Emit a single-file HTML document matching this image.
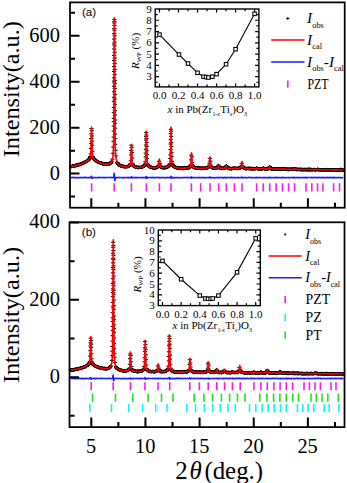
<!DOCTYPE html>
<html><head><meta charset="utf-8"><style>html,body{margin:0;padding:0;background:#fff;overflow:hidden}svg{display:block}</style></head>
<body><svg width="347" height="483" viewBox="0 0 347 483">
<rect width="347" height="483" fill="#fff"/>
<path d="M69.0 166.6h3.6m-1.8-1.4v2.8M69.1 166.8h3.6m-1.8-1.4v2.8M69.2 166.3h3.6m-1.8-1.4v2.8M69.3 166.7h3.6m-1.8-1.4v2.8M69.4 166.4h3.6m-1.8-1.4v2.8M69.5 166.4h3.6m-1.8-1.4v2.8M69.6 166.9h3.6m-1.8-1.4v2.8M69.7 166.5h3.6m-1.8-1.4v2.8M69.8 166.4h3.6m-1.8-1.4v2.8M69.9 166.6h3.6m-1.8-1.4v2.8M70.0 166.6h3.6m-1.8-1.4v2.8M70.1 166.3h3.6m-1.8-1.4v2.8M70.2 166.5h3.6m-1.8-1.4v2.8M70.3 166.1h3.6m-1.8-1.4v2.8M70.4 166.2h3.6m-1.8-1.4v2.8M70.5 166.2h3.6m-1.8-1.4v2.8M70.6 165.9h3.6m-1.8-1.4v2.8M70.7 165.9h3.6m-1.8-1.4v2.8M70.8 165.8h3.6m-1.8-1.4v2.8M70.9 166.1h3.6m-1.8-1.4v2.8M71.0 166.1h3.6m-1.8-1.4v2.8M71.1 166.1h3.6m-1.8-1.4v2.8M71.2 166.2h3.6m-1.8-1.4v2.8M71.3 165.8h3.6m-1.8-1.4v2.8M71.4 166.1h3.6m-1.8-1.4v2.8M71.5 166.2h3.6m-1.8-1.4v2.8M71.6 166.3h3.6m-1.8-1.4v2.8M71.7 165.8h3.6m-1.8-1.4v2.8M71.8 165.9h3.6m-1.8-1.4v2.8M71.9 165.5h3.6m-1.8-1.4v2.8M72.0 165.9h3.6m-1.8-1.4v2.8M72.1 165.4h3.6m-1.8-1.4v2.8M72.2 165.6h3.6m-1.8-1.4v2.8M72.3 166.2h3.6m-1.8-1.4v2.8M72.4 165.4h3.6m-1.8-1.4v2.8M72.5 166.1h3.6m-1.8-1.4v2.8M72.6 166.0h3.6m-1.8-1.4v2.8M72.7 165.8h3.6m-1.8-1.4v2.8M72.8 165.9h3.6m-1.8-1.4v2.8M72.9 165.9h3.6m-1.8-1.4v2.8M73.0 166.0h3.6m-1.8-1.4v2.8M73.1 165.7h3.6m-1.8-1.4v2.8M73.2 165.6h3.6m-1.8-1.4v2.8M73.3 165.6h3.6m-1.8-1.4v2.8M73.4 165.5h3.6m-1.8-1.4v2.8M73.5 165.7h3.6m-1.8-1.4v2.8M73.6 165.5h3.6m-1.8-1.4v2.8M73.7 165.9h3.6m-1.8-1.4v2.8M73.8 165.1h3.6m-1.8-1.4v2.8M73.9 165.3h3.6m-1.8-1.4v2.8M74.0 165.3h3.6m-1.8-1.4v2.8M74.1 165.0h3.6m-1.8-1.4v2.8M74.2 166.0h3.6m-1.8-1.4v2.8M74.3 164.9h3.6m-1.8-1.4v2.8M74.4 165.4h3.6m-1.8-1.4v2.8M74.5 165.3h3.6m-1.8-1.4v2.8M74.6 165.8h3.6m-1.8-1.4v2.8M74.7 164.9h3.6m-1.8-1.4v2.8M74.8 165.6h3.6m-1.8-1.4v2.8M74.9 165.2h3.6m-1.8-1.4v2.8M75.0 165.3h3.6m-1.8-1.4v2.8M75.1 165.1h3.6m-1.8-1.4v2.8M75.2 165.4h3.6m-1.8-1.4v2.8M75.3 164.9h3.6m-1.8-1.4v2.8M75.4 165.2h3.6m-1.8-1.4v2.8M75.5 165.3h3.6m-1.8-1.4v2.8M75.6 165.6h3.6m-1.8-1.4v2.8M75.7 164.5h3.6m-1.8-1.4v2.8M75.8 165.5h3.6m-1.8-1.4v2.8M75.9 165.3h3.6m-1.8-1.4v2.8M76.0 164.9h3.6m-1.8-1.4v2.8M76.1 165.1h3.6m-1.8-1.4v2.8M76.2 164.9h3.6m-1.8-1.4v2.8M76.3 165.4h3.6m-1.8-1.4v2.8M76.4 165.0h3.6m-1.8-1.4v2.8M76.5 164.8h3.6m-1.8-1.4v2.8M76.6 164.8h3.6m-1.8-1.4v2.8M76.7 164.8h3.6m-1.8-1.4v2.8M76.8 164.8h3.6m-1.8-1.4v2.8M76.9 164.6h3.6m-1.8-1.4v2.8M77.0 165.3h3.6m-1.8-1.4v2.8M77.1 164.2h3.6m-1.8-1.4v2.8M77.2 163.8h3.6m-1.8-1.4v2.8M77.3 164.6h3.6m-1.8-1.4v2.8M77.4 164.6h3.6m-1.8-1.4v2.8M77.5 164.7h3.6m-1.8-1.4v2.8M77.6 164.5h3.6m-1.8-1.4v2.8M77.7 164.5h3.6m-1.8-1.4v2.8M77.8 164.6h3.6m-1.8-1.4v2.8M77.9 164.7h3.6m-1.8-1.4v2.8M78.0 164.3h3.6m-1.8-1.4v2.8M78.1 164.3h3.6m-1.8-1.4v2.8M78.2 164.8h3.6m-1.8-1.4v2.8M78.3 164.5h3.6m-1.8-1.4v2.8M78.4 164.0h3.6m-1.8-1.4v2.8M78.5 164.8h3.6m-1.8-1.4v2.8M78.6 164.4h3.6m-1.8-1.4v2.8M78.7 164.0h3.6m-1.8-1.4v2.8M78.8 163.9h3.6m-1.8-1.4v2.8M78.9 164.2h3.6m-1.8-1.4v2.8M79.0 163.9h3.6m-1.8-1.4v2.8M79.1 163.8h3.6m-1.8-1.4v2.8M79.2 163.7h3.6m-1.8-1.4v2.8M79.3 163.8h3.6m-1.8-1.4v2.8M79.4 164.2h3.6m-1.8-1.4v2.8M79.5 163.8h3.6m-1.8-1.4v2.8M79.6 163.5h3.6m-1.8-1.4v2.8M79.7 164.0h3.6m-1.8-1.4v2.8M79.8 163.8h3.6m-1.8-1.4v2.8M79.9 163.9h3.6m-1.8-1.4v2.8M80.0 164.0h3.6m-1.8-1.4v2.8M80.1 163.6h3.6m-1.8-1.4v2.8M80.2 163.6h3.6m-1.8-1.4v2.8M80.3 163.6h3.6m-1.8-1.4v2.8M80.4 163.3h3.6m-1.8-1.4v2.8M80.5 163.7h3.6m-1.8-1.4v2.8M80.6 163.8h3.6m-1.8-1.4v2.8M80.7 163.5h3.6m-1.8-1.4v2.8M80.8 163.3h3.6m-1.8-1.4v2.8M80.9 163.3h3.6m-1.8-1.4v2.8M81.0 163.1h3.6m-1.8-1.4v2.8M81.1 163.0h3.6m-1.8-1.4v2.8M81.2 163.1h3.6m-1.8-1.4v2.8M81.3 162.9h3.6m-1.8-1.4v2.8M81.4 163.0h3.6m-1.8-1.4v2.8M81.5 162.7h3.6m-1.8-1.4v2.8M81.6 163.1h3.6m-1.8-1.4v2.8M81.7 163.0h3.6m-1.8-1.4v2.8M81.8 162.6h3.6m-1.8-1.4v2.8M81.9 162.3h3.6m-1.8-1.4v2.8M82.0 162.8h3.6m-1.8-1.4v2.8M82.1 163.1h3.6m-1.8-1.4v2.8M82.2 162.5h3.6m-1.8-1.4v2.8M82.3 162.6h3.6m-1.8-1.4v2.8M82.4 162.5h3.6m-1.8-1.4v2.8M82.5 162.7h3.6m-1.8-1.4v2.8M82.6 162.3h3.6m-1.8-1.4v2.8M82.7 162.7h3.6m-1.8-1.4v2.8M82.8 162.4h3.6m-1.8-1.4v2.8M82.9 162.6h3.6m-1.8-1.4v2.8M83.0 162.3h3.6m-1.8-1.4v2.8M83.1 162.2h3.6m-1.8-1.4v2.8M83.2 161.9h3.6m-1.8-1.4v2.8M83.3 162.0h3.6m-1.8-1.4v2.8M83.4 162.0h3.6m-1.8-1.4v2.8M83.5 162.2h3.6m-1.8-1.4v2.8M83.6 162.1h3.6m-1.8-1.4v2.8M83.7 161.8h3.6m-1.8-1.4v2.8M83.8 162.0h3.6m-1.8-1.4v2.8M83.9 162.1h3.6m-1.8-1.4v2.8M84.0 161.7h3.6m-1.8-1.4v2.8M84.1 161.6h3.6m-1.8-1.4v2.8M84.2 161.6h3.6m-1.8-1.4v2.8M84.3 161.8h3.6m-1.8-1.4v2.8M84.4 161.7h3.6m-1.8-1.4v2.8M84.5 161.2h3.6m-1.8-1.4v2.8M84.6 161.5h3.6m-1.8-1.4v2.8M84.7 161.2h3.6m-1.8-1.4v2.8M84.8 161.1h3.6m-1.8-1.4v2.8M84.9 161.5h3.6m-1.8-1.4v2.8M85.0 161.4h3.6m-1.8-1.4v2.8M85.1 160.9h3.6m-1.8-1.4v2.8M85.2 161.0h3.6m-1.8-1.4v2.8M85.3 161.1h3.6m-1.8-1.4v2.8M85.4 160.7h3.6m-1.8-1.4v2.8M85.5 160.8h3.6m-1.8-1.4v2.8M85.6 160.9h3.6m-1.8-1.4v2.8M85.7 160.2h3.6m-1.8-1.4v2.8M85.8 160.7h3.6m-1.8-1.4v2.8M85.9 160.7h3.6m-1.8-1.4v2.8M86.0 160.6h3.6m-1.8-1.4v2.8M86.1 160.0h3.6m-1.8-1.4v2.8M86.2 160.4h3.6m-1.8-1.4v2.8M86.3 160.0h3.6m-1.8-1.4v2.8M86.4 160.3h3.6m-1.8-1.4v2.8M86.5 160.2h3.6m-1.8-1.4v2.8M86.6 160.0h3.6m-1.8-1.4v2.8M86.7 159.7h3.6m-1.8-1.4v2.8M86.8 159.6h3.6m-1.8-1.4v2.8M86.9 159.9h3.6m-1.8-1.4v2.8M87.0 159.3h3.6m-1.8-1.4v2.8M87.1 159.6h3.6m-1.8-1.4v2.8M87.2 159.5h3.6m-1.8-1.4v2.8M87.3 159.2h3.6m-1.8-1.4v2.8M87.4 159.7h3.6m-1.8-1.4v2.8M87.5 159.0h3.6m-1.8-1.4v2.8M87.6 159.4h3.6m-1.8-1.4v2.8M87.7 158.2h3.6m-1.8-1.4v2.8M87.8 158.0h3.6m-1.8-1.4v2.8M87.9 158.6h3.6m-1.8-1.4v2.8M88.0 158.3h3.6m-1.8-1.4v2.8M88.1 157.9h3.6m-1.8-1.4v2.8M88.2 157.7h3.6m-1.8-1.4v2.8M88.3 157.0h3.6m-1.8-1.4v2.8M88.4 157.1h3.6m-1.8-1.4v2.8M88.5 156.6h3.6m-1.8-1.4v2.8M88.6 156.5h3.6m-1.8-1.4v2.8M91.0 156.7h3.6m-1.8-1.4v2.8M91.1 156.9h3.6m-1.8-1.4v2.8M91.2 157.3h3.6m-1.8-1.4v2.8M91.3 157.3h3.6m-1.8-1.4v2.8M91.4 157.6h3.6m-1.8-1.4v2.8M91.5 158.0h3.6m-1.8-1.4v2.8M91.6 158.1h3.6m-1.8-1.4v2.8M91.7 158.6h3.6m-1.8-1.4v2.8M91.8 158.3h3.6m-1.8-1.4v2.8M91.9 159.1h3.6m-1.8-1.4v2.8M92.0 158.5h3.6m-1.8-1.4v2.8M92.1 159.2h3.6m-1.8-1.4v2.8M92.2 158.8h3.6m-1.8-1.4v2.8M92.3 159.5h3.6m-1.8-1.4v2.8M92.4 159.3h3.6m-1.8-1.4v2.8M92.5 159.5h3.6m-1.8-1.4v2.8M92.6 159.6h3.6m-1.8-1.4v2.8M92.7 159.4h3.6m-1.8-1.4v2.8M92.8 159.4h3.6m-1.8-1.4v2.8M92.9 159.2h3.6m-1.8-1.4v2.8M93.0 160.1h3.6m-1.8-1.4v2.8M93.1 159.7h3.6m-1.8-1.4v2.8M93.2 159.9h3.6m-1.8-1.4v2.8M93.3 160.1h3.6m-1.8-1.4v2.8M93.4 160.7h3.6m-1.8-1.4v2.8M93.5 159.8h3.6m-1.8-1.4v2.8M93.6 160.4h3.6m-1.8-1.4v2.8M93.7 160.3h3.6m-1.8-1.4v2.8M93.8 160.6h3.6m-1.8-1.4v2.8M93.9 160.1h3.6m-1.8-1.4v2.8M94.0 160.5h3.6m-1.8-1.4v2.8M94.1 160.9h3.6m-1.8-1.4v2.8M94.2 161.1h3.6m-1.8-1.4v2.8M94.3 161.2h3.6m-1.8-1.4v2.8M94.4 160.7h3.6m-1.8-1.4v2.8M94.5 160.9h3.6m-1.8-1.4v2.8M94.6 161.0h3.6m-1.8-1.4v2.8M94.7 160.7h3.6m-1.8-1.4v2.8M94.8 160.8h3.6m-1.8-1.4v2.8M94.9 161.4h3.6m-1.8-1.4v2.8M95.0 161.3h3.6m-1.8-1.4v2.8M95.1 161.3h3.6m-1.8-1.4v2.8M95.2 161.7h3.6m-1.8-1.4v2.8M95.3 161.2h3.6m-1.8-1.4v2.8M95.4 161.6h3.6m-1.8-1.4v2.8M95.5 161.5h3.6m-1.8-1.4v2.8M95.6 161.6h3.6m-1.8-1.4v2.8M95.7 161.8h3.6m-1.8-1.4v2.8M95.8 161.7h3.6m-1.8-1.4v2.8M95.9 161.8h3.6m-1.8-1.4v2.8M96.0 161.9h3.6m-1.8-1.4v2.8M96.1 162.3h3.6m-1.8-1.4v2.8M96.2 161.8h3.6m-1.8-1.4v2.8M96.3 162.2h3.6m-1.8-1.4v2.8M96.4 162.1h3.6m-1.8-1.4v2.8M96.5 162.0h3.6m-1.8-1.4v2.8M96.6 162.3h3.6m-1.8-1.4v2.8M96.7 161.9h3.6m-1.8-1.4v2.8M96.8 162.5h3.6m-1.8-1.4v2.8M96.9 162.0h3.6m-1.8-1.4v2.8M97.0 162.2h3.6m-1.8-1.4v2.8M97.1 162.4h3.6m-1.8-1.4v2.8M97.2 162.6h3.6m-1.8-1.4v2.8M97.3 162.6h3.6m-1.8-1.4v2.8M97.4 162.7h3.6m-1.8-1.4v2.8M97.5 162.4h3.6m-1.8-1.4v2.8M97.6 162.3h3.6m-1.8-1.4v2.8M97.7 162.7h3.6m-1.8-1.4v2.8M97.8 162.7h3.6m-1.8-1.4v2.8M97.9 162.4h3.6m-1.8-1.4v2.8M98.0 162.9h3.6m-1.8-1.4v2.8M98.1 162.8h3.6m-1.8-1.4v2.8M98.2 162.5h3.6m-1.8-1.4v2.8M98.3 162.9h3.6m-1.8-1.4v2.8M98.4 162.5h3.6m-1.8-1.4v2.8M98.5 162.7h3.6m-1.8-1.4v2.8M98.6 163.0h3.6m-1.8-1.4v2.8M98.7 162.6h3.6m-1.8-1.4v2.8M98.8 163.0h3.6m-1.8-1.4v2.8M98.9 162.7h3.6m-1.8-1.4v2.8M99.0 163.3h3.6m-1.8-1.4v2.8M99.1 162.9h3.6m-1.8-1.4v2.8M99.2 163.2h3.6m-1.8-1.4v2.8M99.3 162.8h3.6m-1.8-1.4v2.8M99.4 163.1h3.6m-1.8-1.4v2.8M99.5 163.5h3.6m-1.8-1.4v2.8M99.6 163.4h3.6m-1.8-1.4v2.8M99.7 162.8h3.6m-1.8-1.4v2.8M99.8 163.6h3.6m-1.8-1.4v2.8M99.9 163.6h3.6m-1.8-1.4v2.8M100.0 163.3h3.6m-1.8-1.4v2.8M100.1 163.8h3.6m-1.8-1.4v2.8M100.2 163.2h3.6m-1.8-1.4v2.8M100.3 163.5h3.6m-1.8-1.4v2.8M100.4 163.8h3.6m-1.8-1.4v2.8M100.5 163.9h3.6m-1.8-1.4v2.8M100.6 163.9h3.6m-1.8-1.4v2.8M100.7 163.3h3.6m-1.8-1.4v2.8M100.8 163.2h3.6m-1.8-1.4v2.8M100.9 163.7h3.6m-1.8-1.4v2.8M101.0 163.3h3.6m-1.8-1.4v2.8M101.1 163.7h3.6m-1.8-1.4v2.8M101.2 163.4h3.6m-1.8-1.4v2.8M101.3 164.0h3.6m-1.8-1.4v2.8M101.4 164.0h3.6m-1.8-1.4v2.8M101.5 163.9h3.6m-1.8-1.4v2.8M101.6 163.8h3.6m-1.8-1.4v2.8M101.7 163.8h3.6m-1.8-1.4v2.8M101.8 163.8h3.6m-1.8-1.4v2.8M101.9 164.0h3.6m-1.8-1.4v2.8M102.0 164.0h3.6m-1.8-1.4v2.8M102.1 164.0h3.6m-1.8-1.4v2.8M102.2 163.8h3.6m-1.8-1.4v2.8M102.3 164.4h3.6m-1.8-1.4v2.8M102.4 164.0h3.6m-1.8-1.4v2.8M102.5 164.3h3.6m-1.8-1.4v2.8M102.6 164.3h3.6m-1.8-1.4v2.8M102.7 163.8h3.6m-1.8-1.4v2.8M102.8 163.6h3.6m-1.8-1.4v2.8M102.9 164.4h3.6m-1.8-1.4v2.8M103.0 164.0h3.6m-1.8-1.4v2.8M103.1 164.1h3.6m-1.8-1.4v2.8M103.2 164.0h3.6m-1.8-1.4v2.8M103.3 164.1h3.6m-1.8-1.4v2.8M103.4 163.8h3.6m-1.8-1.4v2.8M103.5 164.1h3.6m-1.8-1.4v2.8M103.6 164.0h3.6m-1.8-1.4v2.8M103.7 164.1h3.6m-1.8-1.4v2.8M103.8 163.6h3.6m-1.8-1.4v2.8M103.9 164.4h3.6m-1.8-1.4v2.8M104.0 164.2h3.6m-1.8-1.4v2.8M104.1 163.7h3.6m-1.8-1.4v2.8M104.2 164.0h3.6m-1.8-1.4v2.8M104.3 164.2h3.6m-1.8-1.4v2.8M104.4 164.3h3.6m-1.8-1.4v2.8M104.5 164.2h3.6m-1.8-1.4v2.8M104.6 164.5h3.6m-1.8-1.4v2.8M104.7 164.2h3.6m-1.8-1.4v2.8M104.8 163.9h3.6m-1.8-1.4v2.8M104.9 164.0h3.6m-1.8-1.4v2.8M105.0 164.4h3.6m-1.8-1.4v2.8M105.1 164.0h3.6m-1.8-1.4v2.8M105.2 164.4h3.6m-1.8-1.4v2.8M105.3 164.4h3.6m-1.8-1.4v2.8M105.4 164.3h3.6m-1.8-1.4v2.8M105.5 164.4h3.6m-1.8-1.4v2.8M105.6 164.1h3.6m-1.8-1.4v2.8M105.7 164.2h3.6m-1.8-1.4v2.8M105.8 164.0h3.6m-1.8-1.4v2.8M105.9 164.0h3.6m-1.8-1.4v2.8M106.0 163.7h3.6m-1.8-1.4v2.8M106.1 164.0h3.6m-1.8-1.4v2.8M106.2 163.8h3.6m-1.8-1.4v2.8M106.3 163.7h3.6m-1.8-1.4v2.8M106.4 164.1h3.6m-1.8-1.4v2.8M106.5 164.2h3.6m-1.8-1.4v2.8M106.6 164.0h3.6m-1.8-1.4v2.8M106.7 164.4h3.6m-1.8-1.4v2.8M106.8 164.2h3.6m-1.8-1.4v2.8M106.9 164.2h3.6m-1.8-1.4v2.8M107.0 163.8h3.6m-1.8-1.4v2.8M107.1 163.5h3.6m-1.8-1.4v2.8M107.2 164.0h3.6m-1.8-1.4v2.8M107.3 163.9h3.6m-1.8-1.4v2.8M107.4 164.0h3.6m-1.8-1.4v2.8M107.5 163.9h3.6m-1.8-1.4v2.8M107.6 164.1h3.6m-1.8-1.4v2.8M107.7 163.6h3.6m-1.8-1.4v2.8M107.8 163.8h3.6m-1.8-1.4v2.8M107.9 163.4h3.6m-1.8-1.4v2.8M108.0 163.0h3.6m-1.8-1.4v2.8M108.1 163.4h3.6m-1.8-1.4v2.8M108.2 163.9h3.6m-1.8-1.4v2.8M108.3 163.0h3.6m-1.8-1.4v2.8M108.4 163.6h3.6m-1.8-1.4v2.8M108.5 163.1h3.6m-1.8-1.4v2.8M108.6 163.1h3.6m-1.8-1.4v2.8M108.7 163.2h3.6m-1.8-1.4v2.8M108.8 163.1h3.6m-1.8-1.4v2.8M108.9 162.7h3.6m-1.8-1.4v2.8M109.0 162.9h3.6m-1.8-1.4v2.8M109.1 162.9h3.6m-1.8-1.4v2.8M109.2 162.9h3.6m-1.8-1.4v2.8M109.3 162.4h3.6m-1.8-1.4v2.8M109.4 162.8h3.6m-1.8-1.4v2.8M109.5 162.8h3.6m-1.8-1.4v2.8M109.6 162.8h3.6m-1.8-1.4v2.8M109.7 161.7h3.6m-1.8-1.4v2.8M109.8 161.9h3.6m-1.8-1.4v2.8M109.9 161.2h3.6m-1.8-1.4v2.8M115.3 162.4h3.6m-1.8-1.4v2.8M115.4 162.7h3.6m-1.8-1.4v2.8M115.5 162.5h3.6m-1.8-1.4v2.8M115.6 162.5h3.6m-1.8-1.4v2.8M115.7 163.1h3.6m-1.8-1.4v2.8M115.8 163.4h3.6m-1.8-1.4v2.8M115.9 163.2h3.6m-1.8-1.4v2.8M116.0 163.5h3.6m-1.8-1.4v2.8M116.1 163.1h3.6m-1.8-1.4v2.8M116.2 163.6h3.6m-1.8-1.4v2.8M116.3 164.0h3.6m-1.8-1.4v2.8M116.4 164.1h3.6m-1.8-1.4v2.8M116.5 164.5h3.6m-1.8-1.4v2.8M116.6 164.0h3.6m-1.8-1.4v2.8M116.7 163.8h3.6m-1.8-1.4v2.8M116.8 164.6h3.6m-1.8-1.4v2.8M116.9 164.4h3.6m-1.8-1.4v2.8M117.0 164.7h3.6m-1.8-1.4v2.8M117.1 164.9h3.6m-1.8-1.4v2.8M117.2 164.9h3.6m-1.8-1.4v2.8M117.3 165.2h3.6m-1.8-1.4v2.8M117.4 165.3h3.6m-1.8-1.4v2.8M117.5 164.6h3.6m-1.8-1.4v2.8M117.6 165.0h3.6m-1.8-1.4v2.8M117.7 165.6h3.6m-1.8-1.4v2.8M117.8 165.1h3.6m-1.8-1.4v2.8M117.9 165.5h3.6m-1.8-1.4v2.8M118.0 165.3h3.6m-1.8-1.4v2.8M118.1 165.2h3.6m-1.8-1.4v2.8M118.2 165.8h3.6m-1.8-1.4v2.8M118.3 165.7h3.6m-1.8-1.4v2.8M118.4 165.4h3.6m-1.8-1.4v2.8M118.5 165.8h3.6m-1.8-1.4v2.8M118.6 165.3h3.6m-1.8-1.4v2.8M118.7 165.5h3.6m-1.8-1.4v2.8M118.8 165.9h3.6m-1.8-1.4v2.8M118.9 165.7h3.6m-1.8-1.4v2.8M119.0 165.5h3.6m-1.8-1.4v2.8M119.1 165.9h3.6m-1.8-1.4v2.8M119.2 165.9h3.6m-1.8-1.4v2.8M119.3 166.2h3.6m-1.8-1.4v2.8M119.4 166.2h3.6m-1.8-1.4v2.8M119.5 165.9h3.6m-1.8-1.4v2.8M119.6 165.9h3.6m-1.8-1.4v2.8M119.7 166.0h3.6m-1.8-1.4v2.8M119.8 166.0h3.6m-1.8-1.4v2.8M119.9 166.4h3.6m-1.8-1.4v2.8M120.0 166.5h3.6m-1.8-1.4v2.8M120.1 166.5h3.6m-1.8-1.4v2.8M120.2 166.3h3.6m-1.8-1.4v2.8M120.3 166.1h3.6m-1.8-1.4v2.8M120.4 166.5h3.6m-1.8-1.4v2.8M120.5 166.2h3.6m-1.8-1.4v2.8M120.6 166.3h3.6m-1.8-1.4v2.8M120.7 165.9h3.6m-1.8-1.4v2.8M120.8 166.2h3.6m-1.8-1.4v2.8M120.9 166.7h3.6m-1.8-1.4v2.8M121.0 166.1h3.6m-1.8-1.4v2.8M121.1 166.0h3.6m-1.8-1.4v2.8M121.2 166.4h3.6m-1.8-1.4v2.8M121.3 166.9h3.6m-1.8-1.4v2.8M121.4 166.8h3.6m-1.8-1.4v2.8M121.5 166.4h3.6m-1.8-1.4v2.8M121.6 166.4h3.6m-1.8-1.4v2.8M121.7 166.5h3.6m-1.8-1.4v2.8M121.8 166.3h3.6m-1.8-1.4v2.8M121.9 166.5h3.6m-1.8-1.4v2.8M122.0 166.5h3.6m-1.8-1.4v2.8M122.1 166.2h3.6m-1.8-1.4v2.8M122.2 166.4h3.6m-1.8-1.4v2.8M122.3 166.5h3.6m-1.8-1.4v2.8M122.4 166.4h3.6m-1.8-1.4v2.8M122.5 166.3h3.6m-1.8-1.4v2.8M122.6 166.9h3.6m-1.8-1.4v2.8M122.7 167.1h3.6m-1.8-1.4v2.8M122.8 166.6h3.6m-1.8-1.4v2.8M122.9 166.6h3.6m-1.8-1.4v2.8M123.0 166.8h3.6m-1.8-1.4v2.8M123.1 166.6h3.6m-1.8-1.4v2.8M123.2 166.5h3.6m-1.8-1.4v2.8M123.3 167.0h3.6m-1.8-1.4v2.8M123.4 166.4h3.6m-1.8-1.4v2.8M123.5 166.5h3.6m-1.8-1.4v2.8M123.6 166.5h3.6m-1.8-1.4v2.8M123.7 166.5h3.6m-1.8-1.4v2.8M123.8 166.6h3.6m-1.8-1.4v2.8M123.9 166.9h3.6m-1.8-1.4v2.8M124.0 167.1h3.6m-1.8-1.4v2.8M124.1 166.9h3.6m-1.8-1.4v2.8M124.2 166.7h3.6m-1.8-1.4v2.8M124.3 166.4h3.6m-1.8-1.4v2.8M124.4 166.7h3.6m-1.8-1.4v2.8M124.5 166.5h3.6m-1.8-1.4v2.8M124.6 166.7h3.6m-1.8-1.4v2.8M124.7 166.9h3.6m-1.8-1.4v2.8M124.8 166.7h3.6m-1.8-1.4v2.8M124.9 166.6h3.6m-1.8-1.4v2.8M125.0 166.5h3.6m-1.8-1.4v2.8M125.1 166.6h3.6m-1.8-1.4v2.8M125.2 166.7h3.6m-1.8-1.4v2.8M125.3 166.4h3.6m-1.8-1.4v2.8M125.4 166.5h3.6m-1.8-1.4v2.8M125.5 166.8h3.6m-1.8-1.4v2.8M125.6 166.2h3.6m-1.8-1.4v2.8M125.7 166.5h3.6m-1.8-1.4v2.8M125.8 166.3h3.6m-1.8-1.4v2.8M125.9 166.9h3.6m-1.8-1.4v2.8M126.0 166.7h3.6m-1.8-1.4v2.8M126.1 166.6h3.6m-1.8-1.4v2.8M126.2 166.6h3.6m-1.8-1.4v2.8M126.3 166.5h3.6m-1.8-1.4v2.8M126.4 166.5h3.6m-1.8-1.4v2.8M126.5 166.0h3.6m-1.8-1.4v2.8M126.6 166.4h3.6m-1.8-1.4v2.8M126.7 166.4h3.6m-1.8-1.4v2.8M126.8 165.9h3.6m-1.8-1.4v2.8M126.9 166.4h3.6m-1.8-1.4v2.8M127.0 166.3h3.6m-1.8-1.4v2.8M127.1 165.7h3.6m-1.8-1.4v2.8M127.2 165.9h3.6m-1.8-1.4v2.8M127.3 165.9h3.6m-1.8-1.4v2.8M127.4 165.8h3.6m-1.8-1.4v2.8M127.5 166.0h3.6m-1.8-1.4v2.8M127.6 165.5h3.6m-1.8-1.4v2.8M127.7 165.6h3.6m-1.8-1.4v2.8M127.8 165.6h3.6m-1.8-1.4v2.8M127.9 165.7h3.6m-1.8-1.4v2.8M128.0 165.4h3.6m-1.8-1.4v2.8M128.1 165.2h3.6m-1.8-1.4v2.8M128.2 165.2h3.6m-1.8-1.4v2.8M128.3 164.4h3.6m-1.8-1.4v2.8M128.4 164.9h3.6m-1.8-1.4v2.8M128.5 164.4h3.6m-1.8-1.4v2.8M128.6 163.8h3.6m-1.8-1.4v2.8M128.7 163.6h3.6m-1.8-1.4v2.8M130.7 163.4h3.6m-1.8-1.4v2.8M130.8 163.7h3.6m-1.8-1.4v2.8M130.9 164.5h3.6m-1.8-1.4v2.8M131.0 164.6h3.6m-1.8-1.4v2.8M131.1 165.2h3.6m-1.8-1.4v2.8M131.2 165.0h3.6m-1.8-1.4v2.8M131.3 165.1h3.6m-1.8-1.4v2.8M131.4 165.3h3.6m-1.8-1.4v2.8M131.5 166.1h3.6m-1.8-1.4v2.8M131.6 165.8h3.6m-1.8-1.4v2.8M131.7 165.7h3.6m-1.8-1.4v2.8M131.8 165.8h3.6m-1.8-1.4v2.8M131.9 165.8h3.6m-1.8-1.4v2.8M132.0 166.1h3.6m-1.8-1.4v2.8M132.1 166.4h3.6m-1.8-1.4v2.8M132.2 166.6h3.6m-1.8-1.4v2.8M132.3 166.7h3.6m-1.8-1.4v2.8M132.4 166.5h3.6m-1.8-1.4v2.8M132.5 166.3h3.6m-1.8-1.4v2.8M132.6 166.4h3.6m-1.8-1.4v2.8M132.7 166.0h3.6m-1.8-1.4v2.8M132.8 166.4h3.6m-1.8-1.4v2.8M132.9 166.8h3.6m-1.8-1.4v2.8M133.0 166.7h3.6m-1.8-1.4v2.8M133.1 166.9h3.6m-1.8-1.4v2.8M133.2 166.5h3.6m-1.8-1.4v2.8M133.3 167.1h3.6m-1.8-1.4v2.8M133.4 167.0h3.6m-1.8-1.4v2.8M133.5 167.0h3.6m-1.8-1.4v2.8M133.6 167.1h3.6m-1.8-1.4v2.8M133.7 166.5h3.6m-1.8-1.4v2.8M133.8 166.9h3.6m-1.8-1.4v2.8M133.9 166.8h3.6m-1.8-1.4v2.8M134.0 167.5h3.6m-1.8-1.4v2.8M134.1 167.1h3.6m-1.8-1.4v2.8M134.2 167.0h3.6m-1.8-1.4v2.8M134.3 167.4h3.6m-1.8-1.4v2.8M134.4 166.9h3.6m-1.8-1.4v2.8M134.5 167.6h3.6m-1.8-1.4v2.8M134.6 167.1h3.6m-1.8-1.4v2.8M134.7 167.2h3.6m-1.8-1.4v2.8M134.8 167.0h3.6m-1.8-1.4v2.8M134.9 167.5h3.6m-1.8-1.4v2.8M135.0 166.8h3.6m-1.8-1.4v2.8M135.1 167.5h3.6m-1.8-1.4v2.8M135.2 167.1h3.6m-1.8-1.4v2.8M135.3 167.4h3.6m-1.8-1.4v2.8M135.4 167.1h3.6m-1.8-1.4v2.8M135.5 167.4h3.6m-1.8-1.4v2.8M135.6 167.4h3.6m-1.8-1.4v2.8M135.7 167.5h3.6m-1.8-1.4v2.8M135.8 167.5h3.6m-1.8-1.4v2.8M135.9 167.6h3.6m-1.8-1.4v2.8M136.0 167.7h3.6m-1.8-1.4v2.8M136.1 167.3h3.6m-1.8-1.4v2.8M136.2 167.1h3.6m-1.8-1.4v2.8M136.3 167.1h3.6m-1.8-1.4v2.8M136.4 167.6h3.6m-1.8-1.4v2.8M136.5 167.3h3.6m-1.8-1.4v2.8M136.6 167.7h3.6m-1.8-1.4v2.8M136.7 167.5h3.6m-1.8-1.4v2.8M136.8 167.2h3.6m-1.8-1.4v2.8M136.9 167.7h3.6m-1.8-1.4v2.8M137.0 167.9h3.6m-1.8-1.4v2.8M137.1 167.4h3.6m-1.8-1.4v2.8M137.2 167.2h3.6m-1.8-1.4v2.8M137.3 167.2h3.6m-1.8-1.4v2.8M137.4 167.7h3.6m-1.8-1.4v2.8M137.5 167.3h3.6m-1.8-1.4v2.8M137.6 167.3h3.6m-1.8-1.4v2.8M137.7 167.6h3.6m-1.8-1.4v2.8M137.8 167.5h3.6m-1.8-1.4v2.8M137.9 167.5h3.6m-1.8-1.4v2.8M138.0 167.3h3.6m-1.8-1.4v2.8M138.1 167.3h3.6m-1.8-1.4v2.8M138.2 167.5h3.6m-1.8-1.4v2.8M138.3 167.5h3.6m-1.8-1.4v2.8M138.4 167.6h3.6m-1.8-1.4v2.8M138.5 167.3h3.6m-1.8-1.4v2.8M138.6 167.5h3.6m-1.8-1.4v2.8M138.7 167.5h3.6m-1.8-1.4v2.8M138.8 167.4h3.6m-1.8-1.4v2.8M138.9 167.5h3.6m-1.8-1.4v2.8M139.0 167.6h3.6m-1.8-1.4v2.8M139.1 167.4h3.6m-1.8-1.4v2.8M139.2 167.3h3.6m-1.8-1.4v2.8M139.3 167.1h3.6m-1.8-1.4v2.8M139.4 167.4h3.6m-1.8-1.4v2.8M139.5 167.2h3.6m-1.8-1.4v2.8M139.6 167.2h3.6m-1.8-1.4v2.8M139.7 167.0h3.6m-1.8-1.4v2.8M139.8 167.3h3.6m-1.8-1.4v2.8M139.9 167.8h3.6m-1.8-1.4v2.8M140.0 167.3h3.6m-1.8-1.4v2.8M140.1 167.1h3.6m-1.8-1.4v2.8M140.2 167.2h3.6m-1.8-1.4v2.8M140.3 166.9h3.6m-1.8-1.4v2.8M140.4 167.1h3.6m-1.8-1.4v2.8M140.5 166.8h3.6m-1.8-1.4v2.8M140.6 166.8h3.6m-1.8-1.4v2.8M140.7 167.0h3.6m-1.8-1.4v2.8M140.8 166.9h3.6m-1.8-1.4v2.8M140.9 166.8h3.6m-1.8-1.4v2.8M141.0 166.6h3.6m-1.8-1.4v2.8M141.1 166.8h3.6m-1.8-1.4v2.8M141.2 166.4h3.6m-1.8-1.4v2.8M141.3 166.8h3.6m-1.8-1.4v2.8M141.4 166.5h3.6m-1.8-1.4v2.8M141.5 166.5h3.6m-1.8-1.4v2.8M141.6 166.6h3.6m-1.8-1.4v2.8M141.7 166.5h3.6m-1.8-1.4v2.8M141.8 166.0h3.6m-1.8-1.4v2.8M141.9 166.2h3.6m-1.8-1.4v2.8M142.0 166.2h3.6m-1.8-1.4v2.8M142.1 165.8h3.6m-1.8-1.4v2.8M142.2 165.3h3.6m-1.8-1.4v2.8M142.3 165.8h3.6m-1.8-1.4v2.8M142.4 165.7h3.6m-1.8-1.4v2.8M142.5 165.7h3.6m-1.8-1.4v2.8M142.6 165.4h3.6m-1.8-1.4v2.8M142.7 165.3h3.6m-1.8-1.4v2.8M142.8 165.1h3.6m-1.8-1.4v2.8M142.9 165.2h3.6m-1.8-1.4v2.8M143.0 164.7h3.6m-1.8-1.4v2.8M143.1 164.5h3.6m-1.8-1.4v2.8M143.2 163.9h3.6m-1.8-1.4v2.8M145.8 164.3h3.6m-1.8-1.4v2.8M145.9 164.3h3.6m-1.8-1.4v2.8M146.0 164.8h3.6m-1.8-1.4v2.8M146.1 164.4h3.6m-1.8-1.4v2.8M146.2 165.2h3.6m-1.8-1.4v2.8M146.3 165.3h3.6m-1.8-1.4v2.8M146.4 165.3h3.6m-1.8-1.4v2.8M146.5 165.9h3.6m-1.8-1.4v2.8M146.6 165.9h3.6m-1.8-1.4v2.8M146.7 165.8h3.6m-1.8-1.4v2.8M146.8 165.9h3.6m-1.8-1.4v2.8M146.9 166.6h3.6m-1.8-1.4v2.8M147.0 166.4h3.6m-1.8-1.4v2.8M147.1 166.4h3.6m-1.8-1.4v2.8M147.2 166.2h3.6m-1.8-1.4v2.8M147.3 166.8h3.6m-1.8-1.4v2.8M147.4 166.7h3.6m-1.8-1.4v2.8M147.5 166.5h3.6m-1.8-1.4v2.8M147.6 166.6h3.6m-1.8-1.4v2.8M147.7 166.3h3.6m-1.8-1.4v2.8M147.8 166.9h3.6m-1.8-1.4v2.8M147.9 166.5h3.6m-1.8-1.4v2.8M148.0 167.1h3.6m-1.8-1.4v2.8M148.1 166.8h3.6m-1.8-1.4v2.8M148.2 166.8h3.6m-1.8-1.4v2.8M148.3 167.1h3.6m-1.8-1.4v2.8M148.4 167.1h3.6m-1.8-1.4v2.8M148.5 166.8h3.6m-1.8-1.4v2.8M148.6 167.1h3.6m-1.8-1.4v2.8M148.7 167.3h3.6m-1.8-1.4v2.8M148.8 167.1h3.6m-1.8-1.4v2.8M148.9 166.9h3.6m-1.8-1.4v2.8M149.0 167.2h3.6m-1.8-1.4v2.8M149.1 167.1h3.6m-1.8-1.4v2.8M149.2 167.2h3.6m-1.8-1.4v2.8M149.3 167.4h3.6m-1.8-1.4v2.8M149.4 167.4h3.6m-1.8-1.4v2.8M149.5 167.3h3.6m-1.8-1.4v2.8M149.6 167.0h3.6m-1.8-1.4v2.8M149.7 167.5h3.6m-1.8-1.4v2.8M149.8 167.4h3.6m-1.8-1.4v2.8M149.9 167.4h3.6m-1.8-1.4v2.8M150.0 167.5h3.6m-1.8-1.4v2.8M150.1 168.0h3.6m-1.8-1.4v2.8M150.2 167.2h3.6m-1.8-1.4v2.8M150.3 167.2h3.6m-1.8-1.4v2.8M150.4 167.8h3.6m-1.8-1.4v2.8M150.5 167.4h3.6m-1.8-1.4v2.8M150.6 167.9h3.6m-1.8-1.4v2.8M150.7 167.4h3.6m-1.8-1.4v2.8M150.8 167.5h3.6m-1.8-1.4v2.8M150.9 167.8h3.6m-1.8-1.4v2.8M151.0 167.9h3.6m-1.8-1.4v2.8M151.1 167.8h3.6m-1.8-1.4v2.8M151.2 167.8h3.6m-1.8-1.4v2.8M151.3 167.6h3.6m-1.8-1.4v2.8M151.4 167.6h3.6m-1.8-1.4v2.8M151.5 167.6h3.6m-1.8-1.4v2.8M151.6 168.0h3.6m-1.8-1.4v2.8M151.7 167.9h3.6m-1.8-1.4v2.8M151.8 167.7h3.6m-1.8-1.4v2.8M151.9 167.8h3.6m-1.8-1.4v2.8M152.0 167.9h3.6m-1.8-1.4v2.8M152.1 168.0h3.6m-1.8-1.4v2.8M152.2 167.7h3.6m-1.8-1.4v2.8M152.3 167.7h3.6m-1.8-1.4v2.8M152.4 167.8h3.6m-1.8-1.4v2.8M152.5 168.4h3.6m-1.8-1.4v2.8M152.6 167.8h3.6m-1.8-1.4v2.8M152.7 168.0h3.6m-1.8-1.4v2.8M152.8 167.3h3.6m-1.8-1.4v2.8M152.9 167.9h3.6m-1.8-1.4v2.8M153.0 167.4h3.6m-1.8-1.4v2.8M153.1 167.4h3.6m-1.8-1.4v2.8M153.2 167.5h3.6m-1.8-1.4v2.8M153.3 167.7h3.6m-1.8-1.4v2.8M153.4 167.7h3.6m-1.8-1.4v2.8M153.5 167.8h3.6m-1.8-1.4v2.8M153.6 167.7h3.6m-1.8-1.4v2.8M153.7 167.5h3.6m-1.8-1.4v2.8M153.8 168.3h3.6m-1.8-1.4v2.8M153.9 167.7h3.6m-1.8-1.4v2.8M154.0 167.8h3.6m-1.8-1.4v2.8M154.1 168.1h3.6m-1.8-1.4v2.8M154.2 167.8h3.6m-1.8-1.4v2.8M154.3 167.7h3.6m-1.8-1.4v2.8M154.4 167.6h3.6m-1.8-1.4v2.8M154.5 168.0h3.6m-1.8-1.4v2.8M154.6 167.3h3.6m-1.8-1.4v2.8M154.7 167.3h3.6m-1.8-1.4v2.8M154.8 167.5h3.6m-1.8-1.4v2.8M154.9 167.0h3.6m-1.8-1.4v2.8M155.0 167.2h3.6m-1.8-1.4v2.8M155.1 167.7h3.6m-1.8-1.4v2.8M155.2 167.3h3.6m-1.8-1.4v2.8M155.3 167.4h3.6m-1.8-1.4v2.8M155.4 167.5h3.6m-1.8-1.4v2.8M155.5 167.0h3.6m-1.8-1.4v2.8M155.6 167.3h3.6m-1.8-1.4v2.8M155.7 167.0h3.6m-1.8-1.4v2.8M155.8 166.8h3.6m-1.8-1.4v2.8M155.9 167.0h3.6m-1.8-1.4v2.8M156.0 167.0h3.6m-1.8-1.4v2.8M156.1 166.8h3.6m-1.8-1.4v2.8M156.2 166.7h3.6m-1.8-1.4v2.8M156.3 167.0h3.6m-1.8-1.4v2.8M156.4 166.9h3.6m-1.8-1.4v2.8M156.5 166.7h3.6m-1.8-1.4v2.8M156.6 166.3h3.6m-1.8-1.4v2.8M156.7 165.9h3.6m-1.8-1.4v2.8M156.8 165.7h3.6m-1.8-1.4v2.8M156.9 165.2h3.6m-1.8-1.4v2.8M157.0 165.0h3.6m-1.8-1.4v2.8M158.2 165.1h3.6m-1.8-1.4v2.8M158.3 165.7h3.6m-1.8-1.4v2.8M158.4 165.9h3.6m-1.8-1.4v2.8M158.5 166.1h3.6m-1.8-1.4v2.8M158.6 166.4h3.6m-1.8-1.4v2.8M158.7 166.5h3.6m-1.8-1.4v2.8M158.8 166.8h3.6m-1.8-1.4v2.8M158.9 167.1h3.6m-1.8-1.4v2.8M159.0 166.7h3.6m-1.8-1.4v2.8M159.1 167.4h3.6m-1.8-1.4v2.8M159.2 166.5h3.6m-1.8-1.4v2.8M159.3 166.6h3.6m-1.8-1.4v2.8M159.4 166.7h3.6m-1.8-1.4v2.8M159.5 166.9h3.6m-1.8-1.4v2.8M159.6 167.1h3.6m-1.8-1.4v2.8M159.7 167.7h3.6m-1.8-1.4v2.8M159.8 167.1h3.6m-1.8-1.4v2.8M159.9 167.6h3.6m-1.8-1.4v2.8M160.0 167.3h3.6m-1.8-1.4v2.8M160.1 167.4h3.6m-1.8-1.4v2.8M160.2 167.1h3.6m-1.8-1.4v2.8M160.3 168.0h3.6m-1.8-1.4v2.8M160.4 167.4h3.6m-1.8-1.4v2.8M160.5 167.3h3.6m-1.8-1.4v2.8M160.6 168.1h3.6m-1.8-1.4v2.8M160.7 167.6h3.6m-1.8-1.4v2.8M160.8 167.6h3.6m-1.8-1.4v2.8M160.9 167.5h3.6m-1.8-1.4v2.8M161.0 167.3h3.6m-1.8-1.4v2.8M161.1 167.2h3.6m-1.8-1.4v2.8M161.2 167.5h3.6m-1.8-1.4v2.8M161.3 168.0h3.6m-1.8-1.4v2.8M161.4 167.7h3.6m-1.8-1.4v2.8M161.5 167.6h3.6m-1.8-1.4v2.8M161.6 167.9h3.6m-1.8-1.4v2.8M161.7 167.4h3.6m-1.8-1.4v2.8M161.8 168.0h3.6m-1.8-1.4v2.8M161.9 167.6h3.6m-1.8-1.4v2.8M162.0 167.4h3.6m-1.8-1.4v2.8M162.1 167.8h3.6m-1.8-1.4v2.8M162.2 167.8h3.6m-1.8-1.4v2.8M162.3 167.5h3.6m-1.8-1.4v2.8M162.4 167.7h3.6m-1.8-1.4v2.8M162.5 167.9h3.6m-1.8-1.4v2.8M162.6 168.0h3.6m-1.8-1.4v2.8M162.7 167.4h3.6m-1.8-1.4v2.8M162.8 167.0h3.6m-1.8-1.4v2.8M162.9 168.1h3.6m-1.8-1.4v2.8M163.0 167.5h3.6m-1.8-1.4v2.8M163.1 167.5h3.6m-1.8-1.4v2.8M163.2 167.7h3.6m-1.8-1.4v2.8M163.3 167.5h3.6m-1.8-1.4v2.8M163.4 167.8h3.6m-1.8-1.4v2.8M163.5 167.2h3.6m-1.8-1.4v2.8M163.6 167.5h3.6m-1.8-1.4v2.8M163.7 167.2h3.6m-1.8-1.4v2.8M163.8 167.9h3.6m-1.8-1.4v2.8M163.9 167.4h3.6m-1.8-1.4v2.8M164.0 167.7h3.6m-1.8-1.4v2.8M164.1 167.8h3.6m-1.8-1.4v2.8M164.2 167.1h3.6m-1.8-1.4v2.8M164.3 167.4h3.6m-1.8-1.4v2.8M164.4 167.6h3.6m-1.8-1.4v2.8M164.5 167.4h3.6m-1.8-1.4v2.8M164.6 167.3h3.6m-1.8-1.4v2.8M164.7 167.5h3.6m-1.8-1.4v2.8M164.8 167.5h3.6m-1.8-1.4v2.8M164.9 167.1h3.6m-1.8-1.4v2.8M165.0 167.2h3.6m-1.8-1.4v2.8M165.1 167.3h3.6m-1.8-1.4v2.8M165.2 167.2h3.6m-1.8-1.4v2.8M165.3 167.1h3.6m-1.8-1.4v2.8M165.4 166.8h3.6m-1.8-1.4v2.8M165.5 167.5h3.6m-1.8-1.4v2.8M165.6 166.9h3.6m-1.8-1.4v2.8M165.7 167.0h3.6m-1.8-1.4v2.8M165.8 166.9h3.6m-1.8-1.4v2.8M165.9 166.8h3.6m-1.8-1.4v2.8M166.0 166.8h3.6m-1.8-1.4v2.8M166.1 166.5h3.6m-1.8-1.4v2.8M166.2 166.7h3.6m-1.8-1.4v2.8M166.3 166.9h3.6m-1.8-1.4v2.8M166.4 166.6h3.6m-1.8-1.4v2.8M166.5 166.6h3.6m-1.8-1.4v2.8M166.6 166.4h3.6m-1.8-1.4v2.8M166.7 166.2h3.6m-1.8-1.4v2.8M166.8 166.6h3.6m-1.8-1.4v2.8M166.9 165.9h3.6m-1.8-1.4v2.8M167.0 166.0h3.6m-1.8-1.4v2.8M167.1 166.0h3.6m-1.8-1.4v2.8M167.2 165.7h3.6m-1.8-1.4v2.8M167.3 165.2h3.6m-1.8-1.4v2.8M167.4 165.0h3.6m-1.8-1.4v2.8M167.5 165.5h3.6m-1.8-1.4v2.8M167.6 164.6h3.6m-1.8-1.4v2.8M167.7 164.6h3.6m-1.8-1.4v2.8M167.8 164.4h3.6m-1.8-1.4v2.8M167.9 163.9h3.6m-1.8-1.4v2.8M170.5 163.5h3.6m-1.8-1.4v2.8M170.6 163.8h3.6m-1.8-1.4v2.8M170.7 164.6h3.6m-1.8-1.4v2.8M170.8 164.7h3.6m-1.8-1.4v2.8M170.9 165.0h3.6m-1.8-1.4v2.8M171.0 165.3h3.6m-1.8-1.4v2.8M171.1 165.5h3.6m-1.8-1.4v2.8M171.2 165.3h3.6m-1.8-1.4v2.8M171.3 165.4h3.6m-1.8-1.4v2.8M171.4 166.2h3.6m-1.8-1.4v2.8M171.5 165.9h3.6m-1.8-1.4v2.8M171.6 165.9h3.6m-1.8-1.4v2.8M171.7 165.8h3.6m-1.8-1.4v2.8M171.8 166.5h3.6m-1.8-1.4v2.8M171.9 166.2h3.6m-1.8-1.4v2.8M172.0 166.3h3.6m-1.8-1.4v2.8M172.1 166.8h3.6m-1.8-1.4v2.8M172.2 166.8h3.6m-1.8-1.4v2.8M172.3 166.9h3.6m-1.8-1.4v2.8M172.4 166.5h3.6m-1.8-1.4v2.8M172.5 166.2h3.6m-1.8-1.4v2.8M172.6 166.7h3.6m-1.8-1.4v2.8M172.7 167.0h3.6m-1.8-1.4v2.8M172.8 166.9h3.6m-1.8-1.4v2.8M172.9 167.4h3.6m-1.8-1.4v2.8M173.0 167.3h3.6m-1.8-1.4v2.8M173.1 167.0h3.6m-1.8-1.4v2.8M173.2 167.4h3.6m-1.8-1.4v2.8M173.3 167.3h3.6m-1.8-1.4v2.8M173.4 167.2h3.6m-1.8-1.4v2.8M173.5 167.7h3.6m-1.8-1.4v2.8M173.6 167.0h3.6m-1.8-1.4v2.8M173.7 167.7h3.6m-1.8-1.4v2.8M173.8 167.8h3.6m-1.8-1.4v2.8M173.9 167.0h3.6m-1.8-1.4v2.8M174.0 167.5h3.6m-1.8-1.4v2.8M174.1 167.5h3.6m-1.8-1.4v2.8M174.2 167.3h3.6m-1.8-1.4v2.8M174.3 167.5h3.6m-1.8-1.4v2.8M174.4 167.4h3.6m-1.8-1.4v2.8M174.5 167.7h3.6m-1.8-1.4v2.8M174.6 167.6h3.6m-1.8-1.4v2.8M174.7 167.2h3.6m-1.8-1.4v2.8M174.8 168.0h3.6m-1.8-1.4v2.8M174.9 168.0h3.6m-1.8-1.4v2.8M175.0 167.6h3.6m-1.8-1.4v2.8M175.1 168.0h3.6m-1.8-1.4v2.8M175.2 168.3h3.6m-1.8-1.4v2.8M175.3 167.4h3.6m-1.8-1.4v2.8M175.4 167.7h3.6m-1.8-1.4v2.8M175.5 167.7h3.6m-1.8-1.4v2.8M175.6 168.0h3.6m-1.8-1.4v2.8M175.7 167.8h3.6m-1.8-1.4v2.8M175.8 167.6h3.6m-1.8-1.4v2.8M175.9 168.2h3.6m-1.8-1.4v2.8M176.0 167.9h3.6m-1.8-1.4v2.8M176.1 168.1h3.6m-1.8-1.4v2.8M176.2 168.5h3.6m-1.8-1.4v2.8M176.3 167.8h3.6m-1.8-1.4v2.8M176.4 167.9h3.6m-1.8-1.4v2.8M176.5 168.2h3.6m-1.8-1.4v2.8M176.6 168.0h3.6m-1.8-1.4v2.8M176.7 168.2h3.6m-1.8-1.4v2.8M176.8 168.0h3.6m-1.8-1.4v2.8M176.9 168.7h3.6m-1.8-1.4v2.8M177.0 168.2h3.6m-1.8-1.4v2.8M177.1 168.1h3.6m-1.8-1.4v2.8M177.2 168.1h3.6m-1.8-1.4v2.8M177.3 168.2h3.6m-1.8-1.4v2.8M177.4 167.7h3.6m-1.8-1.4v2.8M177.5 168.0h3.6m-1.8-1.4v2.8M177.6 168.3h3.6m-1.8-1.4v2.8M177.7 167.8h3.6m-1.8-1.4v2.8M177.8 168.1h3.6m-1.8-1.4v2.8M177.9 168.1h3.6m-1.8-1.4v2.8M178.0 168.0h3.6m-1.8-1.4v2.8M178.1 168.8h3.6m-1.8-1.4v2.8M178.2 168.3h3.6m-1.8-1.4v2.8M178.3 168.2h3.6m-1.8-1.4v2.8M178.4 168.0h3.6m-1.8-1.4v2.8M178.5 168.2h3.6m-1.8-1.4v2.8M178.6 168.1h3.6m-1.8-1.4v2.8M178.7 168.1h3.6m-1.8-1.4v2.8M178.8 168.2h3.6m-1.8-1.4v2.8M178.9 168.8h3.6m-1.8-1.4v2.8M179.0 168.5h3.6m-1.8-1.4v2.8M179.1 168.6h3.6m-1.8-1.4v2.8M179.2 168.5h3.6m-1.8-1.4v2.8M179.3 168.9h3.6m-1.8-1.4v2.8M179.4 168.0h3.6m-1.8-1.4v2.8M179.5 167.9h3.6m-1.8-1.4v2.8M179.6 168.2h3.6m-1.8-1.4v2.8M179.7 168.3h3.6m-1.8-1.4v2.8M179.8 168.2h3.6m-1.8-1.4v2.8M179.9 168.0h3.6m-1.8-1.4v2.8M180.0 168.4h3.6m-1.8-1.4v2.8M180.1 168.6h3.6m-1.8-1.4v2.8M180.2 168.3h3.6m-1.8-1.4v2.8M180.3 168.2h3.6m-1.8-1.4v2.8M180.4 168.5h3.6m-1.8-1.4v2.8M180.5 168.1h3.6m-1.8-1.4v2.8M180.6 168.1h3.6m-1.8-1.4v2.8M180.7 168.3h3.6m-1.8-1.4v2.8M180.8 167.6h3.6m-1.8-1.4v2.8M180.9 168.7h3.6m-1.8-1.4v2.8M181.0 168.2h3.6m-1.8-1.4v2.8M181.1 168.3h3.6m-1.8-1.4v2.8M181.2 168.3h3.6m-1.8-1.4v2.8M181.3 168.3h3.6m-1.8-1.4v2.8M181.4 167.9h3.6m-1.8-1.4v2.8M181.5 168.7h3.6m-1.8-1.4v2.8M181.6 168.4h3.6m-1.8-1.4v2.8M181.7 168.3h3.6m-1.8-1.4v2.8M181.8 169.0h3.6m-1.8-1.4v2.8M181.9 167.9h3.6m-1.8-1.4v2.8M182.0 168.4h3.6m-1.8-1.4v2.8M182.1 168.2h3.6m-1.8-1.4v2.8M182.2 167.8h3.6m-1.8-1.4v2.8M182.3 168.7h3.6m-1.8-1.4v2.8M182.4 167.8h3.6m-1.8-1.4v2.8M182.5 168.2h3.6m-1.8-1.4v2.8M182.6 168.2h3.6m-1.8-1.4v2.8M182.7 168.2h3.6m-1.8-1.4v2.8M182.8 167.9h3.6m-1.8-1.4v2.8M182.9 168.5h3.6m-1.8-1.4v2.8M183.0 168.2h3.6m-1.8-1.4v2.8M183.1 167.8h3.6m-1.8-1.4v2.8M183.2 167.9h3.6m-1.8-1.4v2.8M183.3 168.2h3.6m-1.8-1.4v2.8M183.4 167.9h3.6m-1.8-1.4v2.8M183.5 168.2h3.6m-1.8-1.4v2.8M183.6 168.2h3.6m-1.8-1.4v2.8M183.7 168.0h3.6m-1.8-1.4v2.8M183.8 167.6h3.6m-1.8-1.4v2.8M183.9 167.8h3.6m-1.8-1.4v2.8M184.0 168.2h3.6m-1.8-1.4v2.8M184.1 168.0h3.6m-1.8-1.4v2.8M184.2 168.5h3.6m-1.8-1.4v2.8M184.3 168.0h3.6m-1.8-1.4v2.8M184.4 168.2h3.6m-1.8-1.4v2.8M184.5 168.2h3.6m-1.8-1.4v2.8M184.6 168.1h3.6m-1.8-1.4v2.8M184.7 168.1h3.6m-1.8-1.4v2.8M184.8 168.3h3.6m-1.8-1.4v2.8M184.9 168.0h3.6m-1.8-1.4v2.8M185.0 168.1h3.6m-1.8-1.4v2.8M185.1 167.9h3.6m-1.8-1.4v2.8M185.2 168.5h3.6m-1.8-1.4v2.8M185.3 168.0h3.6m-1.8-1.4v2.8M185.4 168.1h3.6m-1.8-1.4v2.8M185.5 167.2h3.6m-1.8-1.4v2.8M185.6 167.8h3.6m-1.8-1.4v2.8M185.7 167.6h3.6m-1.8-1.4v2.8M185.8 167.9h3.6m-1.8-1.4v2.8M185.9 167.7h3.6m-1.8-1.4v2.8M186.0 167.5h3.6m-1.8-1.4v2.8M186.1 167.7h3.6m-1.8-1.4v2.8M186.2 168.0h3.6m-1.8-1.4v2.8M186.3 168.0h3.6m-1.8-1.4v2.8M186.4 167.6h3.6m-1.8-1.4v2.8M186.5 167.9h3.6m-1.8-1.4v2.8M186.6 167.5h3.6m-1.8-1.4v2.8M186.7 167.8h3.6m-1.8-1.4v2.8M186.8 167.3h3.6m-1.8-1.4v2.8M186.9 167.8h3.6m-1.8-1.4v2.8M187.0 168.1h3.6m-1.8-1.4v2.8M187.1 167.4h3.6m-1.8-1.4v2.8M187.2 167.7h3.6m-1.8-1.4v2.8M187.3 167.0h3.6m-1.8-1.4v2.8M187.4 167.1h3.6m-1.8-1.4v2.8M187.5 167.9h3.6m-1.8-1.4v2.8M187.6 167.1h3.6m-1.8-1.4v2.8M187.7 167.2h3.6m-1.8-1.4v2.8M187.8 166.6h3.6m-1.8-1.4v2.8M187.9 166.9h3.6m-1.8-1.4v2.8M188.0 166.6h3.6m-1.8-1.4v2.8M188.1 167.0h3.6m-1.8-1.4v2.8M188.2 166.5h3.6m-1.8-1.4v2.8M188.3 167.1h3.6m-1.8-1.4v2.8M188.4 166.1h3.6m-1.8-1.4v2.8M188.5 166.2h3.6m-1.8-1.4v2.8M188.6 165.4h3.6m-1.8-1.4v2.8M188.7 165.6h3.6m-1.8-1.4v2.8M188.8 165.6h3.6m-1.8-1.4v2.8M188.9 164.8h3.6m-1.8-1.4v2.8M190.5 164.5h3.6m-1.8-1.4v2.8M190.6 165.5h3.6m-1.8-1.4v2.8M190.7 165.9h3.6m-1.8-1.4v2.8M190.8 166.1h3.6m-1.8-1.4v2.8M190.9 166.4h3.6m-1.8-1.4v2.8M191.0 166.0h3.6m-1.8-1.4v2.8M191.1 167.0h3.6m-1.8-1.4v2.8M191.2 166.8h3.6m-1.8-1.4v2.8M191.3 166.2h3.6m-1.8-1.4v2.8M191.4 167.3h3.6m-1.8-1.4v2.8M191.5 166.8h3.6m-1.8-1.4v2.8M191.6 167.2h3.6m-1.8-1.4v2.8M191.7 166.6h3.6m-1.8-1.4v2.8M191.8 167.0h3.6m-1.8-1.4v2.8M191.9 166.8h3.6m-1.8-1.4v2.8M192.0 167.5h3.6m-1.8-1.4v2.8M192.1 167.3h3.6m-1.8-1.4v2.8M192.2 167.2h3.6m-1.8-1.4v2.8M192.3 167.4h3.6m-1.8-1.4v2.8M192.4 167.8h3.6m-1.8-1.4v2.8M192.5 167.4h3.6m-1.8-1.4v2.8M192.6 167.7h3.6m-1.8-1.4v2.8M192.7 167.3h3.6m-1.8-1.4v2.8M192.8 167.2h3.6m-1.8-1.4v2.8M192.9 167.6h3.6m-1.8-1.4v2.8M193.0 167.7h3.6m-1.8-1.4v2.8M193.1 167.8h3.6m-1.8-1.4v2.8M193.2 168.0h3.6m-1.8-1.4v2.8M193.3 167.7h3.6m-1.8-1.4v2.8M193.4 167.7h3.6m-1.8-1.4v2.8M193.5 168.1h3.6m-1.8-1.4v2.8M193.6 168.0h3.6m-1.8-1.4v2.8M193.7 167.9h3.6m-1.8-1.4v2.8M193.8 168.0h3.6m-1.8-1.4v2.8M193.9 167.4h3.6m-1.8-1.4v2.8M194.0 167.8h3.6m-1.8-1.4v2.8M194.1 167.6h3.6m-1.8-1.4v2.8M194.2 167.9h3.6m-1.8-1.4v2.8M194.3 168.3h3.6m-1.8-1.4v2.8M194.4 167.6h3.6m-1.8-1.4v2.8M194.5 168.3h3.6m-1.8-1.4v2.8M194.6 167.9h3.6m-1.8-1.4v2.8M194.7 168.0h3.6m-1.8-1.4v2.8M194.8 168.0h3.6m-1.8-1.4v2.8M194.9 168.3h3.6m-1.8-1.4v2.8M195.0 168.0h3.6m-1.8-1.4v2.8M195.1 167.6h3.6m-1.8-1.4v2.8M195.2 168.2h3.6m-1.8-1.4v2.8M195.3 168.1h3.6m-1.8-1.4v2.8M195.4 168.3h3.6m-1.8-1.4v2.8M195.5 168.3h3.6m-1.8-1.4v2.8M195.6 167.9h3.6m-1.8-1.4v2.8M195.7 168.2h3.6m-1.8-1.4v2.8M195.8 168.2h3.6m-1.8-1.4v2.8M195.9 168.2h3.6m-1.8-1.4v2.8M196.0 168.2h3.6m-1.8-1.4v2.8M196.1 168.3h3.6m-1.8-1.4v2.8M196.2 168.1h3.6m-1.8-1.4v2.8M196.3 168.2h3.6m-1.8-1.4v2.8M196.4 168.5h3.6m-1.8-1.4v2.8M196.5 168.0h3.6m-1.8-1.4v2.8M196.6 168.2h3.6m-1.8-1.4v2.8M196.7 168.0h3.6m-1.8-1.4v2.8M196.8 168.0h3.6m-1.8-1.4v2.8M196.9 168.2h3.6m-1.8-1.4v2.8M197.0 168.3h3.6m-1.8-1.4v2.8M197.1 168.7h3.6m-1.8-1.4v2.8M197.2 168.2h3.6m-1.8-1.4v2.8M197.3 168.5h3.6m-1.8-1.4v2.8M197.4 168.4h3.6m-1.8-1.4v2.8M197.5 168.3h3.6m-1.8-1.4v2.8M197.6 167.5h3.6m-1.8-1.4v2.8M197.7 168.3h3.6m-1.8-1.4v2.8M197.8 168.3h3.6m-1.8-1.4v2.8M197.9 168.1h3.6m-1.8-1.4v2.8M198.0 168.3h3.6m-1.8-1.4v2.8M198.1 168.7h3.6m-1.8-1.4v2.8M198.2 168.0h3.6m-1.8-1.4v2.8M198.3 168.2h3.6m-1.8-1.4v2.8M198.4 168.5h3.6m-1.8-1.4v2.8M198.5 167.9h3.6m-1.8-1.4v2.8M198.6 168.1h3.6m-1.8-1.4v2.8M198.7 168.4h3.6m-1.8-1.4v2.8M198.8 168.6h3.6m-1.8-1.4v2.8M198.9 168.6h3.6m-1.8-1.4v2.8M199.0 168.5h3.6m-1.8-1.4v2.8M199.1 168.9h3.6m-1.8-1.4v2.8M199.2 168.4h3.6m-1.8-1.4v2.8M199.3 168.0h3.6m-1.8-1.4v2.8M199.4 168.3h3.6m-1.8-1.4v2.8M199.5 168.5h3.6m-1.8-1.4v2.8M199.6 168.4h3.6m-1.8-1.4v2.8M199.7 167.8h3.6m-1.8-1.4v2.8M199.8 168.4h3.6m-1.8-1.4v2.8M199.9 168.1h3.6m-1.8-1.4v2.8M200.0 168.3h3.6m-1.8-1.4v2.8M200.1 168.7h3.6m-1.8-1.4v2.8M200.2 168.3h3.6m-1.8-1.4v2.8M200.3 168.2h3.6m-1.8-1.4v2.8M200.4 168.3h3.6m-1.8-1.4v2.8M200.5 168.2h3.6m-1.8-1.4v2.8M200.6 168.8h3.6m-1.8-1.4v2.8M200.7 168.5h3.6m-1.8-1.4v2.8M200.8 168.5h3.6m-1.8-1.4v2.8M200.9 168.1h3.6m-1.8-1.4v2.8M201.0 168.2h3.6m-1.8-1.4v2.8M201.1 168.4h3.6m-1.8-1.4v2.8M201.2 167.8h3.6m-1.8-1.4v2.8M201.3 168.6h3.6m-1.8-1.4v2.8M201.4 168.0h3.6m-1.8-1.4v2.8M201.5 168.3h3.6m-1.8-1.4v2.8M201.6 168.4h3.6m-1.8-1.4v2.8M201.7 168.1h3.6m-1.8-1.4v2.8M201.8 168.4h3.6m-1.8-1.4v2.8M201.9 168.5h3.6m-1.8-1.4v2.8M202.0 168.7h3.6m-1.8-1.4v2.8M202.1 168.4h3.6m-1.8-1.4v2.8M202.2 168.7h3.6m-1.8-1.4v2.8M202.3 168.4h3.6m-1.8-1.4v2.8M202.4 168.2h3.6m-1.8-1.4v2.8M202.5 168.5h3.6m-1.8-1.4v2.8M202.6 168.1h3.6m-1.8-1.4v2.8M202.7 168.3h3.6m-1.8-1.4v2.8M202.8 168.4h3.6m-1.8-1.4v2.8M202.9 168.5h3.6m-1.8-1.4v2.8M203.0 168.3h3.6m-1.8-1.4v2.8M203.1 167.8h3.6m-1.8-1.4v2.8M203.2 168.5h3.6m-1.8-1.4v2.8M203.3 168.2h3.6m-1.8-1.4v2.8M203.4 168.1h3.6m-1.8-1.4v2.8M203.5 168.0h3.6m-1.8-1.4v2.8M203.6 168.3h3.6m-1.8-1.4v2.8M203.7 168.2h3.6m-1.8-1.4v2.8M203.8 168.3h3.6m-1.8-1.4v2.8M203.9 168.1h3.6m-1.8-1.4v2.8M204.0 168.5h3.6m-1.8-1.4v2.8M204.1 168.0h3.6m-1.8-1.4v2.8M204.2 168.2h3.6m-1.8-1.4v2.8M204.3 168.1h3.6m-1.8-1.4v2.8M204.4 168.3h3.6m-1.8-1.4v2.8M204.5 167.8h3.6m-1.8-1.4v2.8M204.6 167.9h3.6m-1.8-1.4v2.8M204.7 167.9h3.6m-1.8-1.4v2.8M204.8 167.8h3.6m-1.8-1.4v2.8M204.9 167.8h3.6m-1.8-1.4v2.8M205.0 167.6h3.6m-1.8-1.4v2.8M205.1 168.1h3.6m-1.8-1.4v2.8M205.2 168.2h3.6m-1.8-1.4v2.8M205.3 167.6h3.6m-1.8-1.4v2.8M205.4 168.0h3.6m-1.8-1.4v2.8M205.5 167.5h3.6m-1.8-1.4v2.8M205.6 167.5h3.6m-1.8-1.4v2.8M205.7 167.6h3.6m-1.8-1.4v2.8M205.8 167.7h3.6m-1.8-1.4v2.8M205.9 167.7h3.6m-1.8-1.4v2.8M206.0 167.1h3.6m-1.8-1.4v2.8M206.1 167.2h3.6m-1.8-1.4v2.8M206.2 167.5h3.6m-1.8-1.4v2.8M206.3 167.4h3.6m-1.8-1.4v2.8M206.4 167.9h3.6m-1.8-1.4v2.8M206.5 167.2h3.6m-1.8-1.4v2.8M206.6 167.1h3.6m-1.8-1.4v2.8M206.7 167.4h3.6m-1.8-1.4v2.8M206.8 166.4h3.6m-1.8-1.4v2.8M206.9 166.5h3.6m-1.8-1.4v2.8M207.0 167.5h3.6m-1.8-1.4v2.8M207.1 166.5h3.6m-1.8-1.4v2.8M207.2 166.4h3.6m-1.8-1.4v2.8M207.3 166.1h3.6m-1.8-1.4v2.8M207.4 165.6h3.6m-1.8-1.4v2.8M207.5 165.3h3.6m-1.8-1.4v2.8M208.9 165.0h3.6m-1.8-1.4v2.8M209.0 166.1h3.6m-1.8-1.4v2.8M209.1 166.4h3.6m-1.8-1.4v2.8M209.2 166.6h3.6m-1.8-1.4v2.8M209.3 166.4h3.6m-1.8-1.4v2.8M209.4 166.3h3.6m-1.8-1.4v2.8M209.5 166.8h3.6m-1.8-1.4v2.8M209.6 166.8h3.6m-1.8-1.4v2.8M209.7 167.2h3.6m-1.8-1.4v2.8M209.8 166.8h3.6m-1.8-1.4v2.8M209.9 167.1h3.6m-1.8-1.4v2.8M210.0 167.4h3.6m-1.8-1.4v2.8M210.1 167.5h3.6m-1.8-1.4v2.8M210.2 167.5h3.6m-1.8-1.4v2.8M210.3 167.2h3.6m-1.8-1.4v2.8M210.4 167.4h3.6m-1.8-1.4v2.8M210.5 168.1h3.6m-1.8-1.4v2.8M210.6 167.9h3.6m-1.8-1.4v2.8M210.7 167.5h3.6m-1.8-1.4v2.8M210.8 168.2h3.6m-1.8-1.4v2.8M210.9 167.7h3.6m-1.8-1.4v2.8M211.0 167.8h3.6m-1.8-1.4v2.8M211.1 167.6h3.6m-1.8-1.4v2.8M211.2 168.2h3.6m-1.8-1.4v2.8M211.3 167.9h3.6m-1.8-1.4v2.8M211.4 167.9h3.6m-1.8-1.4v2.8M211.5 167.7h3.6m-1.8-1.4v2.8M211.6 167.6h3.6m-1.8-1.4v2.8M211.7 168.0h3.6m-1.8-1.4v2.8M211.8 168.0h3.6m-1.8-1.4v2.8M211.9 168.4h3.6m-1.8-1.4v2.8M212.0 167.8h3.6m-1.8-1.4v2.8M212.1 167.9h3.6m-1.8-1.4v2.8M212.2 168.3h3.6m-1.8-1.4v2.8M212.3 168.3h3.6m-1.8-1.4v2.8M212.4 167.9h3.6m-1.8-1.4v2.8M212.5 168.4h3.6m-1.8-1.4v2.8M212.6 168.2h3.6m-1.8-1.4v2.8M212.7 168.3h3.6m-1.8-1.4v2.8M212.8 168.2h3.6m-1.8-1.4v2.8M212.9 168.4h3.6m-1.8-1.4v2.8M213.0 168.0h3.6m-1.8-1.4v2.8M213.1 168.1h3.6m-1.8-1.4v2.8M213.2 168.4h3.6m-1.8-1.4v2.8M213.3 168.2h3.6m-1.8-1.4v2.8M213.4 168.2h3.6m-1.8-1.4v2.8M213.5 168.4h3.6m-1.8-1.4v2.8M213.6 168.2h3.6m-1.8-1.4v2.8M213.7 168.2h3.6m-1.8-1.4v2.8M213.8 167.6h3.6m-1.8-1.4v2.8M213.9 168.0h3.6m-1.8-1.4v2.8M214.0 168.3h3.6m-1.8-1.4v2.8M214.1 167.9h3.6m-1.8-1.4v2.8M214.2 168.1h3.6m-1.8-1.4v2.8M214.3 168.2h3.6m-1.8-1.4v2.8M214.4 168.1h3.6m-1.8-1.4v2.8M214.5 168.3h3.6m-1.8-1.4v2.8M214.6 168.2h3.6m-1.8-1.4v2.8M214.7 168.1h3.6m-1.8-1.4v2.8M214.8 168.4h3.6m-1.8-1.4v2.8M214.9 168.0h3.6m-1.8-1.4v2.8M215.0 167.9h3.6m-1.8-1.4v2.8M215.1 168.1h3.6m-1.8-1.4v2.8M215.2 168.2h3.6m-1.8-1.4v2.8M215.3 168.0h3.6m-1.8-1.4v2.8M215.4 167.7h3.6m-1.8-1.4v2.8M215.5 167.8h3.6m-1.8-1.4v2.8M215.6 168.0h3.6m-1.8-1.4v2.8M215.7 168.1h3.6m-1.8-1.4v2.8M215.8 168.3h3.6m-1.8-1.4v2.8M215.9 167.7h3.6m-1.8-1.4v2.8M216.0 167.6h3.6m-1.8-1.4v2.8M216.1 167.0h3.6m-1.8-1.4v2.8M216.2 167.7h3.6m-1.8-1.4v2.8M216.3 167.3h3.6m-1.8-1.4v2.8M216.4 166.7h3.6m-1.8-1.4v2.8M216.5 166.1h3.6m-1.8-1.4v2.8M216.6 165.2h3.6m-1.8-1.4v2.8M216.7 165.7h3.6m-1.8-1.4v2.8M216.9 165.3h3.6m-1.8-1.4v2.8M217.0 166.2h3.6m-1.8-1.4v2.8M217.1 166.5h3.6m-1.8-1.4v2.8M217.2 167.0h3.6m-1.8-1.4v2.8M217.3 167.1h3.6m-1.8-1.4v2.8M217.4 167.7h3.6m-1.8-1.4v2.8M217.5 167.2h3.6m-1.8-1.4v2.8M217.6 168.1h3.6m-1.8-1.4v2.8M217.7 167.8h3.6m-1.8-1.4v2.8M217.8 167.6h3.6m-1.8-1.4v2.8M217.9 167.8h3.6m-1.8-1.4v2.8M218.0 167.7h3.6m-1.8-1.4v2.8M218.1 168.1h3.6m-1.8-1.4v2.8M218.2 167.9h3.6m-1.8-1.4v2.8M218.3 167.8h3.6m-1.8-1.4v2.8M218.4 168.0h3.6m-1.8-1.4v2.8M218.5 168.1h3.6m-1.8-1.4v2.8M218.6 168.2h3.6m-1.8-1.4v2.8M218.7 168.3h3.6m-1.8-1.4v2.8M218.8 168.5h3.6m-1.8-1.4v2.8M218.9 168.3h3.6m-1.8-1.4v2.8M219.0 168.6h3.6m-1.8-1.4v2.8M219.1 167.6h3.6m-1.8-1.4v2.8M219.2 168.2h3.6m-1.8-1.4v2.8M219.3 168.5h3.6m-1.8-1.4v2.8M219.4 167.9h3.6m-1.8-1.4v2.8M219.5 168.2h3.6m-1.8-1.4v2.8M219.6 168.3h3.6m-1.8-1.4v2.8M219.7 167.9h3.6m-1.8-1.4v2.8M219.8 168.1h3.6m-1.8-1.4v2.8M219.9 168.4h3.6m-1.8-1.4v2.8M220.0 168.2h3.6m-1.8-1.4v2.8M220.1 168.7h3.6m-1.8-1.4v2.8M220.2 168.9h3.6m-1.8-1.4v2.8M220.3 168.3h3.6m-1.8-1.4v2.8M220.4 168.0h3.6m-1.8-1.4v2.8M220.5 168.3h3.6m-1.8-1.4v2.8M220.6 168.2h3.6m-1.8-1.4v2.8M220.7 168.0h3.6m-1.8-1.4v2.8M220.8 168.2h3.6m-1.8-1.4v2.8M220.9 168.2h3.6m-1.8-1.4v2.8M221.0 168.2h3.6m-1.8-1.4v2.8M221.1 168.5h3.6m-1.8-1.4v2.8M221.2 168.6h3.6m-1.8-1.4v2.8M221.3 168.4h3.6m-1.8-1.4v2.8M221.4 168.2h3.6m-1.8-1.4v2.8M221.5 168.4h3.6m-1.8-1.4v2.8M221.6 168.3h3.6m-1.8-1.4v2.8M221.7 168.3h3.6m-1.8-1.4v2.8M221.8 168.0h3.6m-1.8-1.4v2.8M221.9 167.5h3.6m-1.8-1.4v2.8M222.0 168.5h3.6m-1.8-1.4v2.8M222.1 168.1h3.6m-1.8-1.4v2.8M222.2 168.1h3.6m-1.8-1.4v2.8M222.3 168.2h3.6m-1.8-1.4v2.8M222.4 168.2h3.6m-1.8-1.4v2.8M222.5 168.1h3.6m-1.8-1.4v2.8M222.6 168.6h3.6m-1.8-1.4v2.8M222.7 168.2h3.6m-1.8-1.4v2.8M222.8 168.2h3.6m-1.8-1.4v2.8M222.9 167.9h3.6m-1.8-1.4v2.8M223.0 168.1h3.6m-1.8-1.4v2.8M223.1 168.2h3.6m-1.8-1.4v2.8M223.2 168.1h3.6m-1.8-1.4v2.8M223.3 168.1h3.6m-1.8-1.4v2.8M223.4 167.8h3.6m-1.8-1.4v2.8M223.5 168.0h3.6m-1.8-1.4v2.8M223.6 167.6h3.6m-1.8-1.4v2.8M223.7 167.7h3.6m-1.8-1.4v2.8M223.8 167.5h3.6m-1.8-1.4v2.8M223.9 167.5h3.6m-1.8-1.4v2.8M224.0 167.5h3.6m-1.8-1.4v2.8M224.1 167.0h3.6m-1.8-1.4v2.8M224.2 166.3h3.6m-1.8-1.4v2.8M224.3 166.2h3.6m-1.8-1.4v2.8M224.4 166.1h3.6m-1.8-1.4v2.8M224.5 165.9h3.6m-1.8-1.4v2.8M224.6 165.9h3.6m-1.8-1.4v2.8M224.7 165.8h3.6m-1.8-1.4v2.8M224.8 166.4h3.6m-1.8-1.4v2.8M224.9 166.7h3.6m-1.8-1.4v2.8M225.0 167.1h3.6m-1.8-1.4v2.8M225.1 167.6h3.6m-1.8-1.4v2.8M225.2 167.7h3.6m-1.8-1.4v2.8M225.3 167.7h3.6m-1.8-1.4v2.8M225.4 168.0h3.6m-1.8-1.4v2.8M225.5 167.8h3.6m-1.8-1.4v2.8M225.6 167.9h3.6m-1.8-1.4v2.8M225.7 168.1h3.6m-1.8-1.4v2.8M225.8 167.8h3.6m-1.8-1.4v2.8M225.9 167.9h3.6m-1.8-1.4v2.8M226.0 167.8h3.6m-1.8-1.4v2.8M226.1 167.9h3.6m-1.8-1.4v2.8M226.2 168.2h3.6m-1.8-1.4v2.8M226.3 168.2h3.6m-1.8-1.4v2.8M226.4 168.3h3.6m-1.8-1.4v2.8M226.5 168.3h3.6m-1.8-1.4v2.8M226.6 168.0h3.6m-1.8-1.4v2.8M226.7 168.8h3.6m-1.8-1.4v2.8M226.8 168.6h3.6m-1.8-1.4v2.8M226.9 168.0h3.6m-1.8-1.4v2.8M227.0 168.2h3.6m-1.8-1.4v2.8M227.1 168.2h3.6m-1.8-1.4v2.8M227.2 168.4h3.6m-1.8-1.4v2.8M227.3 168.5h3.6m-1.8-1.4v2.8M227.4 168.4h3.6m-1.8-1.4v2.8M227.5 167.7h3.6m-1.8-1.4v2.8M227.6 169.1h3.6m-1.8-1.4v2.8M227.7 168.6h3.6m-1.8-1.4v2.8M227.8 168.6h3.6m-1.8-1.4v2.8M227.9 168.2h3.6m-1.8-1.4v2.8M228.0 168.4h3.6m-1.8-1.4v2.8M228.1 168.6h3.6m-1.8-1.4v2.8M228.2 168.3h3.6m-1.8-1.4v2.8M228.3 168.7h3.6m-1.8-1.4v2.8M228.4 168.5h3.6m-1.8-1.4v2.8M228.5 168.8h3.6m-1.8-1.4v2.8M228.6 168.5h3.6m-1.8-1.4v2.8M228.7 168.8h3.6m-1.8-1.4v2.8M228.8 168.0h3.6m-1.8-1.4v2.8M228.9 168.8h3.6m-1.8-1.4v2.8M229.0 168.6h3.6m-1.8-1.4v2.8M229.1 168.4h3.6m-1.8-1.4v2.8M229.2 168.7h3.6m-1.8-1.4v2.8M229.3 168.4h3.6m-1.8-1.4v2.8M229.4 168.7h3.6m-1.8-1.4v2.8M229.5 168.7h3.6m-1.8-1.4v2.8M229.6 168.7h3.6m-1.8-1.4v2.8M229.7 169.0h3.6m-1.8-1.4v2.8M229.8 168.8h3.6m-1.8-1.4v2.8M229.9 169.1h3.6m-1.8-1.4v2.8M230.0 168.6h3.6m-1.8-1.4v2.8M230.1 168.5h3.6m-1.8-1.4v2.8M230.2 168.6h3.6m-1.8-1.4v2.8M230.3 168.5h3.6m-1.8-1.4v2.8M230.4 168.2h3.6m-1.8-1.4v2.8M230.5 168.5h3.6m-1.8-1.4v2.8M230.6 168.2h3.6m-1.8-1.4v2.8M230.7 168.4h3.6m-1.8-1.4v2.8M230.8 168.4h3.6m-1.8-1.4v2.8M230.9 168.3h3.6m-1.8-1.4v2.8M231.0 168.2h3.6m-1.8-1.4v2.8M231.1 168.5h3.6m-1.8-1.4v2.8M231.2 168.5h3.6m-1.8-1.4v2.8M231.3 168.8h3.6m-1.8-1.4v2.8M231.4 168.6h3.6m-1.8-1.4v2.8M231.5 168.7h3.6m-1.8-1.4v2.8M231.6 168.3h3.6m-1.8-1.4v2.8M231.7 168.3h3.6m-1.8-1.4v2.8M231.8 168.1h3.6m-1.8-1.4v2.8M231.9 168.1h3.6m-1.8-1.4v2.8M232.0 168.5h3.6m-1.8-1.4v2.8M232.1 168.2h3.6m-1.8-1.4v2.8M232.2 168.1h3.6m-1.8-1.4v2.8M232.3 167.9h3.6m-1.8-1.4v2.8M232.4 168.3h3.6m-1.8-1.4v2.8M232.5 167.8h3.6m-1.8-1.4v2.8M232.6 168.1h3.6m-1.8-1.4v2.8M232.7 167.8h3.6m-1.8-1.4v2.8M232.8 168.1h3.6m-1.8-1.4v2.8M232.9 167.8h3.6m-1.8-1.4v2.8M233.0 167.8h3.6m-1.8-1.4v2.8M233.1 168.5h3.6m-1.8-1.4v2.8M233.2 168.2h3.6m-1.8-1.4v2.8M233.3 168.4h3.6m-1.8-1.4v2.8M233.4 168.6h3.6m-1.8-1.4v2.8M233.5 168.6h3.6m-1.8-1.4v2.8M233.6 168.5h3.6m-1.8-1.4v2.8M233.7 168.1h3.6m-1.8-1.4v2.8M233.8 168.3h3.6m-1.8-1.4v2.8M233.9 168.4h3.6m-1.8-1.4v2.8M234.0 168.6h3.6m-1.8-1.4v2.8M234.1 168.6h3.6m-1.8-1.4v2.8M234.2 168.5h3.6m-1.8-1.4v2.8M234.3 168.3h3.6m-1.8-1.4v2.8M234.4 168.4h3.6m-1.8-1.4v2.8M234.5 168.7h3.6m-1.8-1.4v2.8M234.6 168.2h3.6m-1.8-1.4v2.8M234.7 168.3h3.6m-1.8-1.4v2.8M234.8 168.7h3.6m-1.8-1.4v2.8M234.9 168.8h3.6m-1.8-1.4v2.8M235.0 168.5h3.6m-1.8-1.4v2.8M235.1 168.4h3.6m-1.8-1.4v2.8M235.2 168.2h3.6m-1.8-1.4v2.8M235.3 168.4h3.6m-1.8-1.4v2.8M235.4 168.2h3.6m-1.8-1.4v2.8M235.5 168.5h3.6m-1.8-1.4v2.8M235.6 168.6h3.6m-1.8-1.4v2.8M235.7 168.5h3.6m-1.8-1.4v2.8M235.8 168.7h3.6m-1.8-1.4v2.8M235.9 168.1h3.6m-1.8-1.4v2.8M236.0 168.1h3.6m-1.8-1.4v2.8M236.1 168.7h3.6m-1.8-1.4v2.8M236.2 168.6h3.6m-1.8-1.4v2.8M236.3 168.1h3.6m-1.8-1.4v2.8M236.4 168.4h3.6m-1.8-1.4v2.8M236.5 168.1h3.6m-1.8-1.4v2.8M236.6 168.3h3.6m-1.8-1.4v2.8M236.7 168.4h3.6m-1.8-1.4v2.8M236.8 168.5h3.6m-1.8-1.4v2.8M236.9 168.1h3.6m-1.8-1.4v2.8M237.0 168.0h3.6m-1.8-1.4v2.8M237.1 168.4h3.6m-1.8-1.4v2.8M237.2 168.2h3.6m-1.8-1.4v2.8M237.3 168.6h3.6m-1.8-1.4v2.8M237.4 167.9h3.6m-1.8-1.4v2.8M237.5 168.0h3.6m-1.8-1.4v2.8M237.6 167.5h3.6m-1.8-1.4v2.8M237.7 168.4h3.6m-1.8-1.4v2.8M237.8 168.5h3.6m-1.8-1.4v2.8M237.9 168.2h3.6m-1.8-1.4v2.8M238.0 168.0h3.6m-1.8-1.4v2.8M238.1 167.5h3.6m-1.8-1.4v2.8M238.2 167.7h3.6m-1.8-1.4v2.8M238.3 167.8h3.6m-1.8-1.4v2.8M238.4 168.4h3.6m-1.8-1.4v2.8M238.5 168.1h3.6m-1.8-1.4v2.8M238.6 167.7h3.6m-1.8-1.4v2.8M238.7 167.9h3.6m-1.8-1.4v2.8M238.8 167.9h3.6m-1.8-1.4v2.8M238.9 167.8h3.6m-1.8-1.4v2.8M239.0 167.3h3.6m-1.8-1.4v2.8M239.1 167.4h3.6m-1.8-1.4v2.8M239.2 167.6h3.6m-1.8-1.4v2.8M239.3 167.4h3.6m-1.8-1.4v2.8M239.4 166.9h3.6m-1.8-1.4v2.8M239.5 167.2h3.6m-1.8-1.4v2.8M239.6 166.2h3.6m-1.8-1.4v2.8M239.7 165.4h3.6m-1.8-1.4v2.8M240.7 165.7h3.6m-1.8-1.4v2.8M240.8 166.4h3.6m-1.8-1.4v2.8M240.9 166.6h3.6m-1.8-1.4v2.8M241.0 167.4h3.6m-1.8-1.4v2.8M241.1 167.5h3.6m-1.8-1.4v2.8M241.2 167.4h3.6m-1.8-1.4v2.8M241.3 167.7h3.6m-1.8-1.4v2.8M241.4 167.7h3.6m-1.8-1.4v2.8M241.5 167.6h3.6m-1.8-1.4v2.8M241.6 167.9h3.6m-1.8-1.4v2.8M241.7 167.7h3.6m-1.8-1.4v2.8M241.8 167.8h3.6m-1.8-1.4v2.8M241.9 168.1h3.6m-1.8-1.4v2.8M242.0 167.6h3.6m-1.8-1.4v2.8M242.1 167.9h3.6m-1.8-1.4v2.8M242.2 167.8h3.6m-1.8-1.4v2.8M242.3 168.2h3.6m-1.8-1.4v2.8M242.4 168.0h3.6m-1.8-1.4v2.8M242.5 168.6h3.6m-1.8-1.4v2.8M242.6 168.5h3.6m-1.8-1.4v2.8M242.7 168.0h3.6m-1.8-1.4v2.8M242.8 168.2h3.6m-1.8-1.4v2.8M242.9 168.1h3.6m-1.8-1.4v2.8M243.0 168.2h3.6m-1.8-1.4v2.8M243.1 168.4h3.6m-1.8-1.4v2.8M243.2 168.6h3.6m-1.8-1.4v2.8M243.3 168.8h3.6m-1.8-1.4v2.8M243.4 168.8h3.6m-1.8-1.4v2.8M243.5 168.0h3.6m-1.8-1.4v2.8M243.6 168.2h3.6m-1.8-1.4v2.8M243.7 168.3h3.6m-1.8-1.4v2.8M243.8 168.3h3.6m-1.8-1.4v2.8M243.9 168.4h3.6m-1.8-1.4v2.8M244.0 168.5h3.6m-1.8-1.4v2.8M244.1 168.3h3.6m-1.8-1.4v2.8M244.2 168.3h3.6m-1.8-1.4v2.8M244.3 169.0h3.6m-1.8-1.4v2.8M244.4 168.6h3.6m-1.8-1.4v2.8M244.5 169.0h3.6m-1.8-1.4v2.8M244.6 168.3h3.6m-1.8-1.4v2.8M244.7 168.8h3.6m-1.8-1.4v2.8M244.8 168.9h3.6m-1.8-1.4v2.8M244.9 168.8h3.6m-1.8-1.4v2.8M245.0 168.3h3.6m-1.8-1.4v2.8M245.1 168.6h3.6m-1.8-1.4v2.8M245.2 168.3h3.6m-1.8-1.4v2.8M245.3 168.2h3.6m-1.8-1.4v2.8M245.4 168.5h3.6m-1.8-1.4v2.8M245.5 168.6h3.6m-1.8-1.4v2.8M245.6 168.4h3.6m-1.8-1.4v2.8M245.7 168.5h3.6m-1.8-1.4v2.8M245.8 168.7h3.6m-1.8-1.4v2.8M245.9 168.3h3.6m-1.8-1.4v2.8M246.0 168.6h3.6m-1.8-1.4v2.8M246.1 168.7h3.6m-1.8-1.4v2.8M246.2 168.7h3.6m-1.8-1.4v2.8M246.3 168.7h3.6m-1.8-1.4v2.8M246.4 168.3h3.6m-1.8-1.4v2.8M246.5 168.5h3.6m-1.8-1.4v2.8M246.6 168.4h3.6m-1.8-1.4v2.8M246.7 168.7h3.6m-1.8-1.4v2.8M246.8 168.1h3.6m-1.8-1.4v2.8M246.9 168.6h3.6m-1.8-1.4v2.8M247.0 168.1h3.6m-1.8-1.4v2.8M247.1 168.7h3.6m-1.8-1.4v2.8M247.2 168.4h3.6m-1.8-1.4v2.8M247.3 168.6h3.6m-1.8-1.4v2.8M247.4 168.8h3.6m-1.8-1.4v2.8M247.5 169.0h3.6m-1.8-1.4v2.8M247.6 168.3h3.6m-1.8-1.4v2.8M247.7 168.6h3.6m-1.8-1.4v2.8M247.8 168.1h3.6m-1.8-1.4v2.8M247.9 168.5h3.6m-1.8-1.4v2.8M248.0 168.4h3.6m-1.8-1.4v2.8M248.1 168.7h3.6m-1.8-1.4v2.8M248.2 168.5h3.6m-1.8-1.4v2.8M248.3 168.6h3.6m-1.8-1.4v2.8M248.4 168.3h3.6m-1.8-1.4v2.8M248.5 168.5h3.6m-1.8-1.4v2.8M248.6 168.3h3.6m-1.8-1.4v2.8M248.7 168.6h3.6m-1.8-1.4v2.8M248.8 168.2h3.6m-1.8-1.4v2.8M248.9 168.7h3.6m-1.8-1.4v2.8M249.0 168.9h3.6m-1.8-1.4v2.8M249.1 169.2h3.6m-1.8-1.4v2.8M249.2 169.0h3.6m-1.8-1.4v2.8M249.3 168.9h3.6m-1.8-1.4v2.8M249.4 168.8h3.6m-1.8-1.4v2.8M249.5 169.0h3.6m-1.8-1.4v2.8M249.6 168.6h3.6m-1.8-1.4v2.8M249.7 168.7h3.6m-1.8-1.4v2.8M249.8 168.2h3.6m-1.8-1.4v2.8M249.9 168.5h3.6m-1.8-1.4v2.8M250.0 168.9h3.6m-1.8-1.4v2.8M250.1 168.2h3.6m-1.8-1.4v2.8M250.2 168.7h3.6m-1.8-1.4v2.8M250.3 168.6h3.6m-1.8-1.4v2.8M250.4 168.5h3.6m-1.8-1.4v2.8M250.5 168.7h3.6m-1.8-1.4v2.8M250.6 168.6h3.6m-1.8-1.4v2.8M250.7 168.4h3.6m-1.8-1.4v2.8M250.8 168.6h3.6m-1.8-1.4v2.8M250.9 168.2h3.6m-1.8-1.4v2.8M251.0 169.0h3.6m-1.8-1.4v2.8M251.1 168.7h3.6m-1.8-1.4v2.8M251.2 168.9h3.6m-1.8-1.4v2.8M251.3 168.4h3.6m-1.8-1.4v2.8M251.4 169.1h3.6m-1.8-1.4v2.8M251.5 168.9h3.6m-1.8-1.4v2.8M251.6 168.8h3.6m-1.8-1.4v2.8M251.7 168.7h3.6m-1.8-1.4v2.8M251.8 168.8h3.6m-1.8-1.4v2.8M251.9 168.5h3.6m-1.8-1.4v2.8M252.0 168.6h3.6m-1.8-1.4v2.8M252.1 168.6h3.6m-1.8-1.4v2.8M252.2 168.8h3.6m-1.8-1.4v2.8M252.3 169.1h3.6m-1.8-1.4v2.8M252.4 169.0h3.6m-1.8-1.4v2.8M252.5 168.8h3.6m-1.8-1.4v2.8M252.6 168.8h3.6m-1.8-1.4v2.8M252.7 168.6h3.6m-1.8-1.4v2.8M252.8 168.6h3.6m-1.8-1.4v2.8M252.9 168.3h3.6m-1.8-1.4v2.8M253.0 168.4h3.6m-1.8-1.4v2.8M253.1 168.4h3.6m-1.8-1.4v2.8M253.2 168.7h3.6m-1.8-1.4v2.8M253.3 168.6h3.6m-1.8-1.4v2.8M253.4 168.8h3.6m-1.8-1.4v2.8M253.5 169.0h3.6m-1.8-1.4v2.8M253.6 168.8h3.6m-1.8-1.4v2.8M253.7 168.6h3.6m-1.8-1.4v2.8M253.8 168.6h3.6m-1.8-1.4v2.8M253.9 168.6h3.6m-1.8-1.4v2.8M254.0 168.8h3.6m-1.8-1.4v2.8M254.1 168.4h3.6m-1.8-1.4v2.8M254.2 168.2h3.6m-1.8-1.4v2.8M254.3 168.4h3.6m-1.8-1.4v2.8M254.4 168.7h3.6m-1.8-1.4v2.8M254.5 168.6h3.6m-1.8-1.4v2.8M254.6 168.4h3.6m-1.8-1.4v2.8M254.7 167.6h3.6m-1.8-1.4v2.8M254.8 168.1h3.6m-1.8-1.4v2.8M254.9 168.3h3.6m-1.8-1.4v2.8M255.0 168.5h3.6m-1.8-1.4v2.8M255.1 168.8h3.6m-1.8-1.4v2.8M255.2 168.2h3.6m-1.8-1.4v2.8M255.3 168.6h3.6m-1.8-1.4v2.8M255.4 168.2h3.6m-1.8-1.4v2.8M255.5 168.6h3.6m-1.8-1.4v2.8M255.6 168.6h3.6m-1.8-1.4v2.8M255.7 168.9h3.6m-1.8-1.4v2.8M255.8 168.8h3.6m-1.8-1.4v2.8M255.9 168.3h3.6m-1.8-1.4v2.8M256.0 168.7h3.6m-1.8-1.4v2.8M256.1 168.8h3.6m-1.8-1.4v2.8M256.2 169.1h3.6m-1.8-1.4v2.8M256.3 168.6h3.6m-1.8-1.4v2.8M256.4 168.6h3.6m-1.8-1.4v2.8M256.5 168.6h3.6m-1.8-1.4v2.8M256.6 169.0h3.6m-1.8-1.4v2.8M256.7 168.7h3.6m-1.8-1.4v2.8M256.8 168.8h3.6m-1.8-1.4v2.8M256.9 168.9h3.6m-1.8-1.4v2.8M257.0 168.6h3.6m-1.8-1.4v2.8M257.1 169.1h3.6m-1.8-1.4v2.8M257.2 168.4h3.6m-1.8-1.4v2.8M257.3 169.3h3.6m-1.8-1.4v2.8M257.4 168.6h3.6m-1.8-1.4v2.8M257.5 168.6h3.6m-1.8-1.4v2.8M257.6 168.6h3.6m-1.8-1.4v2.8M257.7 168.5h3.6m-1.8-1.4v2.8M257.8 168.6h3.6m-1.8-1.4v2.8M257.9 168.6h3.6m-1.8-1.4v2.8M258.0 168.5h3.6m-1.8-1.4v2.8M258.1 168.8h3.6m-1.8-1.4v2.8M258.2 168.9h3.6m-1.8-1.4v2.8M258.3 168.7h3.6m-1.8-1.4v2.8M258.4 168.9h3.6m-1.8-1.4v2.8M258.5 168.6h3.6m-1.8-1.4v2.8M258.6 168.9h3.6m-1.8-1.4v2.8M258.7 168.8h3.6m-1.8-1.4v2.8M258.8 168.6h3.6m-1.8-1.4v2.8M258.9 168.9h3.6m-1.8-1.4v2.8M259.0 168.8h3.6m-1.8-1.4v2.8M259.1 168.7h3.6m-1.8-1.4v2.8M259.2 168.8h3.6m-1.8-1.4v2.8M259.3 169.0h3.6m-1.8-1.4v2.8M259.4 168.5h3.6m-1.8-1.4v2.8M259.5 168.7h3.6m-1.8-1.4v2.8M259.6 169.0h3.6m-1.8-1.4v2.8M259.7 168.8h3.6m-1.8-1.4v2.8M259.8 169.0h3.6m-1.8-1.4v2.8M259.9 169.4h3.6m-1.8-1.4v2.8M260.0 168.5h3.6m-1.8-1.4v2.8M260.1 168.9h3.6m-1.8-1.4v2.8M260.2 168.7h3.6m-1.8-1.4v2.8M260.3 169.2h3.6m-1.8-1.4v2.8M260.4 168.9h3.6m-1.8-1.4v2.8M260.5 168.4h3.6m-1.8-1.4v2.8M260.6 169.0h3.6m-1.8-1.4v2.8M260.7 168.7h3.6m-1.8-1.4v2.8M260.8 168.6h3.6m-1.8-1.4v2.8M260.9 168.6h3.6m-1.8-1.4v2.8M261.0 168.5h3.6m-1.8-1.4v2.8M261.1 168.1h3.6m-1.8-1.4v2.8M261.2 168.1h3.6m-1.8-1.4v2.8M261.3 168.5h3.6m-1.8-1.4v2.8M261.4 167.8h3.6m-1.8-1.4v2.8M261.5 168.0h3.6m-1.8-1.4v2.8M261.6 168.4h3.6m-1.8-1.4v2.8M261.7 168.1h3.6m-1.8-1.4v2.8M261.8 168.4h3.6m-1.8-1.4v2.8M261.9 168.7h3.6m-1.8-1.4v2.8M262.0 168.5h3.6m-1.8-1.4v2.8M262.1 168.7h3.6m-1.8-1.4v2.8M262.2 168.6h3.6m-1.8-1.4v2.8M262.3 168.8h3.6m-1.8-1.4v2.8M262.4 168.9h3.6m-1.8-1.4v2.8M262.5 168.8h3.6m-1.8-1.4v2.8M262.6 168.9h3.6m-1.8-1.4v2.8M262.7 169.0h3.6m-1.8-1.4v2.8M262.8 169.1h3.6m-1.8-1.4v2.8M262.9 168.6h3.6m-1.8-1.4v2.8M263.0 168.9h3.6m-1.8-1.4v2.8M263.1 169.3h3.6m-1.8-1.4v2.8M263.2 168.8h3.6m-1.8-1.4v2.8M263.3 168.8h3.6m-1.8-1.4v2.8M263.4 168.9h3.6m-1.8-1.4v2.8M263.5 168.7h3.6m-1.8-1.4v2.8M263.6 169.0h3.6m-1.8-1.4v2.8M263.7 168.9h3.6m-1.8-1.4v2.8M263.8 168.8h3.6m-1.8-1.4v2.8M263.9 169.1h3.6m-1.8-1.4v2.8M264.0 169.2h3.6m-1.8-1.4v2.8M264.1 168.5h3.6m-1.8-1.4v2.8M264.2 168.8h3.6m-1.8-1.4v2.8M264.3 168.8h3.6m-1.8-1.4v2.8M264.4 168.5h3.6m-1.8-1.4v2.8M264.5 169.1h3.6m-1.8-1.4v2.8M264.6 169.4h3.6m-1.8-1.4v2.8M264.7 169.1h3.6m-1.8-1.4v2.8M264.8 169.2h3.6m-1.8-1.4v2.8M264.9 168.4h3.6m-1.8-1.4v2.8M265.0 168.8h3.6m-1.8-1.4v2.8M265.1 168.5h3.6m-1.8-1.4v2.8M265.2 169.0h3.6m-1.8-1.4v2.8M265.3 168.8h3.6m-1.8-1.4v2.8M265.4 168.8h3.6m-1.8-1.4v2.8M265.5 169.0h3.6m-1.8-1.4v2.8M265.6 169.0h3.6m-1.8-1.4v2.8M265.7 169.2h3.6m-1.8-1.4v2.8M265.8 169.1h3.6m-1.8-1.4v2.8M265.9 169.0h3.6m-1.8-1.4v2.8M266.0 168.4h3.6m-1.8-1.4v2.8M266.1 169.1h3.6m-1.8-1.4v2.8M266.2 168.8h3.6m-1.8-1.4v2.8M266.3 168.4h3.6m-1.8-1.4v2.8M266.4 168.8h3.6m-1.8-1.4v2.8M266.5 168.6h3.6m-1.8-1.4v2.8M266.6 168.6h3.6m-1.8-1.4v2.8M266.7 168.9h3.6m-1.8-1.4v2.8M266.8 168.3h3.6m-1.8-1.4v2.8M266.9 168.7h3.6m-1.8-1.4v2.8M267.0 168.8h3.6m-1.8-1.4v2.8M267.1 168.2h3.6m-1.8-1.4v2.8M267.2 168.7h3.6m-1.8-1.4v2.8M267.3 168.0h3.6m-1.8-1.4v2.8M267.4 167.8h3.6m-1.8-1.4v2.8M267.5 167.9h3.6m-1.8-1.4v2.8M267.6 167.4h3.6m-1.8-1.4v2.8M267.7 166.6h3.6m-1.8-1.4v2.8M267.8 166.6h3.6m-1.8-1.4v2.8M267.9 166.9h3.6m-1.8-1.4v2.8M268.0 166.7h3.6m-1.8-1.4v2.8M268.1 166.9h3.6m-1.8-1.4v2.8M268.2 167.4h3.6m-1.8-1.4v2.8M268.3 167.7h3.6m-1.8-1.4v2.8M268.4 167.8h3.6m-1.8-1.4v2.8M268.5 168.0h3.6m-1.8-1.4v2.8M268.6 168.5h3.6m-1.8-1.4v2.8M268.7 168.8h3.6m-1.8-1.4v2.8M268.8 167.9h3.6m-1.8-1.4v2.8M268.9 168.7h3.6m-1.8-1.4v2.8M269.0 168.9h3.6m-1.8-1.4v2.8M269.1 168.5h3.6m-1.8-1.4v2.8M269.2 169.1h3.6m-1.8-1.4v2.8M269.3 168.4h3.6m-1.8-1.4v2.8M269.4 169.0h3.6m-1.8-1.4v2.8M269.5 169.2h3.6m-1.8-1.4v2.8M269.6 169.2h3.6m-1.8-1.4v2.8M269.7 168.2h3.6m-1.8-1.4v2.8M269.8 168.9h3.6m-1.8-1.4v2.8M269.9 168.6h3.6m-1.8-1.4v2.8M270.0 169.0h3.6m-1.8-1.4v2.8M270.1 169.3h3.6m-1.8-1.4v2.8M270.2 169.0h3.6m-1.8-1.4v2.8M270.3 169.3h3.6m-1.8-1.4v2.8M270.4 168.5h3.6m-1.8-1.4v2.8M270.5 168.7h3.6m-1.8-1.4v2.8M270.6 168.8h3.6m-1.8-1.4v2.8M270.7 169.1h3.6m-1.8-1.4v2.8M270.8 169.3h3.6m-1.8-1.4v2.8M270.9 168.8h3.6m-1.8-1.4v2.8M271.0 168.8h3.6m-1.8-1.4v2.8M271.1 169.2h3.6m-1.8-1.4v2.8M271.2 168.7h3.6m-1.8-1.4v2.8M271.3 169.2h3.6m-1.8-1.4v2.8M271.4 168.8h3.6m-1.8-1.4v2.8M271.5 169.0h3.6m-1.8-1.4v2.8M271.6 169.6h3.6m-1.8-1.4v2.8M271.7 169.0h3.6m-1.8-1.4v2.8M271.8 169.1h3.6m-1.8-1.4v2.8M271.9 168.8h3.6m-1.8-1.4v2.8M272.0 169.2h3.6m-1.8-1.4v2.8M272.1 169.4h3.6m-1.8-1.4v2.8M272.2 169.2h3.6m-1.8-1.4v2.8M272.3 168.7h3.6m-1.8-1.4v2.8M272.4 169.2h3.6m-1.8-1.4v2.8M272.5 169.5h3.6m-1.8-1.4v2.8M272.6 168.8h3.6m-1.8-1.4v2.8M272.7 169.0h3.6m-1.8-1.4v2.8M272.8 168.8h3.6m-1.8-1.4v2.8M272.9 168.9h3.6m-1.8-1.4v2.8M273.0 168.8h3.6m-1.8-1.4v2.8M273.1 168.7h3.6m-1.8-1.4v2.8M273.2 169.2h3.6m-1.8-1.4v2.8M273.3 169.1h3.6m-1.8-1.4v2.8M273.4 168.5h3.6m-1.8-1.4v2.8M273.5 168.8h3.6m-1.8-1.4v2.8M273.6 168.9h3.6m-1.8-1.4v2.8M273.7 168.8h3.6m-1.8-1.4v2.8M273.8 169.0h3.6m-1.8-1.4v2.8M273.9 168.9h3.6m-1.8-1.4v2.8M274.0 169.0h3.6m-1.8-1.4v2.8M274.1 168.5h3.6m-1.8-1.4v2.8M274.2 168.6h3.6m-1.8-1.4v2.8M274.3 168.7h3.6m-1.8-1.4v2.8M274.4 168.7h3.6m-1.8-1.4v2.8M274.5 168.8h3.6m-1.8-1.4v2.8M274.6 168.7h3.6m-1.8-1.4v2.8M274.7 168.9h3.6m-1.8-1.4v2.8M274.8 169.4h3.6m-1.8-1.4v2.8M274.9 168.9h3.6m-1.8-1.4v2.8M275.0 168.7h3.6m-1.8-1.4v2.8M275.1 169.2h3.6m-1.8-1.4v2.8M275.2 168.9h3.6m-1.8-1.4v2.8M275.3 169.3h3.6m-1.8-1.4v2.8M275.4 169.4h3.6m-1.8-1.4v2.8M275.5 169.5h3.6m-1.8-1.4v2.8M275.6 169.2h3.6m-1.8-1.4v2.8M275.7 168.7h3.6m-1.8-1.4v2.8M275.8 169.5h3.6m-1.8-1.4v2.8M275.9 169.4h3.6m-1.8-1.4v2.8M276.0 169.5h3.6m-1.8-1.4v2.8M276.1 169.2h3.6m-1.8-1.4v2.8M276.2 169.1h3.6m-1.8-1.4v2.8M276.3 169.1h3.6m-1.8-1.4v2.8M276.4 168.7h3.6m-1.8-1.4v2.8M276.5 169.4h3.6m-1.8-1.4v2.8M276.6 169.0h3.6m-1.8-1.4v2.8M276.7 169.0h3.6m-1.8-1.4v2.8M276.8 169.2h3.6m-1.8-1.4v2.8M276.9 168.9h3.6m-1.8-1.4v2.8M277.0 169.3h3.6m-1.8-1.4v2.8M277.1 169.0h3.6m-1.8-1.4v2.8M277.2 169.7h3.6m-1.8-1.4v2.8M277.3 169.4h3.6m-1.8-1.4v2.8M277.4 169.3h3.6m-1.8-1.4v2.8M277.5 169.2h3.6m-1.8-1.4v2.8M277.6 169.1h3.6m-1.8-1.4v2.8M277.7 169.0h3.6m-1.8-1.4v2.8M277.8 168.7h3.6m-1.8-1.4v2.8M277.9 169.0h3.6m-1.8-1.4v2.8M278.0 168.9h3.6m-1.8-1.4v2.8M278.1 169.0h3.6m-1.8-1.4v2.8M278.2 169.1h3.6m-1.8-1.4v2.8M278.3 168.6h3.6m-1.8-1.4v2.8M278.4 168.8h3.6m-1.8-1.4v2.8M278.5 168.9h3.6m-1.8-1.4v2.8M278.6 169.0h3.6m-1.8-1.4v2.8M278.7 169.3h3.6m-1.8-1.4v2.8M278.8 169.8h3.6m-1.8-1.4v2.8M278.9 169.0h3.6m-1.8-1.4v2.8M279.0 169.2h3.6m-1.8-1.4v2.8M279.1 169.1h3.6m-1.8-1.4v2.8M279.2 169.1h3.6m-1.8-1.4v2.8M279.3 169.5h3.6m-1.8-1.4v2.8M279.4 169.1h3.6m-1.8-1.4v2.8M279.5 169.2h3.6m-1.8-1.4v2.8M279.6 169.0h3.6m-1.8-1.4v2.8M279.7 168.8h3.6m-1.8-1.4v2.8M279.8 169.2h3.6m-1.8-1.4v2.8M279.9 168.9h3.6m-1.8-1.4v2.8M280.0 169.3h3.6m-1.8-1.4v2.8M280.1 168.6h3.6m-1.8-1.4v2.8M280.2 168.9h3.6m-1.8-1.4v2.8M280.3 169.1h3.6m-1.8-1.4v2.8M280.4 168.5h3.6m-1.8-1.4v2.8M280.5 168.6h3.6m-1.8-1.4v2.8M280.6 168.8h3.6m-1.8-1.4v2.8M280.7 168.5h3.6m-1.8-1.4v2.8M280.8 168.2h3.6m-1.8-1.4v2.8M280.9 168.4h3.6m-1.8-1.4v2.8M281.0 168.7h3.6m-1.8-1.4v2.8M281.1 168.6h3.6m-1.8-1.4v2.8M281.2 168.7h3.6m-1.8-1.4v2.8M281.3 168.9h3.6m-1.8-1.4v2.8M281.4 168.6h3.6m-1.8-1.4v2.8M281.5 169.4h3.6m-1.8-1.4v2.8M281.6 168.9h3.6m-1.8-1.4v2.8M281.7 169.0h3.6m-1.8-1.4v2.8M281.8 169.1h3.6m-1.8-1.4v2.8M281.9 169.4h3.6m-1.8-1.4v2.8M282.0 169.0h3.6m-1.8-1.4v2.8M282.1 169.6h3.6m-1.8-1.4v2.8M282.2 169.6h3.6m-1.8-1.4v2.8M282.3 169.3h3.6m-1.8-1.4v2.8M282.4 168.8h3.6m-1.8-1.4v2.8M282.5 168.8h3.6m-1.8-1.4v2.8M282.6 169.1h3.6m-1.8-1.4v2.8M282.7 169.2h3.6m-1.8-1.4v2.8M282.8 169.3h3.6m-1.8-1.4v2.8M282.9 169.5h3.6m-1.8-1.4v2.8M283.0 169.3h3.6m-1.8-1.4v2.8M283.1 169.2h3.6m-1.8-1.4v2.8M283.2 169.3h3.6m-1.8-1.4v2.8M283.3 168.7h3.6m-1.8-1.4v2.8M283.4 169.5h3.6m-1.8-1.4v2.8M283.5 168.8h3.6m-1.8-1.4v2.8M283.6 168.7h3.6m-1.8-1.4v2.8M283.7 169.0h3.6m-1.8-1.4v2.8M283.8 169.1h3.6m-1.8-1.4v2.8M283.9 168.9h3.6m-1.8-1.4v2.8M284.0 169.2h3.6m-1.8-1.4v2.8M284.1 169.3h3.6m-1.8-1.4v2.8M284.2 169.4h3.6m-1.8-1.4v2.8M284.3 169.3h3.6m-1.8-1.4v2.8M284.4 169.1h3.6m-1.8-1.4v2.8M284.5 169.3h3.6m-1.8-1.4v2.8M284.6 169.6h3.6m-1.8-1.4v2.8M284.7 169.2h3.6m-1.8-1.4v2.8M284.8 169.2h3.6m-1.8-1.4v2.8M284.9 168.7h3.6m-1.8-1.4v2.8M285.0 169.3h3.6m-1.8-1.4v2.8M285.1 169.8h3.6m-1.8-1.4v2.8M285.2 169.5h3.6m-1.8-1.4v2.8M285.3 169.2h3.6m-1.8-1.4v2.8M285.4 169.6h3.6m-1.8-1.4v2.8M285.5 169.6h3.6m-1.8-1.4v2.8M285.6 169.6h3.6m-1.8-1.4v2.8M285.7 169.0h3.6m-1.8-1.4v2.8M285.8 169.0h3.6m-1.8-1.4v2.8M285.9 169.5h3.6m-1.8-1.4v2.8M286.0 169.4h3.6m-1.8-1.4v2.8M286.1 169.4h3.6m-1.8-1.4v2.8M286.2 168.9h3.6m-1.8-1.4v2.8M286.3 169.5h3.6m-1.8-1.4v2.8M286.4 169.7h3.6m-1.8-1.4v2.8M286.5 169.5h3.6m-1.8-1.4v2.8M286.6 169.9h3.6m-1.8-1.4v2.8M286.7 169.3h3.6m-1.8-1.4v2.8M286.8 169.2h3.6m-1.8-1.4v2.8M286.9 169.7h3.6m-1.8-1.4v2.8M287.0 169.5h3.6m-1.8-1.4v2.8M287.1 168.7h3.6m-1.8-1.4v2.8M287.2 168.9h3.6m-1.8-1.4v2.8M287.3 169.3h3.6m-1.8-1.4v2.8M287.4 169.2h3.6m-1.8-1.4v2.8M287.5 169.8h3.6m-1.8-1.4v2.8M287.6 169.7h3.6m-1.8-1.4v2.8M287.7 169.6h3.6m-1.8-1.4v2.8M287.8 169.2h3.6m-1.8-1.4v2.8M287.9 169.3h3.6m-1.8-1.4v2.8M288.0 169.5h3.6m-1.8-1.4v2.8M288.1 169.2h3.6m-1.8-1.4v2.8M288.2 169.5h3.6m-1.8-1.4v2.8M288.3 169.4h3.6m-1.8-1.4v2.8M288.4 169.5h3.6m-1.8-1.4v2.8M288.5 169.4h3.6m-1.8-1.4v2.8M288.6 169.1h3.6m-1.8-1.4v2.8M288.7 168.6h3.6m-1.8-1.4v2.8M288.8 169.0h3.6m-1.8-1.4v2.8M288.9 169.0h3.6m-1.8-1.4v2.8M289.0 169.5h3.6m-1.8-1.4v2.8M289.1 169.0h3.6m-1.8-1.4v2.8M289.2 169.2h3.6m-1.8-1.4v2.8M289.3 169.5h3.6m-1.8-1.4v2.8M289.4 169.5h3.6m-1.8-1.4v2.8M289.5 169.6h3.6m-1.8-1.4v2.8M289.6 169.5h3.6m-1.8-1.4v2.8M289.7 169.7h3.6m-1.8-1.4v2.8M289.8 169.2h3.6m-1.8-1.4v2.8M289.9 169.6h3.6m-1.8-1.4v2.8M290.0 169.0h3.6m-1.8-1.4v2.8M290.1 169.2h3.6m-1.8-1.4v2.8M290.2 169.5h3.6m-1.8-1.4v2.8M290.3 169.5h3.6m-1.8-1.4v2.8M290.4 169.3h3.6m-1.8-1.4v2.8M290.5 169.2h3.6m-1.8-1.4v2.8M290.6 169.0h3.6m-1.8-1.4v2.8M290.7 168.8h3.6m-1.8-1.4v2.8M290.8 168.9h3.6m-1.8-1.4v2.8M290.9 169.8h3.6m-1.8-1.4v2.8M291.0 168.9h3.6m-1.8-1.4v2.8M291.1 169.0h3.6m-1.8-1.4v2.8M291.2 168.9h3.6m-1.8-1.4v2.8M291.3 169.3h3.6m-1.8-1.4v2.8M291.4 169.3h3.6m-1.8-1.4v2.8M291.5 169.2h3.6m-1.8-1.4v2.8M291.6 169.0h3.6m-1.8-1.4v2.8M291.7 169.3h3.6m-1.8-1.4v2.8M291.8 169.0h3.6m-1.8-1.4v2.8M291.9 169.4h3.6m-1.8-1.4v2.8M292.0 169.7h3.6m-1.8-1.4v2.8M292.1 169.0h3.6m-1.8-1.4v2.8M292.2 169.3h3.6m-1.8-1.4v2.8M292.3 169.0h3.6m-1.8-1.4v2.8M292.4 169.0h3.6m-1.8-1.4v2.8M292.5 168.7h3.6m-1.8-1.4v2.8M292.6 168.9h3.6m-1.8-1.4v2.8M292.7 168.8h3.6m-1.8-1.4v2.8M292.8 169.1h3.6m-1.8-1.4v2.8M292.9 169.4h3.6m-1.8-1.4v2.8M293.0 168.6h3.6m-1.8-1.4v2.8M293.1 169.3h3.6m-1.8-1.4v2.8M293.2 168.9h3.6m-1.8-1.4v2.8M293.3 169.0h3.6m-1.8-1.4v2.8M293.4 168.9h3.6m-1.8-1.4v2.8M293.5 169.4h3.6m-1.8-1.4v2.8M293.6 169.6h3.6m-1.8-1.4v2.8M293.7 169.3h3.6m-1.8-1.4v2.8M293.8 169.4h3.6m-1.8-1.4v2.8M293.9 169.2h3.6m-1.8-1.4v2.8M294.0 169.3h3.6m-1.8-1.4v2.8M294.1 169.0h3.6m-1.8-1.4v2.8M294.2 169.4h3.6m-1.8-1.4v2.8M294.3 168.9h3.6m-1.8-1.4v2.8M294.4 170.0h3.6m-1.8-1.4v2.8M294.5 169.7h3.6m-1.8-1.4v2.8M294.6 169.2h3.6m-1.8-1.4v2.8M294.7 169.3h3.6m-1.8-1.4v2.8M294.8 169.3h3.6m-1.8-1.4v2.8M294.9 169.4h3.6m-1.8-1.4v2.8M295.0 169.5h3.6m-1.8-1.4v2.8M295.1 169.9h3.6m-1.8-1.4v2.8M295.2 169.3h3.6m-1.8-1.4v2.8M295.3 168.9h3.6m-1.8-1.4v2.8M295.4 169.5h3.6m-1.8-1.4v2.8M295.5 169.5h3.6m-1.8-1.4v2.8M295.6 169.2h3.6m-1.8-1.4v2.8M295.7 169.6h3.6m-1.8-1.4v2.8M295.8 169.4h3.6m-1.8-1.4v2.8M295.9 169.2h3.6m-1.8-1.4v2.8M296.0 169.4h3.6m-1.8-1.4v2.8M296.1 169.1h3.6m-1.8-1.4v2.8M296.2 169.3h3.6m-1.8-1.4v2.8M296.3 169.9h3.6m-1.8-1.4v2.8M296.4 169.7h3.6m-1.8-1.4v2.8M296.5 169.6h3.6m-1.8-1.4v2.8M296.6 169.5h3.6m-1.8-1.4v2.8M296.7 169.5h3.6m-1.8-1.4v2.8M296.8 169.1h3.6m-1.8-1.4v2.8M296.9 169.5h3.6m-1.8-1.4v2.8M297.0 169.3h3.6m-1.8-1.4v2.8M297.1 169.3h3.6m-1.8-1.4v2.8M297.2 169.8h3.6m-1.8-1.4v2.8M297.3 169.3h3.6m-1.8-1.4v2.8M297.4 169.5h3.6m-1.8-1.4v2.8M297.5 169.5h3.6m-1.8-1.4v2.8M297.6 169.7h3.6m-1.8-1.4v2.8M297.7 169.4h3.6m-1.8-1.4v2.8M297.8 169.6h3.6m-1.8-1.4v2.8M297.9 169.5h3.6m-1.8-1.4v2.8M298.0 169.4h3.6m-1.8-1.4v2.8M298.1 169.3h3.6m-1.8-1.4v2.8M298.2 169.2h3.6m-1.8-1.4v2.8M298.3 169.7h3.6m-1.8-1.4v2.8M298.4 169.2h3.6m-1.8-1.4v2.8M298.5 169.8h3.6m-1.8-1.4v2.8M298.6 169.9h3.6m-1.8-1.4v2.8M298.7 169.3h3.6m-1.8-1.4v2.8M298.8 169.2h3.6m-1.8-1.4v2.8M298.9 169.2h3.6m-1.8-1.4v2.8M299.0 169.3h3.6m-1.8-1.4v2.8M299.1 169.8h3.6m-1.8-1.4v2.8M299.2 169.3h3.6m-1.8-1.4v2.8M299.3 169.2h3.6m-1.8-1.4v2.8M299.4 169.1h3.6m-1.8-1.4v2.8M299.5 169.5h3.6m-1.8-1.4v2.8M299.6 169.6h3.6m-1.8-1.4v2.8M299.7 169.9h3.6m-1.8-1.4v2.8M299.8 169.5h3.6m-1.8-1.4v2.8M299.9 169.5h3.6m-1.8-1.4v2.8M300.0 169.5h3.6m-1.8-1.4v2.8M300.1 170.2h3.6m-1.8-1.4v2.8M300.2 169.9h3.6m-1.8-1.4v2.8M300.3 169.7h3.6m-1.8-1.4v2.8M300.4 169.4h3.6m-1.8-1.4v2.8M300.5 169.4h3.6m-1.8-1.4v2.8M300.6 169.5h3.6m-1.8-1.4v2.8M300.7 169.5h3.6m-1.8-1.4v2.8M300.8 169.6h3.6m-1.8-1.4v2.8M300.9 169.3h3.6m-1.8-1.4v2.8M301.0 170.0h3.6m-1.8-1.4v2.8M301.1 169.2h3.6m-1.8-1.4v2.8M301.2 169.7h3.6m-1.8-1.4v2.8M301.3 169.7h3.6m-1.8-1.4v2.8M301.4 169.7h3.6m-1.8-1.4v2.8M301.5 169.8h3.6m-1.8-1.4v2.8M301.6 169.6h3.6m-1.8-1.4v2.8M301.7 169.6h3.6m-1.8-1.4v2.8M301.8 169.9h3.6m-1.8-1.4v2.8M301.9 169.8h3.6m-1.8-1.4v2.8M302.0 169.5h3.6m-1.8-1.4v2.8M302.1 169.7h3.6m-1.8-1.4v2.8M302.2 169.2h3.6m-1.8-1.4v2.8M302.3 169.6h3.6m-1.8-1.4v2.8M302.4 169.0h3.6m-1.8-1.4v2.8M302.5 169.8h3.6m-1.8-1.4v2.8M302.6 169.4h3.6m-1.8-1.4v2.8M302.7 169.8h3.6m-1.8-1.4v2.8M302.8 169.6h3.6m-1.8-1.4v2.8M302.9 169.4h3.6m-1.8-1.4v2.8M303.0 169.7h3.6m-1.8-1.4v2.8M303.1 169.9h3.6m-1.8-1.4v2.8M303.2 169.3h3.6m-1.8-1.4v2.8M303.3 170.0h3.6m-1.8-1.4v2.8M303.4 169.6h3.6m-1.8-1.4v2.8M303.5 169.3h3.6m-1.8-1.4v2.8M303.6 169.5h3.6m-1.8-1.4v2.8M303.7 169.6h3.6m-1.8-1.4v2.8M303.8 169.7h3.6m-1.8-1.4v2.8M303.9 169.3h3.6m-1.8-1.4v2.8M304.0 169.4h3.6m-1.8-1.4v2.8M304.1 169.7h3.6m-1.8-1.4v2.8M304.2 169.6h3.6m-1.8-1.4v2.8M304.3 170.0h3.6m-1.8-1.4v2.8M304.4 169.8h3.6m-1.8-1.4v2.8M304.5 169.8h3.6m-1.8-1.4v2.8M304.6 169.3h3.6m-1.8-1.4v2.8M304.7 169.3h3.6m-1.8-1.4v2.8M304.8 169.3h3.6m-1.8-1.4v2.8M304.9 169.5h3.6m-1.8-1.4v2.8M305.0 169.7h3.6m-1.8-1.4v2.8M305.1 170.0h3.6m-1.8-1.4v2.8M305.2 169.8h3.6m-1.8-1.4v2.8M305.3 169.3h3.6m-1.8-1.4v2.8M305.4 169.5h3.6m-1.8-1.4v2.8M305.5 170.1h3.6m-1.8-1.4v2.8M305.6 169.6h3.6m-1.8-1.4v2.8M305.7 169.7h3.6m-1.8-1.4v2.8M305.8 169.2h3.6m-1.8-1.4v2.8M305.9 169.2h3.6m-1.8-1.4v2.8M306.0 169.4h3.6m-1.8-1.4v2.8M306.1 169.5h3.6m-1.8-1.4v2.8M306.2 169.7h3.6m-1.8-1.4v2.8M306.3 169.5h3.6m-1.8-1.4v2.8M306.4 169.1h3.6m-1.8-1.4v2.8M306.5 170.2h3.6m-1.8-1.4v2.8M306.6 169.7h3.6m-1.8-1.4v2.8M306.7 169.2h3.6m-1.8-1.4v2.8M306.8 170.0h3.6m-1.8-1.4v2.8M306.9 169.8h3.6m-1.8-1.4v2.8M307.0 169.5h3.6m-1.8-1.4v2.8M307.1 169.6h3.6m-1.8-1.4v2.8M307.2 169.7h3.6m-1.8-1.4v2.8M307.3 169.0h3.6m-1.8-1.4v2.8M307.4 169.8h3.6m-1.8-1.4v2.8M307.5 169.7h3.6m-1.8-1.4v2.8M307.6 169.8h3.6m-1.8-1.4v2.8M307.7 169.4h3.6m-1.8-1.4v2.8M307.8 169.4h3.6m-1.8-1.4v2.8M307.9 170.0h3.6m-1.8-1.4v2.8M308.0 168.8h3.6m-1.8-1.4v2.8M308.1 169.9h3.6m-1.8-1.4v2.8M308.2 169.9h3.6m-1.8-1.4v2.8M308.3 169.2h3.6m-1.8-1.4v2.8M308.4 169.5h3.6m-1.8-1.4v2.8M308.5 169.4h3.6m-1.8-1.4v2.8M308.6 169.5h3.6m-1.8-1.4v2.8M308.7 169.3h3.6m-1.8-1.4v2.8M308.8 169.3h3.6m-1.8-1.4v2.8M308.9 169.6h3.6m-1.8-1.4v2.8M309.0 169.5h3.6m-1.8-1.4v2.8M309.1 169.7h3.6m-1.8-1.4v2.8M309.2 169.8h3.6m-1.8-1.4v2.8M309.3 169.5h3.6m-1.8-1.4v2.8M309.4 170.1h3.6m-1.8-1.4v2.8M309.5 170.0h3.6m-1.8-1.4v2.8M309.6 169.2h3.6m-1.8-1.4v2.8M309.7 169.6h3.6m-1.8-1.4v2.8M309.8 169.5h3.6m-1.8-1.4v2.8M309.9 169.7h3.6m-1.8-1.4v2.8M310.0 169.4h3.6m-1.8-1.4v2.8M310.1 170.0h3.6m-1.8-1.4v2.8M310.2 169.5h3.6m-1.8-1.4v2.8M310.3 170.1h3.6m-1.8-1.4v2.8M310.4 169.4h3.6m-1.8-1.4v2.8M310.5 170.1h3.6m-1.8-1.4v2.8M310.6 169.7h3.6m-1.8-1.4v2.8M310.7 169.9h3.6m-1.8-1.4v2.8M310.8 169.7h3.6m-1.8-1.4v2.8M310.9 169.7h3.6m-1.8-1.4v2.8M311.0 169.4h3.6m-1.8-1.4v2.8M311.1 169.6h3.6m-1.8-1.4v2.8M311.2 169.4h3.6m-1.8-1.4v2.8M311.3 169.6h3.6m-1.8-1.4v2.8M311.4 169.5h3.6m-1.8-1.4v2.8M311.5 169.8h3.6m-1.8-1.4v2.8M311.6 169.7h3.6m-1.8-1.4v2.8M311.7 169.6h3.6m-1.8-1.4v2.8M311.8 169.2h3.6m-1.8-1.4v2.8M311.9 169.9h3.6m-1.8-1.4v2.8M312.0 169.5h3.6m-1.8-1.4v2.8M312.1 169.5h3.6m-1.8-1.4v2.8M312.2 169.7h3.6m-1.8-1.4v2.8M312.3 169.6h3.6m-1.8-1.4v2.8M312.4 169.7h3.6m-1.8-1.4v2.8M312.5 169.7h3.6m-1.8-1.4v2.8M312.6 169.2h3.6m-1.8-1.4v2.8M312.7 169.8h3.6m-1.8-1.4v2.8M312.8 169.6h3.6m-1.8-1.4v2.8M312.9 169.8h3.6m-1.8-1.4v2.8M313.0 169.7h3.6m-1.8-1.4v2.8M313.1 169.5h3.6m-1.8-1.4v2.8M313.2 170.0h3.6m-1.8-1.4v2.8M313.3 169.7h3.6m-1.8-1.4v2.8M313.4 169.9h3.6m-1.8-1.4v2.8M313.5 169.8h3.6m-1.8-1.4v2.8M313.6 169.8h3.6m-1.8-1.4v2.8M313.7 169.9h3.6m-1.8-1.4v2.8M313.8 169.8h3.6m-1.8-1.4v2.8M313.9 169.4h3.6m-1.8-1.4v2.8M314.0 169.6h3.6m-1.8-1.4v2.8M314.1 170.0h3.6m-1.8-1.4v2.8M314.2 169.6h3.6m-1.8-1.4v2.8M314.3 169.6h3.6m-1.8-1.4v2.8M314.4 169.7h3.6m-1.8-1.4v2.8M314.5 169.9h3.6m-1.8-1.4v2.8M314.6 169.4h3.6m-1.8-1.4v2.8M314.7 169.6h3.6m-1.8-1.4v2.8M314.8 169.5h3.6m-1.8-1.4v2.8M314.9 169.5h3.6m-1.8-1.4v2.8M315.0 169.8h3.6m-1.8-1.4v2.8M315.1 169.5h3.6m-1.8-1.4v2.8M315.2 169.6h3.6m-1.8-1.4v2.8M315.3 169.6h3.6m-1.8-1.4v2.8M315.4 169.6h3.6m-1.8-1.4v2.8M315.5 169.6h3.6m-1.8-1.4v2.8M315.6 169.6h3.6m-1.8-1.4v2.8M315.7 169.2h3.6m-1.8-1.4v2.8M315.8 168.8h3.6m-1.8-1.4v2.8M315.9 169.7h3.6m-1.8-1.4v2.8M316.0 169.9h3.6m-1.8-1.4v2.8M316.1 169.4h3.6m-1.8-1.4v2.8M316.2 169.6h3.6m-1.8-1.4v2.8M316.3 169.8h3.6m-1.8-1.4v2.8M316.4 169.4h3.6m-1.8-1.4v2.8M316.5 169.6h3.6m-1.8-1.4v2.8M316.6 169.5h3.6m-1.8-1.4v2.8M316.7 169.8h3.6m-1.8-1.4v2.8M316.8 169.7h3.6m-1.8-1.4v2.8M316.9 170.1h3.6m-1.8-1.4v2.8M317.0 169.5h3.6m-1.8-1.4v2.8M317.1 169.5h3.6m-1.8-1.4v2.8M317.2 169.3h3.6m-1.8-1.4v2.8M317.3 169.7h3.6m-1.8-1.4v2.8M317.4 169.7h3.6m-1.8-1.4v2.8M317.5 169.6h3.6m-1.8-1.4v2.8M317.6 169.8h3.6m-1.8-1.4v2.8M317.7 169.5h3.6m-1.8-1.4v2.8M317.8 169.3h3.6m-1.8-1.4v2.8M317.9 170.2h3.6m-1.8-1.4v2.8M318.0 169.7h3.6m-1.8-1.4v2.8M318.1 169.5h3.6m-1.8-1.4v2.8M318.2 170.0h3.6m-1.8-1.4v2.8M318.3 169.7h3.6m-1.8-1.4v2.8M318.4 169.5h3.6m-1.8-1.4v2.8M318.5 169.8h3.6m-1.8-1.4v2.8M318.6 170.0h3.6m-1.8-1.4v2.8M318.7 169.9h3.6m-1.8-1.4v2.8M318.8 169.7h3.6m-1.8-1.4v2.8M318.9 170.1h3.6m-1.8-1.4v2.8M319.0 169.5h3.6m-1.8-1.4v2.8M319.1 169.7h3.6m-1.8-1.4v2.8M319.2 169.8h3.6m-1.8-1.4v2.8M319.3 169.5h3.6m-1.8-1.4v2.8M319.4 169.9h3.6m-1.8-1.4v2.8M319.5 169.8h3.6m-1.8-1.4v2.8M319.6 170.0h3.6m-1.8-1.4v2.8M319.7 169.8h3.6m-1.8-1.4v2.8M319.8 170.2h3.6m-1.8-1.4v2.8M319.9 169.4h3.6m-1.8-1.4v2.8M320.0 169.6h3.6m-1.8-1.4v2.8M320.1 169.6h3.6m-1.8-1.4v2.8M320.2 169.7h3.6m-1.8-1.4v2.8M320.3 169.9h3.6m-1.8-1.4v2.8M320.4 169.5h3.6m-1.8-1.4v2.8M320.5 170.0h3.6m-1.8-1.4v2.8M320.6 170.0h3.6m-1.8-1.4v2.8M320.7 169.8h3.6m-1.8-1.4v2.8M320.8 169.4h3.6m-1.8-1.4v2.8M320.9 169.9h3.6m-1.8-1.4v2.8M321.0 169.8h3.6m-1.8-1.4v2.8M321.1 169.5h3.6m-1.8-1.4v2.8M321.2 169.6h3.6m-1.8-1.4v2.8M321.3 169.6h3.6m-1.8-1.4v2.8M321.4 169.4h3.6m-1.8-1.4v2.8M321.5 169.8h3.6m-1.8-1.4v2.8M321.6 170.0h3.6m-1.8-1.4v2.8M321.7 169.8h3.6m-1.8-1.4v2.8M321.8 169.6h3.6m-1.8-1.4v2.8M321.9 169.7h3.6m-1.8-1.4v2.8M322.0 169.7h3.6m-1.8-1.4v2.8M322.1 170.2h3.6m-1.8-1.4v2.8M322.2 169.7h3.6m-1.8-1.4v2.8M322.3 169.9h3.6m-1.8-1.4v2.8M322.4 169.7h3.6m-1.8-1.4v2.8M322.5 170.0h3.6m-1.8-1.4v2.8M322.6 169.6h3.6m-1.8-1.4v2.8M322.7 169.9h3.6m-1.8-1.4v2.8M322.8 169.7h3.6m-1.8-1.4v2.8M322.9 169.9h3.6m-1.8-1.4v2.8M323.0 169.4h3.6m-1.8-1.4v2.8M323.1 169.7h3.6m-1.8-1.4v2.8M323.2 170.0h3.6m-1.8-1.4v2.8M323.3 169.9h3.6m-1.8-1.4v2.8M323.4 169.5h3.6m-1.8-1.4v2.8M323.5 170.4h3.6m-1.8-1.4v2.8M323.6 169.9h3.6m-1.8-1.4v2.8M323.7 169.7h3.6m-1.8-1.4v2.8M323.8 169.7h3.6m-1.8-1.4v2.8M323.9 169.6h3.6m-1.8-1.4v2.8M324.0 170.2h3.6m-1.8-1.4v2.8M324.1 170.1h3.6m-1.8-1.4v2.8M324.2 170.1h3.6m-1.8-1.4v2.8M324.3 169.5h3.6m-1.8-1.4v2.8M324.4 169.3h3.6m-1.8-1.4v2.8M324.5 169.3h3.6m-1.8-1.4v2.8M324.6 169.4h3.6m-1.8-1.4v2.8M324.7 169.6h3.6m-1.8-1.4v2.8M324.8 169.5h3.6m-1.8-1.4v2.8M324.9 169.4h3.6m-1.8-1.4v2.8M325.0 169.9h3.6m-1.8-1.4v2.8M325.1 169.6h3.6m-1.8-1.4v2.8M325.2 169.9h3.6m-1.8-1.4v2.8M325.3 170.1h3.6m-1.8-1.4v2.8M325.4 169.6h3.6m-1.8-1.4v2.8M325.5 169.7h3.6m-1.8-1.4v2.8M325.6 170.1h3.6m-1.8-1.4v2.8M325.7 169.4h3.6m-1.8-1.4v2.8M325.8 169.7h3.6m-1.8-1.4v2.8M325.9 169.5h3.6m-1.8-1.4v2.8M326.0 169.7h3.6m-1.8-1.4v2.8M326.1 169.6h3.6m-1.8-1.4v2.8M326.2 169.8h3.6m-1.8-1.4v2.8M326.3 169.7h3.6m-1.8-1.4v2.8M326.4 170.1h3.6m-1.8-1.4v2.8M326.5 169.6h3.6m-1.8-1.4v2.8M326.6 169.8h3.6m-1.8-1.4v2.8M326.7 170.0h3.6m-1.8-1.4v2.8M326.8 169.6h3.6m-1.8-1.4v2.8M326.9 169.6h3.6m-1.8-1.4v2.8M327.0 169.8h3.6m-1.8-1.4v2.8M327.1 169.7h3.6m-1.8-1.4v2.8M327.2 170.0h3.6m-1.8-1.4v2.8M327.3 169.6h3.6m-1.8-1.4v2.8M327.4 169.4h3.6m-1.8-1.4v2.8M327.5 170.0h3.6m-1.8-1.4v2.8M327.6 169.6h3.6m-1.8-1.4v2.8M327.7 169.6h3.6m-1.8-1.4v2.8M327.8 169.7h3.6m-1.8-1.4v2.8M327.9 170.1h3.6m-1.8-1.4v2.8M328.0 170.0h3.6m-1.8-1.4v2.8M328.1 169.9h3.6m-1.8-1.4v2.8M328.2 169.9h3.6m-1.8-1.4v2.8M328.3 169.7h3.6m-1.8-1.4v2.8M328.4 170.2h3.6m-1.8-1.4v2.8M328.5 170.1h3.6m-1.8-1.4v2.8M328.6 169.6h3.6m-1.8-1.4v2.8M328.7 170.0h3.6m-1.8-1.4v2.8M328.8 169.5h3.6m-1.8-1.4v2.8M328.9 169.6h3.6m-1.8-1.4v2.8M329.0 169.7h3.6m-1.8-1.4v2.8M329.1 170.2h3.6m-1.8-1.4v2.8M329.2 170.3h3.6m-1.8-1.4v2.8M329.3 169.8h3.6m-1.8-1.4v2.8M329.4 169.7h3.6m-1.8-1.4v2.8M329.5 170.2h3.6m-1.8-1.4v2.8M329.6 169.7h3.6m-1.8-1.4v2.8M329.7 170.2h3.6m-1.8-1.4v2.8M329.8 169.6h3.6m-1.8-1.4v2.8M329.9 170.1h3.6m-1.8-1.4v2.8M330.0 169.6h3.6m-1.8-1.4v2.8M330.1 170.3h3.6m-1.8-1.4v2.8M330.2 169.9h3.6m-1.8-1.4v2.8M330.3 169.7h3.6m-1.8-1.4v2.8M330.4 169.9h3.6m-1.8-1.4v2.8M330.5 169.3h3.6m-1.8-1.4v2.8M330.6 169.9h3.6m-1.8-1.4v2.8M330.7 170.0h3.6m-1.8-1.4v2.8M330.8 170.4h3.6m-1.8-1.4v2.8M330.9 169.6h3.6m-1.8-1.4v2.8M331.0 170.1h3.6m-1.8-1.4v2.8M331.1 170.2h3.6m-1.8-1.4v2.8M331.2 170.0h3.6m-1.8-1.4v2.8M331.3 169.8h3.6m-1.8-1.4v2.8M331.4 169.9h3.6m-1.8-1.4v2.8M331.5 169.7h3.6m-1.8-1.4v2.8M331.6 169.9h3.6m-1.8-1.4v2.8M331.7 169.6h3.6m-1.8-1.4v2.8M331.8 169.7h3.6m-1.8-1.4v2.8M331.9 169.9h3.6m-1.8-1.4v2.8M332.0 169.6h3.6m-1.8-1.4v2.8M332.1 169.5h3.6m-1.8-1.4v2.8M332.2 169.8h3.6m-1.8-1.4v2.8M332.3 169.9h3.6m-1.8-1.4v2.8M332.4 170.0h3.6m-1.8-1.4v2.8M332.5 170.0h3.6m-1.8-1.4v2.8M332.6 170.3h3.6m-1.8-1.4v2.8M332.7 169.9h3.6m-1.8-1.4v2.8M332.8 170.2h3.6m-1.8-1.4v2.8M332.9 169.6h3.6m-1.8-1.4v2.8M333.0 170.0h3.6m-1.8-1.4v2.8M333.1 170.1h3.6m-1.8-1.4v2.8M333.2 170.3h3.6m-1.8-1.4v2.8M333.3 169.7h3.6m-1.8-1.4v2.8M333.4 170.3h3.6m-1.8-1.4v2.8M333.5 169.9h3.6m-1.8-1.4v2.8M333.6 169.8h3.6m-1.8-1.4v2.8M333.7 169.5h3.6m-1.8-1.4v2.8M333.8 170.1h3.6m-1.8-1.4v2.8M333.9 169.8h3.6m-1.8-1.4v2.8M334.0 170.1h3.6m-1.8-1.4v2.8M334.1 169.9h3.6m-1.8-1.4v2.8M334.2 170.1h3.6m-1.8-1.4v2.8M334.3 169.9h3.6m-1.8-1.4v2.8M334.4 169.7h3.6m-1.8-1.4v2.8M334.5 169.8h3.6m-1.8-1.4v2.8M334.6 169.9h3.6m-1.8-1.4v2.8M334.7 170.0h3.6m-1.8-1.4v2.8M334.8 169.7h3.6m-1.8-1.4v2.8M334.9 170.1h3.6m-1.8-1.4v2.8M335.0 169.4h3.6m-1.8-1.4v2.8M335.1 169.6h3.6m-1.8-1.4v2.8M335.2 170.1h3.6m-1.8-1.4v2.8M335.3 170.0h3.6m-1.8-1.4v2.8M335.4 170.4h3.6m-1.8-1.4v2.8M335.5 170.2h3.6m-1.8-1.4v2.8M335.6 169.7h3.6m-1.8-1.4v2.8M335.7 169.6h3.6m-1.8-1.4v2.8M335.8 169.9h3.6m-1.8-1.4v2.8M335.9 169.9h3.6m-1.8-1.4v2.8M336.0 170.1h3.6m-1.8-1.4v2.8M336.1 169.8h3.6m-1.8-1.4v2.8M336.2 169.7h3.6m-1.8-1.4v2.8M336.3 169.7h3.6m-1.8-1.4v2.8M336.4 169.9h3.6m-1.8-1.4v2.8M336.5 169.7h3.6m-1.8-1.4v2.8M336.6 169.9h3.6m-1.8-1.4v2.8M336.7 170.1h3.6m-1.8-1.4v2.8M336.8 169.9h3.6m-1.8-1.4v2.8M336.9 169.7h3.6m-1.8-1.4v2.8M337.0 170.1h3.6m-1.8-1.4v2.8M337.1 170.1h3.6m-1.8-1.4v2.8M337.2 169.7h3.6m-1.8-1.4v2.8M337.3 169.8h3.6m-1.8-1.4v2.8M337.4 169.5h3.6m-1.8-1.4v2.8M337.5 169.7h3.6m-1.8-1.4v2.8M337.6 169.6h3.6m-1.8-1.4v2.8M337.7 169.6h3.6m-1.8-1.4v2.8M337.8 169.8h3.6m-1.8-1.4v2.8M337.9 170.4h3.6m-1.8-1.4v2.8M338.0 170.2h3.6m-1.8-1.4v2.8M338.1 169.8h3.6m-1.8-1.4v2.8M338.2 170.0h3.6m-1.8-1.4v2.8M338.3 170.0h3.6m-1.8-1.4v2.8M338.4 170.0h3.6m-1.8-1.4v2.8M338.5 169.4h3.6m-1.8-1.4v2.8M338.6 169.9h3.6m-1.8-1.4v2.8M338.7 169.7h3.6m-1.8-1.4v2.8M338.8 169.8h3.6m-1.8-1.4v2.8M338.9 169.9h3.6m-1.8-1.4v2.8M339.0 169.0h3.6m-1.8-1.4v2.8M339.1 169.3h3.6m-1.8-1.4v2.8M339.2 170.0h3.6m-1.8-1.4v2.8M339.3 170.3h3.6m-1.8-1.4v2.8M339.4 170.2h3.6m-1.8-1.4v2.8M339.5 169.7h3.6m-1.8-1.4v2.8M339.6 169.8h3.6m-1.8-1.4v2.8M339.7 170.1h3.6m-1.8-1.4v2.8M339.8 169.9h3.6m-1.8-1.4v2.8M339.9 169.4h3.6m-1.8-1.4v2.8M340.0 170.1h3.6m-1.8-1.4v2.8M340.1 169.8h3.6m-1.8-1.4v2.8M340.2 169.9h3.6m-1.8-1.4v2.8M340.3 169.5h3.6m-1.8-1.4v2.8M340.4 169.7h3.6m-1.8-1.4v2.8M340.5 170.3h3.6m-1.8-1.4v2.8M340.6 169.8h3.6m-1.8-1.4v2.8M340.7 170.1h3.6m-1.8-1.4v2.8M340.8 170.4h3.6m-1.8-1.4v2.8M340.9 170.0h3.6m-1.8-1.4v2.8M341.0 170.0h3.6m-1.8-1.4v2.8M341.1 169.9h3.6m-1.8-1.4v2.8M341.2 170.2h3.6m-1.8-1.4v2.8M341.3 170.1h3.6m-1.8-1.4v2.8M341.4 170.1h3.6m-1.8-1.4v2.8M341.5 170.4h3.6m-1.8-1.4v2.8M341.6 170.1h3.6m-1.8-1.4v2.8M341.7 170.3h3.6m-1.8-1.4v2.8M89.4 128.6h4.2m-2.1-1.4v2.8M89.7 130.7h4.2m-2.1-1.4v2.8M89.3 133.8h4.2m-2.1-1.4v2.8M89.8 136.0h4.2m-2.1-1.4v2.8M89.2 138.5h4.2m-2.1-1.4v2.8M89.9 141.2h4.2m-2.1-1.4v2.8M89.1 143.4h4.2m-2.1-1.4v2.8M90.0 145.2h4.2m-2.1-1.4v2.8M88.9 148.5h4.2m-2.1-1.4v2.8M90.2 151.4h4.2m-2.1-1.4v2.8M88.7 153.9h4.2m-2.1-1.4v2.8M112.3 19.4h4.2m-2.1-1.4v2.8M112.4 21.4h4.2m-2.1-1.4v2.8M112.2 23.0h4.2m-2.1-1.4v2.8M112.4 25.4h4.2m-2.1-1.4v2.8M112.2 28.6h4.2m-2.1-1.4v2.8M112.4 30.2h4.2m-2.1-1.4v2.8M112.1 33.6h4.2m-2.1-1.4v2.8M112.5 35.8h4.2m-2.1-1.4v2.8M112.1 39.1h4.2m-2.1-1.4v2.8M112.5 42.1h4.2m-2.1-1.4v2.8M112.1 44.0h4.2m-2.1-1.4v2.8M112.5 45.9h4.2m-2.1-1.4v2.8M112.1 49.0h4.2m-2.1-1.4v2.8M112.5 52.4h4.2m-2.1-1.4v2.8M112.0 55.4h4.2m-2.1-1.4v2.8M112.6 58.0h4.2m-2.1-1.4v2.8M112.0 60.5h4.2m-2.1-1.4v2.8M112.6 63.4h4.2m-2.1-1.4v2.8M112.0 66.5h4.2m-2.1-1.4v2.8M112.6 69.5h4.2m-2.1-1.4v2.8M112.0 71.5h4.2m-2.1-1.4v2.8M112.6 74.6h4.2m-2.1-1.4v2.8M111.9 77.9h4.2m-2.1-1.4v2.8M112.7 80.4h4.2m-2.1-1.4v2.8M111.9 81.8h4.2m-2.1-1.4v2.8M112.7 83.6h4.2m-2.1-1.4v2.8M111.9 86.3h4.2m-2.1-1.4v2.8M112.7 88.6h4.2m-2.1-1.4v2.8M111.9 91.8h4.2m-2.1-1.4v2.8M112.7 94.5h4.2m-2.1-1.4v2.8M111.9 97.3h4.2m-2.1-1.4v2.8M112.7 99.0h4.2m-2.1-1.4v2.8M111.8 101.4h4.2m-2.1-1.4v2.8M112.8 104.3h4.2m-2.1-1.4v2.8M111.8 107.5h4.2m-2.1-1.4v2.8M112.8 110.7h4.2m-2.1-1.4v2.8M111.8 112.6h4.2m-2.1-1.4v2.8M112.8 115.0h4.2m-2.1-1.4v2.8M111.7 118.4h4.2m-2.1-1.4v2.8M112.9 120.0h4.2m-2.1-1.4v2.8M111.7 121.5h4.2m-2.1-1.4v2.8M112.9 123.3h4.2m-2.1-1.4v2.8M111.7 126.1h4.2m-2.1-1.4v2.8M112.9 128.2h4.2m-2.1-1.4v2.8M111.6 131.0h4.2m-2.1-1.4v2.8M113.0 134.1h4.2m-2.1-1.4v2.8M111.6 137.1h4.2m-2.1-1.4v2.8M113.1 138.6h4.2m-2.1-1.4v2.8M111.5 141.3h4.2m-2.1-1.4v2.8M113.2 144.3h4.2m-2.1-1.4v2.8M111.3 147.1h4.2m-2.1-1.4v2.8M113.4 150.3h4.2m-2.1-1.4v2.8M111.1 153.3h4.2m-2.1-1.4v2.8M113.7 155.9h4.2m-2.1-1.4v2.8M110.4 159.1h4.2m-2.1-1.4v2.8M129.3 145.2h4.2m-2.1-1.4v2.8M129.6 147.2h4.2m-2.1-1.4v2.8M129.1 150.5h4.2m-2.1-1.4v2.8M129.7 152.5h4.2m-2.1-1.4v2.8M129.0 154.9h4.2m-2.1-1.4v2.8M129.9 158.0h4.2m-2.1-1.4v2.8M128.8 160.8h4.2m-2.1-1.4v2.8M144.1 132.6h4.2m-2.1-1.4v2.8M144.4 135.0h4.2m-2.1-1.4v2.8M144.0 136.6h4.2m-2.1-1.4v2.8M144.4 138.4h4.2m-2.1-1.4v2.8M143.9 140.1h4.2m-2.1-1.4v2.8M144.5 142.6h4.2m-2.1-1.4v2.8M143.9 145.0h4.2m-2.1-1.4v2.8M144.6 146.6h4.2m-2.1-1.4v2.8M143.8 149.2h4.2m-2.1-1.4v2.8M144.7 150.8h4.2m-2.1-1.4v2.8M143.7 153.0h4.2m-2.1-1.4v2.8M144.7 154.5h4.2m-2.1-1.4v2.8M143.6 156.8h4.2m-2.1-1.4v2.8M144.9 158.5h4.2m-2.1-1.4v2.8M143.3 161.8h4.2m-2.1-1.4v2.8M157.0 161.3h4.2m-2.1-1.4v2.8M157.7 163.6h4.2m-2.1-1.4v2.8M168.8 129.3h4.2m-2.1-1.4v2.8M169.1 131.2h4.2m-2.1-1.4v2.8M168.7 133.6h4.2m-2.1-1.4v2.8M169.1 136.3h4.2m-2.1-1.4v2.8M168.6 139.7h4.2m-2.1-1.4v2.8M169.2 142.5h4.2m-2.1-1.4v2.8M168.5 144.0h4.2m-2.1-1.4v2.8M169.3 146.3h4.2m-2.1-1.4v2.8M168.4 149.6h4.2m-2.1-1.4v2.8M169.4 152.7h4.2m-2.1-1.4v2.8M168.3 154.9h4.2m-2.1-1.4v2.8M169.5 156.5h4.2m-2.1-1.4v2.8M168.2 158.5h4.2m-2.1-1.4v2.8M169.8 161.4h4.2m-2.1-1.4v2.8M189.2 155.1h4.2m-2.1-1.4v2.8M189.7 157.0h4.2m-2.1-1.4v2.8M189.0 159.8h4.2m-2.1-1.4v2.8M190.0 162.6h4.2m-2.1-1.4v2.8M207.7 158.4h4.2m-2.1-1.4v2.8M208.2 161.1h4.2m-2.1-1.4v2.8M207.4 163.0h4.2m-2.1-1.4v2.8M239.6 163.3h4.2m-2.1-1.4v2.8" stroke="#000" stroke-width="1" fill="none"/>
<polyline points="70.80,166.53 71.00,166.50 71.20,166.47 71.40,166.44 71.60,166.40 71.80,166.37 72.00,166.33 72.20,166.30 72.40,166.26 72.60,166.23 72.80,166.19 73.00,166.15 73.20,166.12 73.40,166.08 73.60,166.04 73.80,166.00 74.00,165.96 74.20,165.92 74.40,165.87 74.60,165.83 74.80,165.79 75.00,165.74 75.20,165.70 75.40,165.65 75.60,165.61 75.80,165.56 76.00,165.51 76.20,165.46 76.40,165.41 76.60,165.36 76.80,165.31 77.00,165.26 77.20,165.21 77.40,165.15 77.60,165.10 77.80,165.04 78.00,164.98 78.20,164.93 78.40,164.87 78.60,164.81 78.80,164.75 79.00,164.68 79.20,164.62 79.40,164.56 79.60,164.49 79.80,164.43 80.00,164.36 80.20,164.29 80.40,164.22 80.60,164.15 80.80,164.08 81.00,164.00 81.20,163.93 81.40,163.85 81.60,163.78 81.80,163.70 82.00,163.62 82.20,163.54 82.40,163.45 82.60,163.37 82.80,163.28 83.00,163.19 83.20,163.11 83.40,163.01 83.60,162.92 83.80,162.83 84.00,162.73 84.20,162.63 84.40,162.53 84.60,162.43 84.80,162.33 85.00,162.22 85.20,162.11 85.40,162.00 85.60,161.89 85.80,161.78 86.00,161.66 86.20,161.54 86.40,161.41 86.60,161.29 86.80,161.16 87.00,161.02 87.20,160.89 87.40,160.74 87.60,160.60 87.80,160.44 88.00,160.28 88.20,160.12 88.40,159.94 88.60,159.76 88.80,159.56 89.00,159.35 89.20,159.11 89.40,158.82 89.60,158.52 89.80,158.17 90.00,157.75 90.20,157.22 90.40,156.52 90.60,155.50 90.80,153.71 91.00,149.91 91.20,142.41 91.30,137.37 91.40,132.34 91.45,130.18 91.60,126.97 91.60,126.97 91.75,130.18 91.80,132.33 91.90,137.37 92.00,142.40 92.20,149.89 92.40,153.69 92.60,155.48 92.80,156.49 93.00,157.19 93.20,157.71 93.40,158.13 93.60,158.47 93.80,158.76 94.00,159.02 94.20,159.25 94.40,159.46 94.60,159.65 94.80,159.83 95.00,160.00 95.20,160.16 95.40,160.31 95.60,160.46 95.80,160.60 96.00,160.74 96.20,160.87 96.40,161.00 96.60,161.12 96.80,161.24 97.00,161.36 97.20,161.47 97.40,161.58 97.60,161.69 97.80,161.79 98.00,161.89 98.20,161.99 98.40,162.09 98.60,162.18 98.80,162.27 99.00,162.36 99.20,162.45 99.40,162.54 99.60,162.62 99.80,162.70 100.00,162.78 100.20,162.86 100.40,162.93 100.60,163.00 100.80,163.08 101.00,163.14 101.20,163.21 101.40,163.27 101.60,163.34 101.80,163.40 102.00,163.46 102.20,163.51 102.40,163.57 102.60,163.62 102.80,163.67 103.00,163.72 103.20,163.76 103.40,163.81 103.60,163.85 103.80,163.89 104.00,163.93 104.20,163.96 104.40,164.00 104.60,164.03 104.80,164.05 105.00,164.08 105.20,164.10 105.40,164.12 105.60,164.14 105.80,164.16 106.00,164.17 106.20,164.18 106.40,164.19 106.60,164.19 106.80,164.19 107.00,164.18 107.20,164.17 107.40,164.16 107.60,164.15 107.80,164.13 108.00,164.10 108.20,164.07 108.40,164.04 108.60,164.00 108.80,163.95 109.00,163.89 109.20,163.83 109.40,163.76 109.60,163.68 109.80,163.58 110.00,163.48 110.20,163.36 110.40,163.22 110.60,163.07 110.80,162.89 111.00,162.68 111.20,162.44 111.40,162.16 111.60,161.82 111.80,161.41 112.00,160.92 112.20,160.30 112.40,159.52 112.60,158.51 112.80,157.17 113.00,155.33 113.20,152.69 113.40,148.55 113.60,140.79 113.80,123.58 114.00,88.96 114.10,65.62 114.20,42.27 114.25,32.29 114.40,17.68 114.40,17.68 114.55,32.33 114.60,42.32 114.70,65.69 114.80,89.06 115.00,123.73 115.20,140.99 115.40,148.81 115.60,152.99 115.80,155.68 116.00,157.58 116.20,158.97 116.40,160.03 116.60,160.87 116.80,161.53 117.00,162.08 117.20,162.54 117.40,162.93 117.60,163.26 117.80,163.55 118.00,163.81 118.20,164.04 118.40,164.25 118.60,164.44 118.80,164.61 119.00,164.77 119.20,164.92 119.40,165.05 119.60,165.17 119.80,165.29 120.00,165.40 120.20,165.50 120.40,165.60 120.60,165.68 120.80,165.77 121.00,165.85 121.20,165.92 121.40,165.98 121.60,166.05 121.80,166.11 122.00,166.17 122.20,166.23 122.40,166.28 122.60,166.33 122.80,166.37 123.00,166.41 123.20,166.45 123.40,166.49 123.60,166.52 123.80,166.55 124.00,166.58 124.20,166.61 124.40,166.63 124.60,166.65 124.80,166.67 125.00,166.68 125.20,166.69 125.40,166.70 125.60,166.71 125.80,166.71 126.00,166.71 126.20,166.70 126.40,166.69 126.60,166.68 126.80,166.66 127.00,166.64 127.20,166.62 127.40,166.59 127.60,166.55 127.80,166.51 128.00,166.45 128.20,166.40 128.40,166.33 128.60,166.25 128.80,166.16 129.00,166.05 129.20,165.93 129.40,165.77 129.60,165.59 129.80,165.36 130.00,165.07 130.20,164.68 130.40,164.13 130.60,163.25 130.80,161.52 131.00,157.81 131.20,151.55 131.20,151.55 131.35,146.70 131.40,145.55 131.50,144.52 131.60,145.56 131.65,146.72 131.80,151.58 131.80,151.58 132.00,157.87 132.20,161.59 132.40,163.35 132.60,164.25 132.80,164.82 133.00,165.23 133.20,165.54 133.40,165.79 133.60,166.00 133.80,166.18 134.00,166.32 134.20,166.45 134.40,166.57 134.60,166.67 134.80,166.76 135.00,166.84 135.20,166.91 135.40,166.98 135.60,167.04 135.80,167.09 136.00,167.14 136.20,167.19 136.40,167.23 136.60,167.26 136.80,167.30 137.00,167.33 137.20,167.35 137.40,167.38 137.60,167.40 137.80,167.41 138.00,167.43 138.20,167.44 138.40,167.45 138.60,167.45 138.80,167.46 139.00,167.46 139.20,167.45 139.40,167.48 139.60,167.47 139.80,167.46 140.00,167.44 140.20,167.43 140.40,167.40 140.60,167.38 140.80,167.35 141.00,167.32 141.20,167.28 141.40,167.24 141.60,167.20 141.80,167.15 142.00,167.09 142.20,167.03 142.40,166.96 142.60,166.88 142.80,166.79 143.00,166.69 143.20,166.58 143.40,166.45 143.60,166.31 143.80,166.14 144.00,165.94 144.20,165.70 144.40,165.42 144.60,165.06 144.80,164.60 145.00,163.99 145.20,163.12 145.40,161.71 145.60,158.91 145.80,152.87 146.00,142.64 146.00,142.64 146.15,134.72 146.20,132.84 146.30,131.17 146.40,132.85 146.45,134.72 146.60,142.64 146.60,142.64 146.80,152.88 147.00,158.91 147.20,161.73 147.40,163.14 147.60,164.01 147.80,164.63 148.00,165.09 148.20,165.46 148.40,165.75 148.60,165.99 148.80,166.19 149.00,166.37 149.20,166.52 149.40,166.65 149.60,166.77 149.80,166.87 150.00,166.97 150.20,167.05 150.40,167.13 150.60,167.20 150.80,167.26 151.00,167.32 151.20,167.37 151.40,167.42 151.60,167.46 151.80,167.50 152.00,167.53 152.20,167.57 152.40,167.59 152.60,167.62 152.80,167.64 153.00,167.66 153.20,167.68 153.40,167.69 153.60,167.70 153.80,167.71 154.00,167.71 154.20,167.71 154.40,167.71 154.60,167.71 154.80,167.70 155.00,167.69 155.20,167.68 155.40,167.67 155.60,167.65 155.80,167.62 156.00,167.59 156.20,167.56 156.40,167.52 156.60,167.48 156.80,167.43 157.00,167.37 157.20,167.30 157.40,167.22 157.60,167.12 157.80,166.99 158.00,166.84 158.20,166.64 158.40,166.36 158.60,165.88 158.80,164.91 159.00,163.03 159.10,161.77 159.20,160.52 159.25,159.98 159.40,159.14 159.40,159.14 159.55,159.98 159.60,160.52 159.70,161.77 159.80,163.03 160.00,164.90 160.20,165.87 160.40,166.35 160.60,166.63 160.80,166.83 161.00,166.98 161.20,167.10 161.40,167.20 161.60,167.28 161.80,167.34 162.00,167.40 162.20,167.45 162.40,167.49 162.60,167.52 162.80,167.55 163.00,167.58 163.20,167.59 163.40,167.61 163.60,167.62 163.80,167.62 164.00,167.62 164.20,167.62 164.40,167.62 164.60,167.61 164.80,167.59 165.00,167.58 165.20,167.56 165.40,167.53 165.60,167.50 165.80,167.47 166.00,167.43 166.20,167.38 166.40,167.33 166.60,167.27 166.80,167.21 167.00,167.14 167.20,167.06 167.40,166.98 167.60,166.88 167.80,166.77 168.00,166.64 168.20,166.50 168.40,166.33 168.60,166.13 168.80,165.90 169.00,165.62 169.20,165.27 169.40,164.83 169.60,164.25 169.80,163.45 170.00,162.26 170.20,160.09 170.40,155.43 170.60,146.17 170.70,139.95 170.80,133.72 170.85,131.05 171.00,127.08 171.00,127.08 171.15,131.05 171.20,133.72 171.30,139.96 171.40,146.19 171.60,155.45 171.80,160.12 172.00,162.28 172.20,163.49 172.40,164.29 172.60,164.88 172.80,165.32 173.00,165.67 173.20,165.96 173.40,166.20 173.60,166.40 173.80,166.57 174.00,166.72 174.20,166.86 174.40,166.98 174.60,167.08 174.80,167.18 175.00,167.26 175.20,167.34 175.40,167.41 175.60,167.48 175.80,167.54 176.00,167.60 176.20,167.65 176.40,167.69 176.60,167.74 176.80,167.78 177.00,167.82 177.20,167.85 177.40,167.88 177.60,167.91 177.80,167.94 178.00,167.97 178.20,167.99 178.40,168.01 178.60,168.03 178.80,168.05 179.00,168.07 179.20,168.09 179.40,168.10 179.60,168.11 179.80,168.13 180.00,168.14 180.20,168.15 180.40,168.16 180.60,168.17 180.80,168.18 181.00,168.18 181.20,168.19 181.40,168.20 181.60,168.20 181.80,168.21 182.00,168.21 182.20,168.21 182.40,168.21 182.60,168.21 182.80,168.21 183.00,168.21 183.20,168.21 183.40,168.21 183.60,168.21 183.80,168.20 184.00,168.20 184.20,168.19 184.40,168.19 184.60,168.18 184.80,168.17 185.00,168.16 185.20,168.15 185.40,168.13 185.60,168.12 185.80,168.10 186.00,168.08 186.20,168.06 186.40,168.04 186.60,168.02 186.80,167.99 187.00,167.96 187.20,167.92 187.40,167.89 187.60,167.85 187.80,167.80 188.00,167.75 188.20,167.70 188.40,167.63 188.60,167.56 188.80,167.48 189.00,167.39 189.20,167.29 189.40,167.16 189.60,167.02 189.80,166.84 190.00,166.62 190.20,166.33 190.40,165.94 190.60,165.32 190.80,164.14 191.00,161.66 191.20,157.49 191.20,157.49 191.35,154.26 191.40,153.49 191.50,152.78 191.60,153.49 191.65,154.26 191.80,157.49 191.80,157.49 192.00,161.67 192.20,164.15 192.40,165.33 192.60,165.95 192.80,166.34 193.00,166.63 193.20,166.85 193.40,167.03 193.60,167.18 193.80,167.31 194.00,167.41 194.20,167.51 194.40,167.59 194.60,167.66 194.80,167.73 195.00,167.78 195.20,167.84 195.40,167.88 195.60,167.93 195.80,167.97 196.00,168.00 196.20,168.04 196.40,168.07 196.60,168.10 196.80,168.12 197.00,168.15 197.20,168.17 197.40,168.18 197.60,168.20 197.80,168.22 198.00,168.23 198.20,168.24 198.40,168.26 198.60,168.27 198.80,168.28 199.00,168.29 199.20,168.29 199.40,168.30 199.60,168.31 199.80,168.31 200.00,168.32 200.20,168.32 200.40,168.32 200.60,168.33 200.80,168.33 201.00,168.33 201.20,168.33 201.40,168.33 201.60,168.33 201.80,168.33 202.00,168.33 202.20,168.32 202.40,168.32 202.60,168.32 202.80,168.31 203.00,168.31 203.20,168.30 203.40,168.29 203.60,168.28 203.80,168.27 204.00,168.26 204.20,168.25 204.40,168.24 204.60,168.22 204.80,168.21 205.00,168.19 205.20,168.17 205.40,168.15 205.60,168.12 205.80,168.10 206.00,168.07 206.20,168.04 206.40,168.00 206.60,167.96 206.80,167.92 207.00,167.87 207.20,167.81 207.40,167.75 207.60,167.67 207.80,167.59 208.00,167.49 208.20,167.37 208.40,167.22 208.60,167.03 208.80,166.79 209.00,166.43 209.20,165.81 209.40,164.54 209.60,162.04 209.70,160.37 209.80,158.70 209.85,157.98 210.00,156.89 210.00,156.89 210.15,157.98 210.20,158.70 210.30,160.37 210.40,162.04 210.60,164.53 210.80,165.81 211.00,166.43 211.20,166.78 211.40,167.03 211.60,167.22 211.80,167.36 212.00,167.48 212.20,167.58 212.40,167.67 212.60,167.74 212.80,167.80 213.00,167.85 213.20,167.90 213.40,167.94 213.60,167.98 213.80,168.01 214.00,168.04 214.20,168.06 214.40,168.08 214.60,168.10 214.80,168.12 215.00,168.13 215.20,168.14 215.40,168.14 215.60,168.14 215.80,168.14 216.00,168.14 216.20,168.13 216.40,168.11 216.60,168.10 216.80,168.07 217.00,168.04 217.20,167.99 217.40,167.93 217.60,167.83 217.80,167.67 218.00,167.34 218.20,166.71 218.30,166.28 218.40,165.85 218.45,165.66 218.60,165.38 218.60,165.38 218.75,165.67 218.80,165.86 218.90,166.29 219.00,166.72 219.20,167.37 219.40,167.71 219.60,167.87 219.80,167.97 220.00,168.05 220.20,168.10 220.40,168.14 220.60,168.18 220.80,168.21 221.00,168.23 221.20,168.25 221.40,168.27 221.60,168.28 221.80,168.29 222.00,168.30 222.20,168.31 222.40,168.31 222.60,168.31 222.80,168.31 223.00,168.31 223.20,168.30 223.40,168.29 223.60,168.28 223.80,168.27 224.00,168.25 224.20,168.23 224.40,168.20 224.60,168.17 224.80,168.13 225.00,168.07 225.20,168.00 225.40,167.89 225.60,167.67 225.80,167.24 226.00,166.51 226.00,166.51 226.15,165.95 226.20,165.82 226.30,165.69 226.40,165.82 226.45,165.95 226.60,166.52 226.60,166.52 226.80,167.25 227.00,167.69 227.20,167.90 227.40,168.02 227.60,168.10 227.80,168.16 228.00,168.21 228.20,168.25 228.40,168.28 228.60,168.31 228.80,168.33 229.00,168.35 229.20,168.37 229.40,168.38 229.60,168.40 229.80,168.41 230.00,168.42 230.20,168.43 230.40,168.44 230.60,168.45 230.80,168.45 231.00,168.46 231.20,168.46 231.40,168.47 231.60,168.47 231.80,168.47 232.00,168.47 232.20,168.47 232.40,168.47 232.60,168.47 232.80,168.47 233.00,168.46 233.20,168.45 233.40,168.43 233.60,168.39 233.80,168.31 234.00,168.13 234.10,168.02 234.20,167.90 234.25,167.85 234.40,167.78 234.40,167.78 234.55,167.85 234.60,167.90 234.70,168.01 234.80,168.13 235.00,168.30 235.20,168.38 235.40,168.42 235.60,168.43 235.80,168.44 236.00,168.45 236.20,168.45 236.40,168.45 236.60,168.44 236.80,168.44 237.00,168.43 237.20,168.42 237.40,168.41 237.60,168.40 237.80,168.39 238.00,168.37 238.20,168.35 238.40,168.33 238.60,168.31 238.80,168.28 239.00,168.25 239.20,168.22 239.40,168.18 239.60,168.13 239.80,168.08 240.00,168.02 240.20,167.94 240.40,167.85 240.60,167.73 240.80,167.57 241.00,167.34 241.20,166.96 241.40,166.17 241.60,164.65 241.70,163.63 241.80,162.61 241.85,162.18 242.00,161.50 242.00,161.50 242.15,162.18 242.20,162.62 242.30,163.64 242.40,164.65 242.60,166.18 242.80,166.96 243.00,167.35 243.20,167.58 243.40,167.74 243.60,167.86 243.80,167.95 244.00,168.03 244.20,168.10 244.40,168.15 244.60,168.20 244.80,168.24 245.00,168.28 245.20,168.31 245.40,168.34 245.60,168.36 245.80,168.38 246.00,168.40 246.20,168.42 246.40,168.44 246.60,168.45 246.80,168.46 247.00,168.48 247.20,168.49 247.40,168.50 247.60,168.50 247.80,168.51 248.00,168.52 248.20,168.53 248.40,168.53 248.60,168.54 248.80,168.54 249.00,168.55 249.20,168.55 249.40,168.56 249.60,168.56 249.80,168.56 250.00,168.57 250.20,168.57 250.40,168.58 250.60,168.59 250.80,168.59 251.00,168.60 251.20,168.61 251.40,168.61 251.60,168.62 251.80,168.62 252.00,168.63 252.20,168.64 252.40,168.64 252.60,168.65 252.80,168.65 253.00,168.66 253.20,168.66 253.40,168.67 253.60,168.67 253.80,168.67 254.00,168.68 254.20,168.68 254.40,168.68 254.60,168.69 254.80,168.69 255.00,168.69 255.20,168.68 255.40,168.68 255.60,168.66 255.80,168.63 256.00,168.56 256.20,168.41 256.30,168.30 256.40,168.20 256.45,168.16 256.60,168.09 256.60,168.09 256.75,168.16 256.80,168.21 256.90,168.32 257.00,168.43 257.20,168.59 257.40,168.67 257.60,168.71 257.80,168.74 258.00,168.75 258.20,168.76 258.40,168.77 258.60,168.78 258.80,168.79 259.00,168.80 259.20,168.80 259.40,168.81 259.60,168.81 259.80,168.82 260.00,168.82 260.20,168.83 260.40,168.83 260.60,168.83 260.80,168.84 261.00,168.84 261.20,168.84 261.40,168.84 261.60,168.84 261.80,168.83 262.00,168.82 262.20,168.80 262.40,168.76 262.60,168.67 262.80,168.48 262.90,168.35 263.00,168.22 263.05,168.17 263.20,168.09 263.20,168.09 263.35,168.17 263.40,168.23 263.50,168.36 263.60,168.49 263.80,168.69 264.00,168.78 264.20,168.83 264.40,168.85 264.60,168.87 264.80,168.88 265.00,168.88 265.20,168.89 265.40,168.89 265.60,168.89 265.80,168.89 266.00,168.89 266.20,168.89 266.40,168.88 266.60,168.87 266.80,168.86 267.00,168.85 267.20,168.84 267.40,168.83 267.60,168.81 267.80,168.78 268.00,168.75 268.20,168.72 268.40,168.67 268.60,168.61 268.80,168.51 269.00,168.34 269.20,167.98 269.40,167.38 269.40,167.38 269.55,166.92 269.60,166.81 269.70,166.70 269.80,166.81 269.85,166.92 270.00,167.40 270.00,167.40 270.20,168.00 270.40,168.37 270.60,168.55 270.80,168.65 271.00,168.72 271.20,168.78 271.40,168.82 271.60,168.86 271.80,168.89 272.00,168.92 272.20,168.94 272.40,168.96 272.60,168.98 272.80,168.99 273.00,169.01 273.20,169.02 273.40,169.03 273.60,169.04 273.80,169.05 274.00,169.06 274.20,169.07 274.40,169.07 274.60,169.08 274.80,169.08 275.00,169.08 275.20,169.07 275.40,169.05 275.60,168.99 275.80,168.90 275.80,168.90 275.95,168.82 276.00,168.81 276.10,168.79 276.20,168.81 276.25,168.83 276.40,168.91 276.40,168.91 276.60,169.01 276.80,169.07 277.00,169.10 277.20,169.12 277.40,169.13 277.60,169.13 277.80,169.14 278.00,169.14 278.20,169.14 278.40,169.14 278.60,169.14 278.80,169.14 279.00,169.14 279.20,169.13 279.40,169.13 279.60,169.13 279.80,169.12 280.00,169.11 280.20,169.11 280.40,169.10 280.60,169.09 280.80,169.07 281.00,169.06 281.20,169.04 281.40,169.01 281.60,168.97 281.80,168.91 282.00,168.80 282.20,168.62 282.20,168.62 282.35,168.47 282.40,168.44 282.50,168.40 282.60,168.44 282.65,168.47 282.80,168.62 282.80,168.62 283.00,168.81 283.20,168.93 283.40,169.00 283.60,169.04 283.80,169.07 284.00,169.10 284.20,169.12 284.40,169.14 284.60,169.15 284.80,169.17 285.00,169.18 285.20,169.19 285.40,169.20 285.60,169.21 285.80,169.22 286.00,169.23 286.20,169.24 286.40,169.24 286.60,169.25 286.80,169.26 287.00,169.26 287.20,169.27 287.40,169.27 287.60,169.27 287.80,169.27 288.00,169.26 288.20,169.24 288.30,169.23 288.40,169.21 288.45,169.20 288.60,169.20 288.60,169.20 288.75,169.21 288.80,169.22 288.90,169.24 289.00,169.26 289.20,169.29 289.40,169.30 289.60,169.31 289.80,169.32 290.00,169.32 290.20,169.33 290.40,169.33 290.60,169.33 290.80,169.34 291.00,169.34 291.20,169.34 291.40,169.34 291.60,169.35 291.80,169.35 292.00,169.35 292.20,169.35 292.40,169.35 292.60,169.35 292.80,169.35 293.00,169.35 293.20,169.34 293.40,169.33 293.60,169.32 293.80,169.29 294.00,169.22 294.20,169.08 294.30,168.99 294.40,168.90 294.45,168.86 294.60,168.80 294.60,168.80 294.75,168.86 294.80,168.90 294.90,169.00 295.00,169.10 295.20,169.24 295.40,169.31 295.60,169.35 295.80,169.36 296.00,169.38 296.20,169.39 296.40,169.39 296.60,169.40 296.80,169.41 297.00,169.41 297.20,169.41 297.40,169.42 297.60,169.42 297.80,169.43 298.00,169.43 298.20,169.43 298.40,169.44 298.60,169.44 298.80,169.44 299.00,169.44 299.20,169.45 299.40,169.45 299.60,169.45 299.80,169.45 300.00,169.46 300.20,169.46 300.40,169.46 300.60,169.46 300.80,169.47 301.00,169.47 301.20,169.47 301.40,169.47 301.60,169.48 301.80,169.48 302.00,169.48 302.20,169.48 302.40,169.49 302.60,169.49 302.80,169.49 303.00,169.49 303.20,169.50 303.40,169.50 303.60,169.50 303.80,169.50 304.00,169.51 304.20,169.51 304.40,169.51 304.60,169.51 304.80,169.52 305.00,169.52 305.20,169.52 305.40,169.52 305.60,169.53 305.70,169.53 305.80,169.53 305.85,169.53 306.00,169.53 306.00,169.53 306.15,169.53 306.20,169.53 306.30,169.53 306.40,169.54 306.60,169.54 306.80,169.54 307.00,169.54 307.20,169.55 307.40,169.55 307.60,169.55 307.80,169.55 308.00,169.56 308.20,169.56 308.40,169.56 308.60,169.56 308.80,169.56 309.00,169.57 309.20,169.57 309.40,169.57 309.60,169.57 309.80,169.58 310.00,169.58 310.20,169.58 310.40,169.58 310.60,169.59 310.80,169.59 311.00,169.59 311.20,169.59 311.40,169.60 311.50,169.60 311.60,169.60 311.65,169.60 311.80,169.60 311.80,169.60 311.95,169.60 312.00,169.60 312.10,169.60 312.20,169.60 312.40,169.61 312.60,169.61 312.80,169.61 313.00,169.61 313.20,169.62 313.40,169.62 313.60,169.62 313.80,169.62 314.00,169.63 314.20,169.63 314.40,169.63 314.60,169.63 314.80,169.63 315.00,169.63 315.20,169.64 315.40,169.64 315.60,169.64 315.80,169.64 316.00,169.64 316.20,169.64 316.40,169.63 316.60,169.63 316.80,169.61 317.00,169.56 317.20,169.49 317.20,169.49 317.35,169.43 317.40,169.41 317.50,169.40 317.60,169.41 317.65,169.43 317.80,169.49 317.80,169.49 318.00,169.57 318.20,169.62 318.40,169.65 318.60,169.66 318.80,169.67 319.00,169.67 319.20,169.68 319.40,169.68 319.60,169.69 319.80,169.69 320.00,169.69 320.20,169.70 320.40,169.70 320.60,169.70 320.80,169.71 321.00,169.71 321.20,169.71 321.40,169.71 321.60,169.72 321.80,169.72 322.00,169.72 322.20,169.72 322.40,169.73 322.60,169.73 322.60,169.73 322.75,169.73 322.80,169.73 322.90,169.73 323.00,169.73 323.05,169.74 323.20,169.74 323.20,169.74 323.40,169.74 323.60,169.74 323.80,169.74 324.00,169.75 324.20,169.75 324.40,169.75 324.60,169.75 324.80,169.76 325.00,169.76 325.20,169.76 325.40,169.76 325.60,169.77 325.80,169.77 326.00,169.77 326.20,169.77 326.40,169.78 326.60,169.78 326.80,169.78 327.00,169.78 327.20,169.79 327.40,169.79 327.60,169.79 327.80,169.79 328.00,169.80 328.20,169.80 328.40,169.80 328.60,169.80 328.80,169.81 329.00,169.81 329.20,169.81 329.40,169.81 329.60,169.81 329.80,169.82 330.00,169.82 330.20,169.82 330.40,169.82 330.60,169.83 330.80,169.83 331.00,169.83 331.20,169.83 331.40,169.84 331.60,169.84 331.80,169.84 332.00,169.84 332.20,169.85 332.40,169.85 332.60,169.85 332.80,169.85 333.00,169.86 333.20,169.86 333.30,169.86 333.40,169.86 333.45,169.86 333.60,169.86 333.60,169.86 333.75,169.86 333.80,169.87 333.90,169.87 334.00,169.87 334.20,169.87 334.40,169.87 334.60,169.88 334.80,169.88 335.00,169.88 335.20,169.88 335.40,169.88 335.60,169.89 335.80,169.89 336.00,169.89 336.20,169.89 336.40,169.90 336.60,169.90 336.80,169.90 337.00,169.90 337.20,169.91 337.40,169.91 337.60,169.91 337.80,169.91 338.00,169.92 338.20,169.92 338.40,169.92 338.60,169.92 338.80,169.93 339.00,169.93 339.20,169.93 339.20,169.93 339.35,169.93 339.40,169.93 339.50,169.93 339.60,169.94 339.65,169.94 339.80,169.94 339.80,169.94 340.00,169.94 340.20,169.94 340.40,169.94 340.60,169.95 340.80,169.95 341.00,169.95 341.20,169.95 341.40,169.96 341.60,169.96 341.80,169.96 342.00,169.96 342.20,169.97 342.40,169.97 342.60,169.97 342.80,169.97 343.00,169.98 343.20,169.98 343.40,169.98 343.60,169.98" stroke="#f00" stroke-width="1.6" fill="none" stroke-linejoin="round"/>
<polyline points="70.80,177.58 71.30,177.67 71.80,177.44 72.30,177.59 72.80,177.34 73.30,177.62 73.80,177.64 74.30,177.74 74.80,177.52 75.30,177.61 75.80,177.47 76.30,177.64 76.80,177.45 77.30,177.75 77.80,177.92 78.30,177.57 78.80,177.62 79.30,177.71 79.80,177.65 80.30,177.58 80.80,177.64 81.30,177.62 81.80,177.74 82.30,177.56 82.80,177.55 83.30,177.62 83.80,177.88 84.30,177.35 84.80,177.50 85.30,177.36 85.80,177.51 86.30,177.56 86.80,177.64 87.30,177.69 87.80,177.67 88.30,177.69 88.80,177.63 89.30,177.61 89.80,177.79 90.30,177.46 90.80,177.64 91.00,177.39 91.30,176.30 91.30,176.49 91.50,176.51 91.70,177.48 91.80,177.87 91.90,178.30 92.10,178.39 92.30,177.81 92.40,177.86 92.80,177.60 93.30,177.66 93.80,177.55 94.30,177.56 94.80,177.55 95.30,177.58 95.80,177.77 96.30,177.71 96.80,177.68 97.30,177.50 97.80,177.54 98.30,177.61 98.80,177.37 99.30,177.56 99.80,177.80 100.30,177.61 100.80,177.44 101.30,177.47 101.80,177.52 102.30,177.59 102.80,177.42 103.30,177.58 103.80,177.77 104.30,177.57 104.80,177.47 105.30,177.68 105.80,177.54 106.30,177.45 106.80,177.55 107.30,177.54 107.80,177.55 108.30,177.57 108.80,177.55 109.30,177.47 109.80,177.57 110.30,177.52 110.80,177.38 111.30,177.69 111.80,177.59 112.30,177.71 112.80,177.53 113.30,177.57 113.80,177.21 113.80,177.27 114.10,173.31 114.30,173.53 114.30,173.65 114.50,177.53 114.70,180.28 114.80,180.53 114.90,180.41 115.20,177.98 115.30,177.94 115.80,177.85 116.30,177.49 116.80,177.47 117.30,177.73 117.80,177.58 118.30,177.41 118.80,177.54 119.30,177.65 119.80,177.61 120.30,177.42 120.80,177.49 121.30,177.74 121.80,177.79 122.30,177.69 122.80,177.86 123.30,177.41 123.80,177.74 124.30,177.72 124.80,177.61 125.30,177.54 125.80,177.54 126.30,177.55 126.80,177.61 127.30,177.63 127.80,177.55 128.30,177.83 128.80,177.42 129.30,177.49 129.80,177.67 130.30,177.59 130.80,177.73 130.90,177.33 131.20,176.87 131.30,176.74 131.40,177.02 131.60,177.70 131.80,177.94 131.80,178.07 132.00,177.94 132.30,177.53 132.30,177.68 132.80,177.67 133.30,177.41 133.80,177.60 134.30,177.51 134.80,177.45 135.30,177.76 135.80,177.48 136.30,177.41 136.80,177.67 137.30,177.54 137.80,177.51 138.30,177.66 138.80,177.70 139.30,177.56 139.80,177.40 140.30,177.55 140.80,177.74 141.30,177.74 141.80,177.67 142.30,177.41 142.80,177.66 143.30,177.63 143.80,177.57 144.30,177.67 144.80,177.58 145.30,177.94 145.70,177.43 145.80,177.33 146.00,176.66 146.20,176.76 146.30,177.29 146.40,177.59 146.60,177.92 146.80,178.30 146.80,178.15 147.10,177.74 147.30,177.50 147.80,177.54 148.30,177.71 148.80,177.57 149.30,177.50 149.80,177.46 150.30,177.54 150.80,177.64 151.30,177.47 151.80,177.47 152.30,177.67 152.80,177.41 153.30,177.65 153.80,177.66 154.30,177.65 154.80,177.72 155.30,177.63 155.80,177.69 156.30,177.47 156.80,177.42 157.30,177.39 157.80,177.64 158.30,177.51 158.80,177.60 158.80,177.72 159.10,177.37 159.30,177.51 159.30,177.46 159.50,177.65 159.70,177.74 159.80,177.69 159.90,177.88 160.20,177.79 160.30,177.70 160.80,177.84 161.30,177.41 161.80,177.44 162.30,177.46 162.80,177.57 163.30,177.60 163.80,177.64 164.30,177.68 164.80,177.58 165.30,177.84 165.80,177.74 166.30,177.45 166.80,177.56 167.30,177.77 167.80,177.51 168.30,177.59 168.80,177.70 169.30,177.50 169.80,177.45 170.30,177.59 170.40,177.58 170.70,176.40 170.80,176.25 170.90,176.55 171.10,177.41 171.30,178.40 171.30,178.43 171.50,178.29 171.80,177.71 171.80,177.55 172.30,177.69 172.80,177.41 173.30,177.65 173.80,177.64 174.30,178.03 174.80,177.52 175.30,177.47 175.80,177.71 176.30,177.61 176.80,177.73 177.30,177.60 177.80,177.64 178.30,177.68 178.80,177.58 179.30,177.66 179.80,177.57 180.30,177.74 180.80,177.70 181.30,177.71 181.80,177.78 182.30,177.54 182.80,177.66 183.30,177.58 183.80,177.55 184.30,177.52 184.80,177.73 185.30,177.54 185.80,177.56 186.30,177.40 186.80,177.64 187.30,177.64 187.80,177.68 188.30,177.39 188.80,177.58 189.30,177.61 189.80,177.81 190.30,177.63 190.80,177.55 190.90,177.45 191.20,177.07 191.30,176.89 191.40,177.38 191.60,177.60 191.80,178.11 191.80,177.83 192.00,177.97 192.30,177.57 192.30,177.61 192.80,177.56 193.30,177.65 193.80,177.43 194.30,177.57 194.80,177.62 195.30,177.65 195.80,177.71 196.30,177.72 196.80,177.54 197.30,177.65 197.80,177.54 198.30,177.60 198.80,177.69 199.30,177.55 199.80,177.81 200.30,177.53 200.80,177.68 201.30,177.55 201.80,177.48 202.30,177.73 202.80,177.47 203.30,177.66 203.80,177.49 204.30,177.50 204.80,177.68 205.30,177.89 205.80,177.58 206.30,177.47 206.80,177.54 207.30,177.81 207.80,177.70 208.30,177.50 208.80,177.52 209.30,177.66 209.40,177.69 209.70,177.25 209.80,177.13 209.90,177.27 210.10,177.74 210.30,177.78 210.30,177.80 210.50,177.91 210.80,177.68 210.80,177.61 211.30,177.49 211.80,177.69 212.30,177.61 212.80,177.67 213.30,177.79 213.80,177.65 214.30,177.93 214.80,177.58 215.30,177.67 215.80,177.74 216.30,177.62 216.80,177.39 217.30,177.58 217.80,177.53 218.00,177.46 218.30,177.77 218.30,177.60 218.50,177.52 218.70,177.69 218.80,177.71 218.90,177.79 219.10,177.60 219.30,177.54 219.40,177.61 219.80,177.62 220.30,177.44 220.80,177.49 221.30,177.67 221.80,177.66 222.30,177.60 222.80,177.41 223.30,177.83 223.80,177.87 224.30,177.56 224.80,177.41 225.30,177.47 225.70,177.87 225.80,177.42 226.00,177.58 226.20,177.75 226.30,177.54 226.40,177.63 226.60,177.70 226.80,177.67 226.80,177.71 227.10,177.72 227.30,177.50 227.80,177.49 228.30,177.62 228.80,177.47 229.30,177.60 229.80,177.58 230.30,177.48 230.80,177.76 231.30,177.43 231.80,177.74 232.30,177.45 232.80,177.66 233.30,177.71 233.80,177.66 233.80,177.50 234.10,177.50 234.30,177.54 234.30,177.63 234.50,177.50 234.70,177.47 234.80,177.78 234.90,177.63 235.20,177.61 235.30,177.49 235.80,177.66 236.30,177.69 236.80,177.68 237.30,177.63 237.80,177.35 238.30,177.79 238.80,177.50 239.30,177.70 239.80,177.65 240.30,177.57 240.80,177.61 241.30,177.61 241.40,177.49 241.70,177.44 241.80,177.19 241.90,177.40 242.10,177.71 242.30,177.65 242.30,177.75 242.50,177.85 242.80,177.63 242.80,177.64 243.30,177.69 243.80,177.65 244.30,177.41 244.80,177.58 245.30,177.61 245.80,177.61 246.30,177.51 246.80,177.76 247.30,177.72 247.80,177.68 248.30,177.55 248.80,177.36 249.30,177.53 249.80,177.49 250.30,177.59 250.80,177.62 251.30,177.62 251.80,177.77 252.30,177.46 252.80,177.67 253.30,177.76 253.80,177.67 254.30,177.79 254.80,177.47 255.30,177.73 255.80,177.55 256.00,177.59 256.30,177.42 256.30,177.51 256.50,177.61 256.70,177.61 256.80,177.58 256.90,177.80 257.10,177.74 257.30,177.59 257.40,177.72 257.80,177.45 258.30,177.58 258.80,177.73 259.30,177.68 259.80,177.49 260.30,177.41 260.80,177.59 261.30,177.68 261.80,177.71 262.30,177.45 262.60,177.58 262.80,177.55 262.90,177.49 263.10,177.45 263.30,177.62 263.30,177.77 263.50,177.74 263.70,177.76 263.80,177.57 264.00,177.51 264.30,177.66 264.80,177.49 265.30,177.63 265.80,177.56 266.30,177.89 266.80,177.54 267.30,177.66 267.80,177.59 268.30,177.59 268.80,177.51 269.10,177.72 269.30,177.60 269.40,177.44 269.60,177.83 269.80,177.70 269.80,177.72 270.00,177.65 270.20,177.29 270.30,177.60 270.50,177.55 270.80,177.67 271.30,177.57 271.80,177.71 272.30,177.76 272.80,177.80 273.30,177.41 273.80,177.58 274.30,177.57 274.80,177.78 275.30,177.67 275.50,177.55 275.80,177.68 275.80,177.56 276.00,177.53 276.20,177.32 276.30,177.33 276.40,177.67 276.60,177.50 276.80,177.68 276.90,177.75 277.30,177.53 277.80,177.66 278.30,177.62 278.80,177.49 279.30,177.58 279.80,177.81 280.30,177.68 280.80,177.48 281.30,177.83 281.80,177.55 281.90,177.65 282.20,177.38 282.30,177.68 282.40,177.70 282.60,177.51 282.80,177.61 282.80,177.76 283.00,177.61 283.30,177.72 283.30,177.63 283.80,177.60 284.30,177.79 284.80,177.52 285.30,177.61 285.80,177.77 286.30,177.82 286.80,177.66 287.30,177.45 287.80,177.48 288.00,177.48 288.30,177.65 288.30,177.64 288.50,177.50 288.70,177.65 288.80,177.63 288.90,177.69 289.10,177.55 289.30,177.74 289.40,177.66 289.80,177.69 290.30,177.69 290.80,177.61 291.30,177.51 291.80,177.35 292.30,177.73 292.80,177.76 293.30,177.42 293.80,177.91 294.00,177.67 294.30,177.52 294.30,177.56 294.50,177.65 294.70,177.59 294.80,177.64 294.90,177.61 295.10,177.73 295.30,177.67 295.40,177.48 295.80,177.50 296.30,177.62 296.80,177.55 297.30,177.58 297.80,177.50 298.30,177.76 298.80,177.55 299.30,177.58 299.80,177.54 300.30,177.69 300.80,177.55 301.30,177.63 301.80,177.72 302.30,177.62 302.80,177.50 303.30,177.44 303.80,177.63 304.30,177.60 304.80,177.66 305.30,177.44 305.40,177.71 305.70,177.57 305.80,177.53 305.90,177.48 306.10,177.41 306.30,177.57 306.30,177.52 306.50,177.93 306.80,177.69 306.80,177.57 307.30,177.51 307.80,177.59 308.30,177.44 308.80,177.52 309.30,177.52 309.80,177.54 310.30,177.50 310.80,177.52 311.20,177.67 311.30,177.58 311.50,177.37 311.70,177.59 311.80,177.65 311.90,177.60 312.10,177.80 312.30,177.59 312.30,177.61 312.60,177.67 312.80,177.49 313.30,177.78 313.80,177.68 314.30,177.37 314.80,177.59 315.30,177.71 315.80,177.41 316.30,177.69 316.80,177.52 316.90,177.65 317.20,177.46 317.30,177.54 317.40,177.52 317.60,177.57 317.80,177.57 317.80,177.65 318.00,177.55 318.30,177.39 318.30,177.50 318.80,177.71 319.30,177.39 319.80,177.56 320.30,177.62 320.80,177.70 321.30,177.59 321.80,177.68 322.30,177.51 322.30,177.46 322.60,177.66 322.80,177.41 322.80,177.55 323.00,177.54 323.20,177.56 323.30,177.54 323.40,177.58 323.70,177.64 323.80,177.54 324.30,177.49 324.80,177.72 325.30,177.46 325.80,177.81 326.30,177.63 326.80,177.50 327.30,177.42 327.80,177.68 328.30,177.43 328.80,177.59 329.30,177.52 329.80,177.73 330.30,177.38 330.80,177.46 331.30,177.47 331.80,177.77 332.30,177.62 332.80,177.70 333.00,177.63 333.30,177.88 333.30,177.69 333.50,177.66 333.70,177.41 333.80,177.64 333.90,177.57 334.10,177.55 334.30,177.45 334.40,177.72 334.80,177.64 335.30,177.65 335.80,177.60 336.30,177.60 336.80,177.67 337.30,177.64 337.80,177.66 338.30,177.50 338.80,177.46 338.90,177.66 339.20,177.63 339.30,177.58 339.40,177.65 339.60,177.71 339.80,177.56 339.80,177.55 340.00,177.45 340.30,177.66 340.30,177.70 340.80,177.64 341.30,177.84 341.80,177.70 342.30,177.67 342.80,177.60 343.30,177.53" stroke="#1a1aff" stroke-width="1.6" fill="none" stroke-linejoin="round"/>
<path d="M91.60 183.2V191.5M114.20 183.2V191.5M131.40 183.2V191.5M146.40 183.2V191.5M159.40 183.2V191.5M171.00 183.2V191.5M191.40 183.2V191.5M200.60 183.2V191.5M210.00 183.2V191.5M218.60 183.2V191.5M226.30 183.2V191.5M234.40 183.2V191.5M242.00 183.2V191.5M256.60 183.2V191.5M263.20 183.2V191.5M269.70 183.2V191.5M276.10 183.2V191.5M282.50 183.2V191.5M288.60 183.2V191.5M294.60 183.2V191.5M306.00 183.2V191.5M311.80 183.2V191.5M317.50 183.2V191.5M322.90 183.2V191.5M333.60 183.2V191.5M339.50 183.2V191.5" stroke="#ff19f0" stroke-width="1.6" fill="none"/>
<path d="M68.7 369.9h3.6m-1.8-1.4v2.8M68.8 369.8h3.6m-1.8-1.4v2.8M68.9 369.9h3.6m-1.8-1.4v2.8M69.0 370.3h3.6m-1.8-1.4v2.8M69.1 370.0h3.6m-1.8-1.4v2.8M69.2 369.9h3.6m-1.8-1.4v2.8M69.3 370.1h3.6m-1.8-1.4v2.8M69.4 369.5h3.6m-1.8-1.4v2.8M69.5 370.0h3.6m-1.8-1.4v2.8M69.6 369.9h3.6m-1.8-1.4v2.8M69.7 369.6h3.6m-1.8-1.4v2.8M69.8 369.3h3.6m-1.8-1.4v2.8M69.9 369.9h3.6m-1.8-1.4v2.8M70.0 369.7h3.6m-1.8-1.4v2.8M70.1 370.1h3.6m-1.8-1.4v2.8M70.2 370.3h3.6m-1.8-1.4v2.8M70.3 369.7h3.6m-1.8-1.4v2.8M70.4 369.4h3.6m-1.8-1.4v2.8M70.5 369.9h3.6m-1.8-1.4v2.8M70.6 369.9h3.6m-1.8-1.4v2.8M70.7 369.6h3.6m-1.8-1.4v2.8M70.8 369.5h3.6m-1.8-1.4v2.8M70.9 370.0h3.6m-1.8-1.4v2.8M71.0 369.6h3.6m-1.8-1.4v2.8M71.1 369.9h3.6m-1.8-1.4v2.8M71.2 369.7h3.6m-1.8-1.4v2.8M71.3 369.7h3.6m-1.8-1.4v2.8M71.4 369.7h3.6m-1.8-1.4v2.8M71.5 370.4h3.6m-1.8-1.4v2.8M71.6 369.7h3.6m-1.8-1.4v2.8M71.7 370.1h3.6m-1.8-1.4v2.8M71.8 369.9h3.6m-1.8-1.4v2.8M71.9 369.7h3.6m-1.8-1.4v2.8M72.0 369.4h3.6m-1.8-1.4v2.8M72.1 369.6h3.6m-1.8-1.4v2.8M72.2 370.2h3.6m-1.8-1.4v2.8M72.3 369.4h3.6m-1.8-1.4v2.8M72.4 369.5h3.6m-1.8-1.4v2.8M72.5 369.7h3.6m-1.8-1.4v2.8M72.6 369.9h3.6m-1.8-1.4v2.8M72.7 369.3h3.6m-1.8-1.4v2.8M72.8 369.4h3.6m-1.8-1.4v2.8M72.9 369.5h3.6m-1.8-1.4v2.8M73.0 369.9h3.6m-1.8-1.4v2.8M73.1 369.5h3.6m-1.8-1.4v2.8M73.2 369.3h3.6m-1.8-1.4v2.8M73.3 369.2h3.6m-1.8-1.4v2.8M73.4 369.3h3.6m-1.8-1.4v2.8M73.5 369.6h3.6m-1.8-1.4v2.8M73.6 369.2h3.6m-1.8-1.4v2.8M73.7 369.6h3.6m-1.8-1.4v2.8M73.8 369.2h3.6m-1.8-1.4v2.8M73.9 369.2h3.6m-1.8-1.4v2.8M74.0 369.2h3.6m-1.8-1.4v2.8M74.1 369.4h3.6m-1.8-1.4v2.8M74.2 369.0h3.6m-1.8-1.4v2.8M74.3 368.8h3.6m-1.8-1.4v2.8M74.4 369.4h3.6m-1.8-1.4v2.8M74.5 369.6h3.6m-1.8-1.4v2.8M74.6 369.1h3.6m-1.8-1.4v2.8M74.7 369.0h3.6m-1.8-1.4v2.8M74.8 369.5h3.6m-1.8-1.4v2.8M74.9 369.5h3.6m-1.8-1.4v2.8M75.0 369.2h3.6m-1.8-1.4v2.8M75.1 369.2h3.6m-1.8-1.4v2.8M75.2 369.5h3.6m-1.8-1.4v2.8M75.3 369.3h3.6m-1.8-1.4v2.8M75.4 369.0h3.6m-1.8-1.4v2.8M75.5 369.0h3.6m-1.8-1.4v2.8M75.6 368.9h3.6m-1.8-1.4v2.8M75.7 369.3h3.6m-1.8-1.4v2.8M75.8 368.8h3.6m-1.8-1.4v2.8M75.9 369.0h3.6m-1.8-1.4v2.8M76.0 369.1h3.6m-1.8-1.4v2.8M76.1 368.6h3.6m-1.8-1.4v2.8M76.2 368.8h3.6m-1.8-1.4v2.8M76.3 369.1h3.6m-1.8-1.4v2.8M76.4 368.8h3.6m-1.8-1.4v2.8M76.5 368.9h3.6m-1.8-1.4v2.8M76.6 368.6h3.6m-1.8-1.4v2.8M76.7 368.6h3.6m-1.8-1.4v2.8M76.8 368.5h3.6m-1.8-1.4v2.8M76.9 368.3h3.6m-1.8-1.4v2.8M77.0 368.6h3.6m-1.8-1.4v2.8M77.1 368.9h3.6m-1.8-1.4v2.8M77.2 368.5h3.6m-1.8-1.4v2.8M77.3 368.8h3.6m-1.8-1.4v2.8M77.4 368.8h3.6m-1.8-1.4v2.8M77.5 368.6h3.6m-1.8-1.4v2.8M77.6 368.5h3.6m-1.8-1.4v2.8M77.7 368.6h3.6m-1.8-1.4v2.8M77.8 368.7h3.6m-1.8-1.4v2.8M77.9 368.1h3.6m-1.8-1.4v2.8M78.0 368.3h3.6m-1.8-1.4v2.8M78.1 368.4h3.6m-1.8-1.4v2.8M78.2 368.4h3.6m-1.8-1.4v2.8M78.3 368.1h3.6m-1.8-1.4v2.8M78.4 368.6h3.6m-1.8-1.4v2.8M78.5 368.1h3.6m-1.8-1.4v2.8M78.6 368.3h3.6m-1.8-1.4v2.8M78.7 368.7h3.6m-1.8-1.4v2.8M78.8 368.0h3.6m-1.8-1.4v2.8M78.9 368.1h3.6m-1.8-1.4v2.8M79.0 368.2h3.6m-1.8-1.4v2.8M79.1 367.9h3.6m-1.8-1.4v2.8M79.2 368.2h3.6m-1.8-1.4v2.8M79.3 368.1h3.6m-1.8-1.4v2.8M79.4 367.9h3.6m-1.8-1.4v2.8M79.5 367.9h3.6m-1.8-1.4v2.8M79.6 368.0h3.6m-1.8-1.4v2.8M79.7 368.0h3.6m-1.8-1.4v2.8M79.8 368.0h3.6m-1.8-1.4v2.8M79.9 367.7h3.6m-1.8-1.4v2.8M80.0 368.2h3.6m-1.8-1.4v2.8M80.1 367.4h3.6m-1.8-1.4v2.8M80.2 367.9h3.6m-1.8-1.4v2.8M80.3 367.6h3.6m-1.8-1.4v2.8M80.4 368.1h3.6m-1.8-1.4v2.8M80.5 367.6h3.6m-1.8-1.4v2.8M80.6 368.0h3.6m-1.8-1.4v2.8M80.7 367.2h3.6m-1.8-1.4v2.8M80.8 367.5h3.6m-1.8-1.4v2.8M80.9 367.8h3.6m-1.8-1.4v2.8M81.0 367.7h3.6m-1.8-1.4v2.8M81.1 367.4h3.6m-1.8-1.4v2.8M81.2 367.5h3.6m-1.8-1.4v2.8M81.3 367.5h3.6m-1.8-1.4v2.8M81.4 367.2h3.6m-1.8-1.4v2.8M81.5 367.3h3.6m-1.8-1.4v2.8M81.6 367.3h3.6m-1.8-1.4v2.8M81.7 367.2h3.6m-1.8-1.4v2.8M81.8 366.9h3.6m-1.8-1.4v2.8M81.9 367.4h3.6m-1.8-1.4v2.8M82.0 366.8h3.6m-1.8-1.4v2.8M82.1 366.8h3.6m-1.8-1.4v2.8M82.2 366.8h3.6m-1.8-1.4v2.8M82.3 366.6h3.6m-1.8-1.4v2.8M82.4 367.5h3.6m-1.8-1.4v2.8M82.5 366.8h3.6m-1.8-1.4v2.8M82.6 366.7h3.6m-1.8-1.4v2.8M82.7 366.7h3.6m-1.8-1.4v2.8M82.8 366.6h3.6m-1.8-1.4v2.8M82.9 366.7h3.6m-1.8-1.4v2.8M83.0 366.7h3.6m-1.8-1.4v2.8M83.1 367.0h3.6m-1.8-1.4v2.8M83.2 366.4h3.6m-1.8-1.4v2.8M83.3 366.7h3.6m-1.8-1.4v2.8M83.4 367.1h3.6m-1.8-1.4v2.8M83.5 366.9h3.6m-1.8-1.4v2.8M83.6 366.3h3.6m-1.8-1.4v2.8M83.7 366.6h3.6m-1.8-1.4v2.8M83.8 366.2h3.6m-1.8-1.4v2.8M83.9 366.6h3.6m-1.8-1.4v2.8M84.0 366.4h3.6m-1.8-1.4v2.8M84.1 365.6h3.6m-1.8-1.4v2.8M84.2 365.7h3.6m-1.8-1.4v2.8M84.3 365.7h3.6m-1.8-1.4v2.8M84.4 365.9h3.6m-1.8-1.4v2.8M84.5 366.2h3.6m-1.8-1.4v2.8M84.6 365.6h3.6m-1.8-1.4v2.8M84.7 366.4h3.6m-1.8-1.4v2.8M84.8 365.9h3.6m-1.8-1.4v2.8M84.9 365.9h3.6m-1.8-1.4v2.8M85.0 365.7h3.6m-1.8-1.4v2.8M85.1 365.5h3.6m-1.8-1.4v2.8M85.2 365.8h3.6m-1.8-1.4v2.8M85.3 365.6h3.6m-1.8-1.4v2.8M85.4 365.2h3.6m-1.8-1.4v2.8M85.5 365.4h3.6m-1.8-1.4v2.8M85.6 365.3h3.6m-1.8-1.4v2.8M85.7 365.5h3.6m-1.8-1.4v2.8M85.8 365.1h3.6m-1.8-1.4v2.8M85.9 365.2h3.6m-1.8-1.4v2.8M86.0 364.8h3.6m-1.8-1.4v2.8M86.1 364.9h3.6m-1.8-1.4v2.8M86.2 365.1h3.6m-1.8-1.4v2.8M86.3 365.3h3.6m-1.8-1.4v2.8M86.4 364.9h3.6m-1.8-1.4v2.8M86.5 364.4h3.6m-1.8-1.4v2.8M86.6 364.3h3.6m-1.8-1.4v2.8M86.7 364.3h3.6m-1.8-1.4v2.8M86.8 364.5h3.6m-1.8-1.4v2.8M86.9 364.2h3.6m-1.8-1.4v2.8M87.0 364.1h3.6m-1.8-1.4v2.8M87.1 363.8h3.6m-1.8-1.4v2.8M87.2 363.3h3.6m-1.8-1.4v2.8M87.3 363.7h3.6m-1.8-1.4v2.8M87.4 363.7h3.6m-1.8-1.4v2.8M87.5 363.1h3.6m-1.8-1.4v2.8M87.6 362.9h3.6m-1.8-1.4v2.8M87.7 363.0h3.6m-1.8-1.4v2.8M87.8 362.5h3.6m-1.8-1.4v2.8M87.9 361.4h3.6m-1.8-1.4v2.8M90.1 361.9h3.6m-1.8-1.4v2.8M90.2 362.2h3.6m-1.8-1.4v2.8M90.3 362.4h3.6m-1.8-1.4v2.8M90.4 362.6h3.6m-1.8-1.4v2.8M90.5 363.1h3.6m-1.8-1.4v2.8M90.6 363.5h3.6m-1.8-1.4v2.8M90.7 363.3h3.6m-1.8-1.4v2.8M90.8 363.7h3.6m-1.8-1.4v2.8M90.9 363.3h3.6m-1.8-1.4v2.8M91.0 364.3h3.6m-1.8-1.4v2.8M91.1 364.2h3.6m-1.8-1.4v2.8M91.2 364.7h3.6m-1.8-1.4v2.8M91.3 364.6h3.6m-1.8-1.4v2.8M91.4 364.8h3.6m-1.8-1.4v2.8M91.5 364.3h3.6m-1.8-1.4v2.8M91.6 364.7h3.6m-1.8-1.4v2.8M91.7 364.6h3.6m-1.8-1.4v2.8M91.8 364.8h3.6m-1.8-1.4v2.8M91.9 365.0h3.6m-1.8-1.4v2.8M92.0 365.2h3.6m-1.8-1.4v2.8M92.1 365.2h3.6m-1.8-1.4v2.8M92.2 365.6h3.6m-1.8-1.4v2.8M92.3 365.1h3.6m-1.8-1.4v2.8M92.4 365.0h3.6m-1.8-1.4v2.8M92.5 365.3h3.6m-1.8-1.4v2.8M92.6 365.3h3.6m-1.8-1.4v2.8M92.7 365.6h3.6m-1.8-1.4v2.8M92.8 365.6h3.6m-1.8-1.4v2.8M92.9 365.8h3.6m-1.8-1.4v2.8M93.0 365.5h3.6m-1.8-1.4v2.8M93.1 365.9h3.6m-1.8-1.4v2.8M93.2 365.8h3.6m-1.8-1.4v2.8M93.3 365.6h3.6m-1.8-1.4v2.8M93.4 366.1h3.6m-1.8-1.4v2.8M93.5 366.1h3.6m-1.8-1.4v2.8M93.6 365.8h3.6m-1.8-1.4v2.8M93.7 365.8h3.6m-1.8-1.4v2.8M93.8 366.1h3.6m-1.8-1.4v2.8M93.9 366.2h3.6m-1.8-1.4v2.8M94.0 366.8h3.6m-1.8-1.4v2.8M94.1 366.5h3.6m-1.8-1.4v2.8M94.2 366.2h3.6m-1.8-1.4v2.8M94.3 366.7h3.6m-1.8-1.4v2.8M94.4 366.8h3.6m-1.8-1.4v2.8M94.5 366.1h3.6m-1.8-1.4v2.8M94.6 366.6h3.6m-1.8-1.4v2.8M94.7 366.5h3.6m-1.8-1.4v2.8M94.8 366.6h3.6m-1.8-1.4v2.8M94.9 366.6h3.6m-1.8-1.4v2.8M95.0 366.6h3.6m-1.8-1.4v2.8M95.1 366.9h3.6m-1.8-1.4v2.8M95.2 366.7h3.6m-1.8-1.4v2.8M95.3 366.8h3.6m-1.8-1.4v2.8M95.4 366.9h3.6m-1.8-1.4v2.8M95.5 367.0h3.6m-1.8-1.4v2.8M95.6 367.3h3.6m-1.8-1.4v2.8M95.7 367.1h3.6m-1.8-1.4v2.8M95.8 367.1h3.6m-1.8-1.4v2.8M95.9 367.1h3.6m-1.8-1.4v2.8M96.0 367.1h3.6m-1.8-1.4v2.8M96.1 366.9h3.6m-1.8-1.4v2.8M96.2 367.1h3.6m-1.8-1.4v2.8M96.3 367.2h3.6m-1.8-1.4v2.8M96.4 366.9h3.6m-1.8-1.4v2.8M96.5 366.7h3.6m-1.8-1.4v2.8M96.6 367.3h3.6m-1.8-1.4v2.8M96.7 367.6h3.6m-1.8-1.4v2.8M96.8 367.3h3.6m-1.8-1.4v2.8M96.9 367.5h3.6m-1.8-1.4v2.8M97.0 367.1h3.6m-1.8-1.4v2.8M97.1 367.6h3.6m-1.8-1.4v2.8M97.2 367.9h3.6m-1.8-1.4v2.8M97.3 367.9h3.6m-1.8-1.4v2.8M97.4 367.7h3.6m-1.8-1.4v2.8M97.5 367.9h3.6m-1.8-1.4v2.8M97.6 367.4h3.6m-1.8-1.4v2.8M97.7 367.5h3.6m-1.8-1.4v2.8M97.8 367.3h3.6m-1.8-1.4v2.8M97.9 367.6h3.6m-1.8-1.4v2.8M98.0 367.8h3.6m-1.8-1.4v2.8M98.1 367.6h3.6m-1.8-1.4v2.8M98.2 368.0h3.6m-1.8-1.4v2.8M98.3 368.0h3.6m-1.8-1.4v2.8M98.4 367.4h3.6m-1.8-1.4v2.8M98.5 368.1h3.6m-1.8-1.4v2.8M98.6 367.9h3.6m-1.8-1.4v2.8M98.7 368.4h3.6m-1.8-1.4v2.8M98.8 367.6h3.6m-1.8-1.4v2.8M98.9 368.3h3.6m-1.8-1.4v2.8M99.0 368.1h3.6m-1.8-1.4v2.8M99.1 368.1h3.6m-1.8-1.4v2.8M99.2 368.1h3.6m-1.8-1.4v2.8M99.3 367.7h3.6m-1.8-1.4v2.8M99.4 368.2h3.6m-1.8-1.4v2.8M99.5 368.2h3.6m-1.8-1.4v2.8M99.6 368.4h3.6m-1.8-1.4v2.8M99.7 367.9h3.6m-1.8-1.4v2.8M99.8 368.2h3.6m-1.8-1.4v2.8M99.9 368.3h3.6m-1.8-1.4v2.8M100.0 368.3h3.6m-1.8-1.4v2.8M100.1 368.5h3.6m-1.8-1.4v2.8M100.2 368.3h3.6m-1.8-1.4v2.8M100.3 368.5h3.6m-1.8-1.4v2.8M100.4 368.3h3.6m-1.8-1.4v2.8M100.5 368.3h3.6m-1.8-1.4v2.8M100.6 368.0h3.6m-1.8-1.4v2.8M100.7 368.7h3.6m-1.8-1.4v2.8M100.8 368.0h3.6m-1.8-1.4v2.8M100.9 368.6h3.6m-1.8-1.4v2.8M101.0 368.5h3.6m-1.8-1.4v2.8M101.1 368.6h3.6m-1.8-1.4v2.8M101.2 368.1h3.6m-1.8-1.4v2.8M101.3 368.5h3.6m-1.8-1.4v2.8M101.4 368.4h3.6m-1.8-1.4v2.8M101.5 368.6h3.6m-1.8-1.4v2.8M101.6 368.3h3.6m-1.8-1.4v2.8M101.7 368.6h3.6m-1.8-1.4v2.8M101.8 368.2h3.6m-1.8-1.4v2.8M101.9 368.4h3.6m-1.8-1.4v2.8M102.0 368.8h3.6m-1.8-1.4v2.8M102.1 369.1h3.6m-1.8-1.4v2.8M102.2 368.7h3.6m-1.8-1.4v2.8M102.3 368.8h3.6m-1.8-1.4v2.8M102.4 368.3h3.6m-1.8-1.4v2.8M102.5 368.4h3.6m-1.8-1.4v2.8M102.6 368.3h3.6m-1.8-1.4v2.8M102.7 368.4h3.6m-1.8-1.4v2.8M102.8 368.7h3.6m-1.8-1.4v2.8M102.9 368.2h3.6m-1.8-1.4v2.8M103.0 368.1h3.6m-1.8-1.4v2.8M103.1 368.9h3.6m-1.8-1.4v2.8M103.2 368.3h3.6m-1.8-1.4v2.8M103.3 368.8h3.6m-1.8-1.4v2.8M103.4 368.8h3.6m-1.8-1.4v2.8M103.5 368.6h3.6m-1.8-1.4v2.8M103.6 369.0h3.6m-1.8-1.4v2.8M103.7 368.9h3.6m-1.8-1.4v2.8M103.8 368.4h3.6m-1.8-1.4v2.8M103.9 368.4h3.6m-1.8-1.4v2.8M104.0 368.5h3.6m-1.8-1.4v2.8M104.1 368.7h3.6m-1.8-1.4v2.8M104.2 368.8h3.6m-1.8-1.4v2.8M104.3 369.2h3.6m-1.8-1.4v2.8M104.4 368.6h3.6m-1.8-1.4v2.8M104.5 368.4h3.6m-1.8-1.4v2.8M104.6 368.3h3.6m-1.8-1.4v2.8M104.7 368.6h3.6m-1.8-1.4v2.8M104.8 368.7h3.6m-1.8-1.4v2.8M104.9 368.7h3.6m-1.8-1.4v2.8M105.0 368.6h3.6m-1.8-1.4v2.8M105.1 368.8h3.6m-1.8-1.4v2.8M105.2 369.3h3.6m-1.8-1.4v2.8M105.3 368.4h3.6m-1.8-1.4v2.8M105.4 368.5h3.6m-1.8-1.4v2.8M105.5 368.6h3.6m-1.8-1.4v2.8M105.6 368.5h3.6m-1.8-1.4v2.8M105.7 368.6h3.6m-1.8-1.4v2.8M105.8 368.5h3.6m-1.8-1.4v2.8M105.9 368.4h3.6m-1.8-1.4v2.8M106.0 368.6h3.6m-1.8-1.4v2.8M106.1 368.5h3.6m-1.8-1.4v2.8M106.2 368.7h3.6m-1.8-1.4v2.8M106.3 368.5h3.6m-1.8-1.4v2.8M106.4 368.4h3.6m-1.8-1.4v2.8M106.5 368.3h3.6m-1.8-1.4v2.8M106.6 368.1h3.6m-1.8-1.4v2.8M106.7 368.1h3.6m-1.8-1.4v2.8M106.8 368.1h3.6m-1.8-1.4v2.8M106.9 368.2h3.6m-1.8-1.4v2.8M107.0 368.1h3.6m-1.8-1.4v2.8M107.1 368.0h3.6m-1.8-1.4v2.8M107.2 368.5h3.6m-1.8-1.4v2.8M107.3 367.9h3.6m-1.8-1.4v2.8M107.4 368.3h3.6m-1.8-1.4v2.8M107.5 367.9h3.6m-1.8-1.4v2.8M107.6 367.9h3.6m-1.8-1.4v2.8M107.7 367.5h3.6m-1.8-1.4v2.8M107.8 367.8h3.6m-1.8-1.4v2.8M107.9 367.9h3.6m-1.8-1.4v2.8M108.0 367.6h3.6m-1.8-1.4v2.8M108.1 367.2h3.6m-1.8-1.4v2.8M108.2 367.4h3.6m-1.8-1.4v2.8M108.3 367.2h3.6m-1.8-1.4v2.8M108.4 366.6h3.6m-1.8-1.4v2.8M108.5 366.8h3.6m-1.8-1.4v2.8M108.6 366.9h3.6m-1.8-1.4v2.8M108.7 366.7h3.6m-1.8-1.4v2.8M108.8 366.1h3.6m-1.8-1.4v2.8M108.9 366.0h3.6m-1.8-1.4v2.8M109.0 366.1h3.6m-1.8-1.4v2.8M114.0 366.4h3.6m-1.8-1.4v2.8M114.1 367.2h3.6m-1.8-1.4v2.8M114.2 366.6h3.6m-1.8-1.4v2.8M114.3 367.0h3.6m-1.8-1.4v2.8M114.4 367.4h3.6m-1.8-1.4v2.8M114.5 367.7h3.6m-1.8-1.4v2.8M114.6 368.0h3.6m-1.8-1.4v2.8M114.7 367.6h3.6m-1.8-1.4v2.8M114.8 368.1h3.6m-1.8-1.4v2.8M114.9 367.7h3.6m-1.8-1.4v2.8M115.0 368.3h3.6m-1.8-1.4v2.8M115.1 368.1h3.6m-1.8-1.4v2.8M115.2 368.7h3.6m-1.8-1.4v2.8M115.3 368.3h3.6m-1.8-1.4v2.8M115.4 368.5h3.6m-1.8-1.4v2.8M115.5 368.8h3.6m-1.8-1.4v2.8M115.6 368.9h3.6m-1.8-1.4v2.8M115.7 369.0h3.6m-1.8-1.4v2.8M115.8 368.8h3.6m-1.8-1.4v2.8M115.9 369.2h3.6m-1.8-1.4v2.8M116.0 368.6h3.6m-1.8-1.4v2.8M116.1 368.7h3.6m-1.8-1.4v2.8M116.2 368.8h3.6m-1.8-1.4v2.8M116.3 369.1h3.6m-1.8-1.4v2.8M116.4 369.7h3.6m-1.8-1.4v2.8M116.5 369.4h3.6m-1.8-1.4v2.8M116.6 369.0h3.6m-1.8-1.4v2.8M116.7 369.4h3.6m-1.8-1.4v2.8M116.8 369.3h3.6m-1.8-1.4v2.8M116.9 369.8h3.6m-1.8-1.4v2.8M117.0 369.2h3.6m-1.8-1.4v2.8M117.1 369.6h3.6m-1.8-1.4v2.8M117.2 369.3h3.6m-1.8-1.4v2.8M117.3 369.9h3.6m-1.8-1.4v2.8M117.4 370.0h3.6m-1.8-1.4v2.8M117.5 369.6h3.6m-1.8-1.4v2.8M117.6 369.4h3.6m-1.8-1.4v2.8M117.7 369.9h3.6m-1.8-1.4v2.8M117.8 369.3h3.6m-1.8-1.4v2.8M117.9 369.9h3.6m-1.8-1.4v2.8M118.0 370.2h3.6m-1.8-1.4v2.8M118.1 369.9h3.6m-1.8-1.4v2.8M118.2 370.0h3.6m-1.8-1.4v2.8M118.3 370.0h3.6m-1.8-1.4v2.8M118.4 370.4h3.6m-1.8-1.4v2.8M118.5 369.9h3.6m-1.8-1.4v2.8M118.6 370.2h3.6m-1.8-1.4v2.8M118.7 370.2h3.6m-1.8-1.4v2.8M118.8 370.4h3.6m-1.8-1.4v2.8M118.9 369.9h3.6m-1.8-1.4v2.8M119.0 370.1h3.6m-1.8-1.4v2.8M119.1 370.1h3.6m-1.8-1.4v2.8M119.2 370.3h3.6m-1.8-1.4v2.8M119.3 370.6h3.6m-1.8-1.4v2.8M119.4 370.6h3.6m-1.8-1.4v2.8M119.5 370.2h3.6m-1.8-1.4v2.8M119.6 370.5h3.6m-1.8-1.4v2.8M119.7 370.4h3.6m-1.8-1.4v2.8M119.8 370.8h3.6m-1.8-1.4v2.8M119.9 370.7h3.6m-1.8-1.4v2.8M120.0 370.8h3.6m-1.8-1.4v2.8M120.1 370.0h3.6m-1.8-1.4v2.8M120.2 370.3h3.6m-1.8-1.4v2.8M120.3 370.6h3.6m-1.8-1.4v2.8M120.4 370.7h3.6m-1.8-1.4v2.8M120.5 370.6h3.6m-1.8-1.4v2.8M120.6 370.4h3.6m-1.8-1.4v2.8M120.7 370.8h3.6m-1.8-1.4v2.8M120.8 370.4h3.6m-1.8-1.4v2.8M120.9 370.9h3.6m-1.8-1.4v2.8M121.0 370.8h3.6m-1.8-1.4v2.8M121.1 370.4h3.6m-1.8-1.4v2.8M121.2 370.7h3.6m-1.8-1.4v2.8M121.3 370.5h3.6m-1.8-1.4v2.8M121.4 370.6h3.6m-1.8-1.4v2.8M121.5 371.1h3.6m-1.8-1.4v2.8M121.6 370.8h3.6m-1.8-1.4v2.8M121.7 370.7h3.6m-1.8-1.4v2.8M121.8 371.0h3.6m-1.8-1.4v2.8M121.9 370.7h3.6m-1.8-1.4v2.8M122.0 370.3h3.6m-1.8-1.4v2.8M122.1 370.9h3.6m-1.8-1.4v2.8M122.2 370.9h3.6m-1.8-1.4v2.8M122.3 370.6h3.6m-1.8-1.4v2.8M122.4 370.8h3.6m-1.8-1.4v2.8M122.5 370.6h3.6m-1.8-1.4v2.8M122.6 370.9h3.6m-1.8-1.4v2.8M122.7 370.6h3.6m-1.8-1.4v2.8M122.8 370.7h3.6m-1.8-1.4v2.8M122.9 370.8h3.6m-1.8-1.4v2.8M123.0 371.0h3.6m-1.8-1.4v2.8M123.1 370.9h3.6m-1.8-1.4v2.8M123.2 371.0h3.6m-1.8-1.4v2.8M123.3 371.0h3.6m-1.8-1.4v2.8M123.4 371.0h3.6m-1.8-1.4v2.8M123.5 370.8h3.6m-1.8-1.4v2.8M123.6 370.8h3.6m-1.8-1.4v2.8M123.7 370.4h3.6m-1.8-1.4v2.8M123.8 370.4h3.6m-1.8-1.4v2.8M123.9 370.5h3.6m-1.8-1.4v2.8M124.0 370.3h3.6m-1.8-1.4v2.8M124.1 370.8h3.6m-1.8-1.4v2.8M124.2 370.9h3.6m-1.8-1.4v2.8M124.3 371.0h3.6m-1.8-1.4v2.8M124.4 370.6h3.6m-1.8-1.4v2.8M124.5 370.7h3.6m-1.8-1.4v2.8M124.6 370.8h3.6m-1.8-1.4v2.8M124.7 371.3h3.6m-1.8-1.4v2.8M124.8 370.5h3.6m-1.8-1.4v2.8M124.9 370.4h3.6m-1.8-1.4v2.8M125.0 370.2h3.6m-1.8-1.4v2.8M125.1 370.6h3.6m-1.8-1.4v2.8M125.2 370.5h3.6m-1.8-1.4v2.8M125.3 370.5h3.6m-1.8-1.4v2.8M125.4 371.0h3.6m-1.8-1.4v2.8M125.5 370.4h3.6m-1.8-1.4v2.8M125.6 370.6h3.6m-1.8-1.4v2.8M125.7 370.1h3.6m-1.8-1.4v2.8M125.8 370.4h3.6m-1.8-1.4v2.8M125.9 370.2h3.6m-1.8-1.4v2.8M126.0 370.8h3.6m-1.8-1.4v2.8M126.1 370.3h3.6m-1.8-1.4v2.8M126.2 370.6h3.6m-1.8-1.4v2.8M126.3 370.7h3.6m-1.8-1.4v2.8M126.4 370.1h3.6m-1.8-1.4v2.8M126.5 370.2h3.6m-1.8-1.4v2.8M126.6 370.2h3.6m-1.8-1.4v2.8M126.7 369.9h3.6m-1.8-1.4v2.8M126.8 369.8h3.6m-1.8-1.4v2.8M126.9 369.9h3.6m-1.8-1.4v2.8M127.0 369.4h3.6m-1.8-1.4v2.8M127.1 369.6h3.6m-1.8-1.4v2.8M127.2 369.7h3.6m-1.8-1.4v2.8M127.3 368.8h3.6m-1.8-1.4v2.8M127.4 369.4h3.6m-1.8-1.4v2.8M127.5 368.6h3.6m-1.8-1.4v2.8M127.6 368.1h3.6m-1.8-1.4v2.8M127.7 368.5h3.6m-1.8-1.4v2.8M129.5 368.3h3.6m-1.8-1.4v2.8M129.6 368.9h3.6m-1.8-1.4v2.8M129.7 368.8h3.6m-1.8-1.4v2.8M129.8 369.1h3.6m-1.8-1.4v2.8M129.9 369.3h3.6m-1.8-1.4v2.8M130.0 369.6h3.6m-1.8-1.4v2.8M130.1 369.8h3.6m-1.8-1.4v2.8M130.2 369.9h3.6m-1.8-1.4v2.8M130.3 369.8h3.6m-1.8-1.4v2.8M130.4 370.2h3.6m-1.8-1.4v2.8M130.5 370.3h3.6m-1.8-1.4v2.8M130.6 370.1h3.6m-1.8-1.4v2.8M130.7 370.5h3.6m-1.8-1.4v2.8M130.8 370.8h3.6m-1.8-1.4v2.8M130.9 370.7h3.6m-1.8-1.4v2.8M131.0 371.0h3.6m-1.8-1.4v2.8M131.1 370.5h3.6m-1.8-1.4v2.8M131.2 370.6h3.6m-1.8-1.4v2.8M131.3 370.4h3.6m-1.8-1.4v2.8M131.4 369.9h3.6m-1.8-1.4v2.8M131.5 370.7h3.6m-1.8-1.4v2.8M131.6 371.1h3.6m-1.8-1.4v2.8M131.7 370.3h3.6m-1.8-1.4v2.8M131.8 370.7h3.6m-1.8-1.4v2.8M131.9 371.0h3.6m-1.8-1.4v2.8M132.0 370.9h3.6m-1.8-1.4v2.8M132.1 370.6h3.6m-1.8-1.4v2.8M132.2 371.3h3.6m-1.8-1.4v2.8M132.3 370.8h3.6m-1.8-1.4v2.8M132.4 371.2h3.6m-1.8-1.4v2.8M132.5 371.0h3.6m-1.8-1.4v2.8M132.6 371.1h3.6m-1.8-1.4v2.8M132.7 371.6h3.6m-1.8-1.4v2.8M132.8 371.3h3.6m-1.8-1.4v2.8M132.9 370.9h3.6m-1.8-1.4v2.8M133.0 371.3h3.6m-1.8-1.4v2.8M133.1 370.8h3.6m-1.8-1.4v2.8M133.2 371.1h3.6m-1.8-1.4v2.8M133.3 371.3h3.6m-1.8-1.4v2.8M133.4 371.2h3.6m-1.8-1.4v2.8M133.5 371.2h3.6m-1.8-1.4v2.8M133.6 371.2h3.6m-1.8-1.4v2.8M133.7 370.8h3.6m-1.8-1.4v2.8M133.8 371.2h3.6m-1.8-1.4v2.8M133.9 371.1h3.6m-1.8-1.4v2.8M134.0 371.3h3.6m-1.8-1.4v2.8M134.1 371.6h3.6m-1.8-1.4v2.8M134.2 371.0h3.6m-1.8-1.4v2.8M134.3 371.6h3.6m-1.8-1.4v2.8M134.4 371.2h3.6m-1.8-1.4v2.8M134.5 371.2h3.6m-1.8-1.4v2.8M134.6 371.7h3.6m-1.8-1.4v2.8M134.7 371.4h3.6m-1.8-1.4v2.8M134.8 371.4h3.6m-1.8-1.4v2.8M134.9 371.8h3.6m-1.8-1.4v2.8M135.0 371.8h3.6m-1.8-1.4v2.8M135.1 371.4h3.6m-1.8-1.4v2.8M135.2 371.3h3.6m-1.8-1.4v2.8M135.3 371.4h3.6m-1.8-1.4v2.8M135.4 371.0h3.6m-1.8-1.4v2.8M135.5 372.1h3.6m-1.8-1.4v2.8M135.6 371.6h3.6m-1.8-1.4v2.8M135.7 371.5h3.6m-1.8-1.4v2.8M135.8 371.7h3.6m-1.8-1.4v2.8M135.9 371.3h3.6m-1.8-1.4v2.8M136.0 371.1h3.6m-1.8-1.4v2.8M136.1 371.2h3.6m-1.8-1.4v2.8M136.2 371.6h3.6m-1.8-1.4v2.8M136.3 371.0h3.6m-1.8-1.4v2.8M136.4 371.0h3.6m-1.8-1.4v2.8M136.5 372.0h3.6m-1.8-1.4v2.8M136.6 370.9h3.6m-1.8-1.4v2.8M136.7 371.5h3.6m-1.8-1.4v2.8M136.8 371.2h3.6m-1.8-1.4v2.8M136.9 371.1h3.6m-1.8-1.4v2.8M137.0 371.9h3.6m-1.8-1.4v2.8M137.1 371.6h3.6m-1.8-1.4v2.8M137.2 371.3h3.6m-1.8-1.4v2.8M137.3 371.5h3.6m-1.8-1.4v2.8M137.4 371.2h3.6m-1.8-1.4v2.8M137.5 371.7h3.6m-1.8-1.4v2.8M137.6 371.5h3.6m-1.8-1.4v2.8M137.7 371.6h3.6m-1.8-1.4v2.8M137.8 371.2h3.6m-1.8-1.4v2.8M137.9 371.5h3.6m-1.8-1.4v2.8M138.0 370.9h3.6m-1.8-1.4v2.8M138.1 371.4h3.6m-1.8-1.4v2.8M138.2 371.1h3.6m-1.8-1.4v2.8M138.3 371.4h3.6m-1.8-1.4v2.8M138.4 371.2h3.6m-1.8-1.4v2.8M138.5 371.2h3.6m-1.8-1.4v2.8M138.6 371.3h3.6m-1.8-1.4v2.8M138.7 370.9h3.6m-1.8-1.4v2.8M138.8 371.6h3.6m-1.8-1.4v2.8M138.9 371.5h3.6m-1.8-1.4v2.8M139.0 370.5h3.6m-1.8-1.4v2.8M139.1 370.9h3.6m-1.8-1.4v2.8M139.2 371.0h3.6m-1.8-1.4v2.8M139.3 371.3h3.6m-1.8-1.4v2.8M139.4 371.3h3.6m-1.8-1.4v2.8M139.5 371.3h3.6m-1.8-1.4v2.8M139.6 370.9h3.6m-1.8-1.4v2.8M139.7 371.1h3.6m-1.8-1.4v2.8M139.8 370.8h3.6m-1.8-1.4v2.8M139.9 371.0h3.6m-1.8-1.4v2.8M140.0 370.8h3.6m-1.8-1.4v2.8M140.1 371.0h3.6m-1.8-1.4v2.8M140.2 370.8h3.6m-1.8-1.4v2.8M140.3 371.1h3.6m-1.8-1.4v2.8M140.4 370.9h3.6m-1.8-1.4v2.8M140.5 370.8h3.6m-1.8-1.4v2.8M140.6 370.3h3.6m-1.8-1.4v2.8M140.7 370.3h3.6m-1.8-1.4v2.8M140.8 370.8h3.6m-1.8-1.4v2.8M140.9 370.5h3.6m-1.8-1.4v2.8M141.0 370.6h3.6m-1.8-1.4v2.8M141.1 370.3h3.6m-1.8-1.4v2.8M141.2 370.4h3.6m-1.8-1.4v2.8M141.3 370.3h3.6m-1.8-1.4v2.8M141.4 370.1h3.6m-1.8-1.4v2.8M141.5 369.6h3.6m-1.8-1.4v2.8M141.6 369.7h3.6m-1.8-1.4v2.8M141.7 369.4h3.6m-1.8-1.4v2.8M141.8 369.7h3.6m-1.8-1.4v2.8M141.9 369.0h3.6m-1.8-1.4v2.8M142.0 369.4h3.6m-1.8-1.4v2.8M142.1 369.2h3.6m-1.8-1.4v2.8M142.2 368.4h3.6m-1.8-1.4v2.8M144.6 368.7h3.6m-1.8-1.4v2.8M144.7 368.6h3.6m-1.8-1.4v2.8M144.8 368.6h3.6m-1.8-1.4v2.8M144.9 368.7h3.6m-1.8-1.4v2.8M145.0 369.5h3.6m-1.8-1.4v2.8M145.1 369.7h3.6m-1.8-1.4v2.8M145.2 369.4h3.6m-1.8-1.4v2.8M145.3 369.9h3.6m-1.8-1.4v2.8M145.4 369.8h3.6m-1.8-1.4v2.8M145.5 370.1h3.6m-1.8-1.4v2.8M145.6 370.0h3.6m-1.8-1.4v2.8M145.7 370.5h3.6m-1.8-1.4v2.8M145.8 370.5h3.6m-1.8-1.4v2.8M145.9 370.5h3.6m-1.8-1.4v2.8M146.0 370.6h3.6m-1.8-1.4v2.8M146.1 370.6h3.6m-1.8-1.4v2.8M146.2 370.8h3.6m-1.8-1.4v2.8M146.3 370.6h3.6m-1.8-1.4v2.8M146.4 370.9h3.6m-1.8-1.4v2.8M146.5 370.7h3.6m-1.8-1.4v2.8M146.6 370.7h3.6m-1.8-1.4v2.8M146.7 370.8h3.6m-1.8-1.4v2.8M146.8 371.3h3.6m-1.8-1.4v2.8M146.9 371.0h3.6m-1.8-1.4v2.8M147.0 370.8h3.6m-1.8-1.4v2.8M147.1 371.1h3.6m-1.8-1.4v2.8M147.2 371.2h3.6m-1.8-1.4v2.8M147.3 371.8h3.6m-1.8-1.4v2.8M147.4 371.2h3.6m-1.8-1.4v2.8M147.5 371.4h3.6m-1.8-1.4v2.8M147.6 371.4h3.6m-1.8-1.4v2.8M147.7 371.7h3.6m-1.8-1.4v2.8M147.8 371.6h3.6m-1.8-1.4v2.8M147.9 371.2h3.6m-1.8-1.4v2.8M148.0 371.6h3.6m-1.8-1.4v2.8M148.1 371.4h3.6m-1.8-1.4v2.8M148.2 371.7h3.6m-1.8-1.4v2.8M148.3 371.2h3.6m-1.8-1.4v2.8M148.4 371.5h3.6m-1.8-1.4v2.8M148.5 371.6h3.6m-1.8-1.4v2.8M148.6 371.3h3.6m-1.8-1.4v2.8M148.7 371.6h3.6m-1.8-1.4v2.8M148.8 371.1h3.6m-1.8-1.4v2.8M148.9 371.6h3.6m-1.8-1.4v2.8M149.0 371.6h3.6m-1.8-1.4v2.8M149.1 371.8h3.6m-1.8-1.4v2.8M149.2 371.5h3.6m-1.8-1.4v2.8M149.3 371.7h3.6m-1.8-1.4v2.8M149.4 371.3h3.6m-1.8-1.4v2.8M149.5 371.7h3.6m-1.8-1.4v2.8M149.6 371.6h3.6m-1.8-1.4v2.8M149.7 371.8h3.6m-1.8-1.4v2.8M149.8 371.6h3.6m-1.8-1.4v2.8M149.9 371.5h3.6m-1.8-1.4v2.8M150.0 371.9h3.6m-1.8-1.4v2.8M150.1 371.4h3.6m-1.8-1.4v2.8M150.2 371.7h3.6m-1.8-1.4v2.8M150.3 371.7h3.6m-1.8-1.4v2.8M150.4 371.7h3.6m-1.8-1.4v2.8M150.5 371.6h3.6m-1.8-1.4v2.8M150.6 371.7h3.6m-1.8-1.4v2.8M150.7 371.4h3.6m-1.8-1.4v2.8M150.8 371.6h3.6m-1.8-1.4v2.8M150.9 371.5h3.6m-1.8-1.4v2.8M151.0 371.7h3.6m-1.8-1.4v2.8M151.1 371.5h3.6m-1.8-1.4v2.8M151.2 371.1h3.6m-1.8-1.4v2.8M151.3 371.3h3.6m-1.8-1.4v2.8M151.4 371.6h3.6m-1.8-1.4v2.8M151.5 371.6h3.6m-1.8-1.4v2.8M151.6 371.7h3.6m-1.8-1.4v2.8M151.7 371.9h3.6m-1.8-1.4v2.8M151.8 371.9h3.6m-1.8-1.4v2.8M151.9 371.3h3.6m-1.8-1.4v2.8M152.0 371.4h3.6m-1.8-1.4v2.8M152.1 371.9h3.6m-1.8-1.4v2.8M152.2 371.5h3.6m-1.8-1.4v2.8M152.3 371.9h3.6m-1.8-1.4v2.8M152.4 371.4h3.6m-1.8-1.4v2.8M152.5 372.2h3.6m-1.8-1.4v2.8M152.6 371.5h3.6m-1.8-1.4v2.8M152.7 371.8h3.6m-1.8-1.4v2.8M152.8 371.5h3.6m-1.8-1.4v2.8M152.9 371.5h3.6m-1.8-1.4v2.8M153.0 371.8h3.6m-1.8-1.4v2.8M153.1 371.8h3.6m-1.8-1.4v2.8M153.2 371.7h3.6m-1.8-1.4v2.8M153.3 371.4h3.6m-1.8-1.4v2.8M153.4 371.5h3.6m-1.8-1.4v2.8M153.5 371.8h3.6m-1.8-1.4v2.8M153.6 371.4h3.6m-1.8-1.4v2.8M153.7 371.4h3.6m-1.8-1.4v2.8M153.8 371.2h3.6m-1.8-1.4v2.8M153.9 371.4h3.6m-1.8-1.4v2.8M154.0 371.7h3.6m-1.8-1.4v2.8M154.1 371.5h3.6m-1.8-1.4v2.8M154.2 371.5h3.6m-1.8-1.4v2.8M154.3 371.2h3.6m-1.8-1.4v2.8M154.4 371.3h3.6m-1.8-1.4v2.8M154.5 371.2h3.6m-1.8-1.4v2.8M154.6 371.0h3.6m-1.8-1.4v2.8M154.7 371.2h3.6m-1.8-1.4v2.8M154.8 371.1h3.6m-1.8-1.4v2.8M154.9 371.1h3.6m-1.8-1.4v2.8M155.0 371.2h3.6m-1.8-1.4v2.8M155.1 371.1h3.6m-1.8-1.4v2.8M155.2 371.1h3.6m-1.8-1.4v2.8M155.3 370.6h3.6m-1.8-1.4v2.8M155.4 370.8h3.6m-1.8-1.4v2.8M155.5 370.2h3.6m-1.8-1.4v2.8M155.6 370.3h3.6m-1.8-1.4v2.8M155.7 369.8h3.6m-1.8-1.4v2.8M155.8 369.4h3.6m-1.8-1.4v2.8M157.0 369.2h3.6m-1.8-1.4v2.8M157.1 369.9h3.6m-1.8-1.4v2.8M157.2 370.5h3.6m-1.8-1.4v2.8M157.3 369.7h3.6m-1.8-1.4v2.8M157.4 371.0h3.6m-1.8-1.4v2.8M157.5 371.1h3.6m-1.8-1.4v2.8M157.6 370.7h3.6m-1.8-1.4v2.8M157.7 371.0h3.6m-1.8-1.4v2.8M157.8 371.2h3.6m-1.8-1.4v2.8M157.9 370.9h3.6m-1.8-1.4v2.8M158.0 371.2h3.6m-1.8-1.4v2.8M158.1 371.2h3.6m-1.8-1.4v2.8M158.2 371.4h3.6m-1.8-1.4v2.8M158.3 371.3h3.6m-1.8-1.4v2.8M158.4 371.5h3.6m-1.8-1.4v2.8M158.5 371.5h3.6m-1.8-1.4v2.8M158.6 371.5h3.6m-1.8-1.4v2.8M158.7 371.9h3.6m-1.8-1.4v2.8M158.8 371.3h3.6m-1.8-1.4v2.8M158.9 371.0h3.6m-1.8-1.4v2.8M159.0 371.1h3.6m-1.8-1.4v2.8M159.1 371.6h3.6m-1.8-1.4v2.8M159.2 371.5h3.6m-1.8-1.4v2.8M159.3 371.7h3.6m-1.8-1.4v2.8M159.4 371.6h3.6m-1.8-1.4v2.8M159.5 370.7h3.6m-1.8-1.4v2.8M159.6 371.4h3.6m-1.8-1.4v2.8M159.7 372.0h3.6m-1.8-1.4v2.8M159.8 371.7h3.6m-1.8-1.4v2.8M159.9 371.7h3.6m-1.8-1.4v2.8M160.0 371.4h3.6m-1.8-1.4v2.8M160.1 371.7h3.6m-1.8-1.4v2.8M160.2 371.1h3.6m-1.8-1.4v2.8M160.3 371.9h3.6m-1.8-1.4v2.8M160.4 371.8h3.6m-1.8-1.4v2.8M160.5 371.2h3.6m-1.8-1.4v2.8M160.6 371.7h3.6m-1.8-1.4v2.8M160.7 371.9h3.6m-1.8-1.4v2.8M160.8 371.9h3.6m-1.8-1.4v2.8M160.9 371.7h3.6m-1.8-1.4v2.8M161.0 371.6h3.6m-1.8-1.4v2.8M161.1 371.4h3.6m-1.8-1.4v2.8M161.2 371.7h3.6m-1.8-1.4v2.8M161.3 371.5h3.6m-1.8-1.4v2.8M161.4 371.7h3.6m-1.8-1.4v2.8M161.5 371.9h3.6m-1.8-1.4v2.8M161.6 371.6h3.6m-1.8-1.4v2.8M161.7 371.4h3.6m-1.8-1.4v2.8M161.8 371.6h3.6m-1.8-1.4v2.8M161.9 371.7h3.6m-1.8-1.4v2.8M162.0 371.5h3.6m-1.8-1.4v2.8M162.1 371.7h3.6m-1.8-1.4v2.8M162.2 371.5h3.6m-1.8-1.4v2.8M162.3 371.7h3.6m-1.8-1.4v2.8M162.4 371.4h3.6m-1.8-1.4v2.8M162.5 371.4h3.6m-1.8-1.4v2.8M162.6 371.4h3.6m-1.8-1.4v2.8M162.7 371.6h3.6m-1.8-1.4v2.8M162.8 371.3h3.6m-1.8-1.4v2.8M162.9 371.6h3.6m-1.8-1.4v2.8M163.0 371.1h3.6m-1.8-1.4v2.8M163.1 372.0h3.6m-1.8-1.4v2.8M163.2 371.0h3.6m-1.8-1.4v2.8M163.3 371.4h3.6m-1.8-1.4v2.8M163.4 371.2h3.6m-1.8-1.4v2.8M163.5 371.4h3.6m-1.8-1.4v2.8M163.6 371.2h3.6m-1.8-1.4v2.8M163.7 371.5h3.6m-1.8-1.4v2.8M163.8 370.7h3.6m-1.8-1.4v2.8M163.9 371.3h3.6m-1.8-1.4v2.8M164.0 371.2h3.6m-1.8-1.4v2.8M164.1 371.2h3.6m-1.8-1.4v2.8M164.2 370.9h3.6m-1.8-1.4v2.8M164.3 370.9h3.6m-1.8-1.4v2.8M164.4 370.6h3.6m-1.8-1.4v2.8M164.5 371.3h3.6m-1.8-1.4v2.8M164.6 370.8h3.6m-1.8-1.4v2.8M164.7 371.2h3.6m-1.8-1.4v2.8M164.8 370.4h3.6m-1.8-1.4v2.8M164.9 370.8h3.6m-1.8-1.4v2.8M165.0 370.4h3.6m-1.8-1.4v2.8M165.1 370.8h3.6m-1.8-1.4v2.8M165.2 370.4h3.6m-1.8-1.4v2.8M165.3 370.6h3.6m-1.8-1.4v2.8M165.4 370.2h3.6m-1.8-1.4v2.8M165.5 370.2h3.6m-1.8-1.4v2.8M165.6 370.1h3.6m-1.8-1.4v2.8M165.7 370.4h3.6m-1.8-1.4v2.8M165.8 370.2h3.6m-1.8-1.4v2.8M165.9 369.2h3.6m-1.8-1.4v2.8M166.0 369.5h3.6m-1.8-1.4v2.8M166.1 368.8h3.6m-1.8-1.4v2.8M166.2 369.0h3.6m-1.8-1.4v2.8M166.3 368.5h3.6m-1.8-1.4v2.8M168.9 368.6h3.6m-1.8-1.4v2.8M169.0 368.8h3.6m-1.8-1.4v2.8M169.1 369.6h3.6m-1.8-1.4v2.8M169.2 369.8h3.6m-1.8-1.4v2.8M169.3 370.2h3.6m-1.8-1.4v2.8M169.4 370.2h3.6m-1.8-1.4v2.8M169.5 370.1h3.6m-1.8-1.4v2.8M169.6 370.4h3.6m-1.8-1.4v2.8M169.7 370.0h3.6m-1.8-1.4v2.8M169.8 370.5h3.6m-1.8-1.4v2.8M169.9 370.6h3.6m-1.8-1.4v2.8M170.0 370.5h3.6m-1.8-1.4v2.8M170.1 370.4h3.6m-1.8-1.4v2.8M170.2 370.9h3.6m-1.8-1.4v2.8M170.3 370.9h3.6m-1.8-1.4v2.8M170.4 370.9h3.6m-1.8-1.4v2.8M170.5 370.9h3.6m-1.8-1.4v2.8M170.6 370.9h3.6m-1.8-1.4v2.8M170.7 371.7h3.6m-1.8-1.4v2.8M170.8 371.1h3.6m-1.8-1.4v2.8M170.9 371.7h3.6m-1.8-1.4v2.8M171.0 371.4h3.6m-1.8-1.4v2.8M171.1 371.3h3.6m-1.8-1.4v2.8M171.2 371.7h3.6m-1.8-1.4v2.8M171.3 371.5h3.6m-1.8-1.4v2.8M171.4 371.0h3.6m-1.8-1.4v2.8M171.5 371.2h3.6m-1.8-1.4v2.8M171.6 371.6h3.6m-1.8-1.4v2.8M171.7 371.1h3.6m-1.8-1.4v2.8M171.8 371.7h3.6m-1.8-1.4v2.8M171.9 371.7h3.6m-1.8-1.4v2.8M172.0 372.0h3.6m-1.8-1.4v2.8M172.1 371.7h3.6m-1.8-1.4v2.8M172.2 371.4h3.6m-1.8-1.4v2.8M172.3 371.8h3.6m-1.8-1.4v2.8M172.4 372.3h3.6m-1.8-1.4v2.8M172.5 371.2h3.6m-1.8-1.4v2.8M172.6 371.5h3.6m-1.8-1.4v2.8M172.7 371.6h3.6m-1.8-1.4v2.8M172.8 372.1h3.6m-1.8-1.4v2.8M172.9 371.4h3.6m-1.8-1.4v2.8M173.0 371.8h3.6m-1.8-1.4v2.8M173.1 372.1h3.6m-1.8-1.4v2.8M173.2 372.5h3.6m-1.8-1.4v2.8M173.3 371.6h3.6m-1.8-1.4v2.8M173.4 372.1h3.6m-1.8-1.4v2.8M173.5 371.7h3.6m-1.8-1.4v2.8M173.6 372.1h3.6m-1.8-1.4v2.8M173.7 372.3h3.6m-1.8-1.4v2.8M173.8 372.0h3.6m-1.8-1.4v2.8M173.9 372.2h3.6m-1.8-1.4v2.8M174.0 371.5h3.6m-1.8-1.4v2.8M174.1 372.2h3.6m-1.8-1.4v2.8M174.2 371.8h3.6m-1.8-1.4v2.8M174.3 372.1h3.6m-1.8-1.4v2.8M174.4 372.2h3.6m-1.8-1.4v2.8M174.5 371.6h3.6m-1.8-1.4v2.8M174.6 372.1h3.6m-1.8-1.4v2.8M174.7 372.0h3.6m-1.8-1.4v2.8M174.8 372.3h3.6m-1.8-1.4v2.8M174.9 372.3h3.6m-1.8-1.4v2.8M175.0 371.5h3.6m-1.8-1.4v2.8M175.1 372.0h3.6m-1.8-1.4v2.8M175.2 372.0h3.6m-1.8-1.4v2.8M175.3 372.1h3.6m-1.8-1.4v2.8M175.4 371.9h3.6m-1.8-1.4v2.8M175.5 372.1h3.6m-1.8-1.4v2.8M175.6 372.2h3.6m-1.8-1.4v2.8M175.7 371.6h3.6m-1.8-1.4v2.8M175.8 372.2h3.6m-1.8-1.4v2.8M175.9 372.0h3.6m-1.8-1.4v2.8M176.0 371.9h3.6m-1.8-1.4v2.8M176.1 372.0h3.6m-1.8-1.4v2.8M176.2 372.2h3.6m-1.8-1.4v2.8M176.3 372.1h3.6m-1.8-1.4v2.8M176.4 371.9h3.6m-1.8-1.4v2.8M176.5 371.8h3.6m-1.8-1.4v2.8M176.6 372.2h3.6m-1.8-1.4v2.8M176.7 372.4h3.6m-1.8-1.4v2.8M176.8 372.2h3.6m-1.8-1.4v2.8M176.9 372.2h3.6m-1.8-1.4v2.8M177.0 372.1h3.6m-1.8-1.4v2.8M177.1 372.2h3.6m-1.8-1.4v2.8M177.2 371.8h3.6m-1.8-1.4v2.8M177.3 372.3h3.6m-1.8-1.4v2.8M177.4 372.3h3.6m-1.8-1.4v2.8M177.5 372.1h3.6m-1.8-1.4v2.8M177.6 371.8h3.6m-1.8-1.4v2.8M177.7 372.2h3.6m-1.8-1.4v2.8M177.8 372.1h3.6m-1.8-1.4v2.8M177.9 372.4h3.6m-1.8-1.4v2.8M178.0 371.8h3.6m-1.8-1.4v2.8M178.1 372.5h3.6m-1.8-1.4v2.8M178.2 371.9h3.6m-1.8-1.4v2.8M178.3 372.5h3.6m-1.8-1.4v2.8M178.4 372.3h3.6m-1.8-1.4v2.8M178.5 372.3h3.6m-1.8-1.4v2.8M178.6 372.1h3.6m-1.8-1.4v2.8M178.7 372.3h3.6m-1.8-1.4v2.8M178.8 372.3h3.6m-1.8-1.4v2.8M178.9 372.4h3.6m-1.8-1.4v2.8M179.0 372.3h3.6m-1.8-1.4v2.8M179.1 371.8h3.6m-1.8-1.4v2.8M179.2 372.4h3.6m-1.8-1.4v2.8M179.3 372.2h3.6m-1.8-1.4v2.8M179.4 372.1h3.6m-1.8-1.4v2.8M179.5 372.4h3.6m-1.8-1.4v2.8M179.6 372.1h3.6m-1.8-1.4v2.8M179.7 372.2h3.6m-1.8-1.4v2.8M179.8 372.3h3.6m-1.8-1.4v2.8M179.9 371.9h3.6m-1.8-1.4v2.8M180.0 372.5h3.6m-1.8-1.4v2.8M180.1 372.3h3.6m-1.8-1.4v2.8M180.2 372.0h3.6m-1.8-1.4v2.8M180.3 372.2h3.6m-1.8-1.4v2.8M180.4 372.1h3.6m-1.8-1.4v2.8M180.5 372.5h3.6m-1.8-1.4v2.8M180.6 372.5h3.6m-1.8-1.4v2.8M180.7 372.2h3.6m-1.8-1.4v2.8M180.8 372.2h3.6m-1.8-1.4v2.8M180.9 372.2h3.6m-1.8-1.4v2.8M181.0 372.1h3.6m-1.8-1.4v2.8M181.1 372.3h3.6m-1.8-1.4v2.8M181.2 371.9h3.6m-1.8-1.4v2.8M181.3 372.3h3.6m-1.8-1.4v2.8M181.4 372.1h3.6m-1.8-1.4v2.8M181.5 372.3h3.6m-1.8-1.4v2.8M181.6 372.7h3.6m-1.8-1.4v2.8M181.7 371.9h3.6m-1.8-1.4v2.8M181.8 372.0h3.6m-1.8-1.4v2.8M181.9 371.6h3.6m-1.8-1.4v2.8M182.0 371.8h3.6m-1.8-1.4v2.8M182.1 372.0h3.6m-1.8-1.4v2.8M182.2 371.8h3.6m-1.8-1.4v2.8M182.3 372.2h3.6m-1.8-1.4v2.8M182.4 372.3h3.6m-1.8-1.4v2.8M182.5 371.8h3.6m-1.8-1.4v2.8M182.6 372.2h3.6m-1.8-1.4v2.8M182.7 371.8h3.6m-1.8-1.4v2.8M182.8 371.8h3.6m-1.8-1.4v2.8M182.9 372.4h3.6m-1.8-1.4v2.8M183.0 372.2h3.6m-1.8-1.4v2.8M183.1 371.9h3.6m-1.8-1.4v2.8M183.2 372.1h3.6m-1.8-1.4v2.8M183.3 372.1h3.6m-1.8-1.4v2.8M183.4 372.0h3.6m-1.8-1.4v2.8M183.5 372.2h3.6m-1.8-1.4v2.8M183.6 372.1h3.6m-1.8-1.4v2.8M183.7 372.1h3.6m-1.8-1.4v2.8M183.8 371.9h3.6m-1.8-1.4v2.8M183.9 372.1h3.6m-1.8-1.4v2.8M184.0 372.0h3.6m-1.8-1.4v2.8M184.1 371.9h3.6m-1.8-1.4v2.8M184.2 372.5h3.6m-1.8-1.4v2.8M184.3 372.0h3.6m-1.8-1.4v2.8M184.4 371.6h3.6m-1.8-1.4v2.8M184.5 372.2h3.6m-1.8-1.4v2.8M184.6 371.8h3.6m-1.8-1.4v2.8M184.7 371.9h3.6m-1.8-1.4v2.8M184.8 372.4h3.6m-1.8-1.4v2.8M184.9 371.9h3.6m-1.8-1.4v2.8M185.0 372.0h3.6m-1.8-1.4v2.8M185.1 371.8h3.6m-1.8-1.4v2.8M185.2 371.7h3.6m-1.8-1.4v2.8M185.3 372.0h3.6m-1.8-1.4v2.8M185.4 371.3h3.6m-1.8-1.4v2.8M185.5 371.9h3.6m-1.8-1.4v2.8M185.6 371.7h3.6m-1.8-1.4v2.8M185.7 371.9h3.6m-1.8-1.4v2.8M185.8 371.8h3.6m-1.8-1.4v2.8M185.9 371.4h3.6m-1.8-1.4v2.8M186.0 371.5h3.6m-1.8-1.4v2.8M186.1 371.3h3.6m-1.8-1.4v2.8M186.2 371.5h3.6m-1.8-1.4v2.8M186.3 371.1h3.6m-1.8-1.4v2.8M186.4 371.6h3.6m-1.8-1.4v2.8M186.5 371.1h3.6m-1.8-1.4v2.8M186.6 371.0h3.6m-1.8-1.4v2.8M186.7 371.3h3.6m-1.8-1.4v2.8M186.8 370.9h3.6m-1.8-1.4v2.8M186.9 370.9h3.6m-1.8-1.4v2.8M187.0 370.5h3.6m-1.8-1.4v2.8M187.1 370.2h3.6m-1.8-1.4v2.8M187.2 370.5h3.6m-1.8-1.4v2.8M187.3 369.9h3.6m-1.8-1.4v2.8M187.4 369.5h3.6m-1.8-1.4v2.8M189.0 369.7h3.6m-1.8-1.4v2.8M189.1 369.6h3.6m-1.8-1.4v2.8M189.2 370.1h3.6m-1.8-1.4v2.8M189.3 370.5h3.6m-1.8-1.4v2.8M189.4 370.3h3.6m-1.8-1.4v2.8M189.5 370.6h3.6m-1.8-1.4v2.8M189.6 371.3h3.6m-1.8-1.4v2.8M189.7 371.2h3.6m-1.8-1.4v2.8M189.8 371.0h3.6m-1.8-1.4v2.8M189.9 371.2h3.6m-1.8-1.4v2.8M190.0 371.2h3.6m-1.8-1.4v2.8M190.1 371.4h3.6m-1.8-1.4v2.8M190.2 371.0h3.6m-1.8-1.4v2.8M190.3 371.4h3.6m-1.8-1.4v2.8M190.4 371.7h3.6m-1.8-1.4v2.8M190.5 371.3h3.6m-1.8-1.4v2.8M190.6 371.9h3.6m-1.8-1.4v2.8M190.7 371.4h3.6m-1.8-1.4v2.8M190.8 371.8h3.6m-1.8-1.4v2.8M190.9 371.6h3.6m-1.8-1.4v2.8M191.0 371.5h3.6m-1.8-1.4v2.8M191.1 372.0h3.6m-1.8-1.4v2.8M191.2 371.9h3.6m-1.8-1.4v2.8M191.3 371.9h3.6m-1.8-1.4v2.8M191.4 371.7h3.6m-1.8-1.4v2.8M191.5 371.8h3.6m-1.8-1.4v2.8M191.6 372.4h3.6m-1.8-1.4v2.8M191.7 372.2h3.6m-1.8-1.4v2.8M191.8 372.5h3.6m-1.8-1.4v2.8M191.9 371.9h3.6m-1.8-1.4v2.8M192.0 372.1h3.6m-1.8-1.4v2.8M192.1 371.9h3.6m-1.8-1.4v2.8M192.2 371.5h3.6m-1.8-1.4v2.8M192.3 371.8h3.6m-1.8-1.4v2.8M192.4 372.1h3.6m-1.8-1.4v2.8M192.5 372.1h3.6m-1.8-1.4v2.8M192.6 372.1h3.6m-1.8-1.4v2.8M192.7 372.0h3.6m-1.8-1.4v2.8M192.8 371.7h3.6m-1.8-1.4v2.8M192.9 372.0h3.6m-1.8-1.4v2.8M193.0 372.4h3.6m-1.8-1.4v2.8M193.1 372.2h3.6m-1.8-1.4v2.8M193.2 371.8h3.6m-1.8-1.4v2.8M193.3 371.9h3.6m-1.8-1.4v2.8M193.4 371.7h3.6m-1.8-1.4v2.8M193.5 372.2h3.6m-1.8-1.4v2.8M193.6 372.8h3.6m-1.8-1.4v2.8M193.7 372.0h3.6m-1.8-1.4v2.8M193.8 372.0h3.6m-1.8-1.4v2.8M193.9 372.1h3.6m-1.8-1.4v2.8M194.0 372.0h3.6m-1.8-1.4v2.8M194.1 371.8h3.6m-1.8-1.4v2.8M194.2 372.5h3.6m-1.8-1.4v2.8M194.3 372.4h3.6m-1.8-1.4v2.8M194.4 371.9h3.6m-1.8-1.4v2.8M194.5 372.4h3.6m-1.8-1.4v2.8M194.6 371.8h3.6m-1.8-1.4v2.8M194.7 372.2h3.6m-1.8-1.4v2.8M194.8 372.3h3.6m-1.8-1.4v2.8M194.9 372.4h3.6m-1.8-1.4v2.8M195.0 372.2h3.6m-1.8-1.4v2.8M195.1 372.2h3.6m-1.8-1.4v2.8M195.2 372.3h3.6m-1.8-1.4v2.8M195.3 371.9h3.6m-1.8-1.4v2.8M195.4 372.2h3.6m-1.8-1.4v2.8M195.5 372.6h3.6m-1.8-1.4v2.8M195.6 372.4h3.6m-1.8-1.4v2.8M195.7 372.0h3.6m-1.8-1.4v2.8M195.8 372.5h3.6m-1.8-1.4v2.8M195.9 372.6h3.6m-1.8-1.4v2.8M196.0 372.1h3.6m-1.8-1.4v2.8M196.1 372.5h3.6m-1.8-1.4v2.8M196.2 372.4h3.6m-1.8-1.4v2.8M196.3 372.2h3.6m-1.8-1.4v2.8M196.4 372.4h3.6m-1.8-1.4v2.8M196.5 372.5h3.6m-1.8-1.4v2.8M196.6 372.1h3.6m-1.8-1.4v2.8M196.7 372.2h3.6m-1.8-1.4v2.8M196.8 372.5h3.6m-1.8-1.4v2.8M196.9 371.9h3.6m-1.8-1.4v2.8M197.0 372.2h3.6m-1.8-1.4v2.8M197.1 372.6h3.6m-1.8-1.4v2.8M197.2 372.5h3.6m-1.8-1.4v2.8M197.3 372.3h3.6m-1.8-1.4v2.8M197.4 372.4h3.6m-1.8-1.4v2.8M197.5 372.1h3.6m-1.8-1.4v2.8M197.6 372.6h3.6m-1.8-1.4v2.8M197.7 371.7h3.6m-1.8-1.4v2.8M197.8 371.8h3.6m-1.8-1.4v2.8M197.9 372.2h3.6m-1.8-1.4v2.8M198.0 371.8h3.6m-1.8-1.4v2.8M198.1 372.3h3.6m-1.8-1.4v2.8M198.2 372.0h3.6m-1.8-1.4v2.8M198.3 372.8h3.6m-1.8-1.4v2.8M198.4 372.1h3.6m-1.8-1.4v2.8M198.5 372.4h3.6m-1.8-1.4v2.8M198.6 372.1h3.6m-1.8-1.4v2.8M198.7 372.2h3.6m-1.8-1.4v2.8M198.8 372.8h3.6m-1.8-1.4v2.8M198.9 372.6h3.6m-1.8-1.4v2.8M199.0 372.4h3.6m-1.8-1.4v2.8M199.1 372.5h3.6m-1.8-1.4v2.8M199.2 372.2h3.6m-1.8-1.4v2.8M199.3 372.1h3.6m-1.8-1.4v2.8M199.4 372.3h3.6m-1.8-1.4v2.8M199.5 372.0h3.6m-1.8-1.4v2.8M199.6 372.0h3.6m-1.8-1.4v2.8M199.7 372.6h3.6m-1.8-1.4v2.8M199.8 372.4h3.6m-1.8-1.4v2.8M199.9 372.5h3.6m-1.8-1.4v2.8M200.0 372.1h3.6m-1.8-1.4v2.8M200.1 372.5h3.6m-1.8-1.4v2.8M200.2 372.3h3.6m-1.8-1.4v2.8M200.3 372.2h3.6m-1.8-1.4v2.8M200.4 372.3h3.6m-1.8-1.4v2.8M200.5 372.5h3.6m-1.8-1.4v2.8M200.6 372.1h3.6m-1.8-1.4v2.8M200.7 372.5h3.6m-1.8-1.4v2.8M200.8 372.0h3.6m-1.8-1.4v2.8M200.9 372.3h3.6m-1.8-1.4v2.8M201.0 372.8h3.6m-1.8-1.4v2.8M201.1 372.8h3.6m-1.8-1.4v2.8M201.2 372.5h3.6m-1.8-1.4v2.8M201.3 372.3h3.6m-1.8-1.4v2.8M201.4 372.1h3.6m-1.8-1.4v2.8M201.5 372.1h3.6m-1.8-1.4v2.8M201.6 372.2h3.6m-1.8-1.4v2.8M201.7 371.7h3.6m-1.8-1.4v2.8M201.8 372.4h3.6m-1.8-1.4v2.8M201.9 371.9h3.6m-1.8-1.4v2.8M202.0 372.3h3.6m-1.8-1.4v2.8M202.1 372.3h3.6m-1.8-1.4v2.8M202.2 372.2h3.6m-1.8-1.4v2.8M202.3 371.9h3.6m-1.8-1.4v2.8M202.4 372.2h3.6m-1.8-1.4v2.8M202.5 372.5h3.6m-1.8-1.4v2.8M202.6 372.0h3.6m-1.8-1.4v2.8M202.7 372.4h3.6m-1.8-1.4v2.8M202.8 371.9h3.6m-1.8-1.4v2.8M202.9 372.3h3.6m-1.8-1.4v2.8M203.0 372.0h3.6m-1.8-1.4v2.8M203.1 372.5h3.6m-1.8-1.4v2.8M203.2 372.2h3.6m-1.8-1.4v2.8M203.3 372.0h3.6m-1.8-1.4v2.8M203.4 371.9h3.6m-1.8-1.4v2.8M203.5 372.1h3.6m-1.8-1.4v2.8M203.6 372.3h3.6m-1.8-1.4v2.8M203.7 372.3h3.6m-1.8-1.4v2.8M203.8 371.8h3.6m-1.8-1.4v2.8M203.9 371.7h3.6m-1.8-1.4v2.8M204.0 372.1h3.6m-1.8-1.4v2.8M204.1 371.7h3.6m-1.8-1.4v2.8M204.2 372.1h3.6m-1.8-1.4v2.8M204.3 372.0h3.6m-1.8-1.4v2.8M204.4 372.1h3.6m-1.8-1.4v2.8M204.5 372.0h3.6m-1.8-1.4v2.8M204.6 371.7h3.6m-1.8-1.4v2.8M204.7 371.8h3.6m-1.8-1.4v2.8M204.8 371.7h3.6m-1.8-1.4v2.8M204.9 371.6h3.6m-1.8-1.4v2.8M205.0 371.0h3.6m-1.8-1.4v2.8M205.1 370.7h3.6m-1.8-1.4v2.8M205.2 371.2h3.6m-1.8-1.4v2.8M205.3 371.1h3.6m-1.8-1.4v2.8M205.4 370.7h3.6m-1.8-1.4v2.8M205.5 370.8h3.6m-1.8-1.4v2.8M205.6 370.6h3.6m-1.8-1.4v2.8M205.7 370.6h3.6m-1.8-1.4v2.8M205.8 370.0h3.6m-1.8-1.4v2.8M207.2 369.3h3.6m-1.8-1.4v2.8M207.3 370.7h3.6m-1.8-1.4v2.8M207.4 370.6h3.6m-1.8-1.4v2.8M207.5 371.0h3.6m-1.8-1.4v2.8M207.6 371.2h3.6m-1.8-1.4v2.8M207.7 371.7h3.6m-1.8-1.4v2.8M207.8 371.1h3.6m-1.8-1.4v2.8M207.9 371.3h3.6m-1.8-1.4v2.8M208.0 371.8h3.6m-1.8-1.4v2.8M208.1 371.7h3.6m-1.8-1.4v2.8M208.2 372.1h3.6m-1.8-1.4v2.8M208.3 371.7h3.6m-1.8-1.4v2.8M208.4 371.9h3.6m-1.8-1.4v2.8M208.5 372.1h3.6m-1.8-1.4v2.8M208.6 371.9h3.6m-1.8-1.4v2.8M208.7 371.7h3.6m-1.8-1.4v2.8M208.8 371.6h3.6m-1.8-1.4v2.8M208.9 371.7h3.6m-1.8-1.4v2.8M209.0 371.7h3.6m-1.8-1.4v2.8M209.1 372.0h3.6m-1.8-1.4v2.8M209.2 372.1h3.6m-1.8-1.4v2.8M209.3 371.9h3.6m-1.8-1.4v2.8M209.4 372.0h3.6m-1.8-1.4v2.8M209.5 372.0h3.6m-1.8-1.4v2.8M209.6 371.5h3.6m-1.8-1.4v2.8M209.7 371.8h3.6m-1.8-1.4v2.8M209.8 371.8h3.6m-1.8-1.4v2.8M209.9 372.4h3.6m-1.8-1.4v2.8M210.0 372.0h3.6m-1.8-1.4v2.8M210.1 372.4h3.6m-1.8-1.4v2.8M210.2 371.8h3.6m-1.8-1.4v2.8M210.3 372.5h3.6m-1.8-1.4v2.8M210.4 372.2h3.6m-1.8-1.4v2.8M210.5 372.3h3.6m-1.8-1.4v2.8M210.6 371.9h3.6m-1.8-1.4v2.8M210.7 372.1h3.6m-1.8-1.4v2.8M210.8 372.0h3.6m-1.8-1.4v2.8M210.9 372.1h3.6m-1.8-1.4v2.8M211.0 372.1h3.6m-1.8-1.4v2.8M211.1 372.6h3.6m-1.8-1.4v2.8M211.2 372.3h3.6m-1.8-1.4v2.8M211.3 372.5h3.6m-1.8-1.4v2.8M211.4 372.3h3.6m-1.8-1.4v2.8M211.5 372.3h3.6m-1.8-1.4v2.8M211.6 372.4h3.6m-1.8-1.4v2.8M211.7 372.6h3.6m-1.8-1.4v2.8M211.8 372.1h3.6m-1.8-1.4v2.8M211.9 372.4h3.6m-1.8-1.4v2.8M212.0 372.3h3.6m-1.8-1.4v2.8M212.1 372.5h3.6m-1.8-1.4v2.8M212.2 372.0h3.6m-1.8-1.4v2.8M212.3 371.7h3.6m-1.8-1.4v2.8M212.4 372.5h3.6m-1.8-1.4v2.8M212.5 372.6h3.6m-1.8-1.4v2.8M212.6 372.6h3.6m-1.8-1.4v2.8M212.7 372.2h3.6m-1.8-1.4v2.8M212.8 372.4h3.6m-1.8-1.4v2.8M212.9 372.1h3.6m-1.8-1.4v2.8M213.0 372.3h3.6m-1.8-1.4v2.8M213.1 372.1h3.6m-1.8-1.4v2.8M213.2 372.2h3.6m-1.8-1.4v2.8M213.3 372.3h3.6m-1.8-1.4v2.8M213.4 372.6h3.6m-1.8-1.4v2.8M213.5 372.2h3.6m-1.8-1.4v2.8M213.6 372.0h3.6m-1.8-1.4v2.8M213.7 372.3h3.6m-1.8-1.4v2.8M213.8 372.0h3.6m-1.8-1.4v2.8M213.9 371.8h3.6m-1.8-1.4v2.8M214.0 372.0h3.6m-1.8-1.4v2.8M214.1 371.7h3.6m-1.8-1.4v2.8M214.2 372.2h3.6m-1.8-1.4v2.8M214.3 371.4h3.6m-1.8-1.4v2.8M214.4 370.6h3.6m-1.8-1.4v2.8M214.5 370.8h3.6m-1.8-1.4v2.8M214.6 370.6h3.6m-1.8-1.4v2.8M214.7 369.3h3.6m-1.8-1.4v2.8M215.1 369.7h3.6m-1.8-1.4v2.8M215.2 370.5h3.6m-1.8-1.4v2.8M215.3 370.7h3.6m-1.8-1.4v2.8M215.4 371.4h3.6m-1.8-1.4v2.8M215.5 371.0h3.6m-1.8-1.4v2.8M215.6 371.5h3.6m-1.8-1.4v2.8M215.7 371.7h3.6m-1.8-1.4v2.8M215.8 372.2h3.6m-1.8-1.4v2.8M215.9 372.0h3.6m-1.8-1.4v2.8M216.0 372.4h3.6m-1.8-1.4v2.8M216.1 372.4h3.6m-1.8-1.4v2.8M216.2 372.3h3.6m-1.8-1.4v2.8M216.3 372.0h3.6m-1.8-1.4v2.8M216.4 372.0h3.6m-1.8-1.4v2.8M216.5 372.5h3.6m-1.8-1.4v2.8M216.6 372.1h3.6m-1.8-1.4v2.8M216.7 372.2h3.6m-1.8-1.4v2.8M216.8 372.9h3.6m-1.8-1.4v2.8M216.9 372.2h3.6m-1.8-1.4v2.8M217.0 372.4h3.6m-1.8-1.4v2.8M217.1 372.0h3.6m-1.8-1.4v2.8M217.2 372.3h3.6m-1.8-1.4v2.8M217.3 372.4h3.6m-1.8-1.4v2.8M217.4 372.6h3.6m-1.8-1.4v2.8M217.5 372.7h3.6m-1.8-1.4v2.8M217.6 372.6h3.6m-1.8-1.4v2.8M217.7 372.1h3.6m-1.8-1.4v2.8M217.8 372.7h3.6m-1.8-1.4v2.8M217.9 372.6h3.6m-1.8-1.4v2.8M218.0 372.7h3.6m-1.8-1.4v2.8M218.1 372.5h3.6m-1.8-1.4v2.8M218.2 372.6h3.6m-1.8-1.4v2.8M218.3 372.7h3.6m-1.8-1.4v2.8M218.4 372.7h3.6m-1.8-1.4v2.8M218.5 372.4h3.6m-1.8-1.4v2.8M218.6 372.2h3.6m-1.8-1.4v2.8M218.7 372.6h3.6m-1.8-1.4v2.8M218.8 372.0h3.6m-1.8-1.4v2.8M218.9 372.7h3.6m-1.8-1.4v2.8M219.0 372.2h3.6m-1.8-1.4v2.8M219.1 372.2h3.6m-1.8-1.4v2.8M219.2 372.5h3.6m-1.8-1.4v2.8M219.3 372.5h3.6m-1.8-1.4v2.8M219.4 372.2h3.6m-1.8-1.4v2.8M219.5 372.5h3.6m-1.8-1.4v2.8M219.6 373.3h3.6m-1.8-1.4v2.8M219.7 372.8h3.6m-1.8-1.4v2.8M219.8 372.3h3.6m-1.8-1.4v2.8M219.9 372.5h3.6m-1.8-1.4v2.8M220.0 372.3h3.6m-1.8-1.4v2.8M220.1 372.5h3.6m-1.8-1.4v2.8M220.2 372.1h3.6m-1.8-1.4v2.8M220.3 372.3h3.6m-1.8-1.4v2.8M220.4 372.6h3.6m-1.8-1.4v2.8M220.5 372.1h3.6m-1.8-1.4v2.8M220.6 371.9h3.6m-1.8-1.4v2.8M220.7 372.4h3.6m-1.8-1.4v2.8M220.8 372.3h3.6m-1.8-1.4v2.8M220.9 372.1h3.6m-1.8-1.4v2.8M221.0 372.2h3.6m-1.8-1.4v2.8M221.1 372.3h3.6m-1.8-1.4v2.8M221.2 372.3h3.6m-1.8-1.4v2.8M221.3 372.1h3.6m-1.8-1.4v2.8M221.4 372.1h3.6m-1.8-1.4v2.8M221.5 372.0h3.6m-1.8-1.4v2.8M221.6 372.3h3.6m-1.8-1.4v2.8M221.7 372.2h3.6m-1.8-1.4v2.8M221.8 371.8h3.6m-1.8-1.4v2.8M221.9 371.4h3.6m-1.8-1.4v2.8M222.0 371.4h3.6m-1.8-1.4v2.8M222.1 371.2h3.6m-1.8-1.4v2.8M222.2 370.3h3.6m-1.8-1.4v2.8M222.3 370.4h3.6m-1.8-1.4v2.8M222.9 370.8h3.6m-1.8-1.4v2.8M223.0 371.1h3.6m-1.8-1.4v2.8M223.1 371.4h3.6m-1.8-1.4v2.8M223.2 371.5h3.6m-1.8-1.4v2.8M223.3 371.3h3.6m-1.8-1.4v2.8M223.4 371.7h3.6m-1.8-1.4v2.8M223.5 372.4h3.6m-1.8-1.4v2.8M223.6 372.1h3.6m-1.8-1.4v2.8M223.7 372.1h3.6m-1.8-1.4v2.8M223.8 372.2h3.6m-1.8-1.4v2.8M223.9 371.8h3.6m-1.8-1.4v2.8M224.0 372.4h3.6m-1.8-1.4v2.8M224.1 372.5h3.6m-1.8-1.4v2.8M224.2 371.8h3.6m-1.8-1.4v2.8M224.3 372.6h3.6m-1.8-1.4v2.8M224.4 372.5h3.6m-1.8-1.4v2.8M224.5 372.4h3.6m-1.8-1.4v2.8M224.6 372.3h3.6m-1.8-1.4v2.8M224.7 372.5h3.6m-1.8-1.4v2.8M224.8 372.6h3.6m-1.8-1.4v2.8M224.9 372.5h3.6m-1.8-1.4v2.8M225.0 373.0h3.6m-1.8-1.4v2.8M225.1 372.3h3.6m-1.8-1.4v2.8M225.2 372.6h3.6m-1.8-1.4v2.8M225.3 372.8h3.6m-1.8-1.4v2.8M225.4 372.3h3.6m-1.8-1.4v2.8M225.5 372.3h3.6m-1.8-1.4v2.8M225.6 372.6h3.6m-1.8-1.4v2.8M225.7 372.4h3.6m-1.8-1.4v2.8M225.8 372.5h3.6m-1.8-1.4v2.8M225.9 372.7h3.6m-1.8-1.4v2.8M226.0 372.9h3.6m-1.8-1.4v2.8M226.1 372.3h3.6m-1.8-1.4v2.8M226.2 372.4h3.6m-1.8-1.4v2.8M226.3 372.6h3.6m-1.8-1.4v2.8M226.4 372.8h3.6m-1.8-1.4v2.8M226.5 372.2h3.6m-1.8-1.4v2.8M226.6 373.0h3.6m-1.8-1.4v2.8M226.7 372.1h3.6m-1.8-1.4v2.8M226.8 372.4h3.6m-1.8-1.4v2.8M226.9 372.3h3.6m-1.8-1.4v2.8M227.0 372.6h3.6m-1.8-1.4v2.8M227.1 372.4h3.6m-1.8-1.4v2.8M227.2 372.7h3.6m-1.8-1.4v2.8M227.3 372.4h3.6m-1.8-1.4v2.8M227.4 372.1h3.6m-1.8-1.4v2.8M227.5 372.8h3.6m-1.8-1.4v2.8M227.6 372.8h3.6m-1.8-1.4v2.8M227.7 372.6h3.6m-1.8-1.4v2.8M227.8 372.7h3.6m-1.8-1.4v2.8M227.9 372.4h3.6m-1.8-1.4v2.8M228.0 372.9h3.6m-1.8-1.4v2.8M228.1 372.4h3.6m-1.8-1.4v2.8M228.2 372.6h3.6m-1.8-1.4v2.8M228.3 372.9h3.6m-1.8-1.4v2.8M228.4 372.4h3.6m-1.8-1.4v2.8M228.5 372.9h3.6m-1.8-1.4v2.8M228.6 372.5h3.6m-1.8-1.4v2.8M228.7 372.3h3.6m-1.8-1.4v2.8M228.8 373.0h3.6m-1.8-1.4v2.8M228.9 372.8h3.6m-1.8-1.4v2.8M229.0 372.7h3.6m-1.8-1.4v2.8M229.1 372.9h3.6m-1.8-1.4v2.8M229.2 372.7h3.6m-1.8-1.4v2.8M229.3 372.3h3.6m-1.8-1.4v2.8M229.4 372.8h3.6m-1.8-1.4v2.8M229.5 372.6h3.6m-1.8-1.4v2.8M229.6 372.6h3.6m-1.8-1.4v2.8M229.7 372.6h3.6m-1.8-1.4v2.8M229.8 372.5h3.6m-1.8-1.4v2.8M229.9 372.6h3.6m-1.8-1.4v2.8M230.0 372.0h3.6m-1.8-1.4v2.8M230.1 372.0h3.6m-1.8-1.4v2.8M230.2 371.5h3.6m-1.8-1.4v2.8M230.3 372.1h3.6m-1.8-1.4v2.8M230.4 372.0h3.6m-1.8-1.4v2.8M230.5 371.7h3.6m-1.8-1.4v2.8M230.6 371.4h3.6m-1.8-1.4v2.8M230.7 371.9h3.6m-1.8-1.4v2.8M230.8 371.7h3.6m-1.8-1.4v2.8M230.9 371.7h3.6m-1.8-1.4v2.8M231.0 371.9h3.6m-1.8-1.4v2.8M231.1 372.3h3.6m-1.8-1.4v2.8M231.2 372.3h3.6m-1.8-1.4v2.8M231.3 372.5h3.6m-1.8-1.4v2.8M231.4 372.5h3.6m-1.8-1.4v2.8M231.5 372.4h3.6m-1.8-1.4v2.8M231.6 372.4h3.6m-1.8-1.4v2.8M231.7 372.6h3.6m-1.8-1.4v2.8M231.8 372.2h3.6m-1.8-1.4v2.8M231.9 372.7h3.6m-1.8-1.4v2.8M232.0 372.7h3.6m-1.8-1.4v2.8M232.1 372.1h3.6m-1.8-1.4v2.8M232.2 372.4h3.6m-1.8-1.4v2.8M232.3 372.4h3.6m-1.8-1.4v2.8M232.4 372.7h3.6m-1.8-1.4v2.8M232.5 372.6h3.6m-1.8-1.4v2.8M232.6 372.8h3.6m-1.8-1.4v2.8M232.7 372.4h3.6m-1.8-1.4v2.8M232.8 372.4h3.6m-1.8-1.4v2.8M232.9 372.7h3.6m-1.8-1.4v2.8M233.0 372.5h3.6m-1.8-1.4v2.8M233.1 372.7h3.6m-1.8-1.4v2.8M233.2 372.5h3.6m-1.8-1.4v2.8M233.3 372.8h3.6m-1.8-1.4v2.8M233.4 372.5h3.6m-1.8-1.4v2.8M233.5 372.6h3.6m-1.8-1.4v2.8M233.6 372.6h3.6m-1.8-1.4v2.8M233.7 372.6h3.6m-1.8-1.4v2.8M233.8 372.2h3.6m-1.8-1.4v2.8M233.9 372.6h3.6m-1.8-1.4v2.8M234.0 372.7h3.6m-1.8-1.4v2.8M234.1 372.3h3.6m-1.8-1.4v2.8M234.2 372.2h3.6m-1.8-1.4v2.8M234.3 372.2h3.6m-1.8-1.4v2.8M234.4 372.2h3.6m-1.8-1.4v2.8M234.5 372.4h3.6m-1.8-1.4v2.8M234.6 372.7h3.6m-1.8-1.4v2.8M234.7 372.8h3.6m-1.8-1.4v2.8M234.8 372.4h3.6m-1.8-1.4v2.8M234.9 372.2h3.6m-1.8-1.4v2.8M235.0 372.3h3.6m-1.8-1.4v2.8M235.1 372.3h3.6m-1.8-1.4v2.8M235.2 372.6h3.6m-1.8-1.4v2.8M235.3 372.5h3.6m-1.8-1.4v2.8M235.4 372.1h3.6m-1.8-1.4v2.8M235.5 372.3h3.6m-1.8-1.4v2.8M235.6 372.3h3.6m-1.8-1.4v2.8M235.7 372.9h3.6m-1.8-1.4v2.8M235.8 372.2h3.6m-1.8-1.4v2.8M235.9 372.1h3.6m-1.8-1.4v2.8M236.0 372.6h3.6m-1.8-1.4v2.8M236.1 372.4h3.6m-1.8-1.4v2.8M236.2 372.5h3.6m-1.8-1.4v2.8M236.3 371.9h3.6m-1.8-1.4v2.8M236.4 371.8h3.6m-1.8-1.4v2.8M236.5 371.4h3.6m-1.8-1.4v2.8M236.6 371.9h3.6m-1.8-1.4v2.8M236.7 371.8h3.6m-1.8-1.4v2.8M236.8 371.5h3.6m-1.8-1.4v2.8M236.9 371.7h3.6m-1.8-1.4v2.8M237.0 371.4h3.6m-1.8-1.4v2.8M237.1 371.3h3.6m-1.8-1.4v2.8M237.2 370.9h3.6m-1.8-1.4v2.8M237.3 370.6h3.6m-1.8-1.4v2.8M237.4 370.3h3.6m-1.8-1.4v2.8M237.5 370.0h3.6m-1.8-1.4v2.8M238.5 369.4h3.6m-1.8-1.4v2.8M238.6 370.7h3.6m-1.8-1.4v2.8M238.7 370.2h3.6m-1.8-1.4v2.8M238.8 371.3h3.6m-1.8-1.4v2.8M238.9 371.3h3.6m-1.8-1.4v2.8M239.0 371.6h3.6m-1.8-1.4v2.8M239.1 372.1h3.6m-1.8-1.4v2.8M239.2 372.0h3.6m-1.8-1.4v2.8M239.3 372.2h3.6m-1.8-1.4v2.8M239.4 372.2h3.6m-1.8-1.4v2.8M239.5 371.8h3.6m-1.8-1.4v2.8M239.6 372.1h3.6m-1.8-1.4v2.8M239.7 371.7h3.6m-1.8-1.4v2.8M239.8 372.4h3.6m-1.8-1.4v2.8M239.9 372.0h3.6m-1.8-1.4v2.8M240.0 372.2h3.6m-1.8-1.4v2.8M240.1 372.0h3.6m-1.8-1.4v2.8M240.2 372.4h3.6m-1.8-1.4v2.8M240.3 372.0h3.6m-1.8-1.4v2.8M240.4 372.5h3.6m-1.8-1.4v2.8M240.5 372.2h3.6m-1.8-1.4v2.8M240.6 372.5h3.6m-1.8-1.4v2.8M240.7 372.6h3.6m-1.8-1.4v2.8M240.8 372.6h3.6m-1.8-1.4v2.8M240.9 372.5h3.6m-1.8-1.4v2.8M241.0 372.6h3.6m-1.8-1.4v2.8M241.1 372.6h3.6m-1.8-1.4v2.8M241.2 372.7h3.6m-1.8-1.4v2.8M241.3 372.8h3.6m-1.8-1.4v2.8M241.4 372.4h3.6m-1.8-1.4v2.8M241.5 372.5h3.6m-1.8-1.4v2.8M241.6 372.8h3.6m-1.8-1.4v2.8M241.7 372.5h3.6m-1.8-1.4v2.8M241.8 372.6h3.6m-1.8-1.4v2.8M241.9 372.7h3.6m-1.8-1.4v2.8M242.0 372.3h3.6m-1.8-1.4v2.8M242.1 373.0h3.6m-1.8-1.4v2.8M242.2 372.6h3.6m-1.8-1.4v2.8M242.3 372.6h3.6m-1.8-1.4v2.8M242.4 373.3h3.6m-1.8-1.4v2.8M242.5 372.7h3.6m-1.8-1.4v2.8M242.6 372.7h3.6m-1.8-1.4v2.8M242.7 372.7h3.6m-1.8-1.4v2.8M242.8 372.8h3.6m-1.8-1.4v2.8M242.9 373.0h3.6m-1.8-1.4v2.8M243.0 373.1h3.6m-1.8-1.4v2.8M243.1 372.8h3.6m-1.8-1.4v2.8M243.2 372.9h3.6m-1.8-1.4v2.8M243.3 372.8h3.6m-1.8-1.4v2.8M243.4 372.9h3.6m-1.8-1.4v2.8M243.5 372.9h3.6m-1.8-1.4v2.8M243.6 372.8h3.6m-1.8-1.4v2.8M243.7 372.6h3.6m-1.8-1.4v2.8M243.8 373.1h3.6m-1.8-1.4v2.8M243.9 372.9h3.6m-1.8-1.4v2.8M244.0 372.7h3.6m-1.8-1.4v2.8M244.1 372.4h3.6m-1.8-1.4v2.8M244.2 372.8h3.6m-1.8-1.4v2.8M244.3 372.8h3.6m-1.8-1.4v2.8M244.4 372.7h3.6m-1.8-1.4v2.8M244.5 372.6h3.6m-1.8-1.4v2.8M244.6 372.5h3.6m-1.8-1.4v2.8M244.7 372.3h3.6m-1.8-1.4v2.8M244.8 372.7h3.6m-1.8-1.4v2.8M244.9 372.6h3.6m-1.8-1.4v2.8M245.0 372.5h3.6m-1.8-1.4v2.8M245.1 372.9h3.6m-1.8-1.4v2.8M245.2 372.4h3.6m-1.8-1.4v2.8M245.3 372.8h3.6m-1.8-1.4v2.8M245.4 372.9h3.6m-1.8-1.4v2.8M245.5 372.9h3.6m-1.8-1.4v2.8M245.6 373.2h3.6m-1.8-1.4v2.8M245.7 372.8h3.6m-1.8-1.4v2.8M245.8 372.6h3.6m-1.8-1.4v2.8M245.9 372.7h3.6m-1.8-1.4v2.8M246.0 372.7h3.6m-1.8-1.4v2.8M246.1 373.1h3.6m-1.8-1.4v2.8M246.2 372.9h3.6m-1.8-1.4v2.8M246.3 372.5h3.6m-1.8-1.4v2.8M246.4 372.7h3.6m-1.8-1.4v2.8M246.5 372.5h3.6m-1.8-1.4v2.8M246.6 372.9h3.6m-1.8-1.4v2.8M246.7 372.6h3.6m-1.8-1.4v2.8M246.8 372.9h3.6m-1.8-1.4v2.8M246.9 372.9h3.6m-1.8-1.4v2.8M247.0 372.7h3.6m-1.8-1.4v2.8M247.1 372.6h3.6m-1.8-1.4v2.8M247.2 372.7h3.6m-1.8-1.4v2.8M247.3 372.7h3.6m-1.8-1.4v2.8M247.4 372.8h3.6m-1.8-1.4v2.8M247.5 373.0h3.6m-1.8-1.4v2.8M247.6 373.0h3.6m-1.8-1.4v2.8M247.7 373.0h3.6m-1.8-1.4v2.8M247.8 372.8h3.6m-1.8-1.4v2.8M247.9 372.5h3.6m-1.8-1.4v2.8M248.0 372.6h3.6m-1.8-1.4v2.8M248.1 373.0h3.6m-1.8-1.4v2.8M248.2 372.9h3.6m-1.8-1.4v2.8M248.3 372.6h3.6m-1.8-1.4v2.8M248.4 373.2h3.6m-1.8-1.4v2.8M248.5 373.0h3.6m-1.8-1.4v2.8M248.6 372.5h3.6m-1.8-1.4v2.8M248.7 372.8h3.6m-1.8-1.4v2.8M248.8 372.5h3.6m-1.8-1.4v2.8M248.9 373.2h3.6m-1.8-1.4v2.8M249.0 372.7h3.6m-1.8-1.4v2.8M249.1 372.9h3.6m-1.8-1.4v2.8M249.2 372.7h3.6m-1.8-1.4v2.8M249.3 372.7h3.6m-1.8-1.4v2.8M249.4 372.4h3.6m-1.8-1.4v2.8M249.5 372.6h3.6m-1.8-1.4v2.8M249.6 372.3h3.6m-1.8-1.4v2.8M249.7 372.8h3.6m-1.8-1.4v2.8M249.8 372.9h3.6m-1.8-1.4v2.8M249.9 372.6h3.6m-1.8-1.4v2.8M250.0 372.7h3.6m-1.8-1.4v2.8M250.1 373.3h3.6m-1.8-1.4v2.8M250.2 372.7h3.6m-1.8-1.4v2.8M250.3 372.3h3.6m-1.8-1.4v2.8M250.4 372.8h3.6m-1.8-1.4v2.8M250.5 372.4h3.6m-1.8-1.4v2.8M250.6 372.4h3.6m-1.8-1.4v2.8M250.7 372.6h3.6m-1.8-1.4v2.8M250.8 372.7h3.6m-1.8-1.4v2.8M250.9 373.0h3.6m-1.8-1.4v2.8M251.0 372.7h3.6m-1.8-1.4v2.8M251.1 373.1h3.6m-1.8-1.4v2.8M251.2 373.0h3.6m-1.8-1.4v2.8M251.3 372.4h3.6m-1.8-1.4v2.8M251.4 372.3h3.6m-1.8-1.4v2.8M251.5 372.7h3.6m-1.8-1.4v2.8M251.6 373.1h3.6m-1.8-1.4v2.8M251.7 372.6h3.6m-1.8-1.4v2.8M251.8 372.0h3.6m-1.8-1.4v2.8M251.9 372.6h3.6m-1.8-1.4v2.8M252.0 372.1h3.6m-1.8-1.4v2.8M252.1 371.9h3.6m-1.8-1.4v2.8M252.2 372.1h3.6m-1.8-1.4v2.8M252.3 371.9h3.6m-1.8-1.4v2.8M252.4 372.8h3.6m-1.8-1.4v2.8M252.5 372.3h3.6m-1.8-1.4v2.8M252.6 372.8h3.6m-1.8-1.4v2.8M252.7 372.9h3.6m-1.8-1.4v2.8M252.8 372.5h3.6m-1.8-1.4v2.8M252.9 372.6h3.6m-1.8-1.4v2.8M253.0 372.9h3.6m-1.8-1.4v2.8M253.1 372.5h3.6m-1.8-1.4v2.8M253.2 372.7h3.6m-1.8-1.4v2.8M253.3 372.7h3.6m-1.8-1.4v2.8M253.4 372.4h3.6m-1.8-1.4v2.8M253.5 373.0h3.6m-1.8-1.4v2.8M253.6 373.3h3.6m-1.8-1.4v2.8M253.7 372.9h3.6m-1.8-1.4v2.8M253.8 372.6h3.6m-1.8-1.4v2.8M253.9 373.0h3.6m-1.8-1.4v2.8M254.0 373.1h3.6m-1.8-1.4v2.8M254.1 373.0h3.6m-1.8-1.4v2.8M254.2 372.7h3.6m-1.8-1.4v2.8M254.3 372.7h3.6m-1.8-1.4v2.8M254.4 373.2h3.6m-1.8-1.4v2.8M254.5 372.8h3.6m-1.8-1.4v2.8M254.6 372.4h3.6m-1.8-1.4v2.8M254.7 372.5h3.6m-1.8-1.4v2.8M254.8 373.1h3.6m-1.8-1.4v2.8M254.9 372.9h3.6m-1.8-1.4v2.8M255.0 372.9h3.6m-1.8-1.4v2.8M255.1 372.8h3.6m-1.8-1.4v2.8M255.2 372.7h3.6m-1.8-1.4v2.8M255.3 373.0h3.6m-1.8-1.4v2.8M255.4 372.7h3.6m-1.8-1.4v2.8M255.5 372.6h3.6m-1.8-1.4v2.8M255.6 373.3h3.6m-1.8-1.4v2.8M255.7 373.5h3.6m-1.8-1.4v2.8M255.8 373.0h3.6m-1.8-1.4v2.8M255.9 372.8h3.6m-1.8-1.4v2.8M256.0 372.9h3.6m-1.8-1.4v2.8M256.1 372.8h3.6m-1.8-1.4v2.8M256.2 373.0h3.6m-1.8-1.4v2.8M256.3 372.9h3.6m-1.8-1.4v2.8M256.4 373.2h3.6m-1.8-1.4v2.8M256.5 372.7h3.6m-1.8-1.4v2.8M256.6 372.8h3.6m-1.8-1.4v2.8M256.7 373.0h3.6m-1.8-1.4v2.8M256.8 372.9h3.6m-1.8-1.4v2.8M256.9 373.0h3.6m-1.8-1.4v2.8M257.0 373.0h3.6m-1.8-1.4v2.8M257.1 373.4h3.6m-1.8-1.4v2.8M257.2 372.9h3.6m-1.8-1.4v2.8M257.3 372.9h3.6m-1.8-1.4v2.8M257.4 372.9h3.6m-1.8-1.4v2.8M257.5 372.7h3.6m-1.8-1.4v2.8M257.6 372.7h3.6m-1.8-1.4v2.8M257.7 373.1h3.6m-1.8-1.4v2.8M257.8 373.0h3.6m-1.8-1.4v2.8M257.9 372.9h3.6m-1.8-1.4v2.8M258.0 372.9h3.6m-1.8-1.4v2.8M258.1 372.6h3.6m-1.8-1.4v2.8M258.2 372.8h3.6m-1.8-1.4v2.8M258.3 372.6h3.6m-1.8-1.4v2.8M258.4 373.0h3.6m-1.8-1.4v2.8M258.5 373.0h3.6m-1.8-1.4v2.8M258.6 372.6h3.6m-1.8-1.4v2.8M258.7 372.2h3.6m-1.8-1.4v2.8M258.8 372.2h3.6m-1.8-1.4v2.8M258.9 372.0h3.6m-1.8-1.4v2.8M259.0 372.1h3.6m-1.8-1.4v2.8M259.1 372.3h3.6m-1.8-1.4v2.8M259.2 371.6h3.6m-1.8-1.4v2.8M259.3 372.3h3.6m-1.8-1.4v2.8M259.4 372.1h3.6m-1.8-1.4v2.8M259.5 372.4h3.6m-1.8-1.4v2.8M259.6 372.4h3.6m-1.8-1.4v2.8M259.7 372.8h3.6m-1.8-1.4v2.8M259.8 372.1h3.6m-1.8-1.4v2.8M259.9 372.8h3.6m-1.8-1.4v2.8M260.0 372.9h3.6m-1.8-1.4v2.8M260.1 373.2h3.6m-1.8-1.4v2.8M260.2 372.8h3.6m-1.8-1.4v2.8M260.3 373.0h3.6m-1.8-1.4v2.8M260.4 372.4h3.6m-1.8-1.4v2.8M260.5 372.9h3.6m-1.8-1.4v2.8M260.6 372.8h3.6m-1.8-1.4v2.8M260.7 372.9h3.6m-1.8-1.4v2.8M260.8 373.1h3.6m-1.8-1.4v2.8M260.9 373.2h3.6m-1.8-1.4v2.8M261.0 372.6h3.6m-1.8-1.4v2.8M261.1 372.9h3.6m-1.8-1.4v2.8M261.2 373.0h3.6m-1.8-1.4v2.8M261.3 373.0h3.6m-1.8-1.4v2.8M261.4 372.4h3.6m-1.8-1.4v2.8M261.5 373.1h3.6m-1.8-1.4v2.8M261.6 372.9h3.6m-1.8-1.4v2.8M261.7 373.1h3.6m-1.8-1.4v2.8M261.8 373.1h3.6m-1.8-1.4v2.8M261.9 373.1h3.6m-1.8-1.4v2.8M262.0 372.9h3.6m-1.8-1.4v2.8M262.1 372.9h3.6m-1.8-1.4v2.8M262.2 373.0h3.6m-1.8-1.4v2.8M262.3 373.0h3.6m-1.8-1.4v2.8M262.4 372.9h3.6m-1.8-1.4v2.8M262.5 373.2h3.6m-1.8-1.4v2.8M262.6 372.7h3.6m-1.8-1.4v2.8M262.7 372.7h3.6m-1.8-1.4v2.8M262.8 373.1h3.6m-1.8-1.4v2.8M262.9 372.7h3.6m-1.8-1.4v2.8M263.0 373.0h3.6m-1.8-1.4v2.8M263.1 372.7h3.6m-1.8-1.4v2.8M263.2 372.8h3.6m-1.8-1.4v2.8M263.3 372.6h3.6m-1.8-1.4v2.8M263.4 372.7h3.6m-1.8-1.4v2.8M263.5 373.0h3.6m-1.8-1.4v2.8M263.6 373.4h3.6m-1.8-1.4v2.8M263.7 372.7h3.6m-1.8-1.4v2.8M263.8 373.1h3.6m-1.8-1.4v2.8M263.9 372.7h3.6m-1.8-1.4v2.8M264.0 372.3h3.6m-1.8-1.4v2.8M264.1 372.5h3.6m-1.8-1.4v2.8M264.2 372.5h3.6m-1.8-1.4v2.8M264.3 372.3h3.6m-1.8-1.4v2.8M264.4 372.8h3.6m-1.8-1.4v2.8M264.5 372.8h3.6m-1.8-1.4v2.8M264.6 372.6h3.6m-1.8-1.4v2.8M264.7 372.5h3.6m-1.8-1.4v2.8M264.8 372.0h3.6m-1.8-1.4v2.8M264.9 371.7h3.6m-1.8-1.4v2.8M265.0 371.8h3.6m-1.8-1.4v2.8M265.1 371.4h3.6m-1.8-1.4v2.8M265.2 370.7h3.6m-1.8-1.4v2.8M265.3 370.1h3.6m-1.8-1.4v2.8M265.7 370.2h3.6m-1.8-1.4v2.8M265.8 370.8h3.6m-1.8-1.4v2.8M265.9 371.3h3.6m-1.8-1.4v2.8M266.0 372.0h3.6m-1.8-1.4v2.8M266.1 372.1h3.6m-1.8-1.4v2.8M266.2 372.2h3.6m-1.8-1.4v2.8M266.3 372.3h3.6m-1.8-1.4v2.8M266.4 372.4h3.6m-1.8-1.4v2.8M266.5 372.3h3.6m-1.8-1.4v2.8M266.6 372.8h3.6m-1.8-1.4v2.8M266.7 372.6h3.6m-1.8-1.4v2.8M266.8 372.9h3.6m-1.8-1.4v2.8M266.9 372.8h3.6m-1.8-1.4v2.8M267.0 372.4h3.6m-1.8-1.4v2.8M267.1 373.0h3.6m-1.8-1.4v2.8M267.2 372.7h3.6m-1.8-1.4v2.8M267.3 373.2h3.6m-1.8-1.4v2.8M267.4 372.9h3.6m-1.8-1.4v2.8M267.5 372.8h3.6m-1.8-1.4v2.8M267.6 373.0h3.6m-1.8-1.4v2.8M267.7 372.9h3.6m-1.8-1.4v2.8M267.8 372.9h3.6m-1.8-1.4v2.8M267.9 373.0h3.6m-1.8-1.4v2.8M268.0 373.1h3.6m-1.8-1.4v2.8M268.1 372.3h3.6m-1.8-1.4v2.8M268.2 372.9h3.6m-1.8-1.4v2.8M268.3 373.3h3.6m-1.8-1.4v2.8M268.4 373.4h3.6m-1.8-1.4v2.8M268.5 372.9h3.6m-1.8-1.4v2.8M268.6 373.0h3.6m-1.8-1.4v2.8M268.7 373.3h3.6m-1.8-1.4v2.8M268.8 373.4h3.6m-1.8-1.4v2.8M268.9 372.7h3.6m-1.8-1.4v2.8M269.0 372.7h3.6m-1.8-1.4v2.8M269.1 373.0h3.6m-1.8-1.4v2.8M269.2 373.2h3.6m-1.8-1.4v2.8M269.3 373.1h3.6m-1.8-1.4v2.8M269.4 373.0h3.6m-1.8-1.4v2.8M269.5 372.9h3.6m-1.8-1.4v2.8M269.6 373.1h3.6m-1.8-1.4v2.8M269.7 373.3h3.6m-1.8-1.4v2.8M269.8 373.2h3.6m-1.8-1.4v2.8M269.9 373.0h3.6m-1.8-1.4v2.8M270.0 373.0h3.6m-1.8-1.4v2.8M270.1 372.9h3.6m-1.8-1.4v2.8M270.2 372.4h3.6m-1.8-1.4v2.8M270.3 373.0h3.6m-1.8-1.4v2.8M270.4 372.7h3.6m-1.8-1.4v2.8M270.5 373.0h3.6m-1.8-1.4v2.8M270.6 373.3h3.6m-1.8-1.4v2.8M270.7 373.2h3.6m-1.8-1.4v2.8M270.8 372.8h3.6m-1.8-1.4v2.8M270.9 373.0h3.6m-1.8-1.4v2.8M271.0 372.9h3.6m-1.8-1.4v2.8M271.1 373.0h3.6m-1.8-1.4v2.8M271.2 372.8h3.6m-1.8-1.4v2.8M271.3 372.9h3.6m-1.8-1.4v2.8M271.4 372.9h3.6m-1.8-1.4v2.8M271.5 372.8h3.6m-1.8-1.4v2.8M271.6 373.2h3.6m-1.8-1.4v2.8M271.7 372.7h3.6m-1.8-1.4v2.8M271.8 373.0h3.6m-1.8-1.4v2.8M271.9 372.5h3.6m-1.8-1.4v2.8M272.0 372.6h3.6m-1.8-1.4v2.8M272.1 372.9h3.6m-1.8-1.4v2.8M272.2 372.6h3.6m-1.8-1.4v2.8M272.3 373.1h3.6m-1.8-1.4v2.8M272.4 372.7h3.6m-1.8-1.4v2.8M272.5 373.0h3.6m-1.8-1.4v2.8M272.6 373.6h3.6m-1.8-1.4v2.8M272.7 373.0h3.6m-1.8-1.4v2.8M272.8 372.7h3.6m-1.8-1.4v2.8M272.9 373.0h3.6m-1.8-1.4v2.8M273.0 373.2h3.6m-1.8-1.4v2.8M273.1 372.7h3.6m-1.8-1.4v2.8M273.2 372.8h3.6m-1.8-1.4v2.8M273.3 373.2h3.6m-1.8-1.4v2.8M273.4 373.1h3.6m-1.8-1.4v2.8M273.5 373.0h3.6m-1.8-1.4v2.8M273.6 373.0h3.6m-1.8-1.4v2.8M273.7 373.1h3.6m-1.8-1.4v2.8M273.8 373.0h3.6m-1.8-1.4v2.8M273.9 373.1h3.6m-1.8-1.4v2.8M274.0 373.0h3.6m-1.8-1.4v2.8M274.1 373.1h3.6m-1.8-1.4v2.8M274.2 372.7h3.6m-1.8-1.4v2.8M274.3 373.7h3.6m-1.8-1.4v2.8M274.4 373.1h3.6m-1.8-1.4v2.8M274.5 373.3h3.6m-1.8-1.4v2.8M274.6 373.2h3.6m-1.8-1.4v2.8M274.7 372.9h3.6m-1.8-1.4v2.8M274.8 373.1h3.6m-1.8-1.4v2.8M274.9 373.4h3.6m-1.8-1.4v2.8M275.0 373.0h3.6m-1.8-1.4v2.8M275.1 373.0h3.6m-1.8-1.4v2.8M275.2 373.1h3.6m-1.8-1.4v2.8M275.3 373.2h3.6m-1.8-1.4v2.8M275.4 373.1h3.6m-1.8-1.4v2.8M275.5 373.3h3.6m-1.8-1.4v2.8M275.6 372.9h3.6m-1.8-1.4v2.8M275.7 373.0h3.6m-1.8-1.4v2.8M275.8 372.6h3.6m-1.8-1.4v2.8M275.9 373.0h3.6m-1.8-1.4v2.8M276.0 373.0h3.6m-1.8-1.4v2.8M276.1 373.5h3.6m-1.8-1.4v2.8M276.2 373.1h3.6m-1.8-1.4v2.8M276.3 372.5h3.6m-1.8-1.4v2.8M276.4 373.0h3.6m-1.8-1.4v2.8M276.5 372.7h3.6m-1.8-1.4v2.8M276.6 372.9h3.6m-1.8-1.4v2.8M276.7 372.8h3.6m-1.8-1.4v2.8M276.8 373.1h3.6m-1.8-1.4v2.8M276.9 372.9h3.6m-1.8-1.4v2.8M277.0 372.9h3.6m-1.8-1.4v2.8M277.1 373.1h3.6m-1.8-1.4v2.8M277.2 372.4h3.6m-1.8-1.4v2.8M277.3 372.9h3.6m-1.8-1.4v2.8M277.4 372.9h3.6m-1.8-1.4v2.8M277.5 372.8h3.6m-1.8-1.4v2.8M277.6 372.8h3.6m-1.8-1.4v2.8M277.7 372.6h3.6m-1.8-1.4v2.8M277.8 372.6h3.6m-1.8-1.4v2.8M277.9 372.6h3.6m-1.8-1.4v2.8M278.0 372.6h3.6m-1.8-1.4v2.8M278.1 372.0h3.6m-1.8-1.4v2.8M278.2 371.5h3.6m-1.8-1.4v2.8M278.3 371.1h3.6m-1.8-1.4v2.8M278.4 371.6h3.6m-1.8-1.4v2.8M278.5 371.7h3.6m-1.8-1.4v2.8M278.6 372.2h3.6m-1.8-1.4v2.8M278.7 372.6h3.6m-1.8-1.4v2.8M278.8 372.2h3.6m-1.8-1.4v2.8M278.9 372.4h3.6m-1.8-1.4v2.8M279.0 372.9h3.6m-1.8-1.4v2.8M279.1 373.2h3.6m-1.8-1.4v2.8M279.2 372.8h3.6m-1.8-1.4v2.8M279.3 372.8h3.6m-1.8-1.4v2.8M279.4 372.9h3.6m-1.8-1.4v2.8M279.5 372.8h3.6m-1.8-1.4v2.8M279.6 372.9h3.6m-1.8-1.4v2.8M279.7 373.2h3.6m-1.8-1.4v2.8M279.8 373.1h3.6m-1.8-1.4v2.8M279.9 373.1h3.6m-1.8-1.4v2.8M280.0 373.0h3.6m-1.8-1.4v2.8M280.1 373.4h3.6m-1.8-1.4v2.8M280.2 372.9h3.6m-1.8-1.4v2.8M280.3 373.1h3.6m-1.8-1.4v2.8M280.4 372.8h3.6m-1.8-1.4v2.8M280.5 373.1h3.6m-1.8-1.4v2.8M280.6 372.9h3.6m-1.8-1.4v2.8M280.7 373.1h3.6m-1.8-1.4v2.8M280.8 373.3h3.6m-1.8-1.4v2.8M280.9 373.5h3.6m-1.8-1.4v2.8M281.0 372.9h3.6m-1.8-1.4v2.8M281.1 373.6h3.6m-1.8-1.4v2.8M281.2 372.9h3.6m-1.8-1.4v2.8M281.3 373.6h3.6m-1.8-1.4v2.8M281.4 373.2h3.6m-1.8-1.4v2.8M281.5 373.5h3.6m-1.8-1.4v2.8M281.6 373.4h3.6m-1.8-1.4v2.8M281.7 373.2h3.6m-1.8-1.4v2.8M281.8 373.3h3.6m-1.8-1.4v2.8M281.9 372.9h3.6m-1.8-1.4v2.8M282.0 373.5h3.6m-1.8-1.4v2.8M282.1 373.2h3.6m-1.8-1.4v2.8M282.2 373.1h3.6m-1.8-1.4v2.8M282.3 373.3h3.6m-1.8-1.4v2.8M282.4 373.3h3.6m-1.8-1.4v2.8M282.5 372.9h3.6m-1.8-1.4v2.8M282.6 373.3h3.6m-1.8-1.4v2.8M282.7 373.2h3.6m-1.8-1.4v2.8M282.8 373.0h3.6m-1.8-1.4v2.8M282.9 373.5h3.6m-1.8-1.4v2.8M283.0 373.2h3.6m-1.8-1.4v2.8M283.1 373.3h3.6m-1.8-1.4v2.8M283.2 373.1h3.6m-1.8-1.4v2.8M283.3 373.4h3.6m-1.8-1.4v2.8M283.4 373.0h3.6m-1.8-1.4v2.8M283.5 373.3h3.6m-1.8-1.4v2.8M283.6 373.0h3.6m-1.8-1.4v2.8M283.7 373.4h3.6m-1.8-1.4v2.8M283.8 373.2h3.6m-1.8-1.4v2.8M283.9 373.1h3.6m-1.8-1.4v2.8M284.0 372.8h3.6m-1.8-1.4v2.8M284.1 373.3h3.6m-1.8-1.4v2.8M284.2 373.3h3.6m-1.8-1.4v2.8M284.3 372.8h3.6m-1.8-1.4v2.8M284.4 373.5h3.6m-1.8-1.4v2.8M284.5 373.1h3.6m-1.8-1.4v2.8M284.6 373.4h3.6m-1.8-1.4v2.8M284.7 372.8h3.6m-1.8-1.4v2.8M284.8 373.0h3.6m-1.8-1.4v2.8M284.9 373.6h3.6m-1.8-1.4v2.8M285.0 372.9h3.6m-1.8-1.4v2.8M285.1 373.3h3.6m-1.8-1.4v2.8M285.2 373.5h3.6m-1.8-1.4v2.8M285.3 373.6h3.6m-1.8-1.4v2.8M285.4 373.1h3.6m-1.8-1.4v2.8M285.5 373.5h3.6m-1.8-1.4v2.8M285.6 372.9h3.6m-1.8-1.4v2.8M285.7 373.2h3.6m-1.8-1.4v2.8M285.8 373.8h3.6m-1.8-1.4v2.8M285.9 373.2h3.6m-1.8-1.4v2.8M286.0 373.2h3.6m-1.8-1.4v2.8M286.1 373.1h3.6m-1.8-1.4v2.8M286.2 373.0h3.6m-1.8-1.4v2.8M286.3 373.2h3.6m-1.8-1.4v2.8M286.4 373.0h3.6m-1.8-1.4v2.8M286.5 373.7h3.6m-1.8-1.4v2.8M286.6 373.2h3.6m-1.8-1.4v2.8M286.7 373.6h3.6m-1.8-1.4v2.8M286.8 373.5h3.6m-1.8-1.4v2.8M286.9 373.3h3.6m-1.8-1.4v2.8M287.0 372.8h3.6m-1.8-1.4v2.8M287.1 373.6h3.6m-1.8-1.4v2.8M287.2 373.6h3.6m-1.8-1.4v2.8M287.3 373.2h3.6m-1.8-1.4v2.8M287.4 373.2h3.6m-1.8-1.4v2.8M287.5 373.0h3.6m-1.8-1.4v2.8M287.6 373.8h3.6m-1.8-1.4v2.8M287.7 373.6h3.6m-1.8-1.4v2.8M287.8 373.7h3.6m-1.8-1.4v2.8M287.9 372.9h3.6m-1.8-1.4v2.8M288.0 373.4h3.6m-1.8-1.4v2.8M288.1 373.6h3.6m-1.8-1.4v2.8M288.2 373.5h3.6m-1.8-1.4v2.8M288.3 372.9h3.6m-1.8-1.4v2.8M288.4 373.4h3.6m-1.8-1.4v2.8M288.5 373.3h3.6m-1.8-1.4v2.8M288.6 373.2h3.6m-1.8-1.4v2.8M288.7 373.1h3.6m-1.8-1.4v2.8M288.8 373.5h3.6m-1.8-1.4v2.8M288.9 373.6h3.6m-1.8-1.4v2.8M289.0 373.5h3.6m-1.8-1.4v2.8M289.1 373.4h3.6m-1.8-1.4v2.8M289.2 373.1h3.6m-1.8-1.4v2.8M289.3 373.4h3.6m-1.8-1.4v2.8M289.4 373.2h3.6m-1.8-1.4v2.8M289.5 373.6h3.6m-1.8-1.4v2.8M289.6 373.2h3.6m-1.8-1.4v2.8M289.7 373.3h3.6m-1.8-1.4v2.8M289.8 373.4h3.6m-1.8-1.4v2.8M289.9 373.6h3.6m-1.8-1.4v2.8M290.0 373.6h3.6m-1.8-1.4v2.8M290.1 373.4h3.6m-1.8-1.4v2.8M290.2 373.5h3.6m-1.8-1.4v2.8M290.3 373.2h3.6m-1.8-1.4v2.8M290.4 373.5h3.6m-1.8-1.4v2.8M290.5 373.1h3.6m-1.8-1.4v2.8M290.6 372.8h3.6m-1.8-1.4v2.8M290.7 373.3h3.6m-1.8-1.4v2.8M290.8 372.9h3.6m-1.8-1.4v2.8M290.9 373.3h3.6m-1.8-1.4v2.8M291.0 373.3h3.6m-1.8-1.4v2.8M291.1 373.2h3.6m-1.8-1.4v2.8M291.2 373.1h3.6m-1.8-1.4v2.8M291.3 373.4h3.6m-1.8-1.4v2.8M291.4 373.0h3.6m-1.8-1.4v2.8M291.5 373.4h3.6m-1.8-1.4v2.8M291.6 373.3h3.6m-1.8-1.4v2.8M291.7 373.2h3.6m-1.8-1.4v2.8M291.8 373.9h3.6m-1.8-1.4v2.8M291.9 373.1h3.6m-1.8-1.4v2.8M292.0 373.4h3.6m-1.8-1.4v2.8M292.1 373.0h3.6m-1.8-1.4v2.8M292.2 373.4h3.6m-1.8-1.4v2.8M292.3 373.3h3.6m-1.8-1.4v2.8M292.4 373.2h3.6m-1.8-1.4v2.8M292.5 373.2h3.6m-1.8-1.4v2.8M292.6 373.2h3.6m-1.8-1.4v2.8M292.7 373.7h3.6m-1.8-1.4v2.8M292.8 373.0h3.6m-1.8-1.4v2.8M292.9 373.8h3.6m-1.8-1.4v2.8M293.0 373.6h3.6m-1.8-1.4v2.8M293.1 373.5h3.6m-1.8-1.4v2.8M293.2 373.3h3.6m-1.8-1.4v2.8M293.3 373.4h3.6m-1.8-1.4v2.8M293.4 373.7h3.6m-1.8-1.4v2.8M293.5 373.7h3.6m-1.8-1.4v2.8M293.6 373.4h3.6m-1.8-1.4v2.8M293.7 373.5h3.6m-1.8-1.4v2.8M293.8 373.3h3.6m-1.8-1.4v2.8M293.9 372.9h3.6m-1.8-1.4v2.8M294.0 373.1h3.6m-1.8-1.4v2.8M294.1 373.2h3.6m-1.8-1.4v2.8M294.2 373.3h3.6m-1.8-1.4v2.8M294.3 374.0h3.6m-1.8-1.4v2.8M294.4 373.5h3.6m-1.8-1.4v2.8M294.5 373.0h3.6m-1.8-1.4v2.8M294.6 373.2h3.6m-1.8-1.4v2.8M294.7 373.4h3.6m-1.8-1.4v2.8M294.8 373.2h3.6m-1.8-1.4v2.8M294.9 373.5h3.6m-1.8-1.4v2.8M295.0 373.3h3.6m-1.8-1.4v2.8M295.1 373.3h3.6m-1.8-1.4v2.8M295.2 373.5h3.6m-1.8-1.4v2.8M295.3 373.7h3.6m-1.8-1.4v2.8M295.4 373.5h3.6m-1.8-1.4v2.8M295.5 373.5h3.6m-1.8-1.4v2.8M295.6 373.2h3.6m-1.8-1.4v2.8M295.7 373.4h3.6m-1.8-1.4v2.8M295.8 373.8h3.6m-1.8-1.4v2.8M295.9 372.8h3.6m-1.8-1.4v2.8M296.0 373.1h3.6m-1.8-1.4v2.8M296.1 373.3h3.6m-1.8-1.4v2.8M296.2 373.1h3.6m-1.8-1.4v2.8M296.3 373.6h3.6m-1.8-1.4v2.8M296.4 373.1h3.6m-1.8-1.4v2.8M296.5 373.8h3.6m-1.8-1.4v2.8M296.6 373.3h3.6m-1.8-1.4v2.8M296.7 373.4h3.6m-1.8-1.4v2.8M296.8 373.0h3.6m-1.8-1.4v2.8M296.9 373.7h3.6m-1.8-1.4v2.8M297.0 374.2h3.6m-1.8-1.4v2.8M297.1 373.6h3.6m-1.8-1.4v2.8M297.2 373.5h3.6m-1.8-1.4v2.8M297.3 373.2h3.6m-1.8-1.4v2.8M297.4 373.4h3.6m-1.8-1.4v2.8M297.5 373.6h3.6m-1.8-1.4v2.8M297.6 373.2h3.6m-1.8-1.4v2.8M297.7 373.8h3.6m-1.8-1.4v2.8M297.8 373.3h3.6m-1.8-1.4v2.8M297.9 373.3h3.6m-1.8-1.4v2.8M298.0 373.3h3.6m-1.8-1.4v2.8M298.1 373.6h3.6m-1.8-1.4v2.8M298.2 373.6h3.6m-1.8-1.4v2.8M298.3 373.7h3.6m-1.8-1.4v2.8M298.4 373.5h3.6m-1.8-1.4v2.8M298.5 373.4h3.6m-1.8-1.4v2.8M298.6 373.5h3.6m-1.8-1.4v2.8M298.7 373.5h3.6m-1.8-1.4v2.8M298.8 373.3h3.6m-1.8-1.4v2.8M298.9 373.5h3.6m-1.8-1.4v2.8M299.0 373.3h3.6m-1.8-1.4v2.8M299.1 373.4h3.6m-1.8-1.4v2.8M299.2 373.4h3.6m-1.8-1.4v2.8M299.3 373.4h3.6m-1.8-1.4v2.8M299.4 373.9h3.6m-1.8-1.4v2.8M299.5 373.2h3.6m-1.8-1.4v2.8M299.6 373.8h3.6m-1.8-1.4v2.8M299.7 373.2h3.6m-1.8-1.4v2.8M299.8 373.7h3.6m-1.8-1.4v2.8M299.9 373.8h3.6m-1.8-1.4v2.8M300.0 373.1h3.6m-1.8-1.4v2.8M300.1 373.3h3.6m-1.8-1.4v2.8M300.2 373.1h3.6m-1.8-1.4v2.8M300.3 373.6h3.6m-1.8-1.4v2.8M300.4 373.5h3.6m-1.8-1.4v2.8M300.5 373.6h3.6m-1.8-1.4v2.8M300.6 373.9h3.6m-1.8-1.4v2.8M300.7 374.2h3.6m-1.8-1.4v2.8M300.8 373.4h3.6m-1.8-1.4v2.8M300.9 373.6h3.6m-1.8-1.4v2.8M301.0 373.8h3.6m-1.8-1.4v2.8M301.1 374.0h3.6m-1.8-1.4v2.8M301.2 373.6h3.6m-1.8-1.4v2.8M301.3 373.3h3.6m-1.8-1.4v2.8M301.4 373.9h3.6m-1.8-1.4v2.8M301.5 373.7h3.6m-1.8-1.4v2.8M301.6 373.9h3.6m-1.8-1.4v2.8M301.7 373.5h3.6m-1.8-1.4v2.8M301.8 373.3h3.6m-1.8-1.4v2.8M301.9 373.6h3.6m-1.8-1.4v2.8M302.0 373.9h3.6m-1.8-1.4v2.8M302.1 373.6h3.6m-1.8-1.4v2.8M302.2 373.7h3.6m-1.8-1.4v2.8M302.3 373.3h3.6m-1.8-1.4v2.8M302.4 373.6h3.6m-1.8-1.4v2.8M302.5 373.4h3.6m-1.8-1.4v2.8M302.6 373.4h3.6m-1.8-1.4v2.8M302.7 373.8h3.6m-1.8-1.4v2.8M302.8 373.8h3.6m-1.8-1.4v2.8M302.9 374.2h3.6m-1.8-1.4v2.8M303.0 373.5h3.6m-1.8-1.4v2.8M303.1 373.5h3.6m-1.8-1.4v2.8M303.2 373.4h3.6m-1.8-1.4v2.8M303.3 373.4h3.6m-1.8-1.4v2.8M303.4 373.3h3.6m-1.8-1.4v2.8M303.5 373.9h3.6m-1.8-1.4v2.8M303.6 373.4h3.6m-1.8-1.4v2.8M303.7 373.7h3.6m-1.8-1.4v2.8M303.8 373.7h3.6m-1.8-1.4v2.8M303.9 373.4h3.6m-1.8-1.4v2.8M304.0 373.6h3.6m-1.8-1.4v2.8M304.1 373.5h3.6m-1.8-1.4v2.8M304.2 374.3h3.6m-1.8-1.4v2.8M304.3 373.9h3.6m-1.8-1.4v2.8M304.4 373.3h3.6m-1.8-1.4v2.8M304.5 373.3h3.6m-1.8-1.4v2.8M304.6 373.6h3.6m-1.8-1.4v2.8M304.7 373.3h3.6m-1.8-1.4v2.8M304.8 373.7h3.6m-1.8-1.4v2.8M304.9 373.4h3.6m-1.8-1.4v2.8M305.0 373.7h3.6m-1.8-1.4v2.8M305.1 373.3h3.6m-1.8-1.4v2.8M305.2 374.1h3.6m-1.8-1.4v2.8M305.3 373.2h3.6m-1.8-1.4v2.8M305.4 373.6h3.6m-1.8-1.4v2.8M305.5 373.4h3.6m-1.8-1.4v2.8M305.6 373.0h3.6m-1.8-1.4v2.8M305.7 373.7h3.6m-1.8-1.4v2.8M305.8 373.4h3.6m-1.8-1.4v2.8M305.9 373.6h3.6m-1.8-1.4v2.8M306.0 373.4h3.6m-1.8-1.4v2.8M306.1 373.6h3.6m-1.8-1.4v2.8M306.2 373.9h3.6m-1.8-1.4v2.8M306.3 373.7h3.6m-1.8-1.4v2.8M306.4 373.8h3.6m-1.8-1.4v2.8M306.5 373.6h3.6m-1.8-1.4v2.8M306.6 373.4h3.6m-1.8-1.4v2.8M306.7 374.0h3.6m-1.8-1.4v2.8M306.8 373.4h3.6m-1.8-1.4v2.8M306.9 373.8h3.6m-1.8-1.4v2.8M307.0 373.5h3.6m-1.8-1.4v2.8M307.1 373.5h3.6m-1.8-1.4v2.8M307.2 373.4h3.6m-1.8-1.4v2.8M307.3 373.6h3.6m-1.8-1.4v2.8M307.4 373.2h3.6m-1.8-1.4v2.8M307.5 373.8h3.6m-1.8-1.4v2.8M307.6 374.2h3.6m-1.8-1.4v2.8M307.7 373.4h3.6m-1.8-1.4v2.8M307.8 373.6h3.6m-1.8-1.4v2.8M307.9 373.5h3.6m-1.8-1.4v2.8M308.0 373.4h3.6m-1.8-1.4v2.8M308.1 373.7h3.6m-1.8-1.4v2.8M308.2 373.4h3.6m-1.8-1.4v2.8M308.3 373.8h3.6m-1.8-1.4v2.8M308.4 373.6h3.6m-1.8-1.4v2.8M308.5 373.6h3.6m-1.8-1.4v2.8M308.6 373.5h3.6m-1.8-1.4v2.8M308.7 373.5h3.6m-1.8-1.4v2.8M308.8 373.6h3.6m-1.8-1.4v2.8M308.9 373.0h3.6m-1.8-1.4v2.8M309.0 373.4h3.6m-1.8-1.4v2.8M309.1 373.2h3.6m-1.8-1.4v2.8M309.2 374.1h3.6m-1.8-1.4v2.8M309.3 373.5h3.6m-1.8-1.4v2.8M309.4 373.5h3.6m-1.8-1.4v2.8M309.5 373.9h3.6m-1.8-1.4v2.8M309.6 373.3h3.6m-1.8-1.4v2.8M309.7 373.6h3.6m-1.8-1.4v2.8M309.8 373.6h3.6m-1.8-1.4v2.8M309.9 373.6h3.6m-1.8-1.4v2.8M310.0 373.6h3.6m-1.8-1.4v2.8M310.1 373.7h3.6m-1.8-1.4v2.8M310.2 373.9h3.6m-1.8-1.4v2.8M310.3 373.3h3.6m-1.8-1.4v2.8M310.4 373.9h3.6m-1.8-1.4v2.8M310.5 373.7h3.6m-1.8-1.4v2.8M310.6 373.9h3.6m-1.8-1.4v2.8M310.7 373.4h3.6m-1.8-1.4v2.8M310.8 373.5h3.6m-1.8-1.4v2.8M310.9 373.4h3.6m-1.8-1.4v2.8M311.0 373.4h3.6m-1.8-1.4v2.8M311.1 373.8h3.6m-1.8-1.4v2.8M311.2 373.8h3.6m-1.8-1.4v2.8M311.3 373.7h3.6m-1.8-1.4v2.8M311.4 373.7h3.6m-1.8-1.4v2.8M311.5 373.9h3.6m-1.8-1.4v2.8M311.6 373.5h3.6m-1.8-1.4v2.8M311.7 373.8h3.6m-1.8-1.4v2.8M311.8 373.8h3.6m-1.8-1.4v2.8M311.9 373.6h3.6m-1.8-1.4v2.8M312.0 373.2h3.6m-1.8-1.4v2.8M312.1 373.9h3.6m-1.8-1.4v2.8M312.2 373.5h3.6m-1.8-1.4v2.8M312.3 373.6h3.6m-1.8-1.4v2.8M312.4 373.4h3.6m-1.8-1.4v2.8M312.5 373.5h3.6m-1.8-1.4v2.8M312.6 373.6h3.6m-1.8-1.4v2.8M312.7 373.3h3.6m-1.8-1.4v2.8M312.8 373.3h3.6m-1.8-1.4v2.8M312.9 373.7h3.6m-1.8-1.4v2.8M313.0 373.2h3.6m-1.8-1.4v2.8M313.1 373.1h3.6m-1.8-1.4v2.8M313.2 373.5h3.6m-1.8-1.4v2.8M313.3 373.1h3.6m-1.8-1.4v2.8M313.4 372.8h3.6m-1.8-1.4v2.8M313.5 373.4h3.6m-1.8-1.4v2.8M313.6 373.0h3.6m-1.8-1.4v2.8M313.7 372.7h3.6m-1.8-1.4v2.8M313.8 373.3h3.6m-1.8-1.4v2.8M313.9 373.3h3.6m-1.8-1.4v2.8M314.0 373.7h3.6m-1.8-1.4v2.8M314.1 373.5h3.6m-1.8-1.4v2.8M314.2 373.1h3.6m-1.8-1.4v2.8M314.3 373.4h3.6m-1.8-1.4v2.8M314.4 373.2h3.6m-1.8-1.4v2.8M314.5 374.0h3.6m-1.8-1.4v2.8M314.6 373.9h3.6m-1.8-1.4v2.8M314.7 373.3h3.6m-1.8-1.4v2.8M314.8 373.0h3.6m-1.8-1.4v2.8M314.9 373.6h3.6m-1.8-1.4v2.8M315.0 373.6h3.6m-1.8-1.4v2.8M315.1 373.6h3.6m-1.8-1.4v2.8M315.2 373.7h3.6m-1.8-1.4v2.8M315.3 373.6h3.6m-1.8-1.4v2.8M315.4 373.5h3.6m-1.8-1.4v2.8M315.5 373.8h3.6m-1.8-1.4v2.8M315.6 373.9h3.6m-1.8-1.4v2.8M315.7 373.4h3.6m-1.8-1.4v2.8M315.8 372.9h3.6m-1.8-1.4v2.8M315.9 373.4h3.6m-1.8-1.4v2.8M316.0 373.9h3.6m-1.8-1.4v2.8M316.1 373.4h3.6m-1.8-1.4v2.8M316.2 373.5h3.6m-1.8-1.4v2.8M316.3 373.7h3.6m-1.8-1.4v2.8M316.4 374.0h3.6m-1.8-1.4v2.8M316.5 373.4h3.6m-1.8-1.4v2.8M316.6 373.9h3.6m-1.8-1.4v2.8M316.7 373.5h3.6m-1.8-1.4v2.8M316.8 373.8h3.6m-1.8-1.4v2.8M316.9 373.7h3.6m-1.8-1.4v2.8M317.0 373.5h3.6m-1.8-1.4v2.8M317.1 374.3h3.6m-1.8-1.4v2.8M317.2 373.7h3.6m-1.8-1.4v2.8M317.3 373.5h3.6m-1.8-1.4v2.8M317.4 373.6h3.6m-1.8-1.4v2.8M317.5 373.8h3.6m-1.8-1.4v2.8M317.6 373.4h3.6m-1.8-1.4v2.8M317.7 373.4h3.6m-1.8-1.4v2.8M317.8 373.5h3.6m-1.8-1.4v2.8M317.9 373.5h3.6m-1.8-1.4v2.8M318.0 373.9h3.6m-1.8-1.4v2.8M318.1 373.8h3.6m-1.8-1.4v2.8M318.2 374.1h3.6m-1.8-1.4v2.8M318.3 373.5h3.6m-1.8-1.4v2.8M318.4 373.4h3.6m-1.8-1.4v2.8M318.5 373.5h3.6m-1.8-1.4v2.8M318.6 373.7h3.6m-1.8-1.4v2.8M318.7 373.7h3.6m-1.8-1.4v2.8M318.8 373.8h3.6m-1.8-1.4v2.8M318.9 373.9h3.6m-1.8-1.4v2.8M319.0 373.9h3.6m-1.8-1.4v2.8M319.1 373.7h3.6m-1.8-1.4v2.8M319.2 373.6h3.6m-1.8-1.4v2.8M319.3 374.0h3.6m-1.8-1.4v2.8M319.4 373.3h3.6m-1.8-1.4v2.8M319.5 373.9h3.6m-1.8-1.4v2.8M319.6 373.2h3.6m-1.8-1.4v2.8M319.7 373.6h3.6m-1.8-1.4v2.8M319.8 373.5h3.6m-1.8-1.4v2.8M319.9 373.6h3.6m-1.8-1.4v2.8M320.0 373.4h3.6m-1.8-1.4v2.8M320.1 373.8h3.6m-1.8-1.4v2.8M320.2 374.0h3.6m-1.8-1.4v2.8M320.3 374.0h3.6m-1.8-1.4v2.8M320.4 374.1h3.6m-1.8-1.4v2.8M320.5 373.6h3.6m-1.8-1.4v2.8M320.6 373.6h3.6m-1.8-1.4v2.8M320.7 373.3h3.6m-1.8-1.4v2.8M320.8 374.1h3.6m-1.8-1.4v2.8M320.9 373.8h3.6m-1.8-1.4v2.8M321.0 373.6h3.6m-1.8-1.4v2.8M321.1 373.8h3.6m-1.8-1.4v2.8M321.2 373.7h3.6m-1.8-1.4v2.8M321.3 373.8h3.6m-1.8-1.4v2.8M321.4 373.7h3.6m-1.8-1.4v2.8M321.5 373.6h3.6m-1.8-1.4v2.8M321.6 373.7h3.6m-1.8-1.4v2.8M321.7 373.8h3.6m-1.8-1.4v2.8M321.8 373.9h3.6m-1.8-1.4v2.8M321.9 373.7h3.6m-1.8-1.4v2.8M322.0 373.7h3.6m-1.8-1.4v2.8M322.1 373.7h3.6m-1.8-1.4v2.8M322.2 373.7h3.6m-1.8-1.4v2.8M322.3 374.0h3.6m-1.8-1.4v2.8M322.4 374.3h3.6m-1.8-1.4v2.8M322.5 373.8h3.6m-1.8-1.4v2.8M322.6 373.7h3.6m-1.8-1.4v2.8M322.7 373.7h3.6m-1.8-1.4v2.8M322.8 373.6h3.6m-1.8-1.4v2.8M322.9 373.8h3.6m-1.8-1.4v2.8M323.0 373.4h3.6m-1.8-1.4v2.8M323.1 374.0h3.6m-1.8-1.4v2.8M323.2 373.9h3.6m-1.8-1.4v2.8M323.3 374.2h3.6m-1.8-1.4v2.8M323.4 373.4h3.6m-1.8-1.4v2.8M323.5 373.8h3.6m-1.8-1.4v2.8M323.6 373.9h3.6m-1.8-1.4v2.8M323.7 373.8h3.6m-1.8-1.4v2.8M323.8 373.7h3.6m-1.8-1.4v2.8M323.9 373.2h3.6m-1.8-1.4v2.8M324.0 373.6h3.6m-1.8-1.4v2.8M324.1 373.8h3.6m-1.8-1.4v2.8M324.2 373.8h3.6m-1.8-1.4v2.8M324.3 373.5h3.6m-1.8-1.4v2.8M324.4 374.3h3.6m-1.8-1.4v2.8M324.5 373.9h3.6m-1.8-1.4v2.8M324.6 374.0h3.6m-1.8-1.4v2.8M324.7 374.1h3.6m-1.8-1.4v2.8M324.8 373.9h3.6m-1.8-1.4v2.8M324.9 374.0h3.6m-1.8-1.4v2.8M325.0 373.6h3.6m-1.8-1.4v2.8M325.1 373.8h3.6m-1.8-1.4v2.8M325.2 373.1h3.6m-1.8-1.4v2.8M325.3 373.5h3.6m-1.8-1.4v2.8M325.4 373.6h3.6m-1.8-1.4v2.8M325.5 374.1h3.6m-1.8-1.4v2.8M325.6 373.9h3.6m-1.8-1.4v2.8M325.7 373.7h3.6m-1.8-1.4v2.8M325.8 374.2h3.6m-1.8-1.4v2.8M325.9 373.4h3.6m-1.8-1.4v2.8M326.0 373.7h3.6m-1.8-1.4v2.8M326.1 373.7h3.6m-1.8-1.4v2.8M326.2 373.8h3.6m-1.8-1.4v2.8M326.3 374.0h3.6m-1.8-1.4v2.8M326.4 373.6h3.6m-1.8-1.4v2.8M326.5 373.8h3.6m-1.8-1.4v2.8M326.6 374.4h3.6m-1.8-1.4v2.8M326.7 373.5h3.6m-1.8-1.4v2.8M326.8 374.2h3.6m-1.8-1.4v2.8M326.9 374.0h3.6m-1.8-1.4v2.8M327.0 373.5h3.6m-1.8-1.4v2.8M327.1 373.9h3.6m-1.8-1.4v2.8M327.2 373.6h3.6m-1.8-1.4v2.8M327.3 373.9h3.6m-1.8-1.4v2.8M327.4 373.5h3.6m-1.8-1.4v2.8M327.5 373.8h3.6m-1.8-1.4v2.8M327.6 373.7h3.6m-1.8-1.4v2.8M327.7 374.0h3.6m-1.8-1.4v2.8M327.8 373.7h3.6m-1.8-1.4v2.8M327.9 373.9h3.6m-1.8-1.4v2.8M328.0 373.6h3.6m-1.8-1.4v2.8M328.1 373.6h3.6m-1.8-1.4v2.8M328.2 373.8h3.6m-1.8-1.4v2.8M328.3 373.5h3.6m-1.8-1.4v2.8M328.4 373.7h3.6m-1.8-1.4v2.8M328.5 373.7h3.6m-1.8-1.4v2.8M328.6 373.7h3.6m-1.8-1.4v2.8M328.7 373.9h3.6m-1.8-1.4v2.8M328.8 374.0h3.6m-1.8-1.4v2.8M328.9 373.3h3.6m-1.8-1.4v2.8M329.0 373.7h3.6m-1.8-1.4v2.8M329.1 373.6h3.6m-1.8-1.4v2.8M329.2 373.7h3.6m-1.8-1.4v2.8M329.3 374.1h3.6m-1.8-1.4v2.8M329.4 373.9h3.6m-1.8-1.4v2.8M329.5 373.5h3.6m-1.8-1.4v2.8M329.6 373.8h3.6m-1.8-1.4v2.8M329.7 373.8h3.6m-1.8-1.4v2.8M329.8 373.9h3.6m-1.8-1.4v2.8M329.9 374.2h3.6m-1.8-1.4v2.8M330.0 374.0h3.6m-1.8-1.4v2.8M330.1 373.7h3.6m-1.8-1.4v2.8M330.2 373.6h3.6m-1.8-1.4v2.8M330.3 373.8h3.6m-1.8-1.4v2.8M330.4 374.0h3.6m-1.8-1.4v2.8M330.5 374.0h3.6m-1.8-1.4v2.8M330.6 373.8h3.6m-1.8-1.4v2.8M330.7 373.6h3.6m-1.8-1.4v2.8M330.8 373.6h3.6m-1.8-1.4v2.8M330.9 374.0h3.6m-1.8-1.4v2.8M331.0 373.6h3.6m-1.8-1.4v2.8M331.1 373.7h3.6m-1.8-1.4v2.8M331.2 373.7h3.6m-1.8-1.4v2.8M331.3 373.4h3.6m-1.8-1.4v2.8M331.4 373.7h3.6m-1.8-1.4v2.8M331.5 373.6h3.6m-1.8-1.4v2.8M331.6 374.1h3.6m-1.8-1.4v2.8M331.7 373.7h3.6m-1.8-1.4v2.8M331.8 373.8h3.6m-1.8-1.4v2.8M331.9 373.8h3.6m-1.8-1.4v2.8M332.0 373.6h3.6m-1.8-1.4v2.8M332.1 373.6h3.6m-1.8-1.4v2.8M332.2 374.0h3.6m-1.8-1.4v2.8M332.3 373.8h3.6m-1.8-1.4v2.8M332.4 373.9h3.6m-1.8-1.4v2.8M332.5 374.3h3.6m-1.8-1.4v2.8M332.6 374.0h3.6m-1.8-1.4v2.8M332.7 373.5h3.6m-1.8-1.4v2.8M332.8 373.9h3.6m-1.8-1.4v2.8M332.9 374.4h3.6m-1.8-1.4v2.8M333.0 373.4h3.6m-1.8-1.4v2.8M333.1 373.7h3.6m-1.8-1.4v2.8M333.2 374.1h3.6m-1.8-1.4v2.8M333.3 373.6h3.6m-1.8-1.4v2.8M333.4 373.5h3.6m-1.8-1.4v2.8M333.5 373.9h3.6m-1.8-1.4v2.8M333.6 374.2h3.6m-1.8-1.4v2.8M333.7 374.2h3.6m-1.8-1.4v2.8M333.8 374.2h3.6m-1.8-1.4v2.8M333.9 373.7h3.6m-1.8-1.4v2.8M334.0 373.6h3.6m-1.8-1.4v2.8M334.1 373.6h3.6m-1.8-1.4v2.8M334.2 373.8h3.6m-1.8-1.4v2.8M334.3 373.8h3.6m-1.8-1.4v2.8M334.4 374.1h3.6m-1.8-1.4v2.8M334.5 373.5h3.6m-1.8-1.4v2.8M334.6 373.9h3.6m-1.8-1.4v2.8M334.7 374.2h3.6m-1.8-1.4v2.8M334.8 374.1h3.6m-1.8-1.4v2.8M334.9 374.0h3.6m-1.8-1.4v2.8M335.0 373.7h3.6m-1.8-1.4v2.8M335.1 374.1h3.6m-1.8-1.4v2.8M335.2 374.0h3.6m-1.8-1.4v2.8M335.3 373.3h3.6m-1.8-1.4v2.8M335.4 373.9h3.6m-1.8-1.4v2.8M335.5 373.7h3.6m-1.8-1.4v2.8M335.6 373.9h3.6m-1.8-1.4v2.8M335.7 374.0h3.6m-1.8-1.4v2.8M335.8 373.7h3.6m-1.8-1.4v2.8M335.9 373.8h3.6m-1.8-1.4v2.8M336.0 373.7h3.6m-1.8-1.4v2.8M336.1 373.8h3.6m-1.8-1.4v2.8M336.2 373.7h3.6m-1.8-1.4v2.8M336.3 373.6h3.6m-1.8-1.4v2.8M336.4 373.7h3.6m-1.8-1.4v2.8M336.5 374.1h3.6m-1.8-1.4v2.8M336.6 373.8h3.6m-1.8-1.4v2.8M336.7 373.8h3.6m-1.8-1.4v2.8M336.8 373.8h3.6m-1.8-1.4v2.8M336.9 373.8h3.6m-1.8-1.4v2.8M337.0 373.8h3.6m-1.8-1.4v2.8M337.1 374.2h3.6m-1.8-1.4v2.8M337.2 373.7h3.6m-1.8-1.4v2.8M337.3 373.9h3.6m-1.8-1.4v2.8M337.4 374.1h3.6m-1.8-1.4v2.8M337.5 373.8h3.6m-1.8-1.4v2.8M337.6 374.1h3.6m-1.8-1.4v2.8M337.7 373.6h3.6m-1.8-1.4v2.8M337.8 374.0h3.6m-1.8-1.4v2.8M337.9 374.1h3.6m-1.8-1.4v2.8M338.0 373.9h3.6m-1.8-1.4v2.8M338.1 373.6h3.6m-1.8-1.4v2.8M338.2 373.6h3.6m-1.8-1.4v2.8M338.3 373.6h3.6m-1.8-1.4v2.8M338.4 374.0h3.6m-1.8-1.4v2.8M338.5 374.1h3.6m-1.8-1.4v2.8M338.6 374.2h3.6m-1.8-1.4v2.8M338.7 373.9h3.6m-1.8-1.4v2.8M338.8 373.8h3.6m-1.8-1.4v2.8M338.9 373.8h3.6m-1.8-1.4v2.8M339.0 374.3h3.6m-1.8-1.4v2.8M339.1 374.3h3.6m-1.8-1.4v2.8M339.2 374.0h3.6m-1.8-1.4v2.8M339.3 373.7h3.6m-1.8-1.4v2.8M339.4 374.3h3.6m-1.8-1.4v2.8M339.5 374.2h3.6m-1.8-1.4v2.8M339.6 373.9h3.6m-1.8-1.4v2.8M339.7 374.4h3.6m-1.8-1.4v2.8M339.8 374.0h3.6m-1.8-1.4v2.8M339.9 374.7h3.6m-1.8-1.4v2.8M340.0 374.1h3.6m-1.8-1.4v2.8M340.1 374.1h3.6m-1.8-1.4v2.8M340.2 374.0h3.6m-1.8-1.4v2.8M340.3 374.3h3.6m-1.8-1.4v2.8M340.4 374.0h3.6m-1.8-1.4v2.8M340.5 373.8h3.6m-1.8-1.4v2.8M340.6 373.4h3.6m-1.8-1.4v2.8M340.7 373.8h3.6m-1.8-1.4v2.8M340.8 373.7h3.6m-1.8-1.4v2.8M340.9 374.2h3.6m-1.8-1.4v2.8M341.0 373.9h3.6m-1.8-1.4v2.8M341.1 373.8h3.6m-1.8-1.4v2.8M341.2 374.3h3.6m-1.8-1.4v2.8M341.3 373.7h3.6m-1.8-1.4v2.8M341.4 373.8h3.6m-1.8-1.4v2.8M341.5 374.0h3.6m-1.8-1.4v2.8M341.6 374.4h3.6m-1.8-1.4v2.8M88.6 338.1h4.2m-2.1-1.4v2.8M88.9 340.5h4.2m-2.1-1.4v2.8M88.5 342.8h4.2m-2.1-1.4v2.8M89.0 344.2h4.2m-2.1-1.4v2.8M88.4 346.0h4.2m-2.1-1.4v2.8M89.0 347.5h4.2m-2.1-1.4v2.8M88.3 350.7h4.2m-2.1-1.4v2.8M89.2 353.9h4.2m-2.1-1.4v2.8M88.1 356.2h4.2m-2.1-1.4v2.8M89.4 358.8h4.2m-2.1-1.4v2.8M111.1 242.2h4.2m-2.1-1.4v2.8M111.3 245.6h4.2m-2.1-1.4v2.8M111.1 247.3h4.2m-2.1-1.4v2.8M111.3 250.5h4.2m-2.1-1.4v2.8M111.0 253.2h4.2m-2.1-1.4v2.8M111.4 255.3h4.2m-2.1-1.4v2.8M111.0 258.3h4.2m-2.1-1.4v2.8M111.4 259.7h4.2m-2.1-1.4v2.8M111.0 262.8h4.2m-2.1-1.4v2.8M111.4 265.9h4.2m-2.1-1.4v2.8M111.0 267.5h4.2m-2.1-1.4v2.8M111.4 269.4h4.2m-2.1-1.4v2.8M110.9 272.8h4.2m-2.1-1.4v2.8M111.5 276.1h4.2m-2.1-1.4v2.8M110.9 278.7h4.2m-2.1-1.4v2.8M111.5 282.0h4.2m-2.1-1.4v2.8M110.9 283.6h4.2m-2.1-1.4v2.8M111.5 285.8h4.2m-2.1-1.4v2.8M110.9 288.9h4.2m-2.1-1.4v2.8M111.5 290.4h4.2m-2.1-1.4v2.8M110.9 292.5h4.2m-2.1-1.4v2.8M111.6 294.2h4.2m-2.1-1.4v2.8M110.8 296.7h4.2m-2.1-1.4v2.8M111.6 300.1h4.2m-2.1-1.4v2.8M110.8 302.5h4.2m-2.1-1.4v2.8M111.6 305.6h4.2m-2.1-1.4v2.8M110.8 307.1h4.2m-2.1-1.4v2.8M111.6 309.3h4.2m-2.1-1.4v2.8M110.7 312.7h4.2m-2.1-1.4v2.8M111.7 316.0h4.2m-2.1-1.4v2.8M110.7 317.9h4.2m-2.1-1.4v2.8M111.7 319.6h4.2m-2.1-1.4v2.8M110.7 321.5h4.2m-2.1-1.4v2.8M111.7 324.8h4.2m-2.1-1.4v2.8M110.7 326.5h4.2m-2.1-1.4v2.8M111.8 328.4h4.2m-2.1-1.4v2.8M110.6 330.4h4.2m-2.1-1.4v2.8M111.8 332.7h4.2m-2.1-1.4v2.8M110.6 335.7h4.2m-2.1-1.4v2.8M111.8 338.1h4.2m-2.1-1.4v2.8M110.5 341.1h4.2m-2.1-1.4v2.8M111.9 343.4h4.2m-2.1-1.4v2.8M110.4 346.5h4.2m-2.1-1.4v2.8M112.0 348.6h4.2m-2.1-1.4v2.8M110.3 351.2h4.2m-2.1-1.4v2.8M112.1 353.3h4.2m-2.1-1.4v2.8M110.2 355.6h4.2m-2.1-1.4v2.8M112.3 357.3h4.2m-2.1-1.4v2.8M109.9 360.5h4.2m-2.1-1.4v2.8M112.7 362.5h4.2m-2.1-1.4v2.8M128.2 353.9h4.2m-2.1-1.4v2.8M128.5 355.5h4.2m-2.1-1.4v2.8M128.0 358.7h4.2m-2.1-1.4v2.8M128.7 361.8h4.2m-2.1-1.4v2.8M127.8 364.4h4.2m-2.1-1.4v2.8M129.0 366.4h4.2m-2.1-1.4v2.8M143.0 341.4h4.2m-2.1-1.4v2.8M143.3 344.6h4.2m-2.1-1.4v2.8M142.9 347.7h4.2m-2.1-1.4v2.8M143.4 349.3h4.2m-2.1-1.4v2.8M142.8 351.4h4.2m-2.1-1.4v2.8M143.5 354.7h4.2m-2.1-1.4v2.8M142.6 357.7h4.2m-2.1-1.4v2.8M143.6 359.6h4.2m-2.1-1.4v2.8M142.5 361.8h4.2m-2.1-1.4v2.8M143.8 365.0h4.2m-2.1-1.4v2.8M142.2 366.5h4.2m-2.1-1.4v2.8M155.8 365.9h4.2m-2.1-1.4v2.8M156.5 368.0h4.2m-2.1-1.4v2.8M167.2 336.2h4.2m-2.1-1.4v2.8M167.5 338.6h4.2m-2.1-1.4v2.8M167.1 341.3h4.2m-2.1-1.4v2.8M167.6 344.2h4.2m-2.1-1.4v2.8M167.0 345.8h4.2m-2.1-1.4v2.8M167.6 348.4h4.2m-2.1-1.4v2.8M166.9 351.8h4.2m-2.1-1.4v2.8M167.8 355.1h4.2m-2.1-1.4v2.8M166.8 356.6h4.2m-2.1-1.4v2.8M167.8 359.1h4.2m-2.1-1.4v2.8M166.7 360.9h4.2m-2.1-1.4v2.8M168.0 364.3h4.2m-2.1-1.4v2.8M166.4 366.2h4.2m-2.1-1.4v2.8M187.8 359.7h4.2m-2.1-1.4v2.8M188.2 362.9h4.2m-2.1-1.4v2.8M187.5 364.5h4.2m-2.1-1.4v2.8M188.4 367.0h4.2m-2.1-1.4v2.8M206.0 363.2h4.2m-2.1-1.4v2.8M206.5 365.2h4.2m-2.1-1.4v2.8M205.7 368.2h4.2m-2.1-1.4v2.8M237.4 367.6h4.2m-2.1-1.4v2.8" stroke="#000" stroke-width="1" fill="none"/>
<polyline points="70.50,370.05 70.70,370.03 70.90,370.01 71.10,369.99 71.30,369.96 71.50,369.94 71.70,369.92 71.90,369.89 72.10,369.87 72.30,369.84 72.50,369.82 72.70,369.79 72.90,369.76 73.10,369.74 73.30,369.71 73.50,369.68 73.70,369.65 73.90,369.62 74.10,369.59 74.30,369.56 74.50,369.53 74.70,369.50 74.90,369.47 75.10,369.43 75.30,369.40 75.50,369.37 75.70,369.33 75.90,369.30 76.10,369.26 76.30,369.22 76.50,369.18 76.70,369.15 76.90,369.11 77.10,369.07 77.30,369.03 77.50,368.98 77.70,368.94 77.90,368.90 78.10,368.85 78.30,368.81 78.50,368.76 78.70,368.72 78.90,368.67 79.10,368.62 79.30,368.57 79.50,368.52 79.70,368.47 79.90,368.41 80.10,368.36 80.30,368.31 80.50,368.25 80.70,368.19 80.90,368.13 81.10,368.08 81.30,368.01 81.50,367.95 81.70,367.89 81.90,367.83 82.10,367.76 82.30,367.69 82.50,367.62 82.70,367.55 82.90,367.48 83.10,367.41 83.30,367.34 83.50,367.26 83.70,367.18 83.90,367.10 84.10,367.02 84.30,366.94 84.50,366.86 84.70,366.77 84.90,366.68 85.10,366.59 85.30,366.49 85.50,366.40 85.70,366.30 85.90,366.20 86.10,366.09 86.30,365.99 86.50,365.87 86.70,365.76 86.90,365.64 87.10,365.51 87.30,365.38 87.50,365.24 87.70,365.10 87.90,364.94 88.10,364.77 88.30,364.56 88.50,364.35 88.70,364.12 88.90,363.85 89.10,363.53 89.30,363.13 89.50,362.61 89.70,361.89 89.90,360.75 90.10,358.50 90.30,353.70 90.50,345.57 90.50,345.57 90.65,339.28 90.70,337.79 90.80,336.47 90.90,337.79 90.95,339.28 91.10,345.57 91.10,345.57 91.30,353.70 91.50,358.50 91.70,360.75 91.90,361.89 92.10,362.61 92.30,363.13 92.50,363.53 92.70,363.85 92.90,364.12 93.10,364.35 93.30,364.56 93.50,364.74 93.70,364.91 93.90,365.07 94.10,365.22 94.30,365.36 94.50,365.49 94.70,365.61 94.90,365.73 95.10,365.85 95.30,365.96 95.50,366.06 95.70,366.17 95.90,366.27 96.10,366.36 96.30,366.46 96.50,366.55 96.70,366.64 96.90,366.72 97.10,366.81 97.30,366.89 97.50,366.97 97.70,367.05 97.90,367.12 98.10,367.20 98.30,367.27 98.50,367.34 98.70,367.41 98.90,367.47 99.10,367.54 99.30,367.60 99.50,367.66 99.70,367.72 99.90,367.78 100.10,367.83 100.30,367.89 100.50,367.94 100.70,367.99 100.90,368.04 101.10,368.09 101.30,368.13 101.50,368.18 101.70,368.22 101.90,368.26 102.10,368.30 102.30,368.33 102.50,368.37 102.70,368.40 102.90,368.43 103.10,368.46 103.30,368.49 103.50,368.52 103.70,368.54 103.90,368.56 104.10,368.58 104.30,368.60 104.50,368.61 104.70,368.63 104.90,368.64 105.10,368.65 105.30,368.65 105.50,368.65 105.70,368.65 105.90,368.65 106.10,368.64 106.30,368.64 106.50,368.62 106.70,368.61 106.90,368.59 107.10,368.56 107.30,368.54 107.50,368.50 107.70,368.46 107.90,368.42 108.10,368.37 108.30,368.31 108.50,368.24 108.70,368.17 108.90,368.08 109.10,367.98 109.30,367.87 109.50,367.74 109.70,367.58 109.90,367.41 110.10,367.20 110.30,366.96 110.50,366.67 110.70,366.33 110.90,365.90 111.10,365.37 111.30,364.69 111.50,363.81 111.70,362.64 111.90,361.03 112.10,358.72 112.30,355.09 112.50,348.26 112.70,333.10 112.90,302.59 113.00,282.02 113.10,261.45 113.15,252.65 113.30,239.79 113.30,239.79 113.45,252.68 113.50,261.49 113.60,282.08 113.70,302.67 113.90,333.22 114.10,348.42 114.30,355.29 114.50,358.96 114.70,361.32 114.90,362.97 115.10,364.18 115.30,365.10 115.50,365.82 115.70,366.39 115.90,366.86 116.10,367.25 116.30,367.58 116.50,367.87 116.70,368.11 116.90,368.33 117.10,368.52 117.30,368.70 117.50,368.85 117.70,369.00 117.90,369.13 118.10,369.25 118.30,369.36 118.50,369.46 118.70,369.55 118.90,369.64 119.10,369.72 119.30,369.80 119.50,369.87 119.70,369.94 119.90,370.01 120.10,370.07 120.30,370.12 120.50,370.17 120.70,370.22 120.90,370.27 121.10,370.32 121.30,370.36 121.50,370.40 121.70,370.44 121.90,370.47 122.10,370.51 122.30,370.54 122.50,370.57 122.70,370.59 122.90,370.62 123.10,370.64 123.30,370.66 123.50,370.68 123.70,370.70 123.90,370.71 124.10,370.73 124.30,370.74 124.50,370.75 124.70,370.75 124.90,370.76 125.10,370.76 125.30,370.76 125.50,370.75 125.70,370.75 125.90,370.74 126.10,370.72 126.30,370.71 126.50,370.69 126.70,370.66 126.90,370.63 127.10,370.59 127.30,370.55 127.50,370.50 127.70,370.43 127.90,370.36 128.10,370.27 128.30,370.16 128.50,370.02 128.70,369.85 128.90,369.62 129.10,369.31 129.30,368.87 129.50,368.14 129.70,366.67 129.90,363.51 130.10,358.14 130.10,358.14 130.25,353.98 130.30,353.00 130.40,352.13 130.50,353.01 130.55,354.00 130.70,358.17 130.70,358.17 130.90,363.56 131.10,366.74 131.30,368.23 131.50,368.97 131.70,369.44 131.90,369.77 132.10,370.01 132.30,370.21 132.50,370.36 132.70,370.49 132.90,370.60 133.10,370.70 133.30,370.78 133.50,370.85 133.70,370.92 133.90,370.97 134.10,371.03 134.30,371.07 134.50,371.12 134.70,371.15 134.90,371.19 135.10,371.22 135.30,371.25 135.50,371.27 135.70,371.30 135.90,371.32 136.10,371.34 136.30,371.35 136.50,371.37 136.70,371.38 136.90,371.39 137.10,371.40 137.30,371.40 137.50,371.41 137.70,371.41 137.90,371.41 138.10,371.41 138.30,371.43 138.50,371.43 138.70,371.42 138.90,371.41 139.10,371.40 139.30,371.39 139.50,371.37 139.70,371.35 139.90,371.33 140.10,371.31 140.30,371.28 140.50,371.25 140.70,371.21 140.90,371.17 141.10,371.13 141.30,371.08 141.50,371.02 141.70,370.95 141.90,370.88 142.10,370.80 142.30,370.70 142.50,370.59 142.70,370.46 142.90,370.31 143.10,370.12 143.30,369.90 143.50,369.61 143.70,369.23 143.90,368.72 144.10,367.99 144.30,366.80 144.50,364.37 144.70,359.13 144.90,350.23 144.90,350.23 145.05,343.34 145.10,341.71 145.20,340.28 145.30,341.72 145.35,343.35 145.50,350.24 145.50,350.24 145.70,359.15 145.90,364.39 146.10,366.82 146.30,368.02 146.50,368.76 146.70,369.28 146.90,369.66 147.10,369.95 147.30,370.19 147.50,370.38 147.70,370.54 147.90,370.68 148.10,370.80 148.30,370.90 148.50,370.99 148.70,371.07 148.90,371.14 149.10,371.20 149.30,371.26 149.50,371.31 149.70,371.36 149.90,371.40 150.10,371.44 150.30,371.48 150.50,371.51 150.70,371.54 150.90,371.56 151.10,371.59 151.30,371.61 151.50,371.63 151.70,371.64 151.90,371.66 152.10,371.67 152.30,371.68 152.50,371.68 152.70,371.69 152.90,371.69 153.10,371.70 153.30,371.70 153.50,371.69 153.70,371.69 153.90,371.68 154.10,371.67 154.30,371.66 154.50,371.64 154.70,371.63 154.90,371.60 155.10,371.58 155.30,371.55 155.50,371.52 155.70,371.48 155.90,371.43 156.10,371.37 156.30,371.30 156.50,371.21 156.70,371.10 156.90,370.95 157.10,370.75 157.30,370.44 157.50,369.83 157.70,368.54 157.90,366.38 157.90,366.38 158.05,364.71 158.10,364.31 158.20,363.94 158.30,364.31 158.35,364.71 158.50,366.38 158.50,366.38 158.70,368.54 158.90,369.82 159.10,370.43 159.30,370.75 159.50,370.95 159.70,371.09 159.90,371.20 160.10,371.29 160.30,371.36 160.50,371.41 160.70,371.46 160.90,371.50 161.10,371.53 161.30,371.56 161.50,371.58 161.70,371.60 161.90,371.62 162.10,371.63 162.30,371.63 162.50,371.64 162.70,371.64 162.90,371.64 163.10,371.63 163.30,371.62 163.50,371.61 163.70,371.60 163.90,371.58 164.10,371.56 164.30,371.53 164.50,371.50 164.70,371.47 164.90,371.43 165.10,371.39 165.30,371.34 165.50,371.28 165.70,371.22 165.90,371.15 166.10,371.07 166.30,370.98 166.50,370.88 166.70,370.75 166.90,370.61 167.10,370.43 167.30,370.22 167.50,369.96 167.70,369.63 167.90,369.20 168.10,368.61 168.30,367.75 168.50,366.34 168.70,363.48 168.90,357.27 169.10,346.69 169.10,346.69 169.25,338.51 169.30,336.58 169.40,334.88 169.50,336.58 169.55,338.52 169.70,346.70 169.70,346.70 169.90,357.28 170.10,363.50 170.30,366.37 170.50,367.79 170.70,368.65 170.90,369.24 171.10,369.68 171.30,370.02 171.50,370.29 171.70,370.51 171.90,370.68 172.10,370.84 172.30,370.97 172.50,371.08 172.70,371.18 172.90,371.27 173.10,371.34 173.30,371.41 173.50,371.48 173.70,371.54 173.90,371.59 174.10,371.64 174.30,371.68 174.50,371.72 174.70,371.76 174.90,371.79 175.10,371.82 175.30,371.85 175.50,371.88 175.70,371.90 175.90,371.93 176.10,371.95 176.30,371.97 176.50,371.99 176.70,372.01 176.90,372.02 177.10,372.04 177.30,372.05 177.50,372.07 177.70,372.08 177.90,372.09 178.10,372.10 178.30,372.11 178.50,372.12 178.70,372.13 178.90,372.13 179.10,372.14 179.30,372.15 179.50,372.15 179.70,372.16 179.90,372.16 180.10,372.17 180.30,372.17 180.50,372.17 180.70,372.18 180.90,372.18 181.10,372.18 181.30,372.18 181.50,372.18 181.70,372.18 181.90,372.18 182.10,372.18 182.30,372.17 182.50,372.17 182.70,372.17 182.90,372.16 183.10,372.16 183.30,372.15 183.50,372.14 183.70,372.13 183.90,372.12 184.10,372.11 184.30,372.10 184.50,372.09 184.70,372.07 184.90,372.06 185.10,372.04 185.30,372.02 185.50,371.99 185.70,371.97 185.90,371.94 186.10,371.91 186.30,371.87 186.50,371.84 186.70,371.79 186.90,371.74 187.10,371.69 187.30,371.62 187.50,371.55 187.70,371.46 187.90,371.36 188.10,371.24 188.30,371.09 188.50,370.90 188.70,370.66 188.90,370.31 189.10,369.77 189.30,368.71 189.50,366.46 189.70,362.66 189.70,362.66 189.85,359.72 189.90,359.02 190.00,358.39 190.10,359.02 190.15,359.72 190.30,362.66 190.30,362.66 190.50,366.46 190.70,368.72 190.90,369.78 191.10,370.33 191.30,370.68 191.50,370.93 191.70,371.12 191.90,371.27 192.10,371.40 192.30,371.50 192.50,371.59 192.70,371.67 192.90,371.73 193.10,371.79 193.30,371.84 193.50,371.89 193.70,371.93 193.90,371.97 194.10,372.01 194.30,372.04 194.50,372.08 194.70,372.10 194.90,372.13 195.10,372.15 195.30,372.17 195.50,372.19 195.70,372.20 195.90,372.22 196.10,372.23 196.30,372.25 196.50,372.26 196.70,372.27 196.90,372.28 197.10,372.29 197.30,372.30 197.50,372.30 197.70,372.31 197.90,372.32 198.10,372.32 198.30,372.33 198.50,372.33 198.70,372.34 198.90,372.34 199.10,372.34 199.30,372.35 199.50,372.35 199.70,372.35 199.90,372.35 200.10,372.35 200.30,372.35 200.50,372.35 200.70,372.35 200.90,372.35 201.10,372.35 201.30,372.34 201.50,372.34 201.70,372.33 201.90,372.33 202.10,372.32 202.30,372.32 202.50,372.31 202.70,372.30 202.90,372.29 203.10,372.28 203.30,372.27 203.50,372.26 203.70,372.24 203.90,372.23 204.10,372.21 204.30,372.19 204.50,372.16 204.70,372.14 204.90,372.11 205.10,372.08 205.30,372.04 205.50,372.00 205.70,371.95 205.90,371.89 206.10,371.83 206.30,371.75 206.50,371.65 206.70,371.53 206.90,371.37 207.10,371.15 207.30,370.84 207.50,370.27 207.70,369.08 207.90,366.74 208.00,365.16 208.10,363.58 208.15,362.91 208.30,361.89 208.30,361.89 208.45,362.91 208.50,363.59 208.60,365.16 208.70,366.74 208.90,369.09 209.10,370.28 209.30,370.84 209.50,371.16 209.70,371.38 209.90,371.54 210.10,371.66 210.30,371.76 210.50,371.84 210.70,371.91 210.90,371.97 211.10,372.02 211.30,372.06 211.50,372.10 211.70,372.13 211.90,372.16 212.10,372.18 212.30,372.20 212.50,372.22 212.70,372.24 212.90,372.25 213.10,372.26 213.30,372.27 213.50,372.27 213.70,372.28 213.90,372.28 214.10,372.27 214.30,372.27 214.50,372.26 214.70,372.24 214.90,372.22 215.10,372.19 215.30,372.15 215.50,372.09 215.70,372.00 215.90,371.83 216.10,371.47 216.30,370.75 216.40,370.27 216.50,369.79 216.55,369.59 216.70,369.27 216.70,369.27 216.85,369.59 216.90,369.80 217.00,370.28 217.10,370.77 217.30,371.49 217.50,371.86 217.70,372.04 217.90,372.14 218.10,372.21 218.30,372.26 218.50,372.30 218.70,372.33 218.90,372.35 219.10,372.37 219.30,372.39 219.50,372.40 219.70,372.41 219.90,372.42 220.10,372.43 220.30,372.43 220.50,372.44 220.70,372.44 220.90,372.44 221.10,372.44 221.30,372.43 221.50,372.43 221.70,372.42 221.90,372.41 222.10,372.39 222.30,372.38 222.50,372.35 222.70,372.32 222.90,372.28 223.10,372.23 223.30,372.15 223.50,372.02 223.70,371.77 223.90,371.23 224.10,370.31 224.10,370.31 224.25,369.60 224.30,369.44 224.40,369.28 224.50,369.44 224.55,369.61 224.70,370.32 224.70,370.32 224.90,371.24 225.10,371.78 225.30,372.04 225.50,372.17 225.70,372.26 225.90,372.32 226.10,372.36 226.30,372.40 226.50,372.43 226.70,372.45 226.90,372.47 227.10,372.49 227.30,372.51 227.50,372.52 227.70,372.53 227.90,372.54 228.10,372.55 228.30,372.56 228.50,372.56 228.70,372.57 228.90,372.58 229.10,372.58 229.30,372.58 229.50,372.59 229.70,372.59 229.90,372.59 230.10,372.59 230.30,372.59 230.50,372.58 230.70,372.58 230.90,372.57 231.10,372.56 231.30,372.53 231.50,372.50 231.70,372.41 231.90,372.23 232.10,371.92 232.10,371.92 232.25,371.68 232.30,371.62 232.40,371.58 232.50,371.62 232.55,371.68 232.70,371.92 232.70,371.92 232.90,372.23 233.10,372.41 233.30,372.49 233.50,372.53 233.70,372.55 233.90,372.56 234.10,372.57 234.30,372.57 234.50,372.57 234.70,372.57 234.90,372.56 235.10,372.56 235.30,372.55 235.50,372.54 235.70,372.53 235.90,372.52 236.10,372.50 236.30,372.49 236.50,372.47 236.70,372.44 236.90,372.42 237.10,372.38 237.30,372.35 237.50,372.30 237.70,372.25 237.90,372.19 238.10,372.11 238.30,372.01 238.50,371.87 238.70,371.69 238.90,371.40 239.10,370.84 239.30,369.65 239.50,367.65 239.50,367.65 239.65,366.10 239.70,365.73 239.80,365.39 239.90,365.74 239.95,366.11 240.10,367.66 240.10,367.66 240.30,369.66 240.50,370.85 240.70,371.41 240.90,371.71 241.10,371.89 241.30,372.03 241.50,372.13 241.70,372.22 241.90,372.28 242.10,372.34 242.30,372.39 242.50,372.43 242.70,372.46 242.90,372.49 243.10,372.52 243.30,372.54 243.50,372.57 243.70,372.59 243.90,372.60 244.10,372.62 244.30,372.63 244.50,372.64 244.70,372.66 244.90,372.67 245.10,372.68 245.30,372.68 245.50,372.69 245.70,372.70 245.90,372.71 246.10,372.71 246.30,372.72 246.50,372.72 246.70,372.73 246.90,372.73 247.10,372.74 247.30,372.74 247.50,372.75 247.70,372.75 247.90,372.75 248.10,372.76 248.30,372.76 248.50,372.76 248.70,372.76 248.90,372.77 249.10,372.77 249.30,372.77 249.50,372.77 249.70,372.78 249.90,372.78 250.10,372.78 250.30,372.78 250.50,372.78 250.70,372.79 250.90,372.79 251.10,372.79 251.30,372.79 251.50,372.79 251.70,372.79 251.90,372.79 252.10,372.79 252.30,372.78 252.50,372.78 252.70,372.76 252.90,372.74 253.10,372.70 253.30,372.60 253.50,372.40 253.60,372.27 253.70,372.13 253.75,372.07 253.90,371.99 253.90,371.99 254.05,372.08 254.10,372.14 254.20,372.28 254.30,372.41 254.50,372.62 254.70,372.72 254.90,372.77 255.10,372.79 255.30,372.81 255.50,372.82 255.70,372.83 255.90,372.84 256.10,372.85 256.30,372.85 256.50,372.86 256.70,372.86 256.90,372.87 257.10,372.87 257.30,372.87 257.50,372.87 257.70,372.88 257.90,372.88 258.10,372.88 258.30,372.88 258.50,372.88 258.70,372.88 258.90,372.88 259.10,372.87 259.30,372.87 259.50,372.86 259.70,372.84 259.90,372.82 260.10,372.77 260.30,372.66 260.50,372.44 260.60,372.29 260.70,372.14 260.75,372.08 260.90,371.99 260.90,371.99 261.05,372.08 261.10,372.15 261.20,372.30 261.30,372.45 261.50,372.67 261.70,372.78 261.90,372.83 262.10,372.85 262.30,372.87 262.50,372.88 262.70,372.89 262.90,372.89 263.10,372.89 263.30,372.89 263.50,372.89 263.70,372.89 263.90,372.89 264.10,372.88 264.30,372.88 264.50,372.87 264.70,372.86 264.90,372.84 265.10,372.83 265.30,372.81 265.50,372.78 265.70,372.75 265.90,372.70 266.10,372.64 266.30,372.55 266.50,372.39 266.70,372.05 266.90,371.38 267.00,370.93 267.10,370.48 267.15,370.29 267.30,369.99 267.30,369.99 267.45,370.29 267.50,370.49 267.60,370.94 267.70,371.39 267.90,372.07 268.10,372.41 268.30,372.58 268.50,372.68 268.70,372.74 268.90,372.79 269.10,372.83 269.30,372.86 269.50,372.89 269.70,372.91 269.90,372.93 270.10,372.95 270.30,372.96 270.50,372.97 270.70,372.98 270.90,372.99 271.10,373.00 271.30,373.01 271.50,373.02 271.70,373.02 271.90,373.03 272.10,373.03 272.30,373.04 272.50,373.04 272.70,373.03 272.90,373.03 273.10,373.01 273.30,372.97 273.50,372.88 273.60,372.81 273.70,372.75 273.75,372.72 273.90,372.69 273.90,372.69 274.05,372.73 274.10,372.76 274.20,372.82 274.30,372.89 274.50,372.99 274.70,373.04 274.90,373.06 275.10,373.07 275.30,373.08 275.50,373.09 275.70,373.09 275.90,373.09 276.10,373.10 276.30,373.10 276.50,373.10 276.70,373.10 276.90,373.09 277.10,373.09 277.30,373.09 277.50,373.08 277.70,373.08 277.90,373.07 278.10,373.06 278.30,373.05 278.50,373.03 278.70,373.01 278.90,372.98 279.10,372.93 279.30,372.85 279.50,372.69 279.70,372.37 279.80,372.15 279.90,371.93 279.95,371.84 280.10,371.70 280.10,371.70 280.25,371.84 280.30,371.94 280.40,372.16 280.50,372.38 280.70,372.71 280.90,372.88 281.10,372.96 281.30,373.01 281.50,373.05 281.70,373.08 281.90,373.10 282.10,373.12 282.30,373.13 282.50,373.15 282.70,373.16 282.90,373.17 283.10,373.18 283.30,373.19 283.50,373.20 283.70,373.20 283.90,373.21 284.10,373.22 284.30,373.22 284.50,373.23 284.70,373.23 284.90,373.24 285.10,373.24 285.30,373.24 285.50,373.24 285.70,373.24 285.90,373.22 286.00,373.21 286.10,373.20 286.15,373.20 286.30,373.19 286.30,373.19 286.45,373.20 286.50,373.21 286.60,373.23 286.70,373.24 286.90,373.26 287.10,373.28 287.30,373.28 287.50,373.29 287.70,373.29 287.90,373.30 288.10,373.30 288.30,373.31 288.50,373.31 288.70,373.31 288.90,373.32 289.10,373.32 289.30,373.32 289.50,373.32 289.70,373.33 289.90,373.33 290.10,373.33 290.30,373.33 290.50,373.34 290.70,373.34 290.90,373.34 291.10,373.34 291.30,373.34 291.50,373.34 291.70,373.34 291.90,373.33 292.10,373.30 292.30,373.25 292.30,373.25 292.45,373.21 292.50,373.20 292.60,373.20 292.70,373.21 292.75,373.22 292.90,373.26 292.90,373.26 293.10,373.31 293.30,373.35 293.50,373.36 293.70,373.37 293.90,373.38 294.10,373.38 294.30,373.39 294.50,373.39 294.70,373.40 294.90,373.40 295.10,373.40 295.30,373.41 295.50,373.41 295.70,373.41 295.90,373.41 296.10,373.42 296.30,373.42 296.50,373.42 296.70,373.43 296.90,373.43 297.10,373.43 297.30,373.43 297.50,373.44 297.70,373.44 297.90,373.44 298.10,373.45 298.30,373.45 298.50,373.45 298.70,373.45 298.90,373.46 299.10,373.46 299.30,373.46 299.50,373.46 299.70,373.47 299.90,373.47 300.10,373.47 300.30,373.48 300.50,373.48 300.70,373.48 300.90,373.48 301.10,373.49 301.30,373.49 301.50,373.49 301.70,373.49 301.90,373.50 302.10,373.50 302.30,373.50 302.50,373.50 302.70,373.51 302.90,373.51 303.10,373.51 303.30,373.51 303.50,373.52 303.70,373.52 303.70,373.52 303.85,373.52 303.90,373.52 304.00,373.52 304.10,373.52 304.15,373.52 304.30,373.53 304.30,373.53 304.50,373.53 304.70,373.53 304.90,373.53 305.10,373.53 305.30,373.54 305.50,373.54 305.70,373.54 305.90,373.54 306.10,373.55 306.30,373.55 306.50,373.55 306.70,373.55 306.90,373.56 307.10,373.56 307.30,373.56 307.50,373.56 307.70,373.56 307.90,373.57 308.10,373.57 308.30,373.57 308.50,373.57 308.70,373.58 308.90,373.58 309.10,373.58 309.10,373.58 309.25,373.58 309.30,373.58 309.40,373.58 309.50,373.58 309.55,373.58 309.70,373.59 309.70,373.59 309.90,373.59 310.10,373.59 310.30,373.59 310.50,373.59 310.70,373.60 310.90,373.60 311.10,373.60 311.30,373.60 311.50,373.60 311.70,373.60 311.90,373.61 312.10,373.61 312.30,373.61 312.50,373.61 312.70,373.61 312.90,373.61 313.10,373.61 313.30,373.61 313.50,373.60 313.70,373.60 313.90,373.59 314.10,373.58 314.30,373.56 314.50,373.51 314.70,373.41 314.90,373.21 315.00,373.08 315.10,372.94 315.15,372.88 315.30,372.80 315.30,372.80 315.45,372.89 315.50,372.95 315.60,373.08 315.70,373.22 315.90,373.43 316.10,373.53 316.30,373.58 316.50,373.61 316.70,373.62 316.90,373.64 317.10,373.64 317.30,373.65 317.50,373.66 317.70,373.66 317.90,373.67 318.10,373.67 318.30,373.68 318.50,373.68 318.70,373.69 318.90,373.69 319.10,373.69 319.30,373.69 319.50,373.70 319.70,373.70 319.90,373.70 320.10,373.71 320.10,373.71 320.25,373.71 320.30,373.71 320.40,373.71 320.50,373.71 320.55,373.71 320.70,373.71 320.70,373.71 320.90,373.72 321.10,373.72 321.30,373.72 321.50,373.72 321.70,373.73 321.90,373.73 322.10,373.73 322.30,373.73 322.50,373.74 322.70,373.74 322.90,373.74 323.10,373.74 323.30,373.75 323.50,373.75 323.70,373.75 323.90,373.75 324.10,373.76 324.30,373.76 324.50,373.76 324.70,373.76 324.90,373.77 325.10,373.77 325.30,373.77 325.50,373.77 325.70,373.77 325.90,373.78 326.10,373.78 326.30,373.78 326.50,373.78 326.70,373.79 326.90,373.79 327.10,373.79 327.30,373.79 327.50,373.80 327.70,373.80 327.90,373.80 328.10,373.80 328.30,373.81 328.50,373.81 328.70,373.81 328.90,373.81 329.10,373.81 329.30,373.82 329.50,373.82 329.70,373.82 329.90,373.82 330.10,373.83 330.30,373.83 330.50,373.83 330.70,373.83 330.70,373.83 330.85,373.84 330.90,373.84 331.00,373.84 331.10,373.84 331.15,373.84 331.30,373.84 331.30,373.84 331.50,373.84 331.70,373.84 331.90,373.85 332.10,373.85 332.30,373.85 332.50,373.85 332.70,373.86 332.90,373.86 333.10,373.86 333.30,373.86 333.50,373.87 333.70,373.87 333.90,373.87 334.10,373.87 334.30,373.88 334.50,373.88 334.70,373.88 334.90,373.88 335.10,373.88 335.30,373.89 335.50,373.89 335.70,373.89 335.70,373.89 335.85,373.89 335.90,373.89 336.00,373.90 336.10,373.90 336.15,373.90 336.30,373.90 336.30,373.90 336.50,373.90 336.70,373.90 336.90,373.91 337.10,373.91 337.30,373.91 337.50,373.91 337.70,373.91 337.90,373.92 338.10,373.92 338.30,373.92 338.50,373.92 338.70,373.93 338.90,373.93 339.10,373.93 339.30,373.93 339.50,373.94 339.70,373.94 339.90,373.94 340.10,373.94 340.30,373.95 340.50,373.95 340.70,373.95 340.90,373.95 341.10,373.95 341.30,373.96 341.50,373.96 341.70,373.96 341.90,373.96 342.10,373.97 342.30,373.97 342.50,373.97 342.70,373.97 342.90,373.98 343.10,373.98 343.30,373.98 343.50,373.98" stroke="#f00" stroke-width="1.6" fill="none" stroke-linejoin="round"/>
<polyline points="70.50,378.66 71.00,378.58 71.50,378.35 72.00,378.39 72.50,378.57 73.00,378.50 73.50,378.59 74.00,378.46 74.50,378.49 75.00,378.68 75.50,378.50 76.00,378.68 76.50,378.46 77.00,378.55 77.50,378.53 78.00,378.65 78.50,378.56 79.00,378.50 79.50,378.37 80.00,378.77 80.50,378.59 81.00,378.51 81.50,378.43 82.00,378.68 82.50,378.29 83.00,378.45 83.50,378.65 84.00,378.61 84.50,378.50 85.00,378.59 85.50,378.77 86.00,378.49 86.50,378.41 87.00,378.50 87.50,378.44 88.00,378.61 88.50,378.55 89.00,378.62 89.50,378.26 90.00,378.47 90.20,378.51 90.50,377.50 90.50,377.65 90.70,377.60 90.90,378.36 91.00,378.83 91.10,379.14 91.30,379.02 91.50,378.72 91.60,378.64 92.00,378.57 92.50,378.51 93.00,378.53 93.50,378.33 94.00,378.47 94.50,378.42 95.00,378.77 95.50,378.45 96.00,378.63 96.50,378.39 97.00,378.37 97.50,378.53 98.00,378.49 98.50,378.54 99.00,378.52 99.50,378.59 100.00,378.57 100.50,378.30 101.00,378.44 101.50,378.60 102.00,378.38 102.50,378.37 103.00,378.47 103.50,378.52 104.00,378.58 104.50,378.46 105.00,378.55 105.50,378.44 106.00,378.44 106.50,378.61 107.00,378.48 107.50,378.50 108.00,378.41 108.50,378.52 109.00,378.63 109.50,378.19 110.00,378.43 110.50,378.51 111.00,378.52 111.50,378.70 112.00,378.62 112.50,378.74 112.70,378.31 113.00,375.25 113.00,375.38 113.20,375.13 113.40,378.65 113.50,379.61 113.60,380.58 113.80,380.74 114.00,379.38 114.10,378.63 114.50,378.58 115.00,378.27 115.50,378.47 116.00,378.34 116.50,378.55 117.00,378.45 117.50,378.46 118.00,378.34 118.50,378.40 119.00,378.43 119.50,378.54 120.00,378.56 120.50,378.61 121.00,378.63 121.50,378.46 122.00,378.51 122.50,378.64 123.00,378.49 123.50,378.27 124.00,378.60 124.50,378.59 125.00,378.60 125.50,378.53 126.00,378.43 126.50,378.52 127.00,378.65 127.50,378.66 128.00,378.55 128.50,378.70 129.00,378.55 129.50,378.56 129.80,378.53 130.00,378.39 130.10,378.07 130.30,378.06 130.50,378.39 130.50,378.41 130.70,378.88 130.90,378.75 131.00,378.91 131.20,378.61 131.50,378.38 132.00,378.58 132.50,378.60 133.00,378.76 133.50,378.52 134.00,378.41 134.50,378.46 135.00,378.55 135.50,378.56 136.00,378.49 136.50,378.43 137.00,378.55 137.50,378.34 138.00,378.52 138.50,378.49 139.00,378.66 139.50,378.46 140.00,378.42 140.50,378.62 141.00,378.49 141.50,378.23 142.00,378.38 142.50,378.50 143.00,378.51 143.50,378.50 144.00,378.55 144.50,378.71 144.60,378.56 144.90,377.64 145.00,377.50 145.10,377.64 145.30,378.56 145.50,379.06 145.50,379.06 145.70,379.28 146.00,378.63 146.00,378.46 146.50,378.54 147.00,378.58 147.50,378.37 148.00,378.31 148.50,378.53 149.00,378.39 149.50,378.48 150.00,378.50 150.50,378.45 151.00,378.44 151.50,378.47 152.00,378.42 152.50,378.50 153.00,378.39 153.50,378.48 154.00,378.46 154.50,378.40 155.00,378.63 155.50,378.60 156.00,378.34 156.50,378.60 157.00,378.49 157.50,378.48 157.60,378.46 157.90,378.28 158.00,378.39 158.10,378.22 158.30,378.40 158.50,378.57 158.50,378.72 158.70,378.66 159.00,378.50 159.00,378.60 159.50,378.59 160.00,378.49 160.50,378.41 161.00,378.50 161.50,378.53 162.00,378.45 162.50,378.57 163.00,378.49 163.50,378.49 164.00,378.63 164.50,378.48 165.00,378.55 165.50,378.51 166.00,378.46 166.50,378.50 167.00,378.52 167.50,378.61 168.00,378.54 168.50,378.49 168.80,378.41 169.00,377.81 169.10,377.59 169.30,377.91 169.50,378.43 169.50,378.32 169.70,378.98 169.90,379.25 170.00,378.97 170.20,378.81 170.50,378.36 171.00,378.45 171.50,378.30 172.00,378.65 172.50,378.44 173.00,378.58 173.50,378.66 174.00,378.51 174.50,378.75 175.00,378.56 175.50,378.73 176.00,378.40 176.50,378.36 177.00,378.53 177.50,378.63 178.00,378.14 178.50,378.45 179.00,378.44 179.50,378.31 180.00,378.63 180.50,378.49 181.00,378.39 181.50,378.39 182.00,378.40 182.50,378.54 183.00,378.47 183.50,378.54 184.00,378.59 184.50,378.47 185.00,378.56 185.50,378.41 186.00,378.48 186.50,378.53 187.00,378.42 187.50,378.50 188.00,378.36 188.50,378.65 189.00,378.54 189.40,378.45 189.50,378.34 189.70,377.90 189.90,378.29 190.00,378.14 190.10,378.52 190.30,378.58 190.50,378.80 190.50,378.75 190.80,378.58 191.00,378.39 191.50,378.32 192.00,378.53 192.50,378.42 193.00,378.55 193.50,378.44 194.00,378.76 194.50,378.31 195.00,378.55 195.50,378.45 196.00,378.40 196.50,378.38 197.00,378.58 197.50,378.34 198.00,378.48 198.50,378.53 199.00,378.63 199.50,378.50 200.00,378.40 200.50,378.31 201.00,378.58 201.50,378.41 202.00,378.37 202.50,378.65 203.00,378.60 203.50,378.50 204.00,378.44 204.50,378.61 205.00,378.73 205.50,378.29 206.00,378.55 206.50,378.73 207.00,378.60 207.50,378.43 207.70,378.43 208.00,378.18 208.00,378.09 208.20,378.28 208.40,378.86 208.50,378.70 208.60,378.69 208.80,378.81 209.00,378.36 209.10,378.66 209.50,378.77 210.00,378.59 210.50,378.56 211.00,378.52 211.50,378.44 212.00,378.43 212.50,378.60 213.00,378.38 213.50,378.50 214.00,378.50 214.50,378.63 215.00,378.34 215.50,378.55 216.00,378.52 216.10,378.51 216.40,378.44 216.50,378.24 216.60,378.38 216.80,378.33 217.00,378.61 217.00,378.58 217.20,378.68 217.50,378.44 217.50,378.39 218.00,378.66 218.50,378.55 219.00,378.81 219.50,378.47 220.00,378.42 220.50,378.50 221.00,378.36 221.50,378.49 222.00,378.56 222.50,378.58 223.00,378.62 223.50,378.26 223.80,378.61 224.00,378.36 224.10,378.55 224.30,378.54 224.50,378.34 224.50,378.36 224.70,378.35 224.90,378.42 225.00,378.35 225.20,378.47 225.50,378.43 226.00,378.35 226.50,378.38 227.00,378.45 227.50,378.38 228.00,378.66 228.50,378.53 229.00,378.60 229.50,378.27 230.00,378.39 230.50,378.42 231.00,378.51 231.50,378.58 231.80,378.51 232.00,378.46 232.10,378.38 232.30,378.51 232.50,378.18 232.50,378.73 232.70,378.70 232.90,378.60 233.00,378.51 233.20,378.46 233.50,378.53 234.00,378.59 234.50,378.56 235.00,378.61 235.50,378.62 236.00,378.18 236.50,378.38 237.00,378.45 237.50,378.41 238.00,378.44 238.50,378.40 239.00,378.46 239.20,378.35 239.50,378.32 239.50,378.17 239.70,378.27 239.90,378.40 240.00,378.49 240.10,378.54 240.30,378.71 240.50,378.51 240.60,378.52 241.00,378.39 241.50,378.37 242.00,378.56 242.50,378.75 243.00,378.39 243.50,378.30 244.00,378.23 244.50,378.63 245.00,378.50 245.50,378.65 246.00,378.40 246.50,378.48 247.00,378.21 247.50,378.54 248.00,378.70 248.50,378.52 249.00,378.58 249.50,378.62 250.00,378.46 250.50,378.36 251.00,378.60 251.50,378.31 252.00,378.59 252.50,378.51 253.00,378.48 253.30,378.31 253.50,378.45 253.60,378.48 253.80,378.52 254.00,378.59 254.00,378.31 254.20,378.49 254.40,378.51 254.50,378.68 254.70,378.43 255.00,378.41 255.50,378.55 256.00,378.43 256.50,378.51 257.00,378.41 257.50,378.51 258.00,378.37 258.50,378.39 259.00,378.70 259.50,378.35 260.00,378.65 260.30,378.45 260.50,378.49 260.60,378.45 260.80,378.56 261.00,378.51 261.00,378.52 261.20,378.39 261.40,378.44 261.50,378.47 261.70,378.40 262.00,378.73 262.50,378.54 263.00,378.50 263.50,378.27 264.00,378.42 264.50,378.54 265.00,378.54 265.50,378.48 266.00,378.44 266.50,378.48 266.70,378.40 267.00,378.69 267.00,378.53 267.20,378.33 267.40,378.62 267.50,378.60 267.60,378.74 267.80,378.42 268.00,378.61 268.10,378.54 268.50,378.46 269.00,378.50 269.50,378.39 270.00,378.61 270.50,378.48 271.00,378.70 271.50,378.59 272.00,378.47 272.50,378.31 273.00,378.48 273.30,378.57 273.50,378.62 273.60,378.28 273.80,378.39 274.00,378.28 274.00,378.38 274.20,378.49 274.40,378.44 274.50,378.51 274.70,378.36 275.00,378.37 275.50,378.45 276.00,378.39 276.50,378.44 277.00,378.29 277.50,378.61 278.00,378.53 278.50,378.61 279.00,378.49 279.50,378.50 279.50,378.61 279.80,378.53 280.00,378.62 280.00,378.45 280.20,378.50 280.40,378.56 280.50,378.47 280.60,378.81 280.90,378.43 281.00,378.72 281.50,378.46 282.00,378.47 282.50,378.61 283.00,378.43 283.50,378.74 284.00,378.56 284.50,378.46 285.00,378.46 285.50,378.40 285.70,378.57 286.00,378.53 286.00,378.66 286.20,378.61 286.40,378.36 286.50,378.61 286.60,378.81 286.80,378.45 287.00,378.45 287.10,378.66 287.50,378.27 288.00,378.67 288.50,378.20 289.00,378.46 289.50,378.49 290.00,378.65 290.50,378.40 291.00,378.87 291.50,378.49 292.00,378.47 292.00,378.45 292.30,378.54 292.50,378.46 292.50,378.39 292.70,378.56 292.90,378.56 293.00,378.59 293.10,378.49 293.40,378.43 293.50,378.46 294.00,378.43 294.50,378.67 295.00,378.71 295.50,378.50 296.00,378.51 296.50,378.39 297.00,378.40 297.50,378.22 298.00,378.38 298.50,378.46 299.00,378.65 299.50,378.53 300.00,378.42 300.50,378.42 301.00,378.43 301.50,378.53 302.00,378.49 302.50,378.57 303.00,378.68 303.40,378.65 303.50,378.59 303.70,378.41 303.90,378.65 304.00,378.38 304.10,378.36 304.30,378.56 304.50,378.47 304.50,378.59 304.80,378.54 305.00,378.61 305.50,378.53 306.00,378.58 306.50,378.49 307.00,378.48 307.50,378.52 308.00,378.47 308.50,378.38 308.80,378.22 309.00,378.45 309.10,378.48 309.30,378.67 309.50,378.51 309.50,378.78 309.70,378.61 309.90,378.49 310.00,378.57 310.20,378.47 310.50,378.62 311.00,378.53 311.50,378.47 312.00,378.57 312.50,378.47 313.00,378.58 313.50,378.40 314.00,378.66 314.50,378.52 314.70,378.65 315.00,378.56 315.00,378.36 315.20,378.55 315.40,378.55 315.50,378.58 315.60,378.58 315.80,378.48 316.00,378.32 316.10,378.47 316.50,378.51 317.00,378.24 317.50,378.37 318.00,378.36 318.50,378.55 319.00,378.37 319.50,378.46 319.80,378.54 320.00,378.49 320.10,378.25 320.30,378.63 320.50,378.72 320.50,378.66 320.70,378.37 320.90,378.45 321.00,378.77 321.20,378.34 321.50,378.55 322.00,378.57 322.50,378.60 323.00,378.54 323.50,378.39 324.00,378.47 324.50,378.48 325.00,378.48 325.50,378.63 326.00,378.53 326.50,378.45 327.00,378.62 327.50,378.40 328.00,378.38 328.50,378.55 329.00,378.51 329.50,378.70 330.00,378.53 330.40,378.71 330.50,378.42 330.70,378.31 330.90,378.57 331.00,378.46 331.10,378.48 331.30,378.67 331.50,378.59 331.50,378.32 331.80,378.48 332.00,378.43 332.50,378.56 333.00,378.53 333.50,378.64 334.00,378.35 334.50,378.53 335.00,378.31 335.40,378.53 335.50,378.72 335.70,378.64 335.90,378.55 336.00,378.62 336.10,378.50 336.30,378.51 336.50,378.50 336.50,378.50 336.80,378.43 337.00,378.50 337.50,378.40 338.00,378.38 338.50,378.56 339.00,378.44 339.50,378.46 340.00,378.68 340.50,378.56 341.00,378.28 341.50,378.70 342.00,378.38 342.50,378.64 343.00,378.51 343.50,378.37" stroke="#1a1aff" stroke-width="1.6" fill="none" stroke-linejoin="round"/>
<path d="M91.20 382.3V390.3M113.20 382.3V390.3M130.50 382.3V390.3M144.90 382.3V390.3M158.00 382.3V390.3M169.70 382.3V390.3M189.80 382.3V390.3M199.30 382.3V390.3M208.20 382.3V390.3M216.80 382.3V390.3M224.60 382.3V390.3M232.40 382.3V390.3M240.20 382.3V390.3M253.90 382.3V390.3M260.90 382.3V390.3M267.30 382.3V390.3M273.90 382.3V390.3M280.10 382.3V390.3M286.30 382.3V390.3M292.60 382.3V390.3M304.00 382.3V390.3M309.40 382.3V390.3M315.00 382.3V390.3M320.40 382.3V390.3M331.00 382.3V390.3M336.00 382.3V390.3" stroke="#ff19f0" stroke-width="1.6" fill="none"/>
<path d="M92.50 393.6V401.8M115.50 393.6V401.8M132.80 393.6V401.8M148.10 393.6V401.8M161.50 393.6V401.8M173.00 393.6V401.8M194.20 393.6V401.8M203.90 393.6V401.8M212.60 393.6V401.8M221.40 393.6V401.8M229.60 393.6V401.8M237.50 393.6V401.8M245.00 393.6V401.8M259.80 393.6V401.8M266.90 393.6V401.8M273.60 393.6V401.8M279.90 393.6V401.8M286.30 393.6V401.8M292.80 393.6V401.8M298.50 393.6V401.8M311.00 393.6V401.8M316.30 393.6V401.8M322.00 393.6V401.8M327.80 393.6V401.8M338.40 393.6V401.8" stroke="#19e619" stroke-width="1.6" fill="none"/>
<path d="M89.90 403.9V412.2M111.50 403.9V412.2M128.80 403.9V412.2M142.60 403.9V412.2M155.70 403.9V412.2M167.00 403.9V412.2M186.80 403.9V412.2M195.60 403.9V412.2M204.40 403.9V412.2M212.60 403.9V412.2M220.20 403.9V412.2M227.90 403.9V412.2M235.30 403.9V412.2M249.50 403.9V412.2M255.80 403.9V412.2M262.20 403.9V412.2M268.20 403.9V412.2M274.10 403.9V412.2M280.40 403.9V412.2M286.30 403.9V412.2M297.40 403.9V412.2M302.80 403.9V412.2M308.10 403.9V412.2M313.80 403.9V412.2M324.20 403.9V412.2M329.10 403.9V412.2M338.90 403.9V412.2" stroke="#19f0ff" stroke-width="1.6" fill="none"/>
<rect x="70" y="2.4" width="274.70" height="205.30" fill="none" stroke="#000" stroke-width="1.75"/>
<path d="M70 173.60h9.5M70 127.66h9.5M70 81.72h9.5M70 35.78h9.5M70 196.57h5M70 150.63h5M70 104.69h5M70 58.75h5M70 12.81h5M91.30 207.7v-9.5M145.45 207.7v-9.5M199.60 207.7v-9.5M253.75 207.7v-9.5M307.90 207.7v-9.5M118.38 207.7v-5M172.52 207.7v-5M226.68 207.7v-5M280.82 207.7v-5M334.98 207.7v-5" stroke="#000" stroke-width="2" fill="none"/>
<rect x="69.5" y="222.3" width="275.00" height="204.80" fill="none" stroke="#000" stroke-width="1.75"/>
<path d="M69.5 377.20h9.5M69.5 299.86h9.5M69.5 222.52h9.5M69.5 415.87h5M69.5 338.53h5M69.5 261.19h5M91.30 427.1v-9.5M145.45 427.1v-9.5M199.60 427.1v-9.5M253.75 427.1v-9.5M307.90 427.1v-9.5M118.38 427.1v-5M172.52 427.1v-5M226.68 427.1v-5M280.82 427.1v-5M334.98 427.1v-5" stroke="#000" stroke-width="2" fill="none"/>
<text x="59.9" y="179.50" font-family="'Liberation Serif', serif" font-size="20.4" text-anchor="end">0</text>
<text x="59.9" y="133.56" font-family="'Liberation Serif', serif" font-size="20.4" text-anchor="end">200</text>
<text x="59.9" y="87.62" font-family="'Liberation Serif', serif" font-size="20.4" text-anchor="end">400</text>
<text x="59.9" y="41.68" font-family="'Liberation Serif', serif" font-size="20.4" text-anchor="end">600</text>
<text x="59.9" y="383.10" font-family="'Liberation Serif', serif" font-size="20.4" text-anchor="end">0</text>
<text x="59.9" y="305.76" font-family="'Liberation Serif', serif" font-size="20.4" text-anchor="end">200</text>
<text x="59.9" y="228.42" font-family="'Liberation Serif', serif" font-size="20.4" text-anchor="end">400</text>
<text x="91.00" y="452.6" font-family="'Liberation Serif', serif" font-size="20.4" text-anchor="middle">5</text>
<text x="145.15" y="452.6" font-family="'Liberation Serif', serif" font-size="20.4" text-anchor="middle">10</text>
<text x="199.30" y="452.6" font-family="'Liberation Serif', serif" font-size="20.4" text-anchor="middle">15</text>
<text x="253.45" y="452.6" font-family="'Liberation Serif', serif" font-size="20.4" text-anchor="middle">20</text>
<text x="307.60" y="452.6" font-family="'Liberation Serif', serif" font-size="20.4" text-anchor="middle">25</text>
<text transform="translate(19.0 89.2) rotate(-90) scale(1 0.93)" font-family="'Liberation Serif', serif" font-size="24.3" text-anchor="middle">Intensity(a.u.)</text>
<text transform="translate(19.0 315) rotate(-90) scale(1 0.93)" font-family="'Liberation Serif', serif" font-size="24.3" text-anchor="middle">Intensity(a.u.)</text>
<text x="175.3" y="478.6" font-family="'Liberation Serif', serif" font-size="24.9">2<tspan font-style="italic" dx="1.8">θ</tspan><tspan dx="2.6">(deg.)</tspan></text>
<text x="82" y="15.5" font-family="'Liberation Sans', sans-serif" font-size="11.6">(a)</text>
<text x="81.8" y="236.4" font-family="'Liberation Sans', sans-serif" font-size="11.6">(b)</text>
<rect x="155.2" y="9.0" width="103.70" height="77.90" fill="#fff" stroke="#000" stroke-width="1.4"/>
<path d="M159.50 86.9v-3.5M159.50 9.0v3.5M169.01 86.9v-2.3M169.01 9.0v2.3M178.52 86.9v-3.5M178.52 9.0v3.5M188.03 86.9v-2.3M188.03 9.0v2.3M197.54 86.9v-3.5M197.54 9.0v3.5M207.05 86.9v-2.3M207.05 9.0v2.3M216.56 86.9v-3.5M216.56 9.0v3.5M226.07 86.9v-2.3M226.07 9.0v2.3M235.58 86.9v-3.5M235.58 9.0v3.5M245.09 86.9v-2.3M245.09 9.0v2.3M254.60 86.9v-3.5M254.60 9.0v3.5M155.2 14.63h2.5M258.9 14.63h-2.5M155.2 20.27h3.8M258.9 20.27h-3.8M155.2 25.91h2.5M258.9 25.91h-2.5M155.2 31.54h3.8M258.9 31.54h-3.8M155.2 37.17h2.5M258.9 37.17h-2.5M155.2 42.81h3.8M258.9 42.81h-3.8M155.2 48.45h2.5M258.9 48.45h-2.5M155.2 54.08h3.8M258.9 54.08h-3.8M155.2 59.71h2.5M258.9 59.71h-2.5M155.2 65.35h3.8M258.9 65.35h-3.8M155.2 70.98h2.5M258.9 70.98h-2.5M155.2 76.62h3.8M258.9 76.62h-3.8M155.2 82.25h2.5M258.9 82.25h-2.5" stroke="#000" stroke-width="1.2" fill="none"/>
<polyline points="159.50,34.58 179.00,54.53 188.03,63.55 197.54,72.79 203.53,76.73 206.10,77.07 208.38,77.52 212.28,76.73 216.56,74.14 226.07,64.22 235.58,49.23 254.60,13.85" stroke="#000" stroke-width="1.1" fill="none"/>
<rect x="157.75" y="32.83" width="3.5" height="3.5" fill="#fff" stroke="#000" stroke-width="1.05"/>
<rect x="177.25" y="52.78" width="3.5" height="3.5" fill="#fff" stroke="#000" stroke-width="1.05"/>
<rect x="186.28" y="61.80" width="3.5" height="3.5" fill="#fff" stroke="#000" stroke-width="1.05"/>
<rect x="195.79" y="71.04" width="3.5" height="3.5" fill="#fff" stroke="#000" stroke-width="1.05"/>
<rect x="201.78" y="74.98" width="3.5" height="3.5" fill="#fff" stroke="#000" stroke-width="1.05"/>
<rect x="204.35" y="75.32" width="3.5" height="3.5" fill="#fff" stroke="#000" stroke-width="1.05"/>
<rect x="206.63" y="75.77" width="3.5" height="3.5" fill="#fff" stroke="#000" stroke-width="1.05"/>
<rect x="210.53" y="74.98" width="3.5" height="3.5" fill="#fff" stroke="#000" stroke-width="1.05"/>
<rect x="214.81" y="72.39" width="3.5" height="3.5" fill="#fff" stroke="#000" stroke-width="1.05"/>
<rect x="224.32" y="62.47" width="3.5" height="3.5" fill="#fff" stroke="#000" stroke-width="1.05"/>
<rect x="233.83" y="47.48" width="3.5" height="3.5" fill="#fff" stroke="#000" stroke-width="1.05"/>
<rect x="252.85" y="12.10" width="3.5" height="3.5" fill="#fff" stroke="#000" stroke-width="1.05"/>
<text x="151.70" y="80.22" font-family="'Liberation Serif', serif" font-size="11" text-anchor="end">3</text>
<text x="151.70" y="68.95" font-family="'Liberation Serif', serif" font-size="11" text-anchor="end">4</text>
<text x="151.70" y="57.68" font-family="'Liberation Serif', serif" font-size="11" text-anchor="end">5</text>
<text x="151.70" y="46.41" font-family="'Liberation Serif', serif" font-size="11" text-anchor="end">6</text>
<text x="151.70" y="35.14" font-family="'Liberation Serif', serif" font-size="11" text-anchor="end">7</text>
<text x="151.70" y="23.87" font-family="'Liberation Serif', serif" font-size="11" text-anchor="end">8</text>
<text x="151.70" y="12.60" font-family="'Liberation Serif', serif" font-size="11" text-anchor="end">9</text>
<text x="159.50" y="99.40" font-family="'Liberation Serif', serif" font-size="11" text-anchor="middle">0.0</text>
<text x="178.52" y="99.40" font-family="'Liberation Serif', serif" font-size="11" text-anchor="middle">0.2</text>
<text x="197.54" y="99.40" font-family="'Liberation Serif', serif" font-size="11" text-anchor="middle">0.4</text>
<text x="216.56" y="99.40" font-family="'Liberation Serif', serif" font-size="11" text-anchor="middle">0.6</text>
<text x="235.58" y="99.40" font-family="'Liberation Serif', serif" font-size="11" text-anchor="middle">0.8</text>
<text x="254.60" y="99.40" font-family="'Liberation Serif', serif" font-size="11" text-anchor="middle">1.0</text>
<text transform="translate(138.8 51) rotate(-90)" font-family="'Liberation Serif', serif" font-size="11" text-anchor="middle"><tspan font-style="italic">R</tspan><tspan font-size="6.8" dy="2">WP</tspan><tspan dy="-2"> (%)</tspan></text>
<text x="167.5" y="113.3" font-family="'Liberation Serif', serif" font-size="11"><tspan font-style="italic">x</tspan> in Pb(Zr<tspan font-size="5.8" dy="2.3" dx="0.3">1-<tspan font-style="italic">x</tspan></tspan><tspan dy="-2.3" dx="0.5">Ti</tspan><tspan font-size="5.8" dy="2.3" font-style="italic">x</tspan><tspan dy="-2.3">)O</tspan><tspan font-size="6" dy="2.3">3</tspan></text>
<rect x="158.3" y="230.0" width="102.00" height="75.60" fill="#fff" stroke="#000" stroke-width="1.4"/>
<path d="M162.50 305.6v-3.5M162.50 230.0v3.5M171.82 305.6v-2.3M171.82 230.0v2.3M181.14 305.6v-3.5M181.14 230.0v3.5M190.46 305.6v-2.3M190.46 230.0v2.3M199.78 305.6v-3.5M199.78 230.0v3.5M209.10 305.6v-2.3M209.10 230.0v2.3M218.42 305.6v-3.5M218.42 230.0v3.5M227.74 305.6v-2.3M227.74 230.0v2.3M237.06 305.6v-3.5M237.06 230.0v3.5M246.38 305.6v-2.3M246.38 230.0v2.3M255.70 305.6v-3.5M255.70 230.0v3.5M158.3 235.40h2.5M260.3 235.40h-2.5M158.3 240.80h3.8M260.3 240.80h-3.8M158.3 246.20h2.5M260.3 246.20h-2.5M158.3 251.60h3.8M260.3 251.60h-3.8M158.3 257.00h2.5M260.3 257.00h-2.5M158.3 262.40h3.8M260.3 262.40h-3.8M158.3 267.80h2.5M260.3 267.80h-2.5M158.3 273.20h3.8M260.3 273.20h-3.8M158.3 278.60h2.5M260.3 278.60h-2.5M158.3 284.00h3.8M260.3 284.00h-3.8M158.3 289.40h2.5M260.3 289.40h-2.5M158.3 294.80h3.8M260.3 294.80h-3.8M158.3 300.20h2.5M260.3 300.20h-2.5" stroke="#000" stroke-width="1.2" fill="none"/>
<polyline points="162.50,260.89 181.14,279.25 199.78,295.56 205.37,298.47 207.98,298.80 210.59,298.80 212.73,298.47 218.42,295.56 237.06,272.34 255.70,238.32" stroke="#000" stroke-width="1.1" fill="none"/>
<rect x="160.75" y="259.14" width="3.5" height="3.5" fill="#fff" stroke="#000" stroke-width="1.05"/>
<rect x="179.39" y="277.50" width="3.5" height="3.5" fill="#fff" stroke="#000" stroke-width="1.05"/>
<rect x="198.03" y="293.81" width="3.5" height="3.5" fill="#fff" stroke="#000" stroke-width="1.05"/>
<rect x="203.62" y="296.72" width="3.5" height="3.5" fill="#fff" stroke="#000" stroke-width="1.05"/>
<rect x="206.23" y="297.05" width="3.5" height="3.5" fill="#fff" stroke="#000" stroke-width="1.05"/>
<rect x="208.84" y="297.05" width="3.5" height="3.5" fill="#fff" stroke="#000" stroke-width="1.05"/>
<rect x="210.98" y="296.72" width="3.5" height="3.5" fill="#fff" stroke="#000" stroke-width="1.05"/>
<rect x="216.67" y="293.81" width="3.5" height="3.5" fill="#fff" stroke="#000" stroke-width="1.05"/>
<rect x="235.31" y="270.59" width="3.5" height="3.5" fill="#fff" stroke="#000" stroke-width="1.05"/>
<rect x="253.95" y="236.57" width="3.5" height="3.5" fill="#fff" stroke="#000" stroke-width="1.05"/>
<text x="154.80" y="309.20" font-family="'Liberation Serif', serif" font-size="11" text-anchor="end">3</text>
<text x="154.80" y="298.40" font-family="'Liberation Serif', serif" font-size="11" text-anchor="end">4</text>
<text x="154.80" y="287.60" font-family="'Liberation Serif', serif" font-size="11" text-anchor="end">5</text>
<text x="154.80" y="276.80" font-family="'Liberation Serif', serif" font-size="11" text-anchor="end">6</text>
<text x="154.80" y="266.00" font-family="'Liberation Serif', serif" font-size="11" text-anchor="end">7</text>
<text x="154.80" y="255.20" font-family="'Liberation Serif', serif" font-size="11" text-anchor="end">8</text>
<text x="154.80" y="244.40" font-family="'Liberation Serif', serif" font-size="11" text-anchor="end">9</text>
<text x="154.80" y="233.60" font-family="'Liberation Serif', serif" font-size="11" text-anchor="end">10</text>
<text x="162.50" y="318.10" font-family="'Liberation Serif', serif" font-size="11" text-anchor="middle">0.0</text>
<text x="181.14" y="318.10" font-family="'Liberation Serif', serif" font-size="11" text-anchor="middle">0.2</text>
<text x="199.78" y="318.10" font-family="'Liberation Serif', serif" font-size="11" text-anchor="middle">0.4</text>
<text x="218.42" y="318.10" font-family="'Liberation Serif', serif" font-size="11" text-anchor="middle">0.6</text>
<text x="237.06" y="318.10" font-family="'Liberation Serif', serif" font-size="11" text-anchor="middle">0.8</text>
<text x="255.70" y="318.10" font-family="'Liberation Serif', serif" font-size="11" text-anchor="middle">1.0</text>
<text transform="translate(140.6 274.5) rotate(-90)" font-family="'Liberation Serif', serif" font-size="11" text-anchor="middle"><tspan font-style="italic">R</tspan><tspan font-size="6.8" dy="2">WP</tspan><tspan dy="-2"> (%)</tspan></text>
<text x="172.5" y="329.3" font-family="'Liberation Serif', serif" font-size="11"><tspan font-style="italic">x</tspan> in Pb(Zr<tspan font-size="5.8" dy="2.3" dx="0.3">1-<tspan font-style="italic">x</tspan></tspan><tspan dy="-2.3" dx="0.5">Ti</tspan><tspan font-size="5.8" dy="2.3" font-style="italic">x</tspan><tspan dy="-2.3">)O</tspan><tspan font-size="6" dy="2.3">3</tspan></text>
<path d="M286.2 18.5h3.2M287.8 16.9v3.2" stroke="#000" stroke-width="0.9"/>
<text font-family="'Liberation Serif', serif" font-size="15.3"><tspan x="307.1" y="23.2" font-style="italic">I</tspan><tspan font-size="8.4" dy="4.6">obs</tspan></text>
<path d="M271.2 40.0H304.5" stroke="#f00" stroke-width="1.5"/>
<text font-family="'Liberation Serif', serif" font-size="15.3"><tspan x="307.1" y="44.5" font-style="italic">I</tspan><tspan font-size="8.4" dy="4.6">cal</tspan></text>
<path d="M271.2 62.1H304.5" stroke="#1a1aff" stroke-width="1.5"/>
<text font-family="'Liberation Serif', serif" font-size="15.3"><tspan x="307.1" y="66.7" font-style="italic">I</tspan><tspan font-size="8.4" dy="4.6">obs</tspan><tspan dy="-4.6">-</tspan><tspan font-style="italic">I</tspan><tspan font-size="8.4" dy="4.6">cal</tspan></text>
<path d="M287.8 80.60000000000001v7.2" stroke="#ff19f0" stroke-width="1.6"/>
<text x="307.40000000000003" y="88.5" font-family="'Liberation Serif', serif" font-size="14.6" textLength="21.2" lengthAdjust="spacingAndGlyphs">PZT</text>
<path d="M284.09999999999997 234.4h2.2M285.2 233.3v2.2" stroke="#000" stroke-width="0.9"/>
<text font-family="'Liberation Serif', serif" font-size="14.3"><tspan x="305.3" y="239.1" font-style="italic">I</tspan><tspan font-size="8.0" dy="4.6">obs</tspan></text>
<path d="M268.7 256.1H301.8" stroke="#f00" stroke-width="1.5"/>
<text font-family="'Liberation Serif', serif" font-size="14.3"><tspan x="305.3" y="260.6" font-style="italic">I</tspan><tspan font-size="8.0" dy="4.6">cal</tspan></text>
<path d="M268.7 277.7H301.8" stroke="#1a1aff" stroke-width="1.5"/>
<text font-family="'Liberation Serif', serif" font-size="14.3"><tspan x="305.3" y="282.3" font-style="italic">I</tspan><tspan font-size="8.0" dy="4.6">obs</tspan><tspan dy="-4.6">-</tspan><tspan font-style="italic">I</tspan><tspan font-size="8.0" dy="4.6">cal</tspan></text>
<path d="M285.2 295.9v7.2" stroke="#ff19f0" stroke-width="1.6"/>
<text x="305.6" y="303.8" font-family="'Liberation Serif', serif" font-size="13.8">PZT</text>
<path d="M285.2 313.7v7.2" stroke="#19f0ff" stroke-width="1.6"/>
<text x="305.6" y="321.6" font-family="'Liberation Serif', serif" font-size="13.8">PZ</text>
<path d="M285.2 331.59999999999997v7.2" stroke="#19e619" stroke-width="1.6"/>
<text x="305.6" y="339.5" font-family="'Liberation Serif', serif" font-size="13.8">PT</text>
</svg></body></html>
